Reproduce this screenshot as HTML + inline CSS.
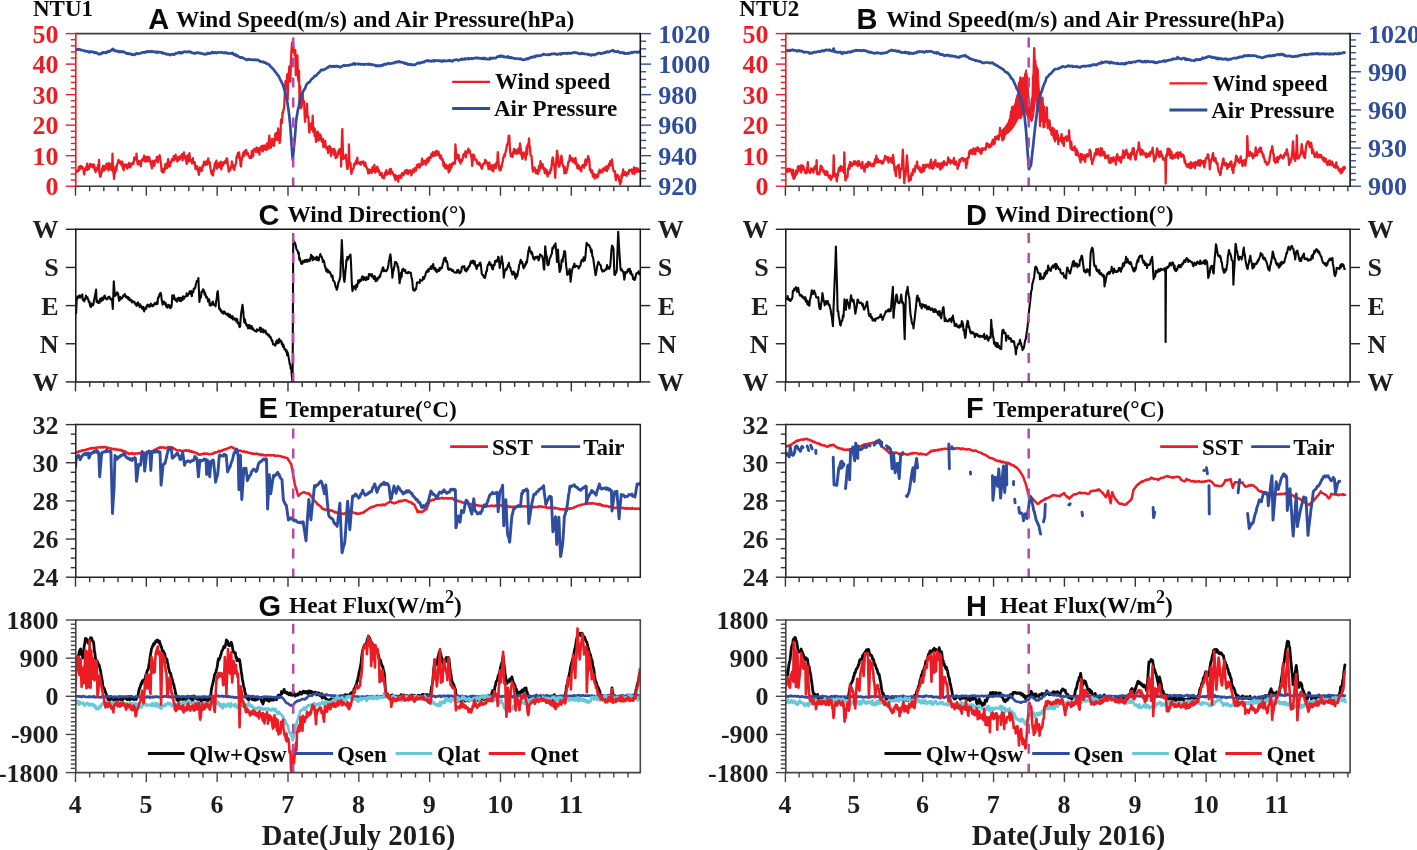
<!DOCTYPE html>
<html><head><meta charset="utf-8"><style>
html,body{margin:0;padding:0;background:#fff;width:1417px;height:850px;overflow:hidden}
svg{display:block;will-change:transform}
</style></head><body>
<svg width="1417" height="850" viewBox="0 0 1417 850">
<rect width="1417" height="850" fill="#fff"/>
<defs><clipPath id="c00"><rect x="75.8" y="33.6" width="564.5" height="152.6"/></clipPath><clipPath id="c01"><rect x="75.8" y="229.3" width="564.5" height="152.6"/></clipPath><clipPath id="c02"><rect x="75.8" y="424.6" width="564.5" height="152.6"/></clipPath><clipPath id="c03"><rect x="75.8" y="620.0" width="564.5" height="152.6"/></clipPath><clipPath id="c10"><rect x="785.8" y="33.6" width="564.3" height="152.6"/></clipPath><clipPath id="c11"><rect x="785.8" y="229.3" width="564.3" height="152.6"/></clipPath><clipPath id="c12"><rect x="785.8" y="424.6" width="564.3" height="152.6"/></clipPath><clipPath id="c13"><rect x="785.8" y="620.0" width="564.3" height="152.6"/></clipPath></defs>
<path d="M76.1,171.8L76.6,172.2L77.0,171.9L77.5,170.2L78.0,169.9L78.4,171.0L78.9,166.8L79.3,169.7L79.8,168.7L80.2,166.4L80.7,166.0L81.1,168.5L81.6,166.7L82.1,167.5L82.5,167.0L83.0,168.7L83.4,169.1L83.9,173.0L84.3,174.3L84.8,168.7L85.2,170.3L85.7,168.9L86.1,167.1L86.6,169.4L87.1,163.7L87.5,170.0L88.0,169.0L88.4,168.7L88.9,168.8L89.4,166.5L90.0,163.8L90.5,164.0L91.0,166.6L91.5,164.6L91.9,166.7L92.4,165.6L92.9,167.4L93.3,164.5L93.8,167.0L94.2,165.1L94.7,170.1L95.1,169.4L95.6,172.0L96.1,170.5L96.6,167.8L97.1,168.8L97.6,170.1L98.1,164.8L98.7,168.3L99.0,159.8L99.5,173.4L100.2,176.7L100.7,176.3L101.2,172.3L101.7,172.7L102.2,168.3L102.7,170.9L103.2,165.8L103.7,166.8L104.2,165.9L104.6,170.4L105.1,167.6L105.6,166.9L106.1,168.6L106.5,163.7L107.0,166.3L107.5,168.6L107.9,164.4L108.4,170.5L108.9,163.2L109.4,168.8L109.8,167.8L110.3,166.3L110.8,164.2L111.2,169.7L111.7,169.9L112.2,166.7L112.5,153.7L113.0,171.8L113.5,171.6L114.0,178.8L114.5,174.1L114.9,173.2L115.4,167.0L115.8,169.6L116.3,170.7L116.7,166.6L117.2,164.1L117.6,163.6L118.1,161.3L118.6,159.9L119.0,162.1L119.5,161.8L120.0,163.2L120.4,161.5L120.9,161.6L121.4,164.8L121.8,165.4L122.3,161.6L122.7,167.5L123.2,168.8L123.7,170.2L124.1,164.4L124.6,166.8L125.0,166.4L125.5,165.5L125.9,166.2L126.4,164.4L126.8,167.2L127.3,168.6L127.8,165.6L128.2,167.0L128.7,166.1L129.1,162.9L129.6,166.0L130.0,167.5L130.5,163.9L130.9,166.3L131.4,165.1L131.9,163.5L132.4,163.0L132.9,162.4L133.4,164.0L133.9,160.4L134.3,157.5L134.8,159.4L135.3,159.4L135.8,159.5L136.3,159.3L136.5,153.6L137.0,160.2L137.5,163.2L138.0,164.6L138.5,163.4L139.0,160.8L139.4,163.6L139.9,163.5L140.4,161.7L140.8,166.3L141.3,160.9L141.8,159.9L142.3,159.4L142.7,160.8L143.2,160.0L143.7,157.3L144.1,155.7L144.6,159.2L145.1,161.6L145.6,161.3L146.0,156.9L146.5,161.4L147.0,157.2L147.5,156.7L147.9,157.7L148.4,161.0L148.9,158.1L149.3,157.3L149.8,160.7L150.3,160.7L150.8,164.3L151.4,165.1L151.9,168.4L152.3,164.3L152.8,160.8L153.2,162.7L153.7,166.0L154.1,162.6L154.6,165.0L155.0,160.5L155.5,161.3L156.0,160.5L156.4,160.9L156.9,156.9L157.3,161.7L157.8,162.4L158.2,157.3L158.7,156.6L159.1,157.0L159.6,155.2L160.0,157.6L160.6,161.5L161.1,164.6L161.6,171.1L162.1,170.2L162.6,172.5L163.0,169.6L163.5,168.6L164.0,171.8L164.4,169.6L164.9,169.3L165.4,164.1L165.8,166.0L166.3,167.9L166.7,163.4L167.2,167.8L167.7,165.0L168.1,159.1L168.6,162.0L169.1,163.3L169.5,166.5L170.0,166.3L170.5,161.8L170.9,162.5L171.4,162.3L171.9,159.2L172.3,160.7L172.8,160.0L173.3,159.6L173.7,156.1L174.2,160.4L174.7,159.2L175.1,158.2L175.6,154.7L176.0,158.7L176.5,158.3L177.0,159.5L177.4,161.5L177.9,158.8L178.4,156.9L178.8,160.1L179.3,157.9L179.8,159.5L180.2,156.7L180.7,155.8L181.2,156.6L181.6,155.8L182.1,154.3L182.6,160.4L183.0,156.4L183.5,154.5L183.9,152.5L184.4,158.0L184.8,156.7L185.3,156.1L185.7,159.1L186.2,160.9L186.7,163.8L187.1,161.1L187.6,155.4L188.1,160.1L188.5,160.3L189.0,161.5L189.5,153.2L190.0,160.8L190.4,159.7L190.9,161.1L191.4,160.4L191.9,163.3L192.3,160.3L192.8,158.2L193.3,163.2L193.7,162.8L194.2,163.6L194.7,162.1L195.2,165.8L195.6,169.2L196.1,167.9L196.6,166.4L197.0,166.1L197.5,168.7L198.0,171.2L198.5,171.8L198.9,174.9L199.4,171.6L199.8,167.5L200.3,168.4L200.8,170.5L201.2,170.9L201.7,167.6L202.1,170.3L202.6,165.7L203.0,166.7L203.5,164.9L204.0,161.7L204.4,161.9L204.9,162.6L205.4,164.8L205.8,164.0L206.3,161.4L206.8,164.3L207.2,164.6L207.7,161.5L208.2,158.5L208.7,161.9L209.2,163.4L209.7,162.1L210.2,166.4L210.7,169.5L211.2,172.1L211.7,174.3L212.1,171.2L212.6,173.7L213.1,175.3L213.5,169.6L214.0,171.0L214.4,166.7L214.9,163.1L215.4,166.4L215.9,162.1L216.4,160.7L216.9,168.6L217.4,167.7L217.9,166.1L218.4,165.0L218.9,163.2L219.4,164.7L219.8,167.3L220.3,165.7L220.8,161.7L221.3,169.5L221.8,165.3L222.2,166.1L222.7,162.7L223.1,165.2L223.6,162.1L224.1,163.3L224.5,163.1L225.0,161.5L225.4,160.7L225.9,163.0L226.4,159.1L226.8,158.2L227.3,159.5L227.8,165.1L228.3,166.7L228.7,171.7L229.3,170.5L229.8,168.8L230.3,170.0L230.9,166.6L231.4,167.2L231.9,161.3L232.4,164.7L232.8,164.4L233.3,168.1L233.8,166.7L234.3,169.8L234.8,165.5L235.2,165.9L235.7,163.8L236.1,163.2L236.6,156.4L237.1,157.4L237.5,154.9L238.0,152.8L238.5,157.5L239.1,152.4L239.6,156.2L240.1,159.2L240.6,165.5L241.0,166.5L241.5,159.8L242.0,159.7L242.4,156.0L242.9,155.3L243.4,152.5L243.8,156.1L244.3,152.1L244.8,150.9L245.3,152.1L245.7,154.3L246.2,149.8L246.7,152.0L247.2,154.2L247.7,152.9L248.2,154.7L248.7,156.4L249.2,156.6L249.8,158.2L250.3,156.2L250.8,156.6L251.3,157.9L251.8,150.8L252.3,154.9L252.8,156.7L253.3,155.1L253.7,149.6L254.2,149.0L254.6,149.0L255.1,149.0L255.6,149.5L256.1,151.9L256.5,147.6L257.0,151.3L257.5,148.0L258.0,152.0L258.5,148.9L258.9,150.9L259.5,154.5L260.0,147.8L260.5,149.4L260.9,149.9L261.4,146.2L261.9,150.4L262.3,145.8L262.8,151.4L263.3,148.6L263.7,148.6L264.2,145.3L264.6,145.7L265.1,149.7L265.6,146.4L266.0,149.2L266.5,149.9L267.0,143.4L267.4,145.9L267.9,146.8L268.4,148.7L268.8,141.4L269.3,135.6L269.8,142.7L270.2,142.1L270.7,147.9L271.2,146.2L271.6,145.4L272.1,138.8L272.5,139.6L273.0,143.0L273.5,139.7L273.9,145.9L274.4,142.4L274.9,138.5L275.3,134.0L275.8,139.7L276.3,132.9L276.7,137.9L277.2,140.1L277.7,139.5L278.1,128.5L278.6,136.8L279.1,131.6L279.6,143.1L280.1,140.2L280.5,135.5L281.0,119.7L281.5,121.5L282.0,123.0L282.5,112.7L283.0,113.2L283.5,109.3L284.0,109.2L284.5,100.7L285.1,85.9L285.6,80.9L286.1,86.1L286.7,88.7L287.2,74.4L287.7,99.5L288.3,73.5L288.8,77.6L289.3,66.5L289.8,71.5L290.4,81.6L290.9,61.5L291.4,52.2L292.0,42.6L292.5,51.8L293.0,41.2L293.6,49.1L294.1,50.3L294.7,55.2L295.3,50.1L295.8,75.3L296.4,62.7L296.9,71.7L297.4,55.3L298.0,77.1L298.5,81.3L299.0,70.7L299.6,103.9L300.1,86.1L300.6,108.3L301.1,96.9L301.6,107.5L302.1,99.8L302.6,92.3L303.1,102.8L303.6,103.2L304.2,101.4L304.6,114.9L305.1,121.8L305.6,109.6L306.1,113.4L306.6,116.5L307.0,103.6L307.5,117.3L308.0,116.0L308.5,117.7L309.0,129.9L309.4,132.5L309.9,126.4L310.4,126.8L310.8,127.1L311.3,123.2L311.8,129.6L312.2,129.0L312.7,115.7L313.2,131.9L313.6,132.0L314.1,128.0L314.6,135.9L315.0,129.1L315.5,134.9L316.0,141.9L316.4,132.8L316.9,135.8L317.3,139.8L317.8,131.6L318.3,140.6L318.7,137.8L319.2,139.7L319.7,134.2L320.1,137.7L320.6,134.9L321.1,137.5L321.5,140.5L322.0,141.7L322.5,140.7L322.9,138.8L323.4,147.2L323.9,147.2L324.3,144.5L324.8,146.3L325.2,140.8L325.7,146.7L326.2,146.4L326.6,149.1L327.1,148.7L327.6,147.1L328.1,153.0L328.5,151.4L329.0,148.3L329.5,145.9L329.9,148.7L330.4,147.0L330.9,156.0L331.3,150.3L331.8,149.7L332.3,149.3L332.8,150.7L333.2,149.3L333.7,154.5L334.2,149.0L334.7,153.8L335.2,150.9L335.6,158.1L336.1,155.3L336.6,156.4L337.0,157.2L337.5,155.8L338.0,152.1L338.4,153.9L338.9,149.9L339.3,153.7L339.8,150.4L340.2,149.0L340.8,150.9L341.1,166.6L341.7,145.3L342.3,129.1L342.8,147.8L343.3,159.0L343.8,157.5L344.3,156.5L344.8,157.0L345.3,158.4L345.9,154.7L346.4,160.4L346.9,166.3L347.4,169.1L348.1,166.7L348.7,161.4L348.9,144.4L349.4,160.8L350.0,164.9L350.5,163.0L351.0,170.9L351.5,173.9L352.0,170.7L352.5,170.0L353.0,168.7L353.5,168.7L354.0,164.8L354.6,163.4L355.0,163.2L355.5,164.4L355.9,161.4L356.4,160.1L356.8,162.4L357.3,157.7L357.7,163.6L358.2,162.5L358.7,163.1L359.1,162.4L359.6,162.6L360.1,164.2L360.6,162.1L361.0,164.6L361.5,162.0L362.0,162.7L362.5,161.7L362.9,162.5L363.4,161.5L363.9,164.0L364.4,165.7L364.9,164.7L365.3,162.7L365.8,165.7L366.3,167.3L366.8,167.7L367.4,169.5L367.9,171.5L368.4,173.4L368.9,173.1L369.3,169.5L369.8,171.3L370.2,171.1L370.7,172.5L371.2,170.0L371.6,172.9L372.1,172.1L372.5,167.1L373.0,170.8L373.4,170.8L373.9,168.2L374.4,164.9L374.8,169.3L375.3,172.7L375.8,171.3L376.2,170.4L376.7,169.4L377.2,166.6L377.6,167.6L378.1,171.7L378.5,169.7L379.0,170.2L379.5,172.3L379.9,175.1L380.4,174.9L380.8,174.7L381.3,173.2L381.7,173.0L382.2,177.5L382.7,176.3L383.1,177.4L383.6,177.4L384.0,178.4L384.5,175.5L385.0,173.3L385.4,172.1L385.9,175.0L386.4,170.1L386.8,173.1L387.3,173.6L387.8,174.2L388.2,172.4L388.7,172.3L389.1,172.6L389.6,169.4L390.0,171.5L390.5,174.2L390.9,169.0L391.4,172.7L391.9,171.5L392.3,171.7L392.8,173.3L393.2,174.0L393.7,175.3L394.1,175.7L394.6,177.6L395.0,174.8L395.5,180.1L396.0,175.7L396.4,177.9L396.9,176.1L397.4,177.2L397.9,179.3L398.3,181.7L398.8,175.6L399.3,175.7L399.7,177.6L400.2,177.5L400.7,175.5L401.2,178.0L401.6,174.0L402.1,173.0L402.6,174.9L403.0,174.2L403.5,175.4L404.0,172.9L404.4,173.6L404.9,170.7L405.4,171.8L405.8,172.2L406.3,173.3L406.7,170.0L407.2,171.6L407.7,170.6L408.1,174.0L408.6,171.6L409.1,172.0L409.5,170.8L410.0,170.1L410.5,171.6L410.9,173.1L411.4,175.3L411.9,172.2L412.3,172.9L412.8,169.5L413.3,172.0L413.7,172.2L414.2,171.7L414.7,168.2L415.1,168.5L415.6,170.2L416.0,170.5L416.5,167.8L417.0,164.8L417.4,167.2L417.9,167.4L418.4,165.5L418.8,163.9L419.3,167.6L419.8,167.5L420.2,165.3L420.7,165.5L421.2,164.8L421.6,162.0L422.1,158.6L422.6,164.7L423.0,163.7L423.5,161.5L424.0,162.3L424.5,160.8L424.9,162.0L425.4,163.5L425.9,164.7L426.3,162.9L426.8,159.1L427.3,160.7L427.8,162.4L428.2,158.1L428.7,159.8L429.1,160.6L429.6,157.0L430.1,157.9L430.5,157.9L431.0,157.6L431.4,154.0L431.9,154.3L432.3,154.0L432.8,152.1L433.3,156.2L433.7,153.6L434.2,152.9L434.7,155.7L435.1,152.0L435.6,155.4L436.0,151.6L436.5,150.8L437.0,152.1L437.4,151.9L438.0,155.2L438.5,151.6L439.0,154.5L439.5,155.0L440.0,158.0L440.5,157.5L441.0,155.4L441.5,159.6L442.1,158.8L442.6,159.0L443.1,162.1L443.6,166.0L444.1,162.4L444.5,166.2L445.0,167.5L445.4,168.2L445.9,164.7L446.4,168.7L446.8,167.1L447.3,165.9L447.8,166.1L448.2,169.0L448.7,172.4L449.2,170.1L449.6,164.3L450.1,170.5L450.6,166.6L451.0,164.7L451.5,167.7L452.0,163.9L452.4,163.5L452.9,162.6L453.4,163.8L453.8,164.0L454.4,162.5L455.0,163.6L455.4,144.4L456.1,154.0L456.9,158.5L457.3,154.9L457.8,154.9L458.3,154.9L458.7,155.1L459.2,161.1L459.6,161.4L460.1,159.5L460.5,163.7L461.0,159.5L461.5,161.0L462.0,161.1L462.5,159.3L463.0,157.9L463.5,154.3L464.1,154.0L464.5,155.6L465.0,153.9L465.5,151.1L465.9,157.4L466.4,152.2L466.9,152.2L467.4,152.0L467.8,153.0L468.3,148.7L468.8,150.1L469.2,151.5L469.7,150.5L470.2,152.8L470.7,154.3L471.2,156.5L471.7,158.3L472.2,165.8L472.7,161.0L473.2,154.5L473.7,157.1L474.2,155.3L474.6,158.4L475.1,158.8L475.6,160.4L476.0,160.3L476.5,159.7L476.9,161.4L477.4,163.8L477.9,163.2L478.4,163.2L478.9,164.6L479.4,162.5L479.9,165.0L480.4,164.3L480.9,166.0L481.4,167.9L481.9,168.8L482.4,166.0L482.8,166.0L483.3,163.9L483.7,163.8L484.2,163.0L484.7,163.5L485.1,160.0L485.6,160.4L486.1,160.7L486.5,163.4L487.0,163.8L487.5,162.8L488.0,165.1L488.5,169.1L489.0,166.1L489.5,162.6L490.0,168.6L490.4,165.7L490.9,166.6L491.4,169.8L491.9,165.4L492.3,166.7L492.8,170.3L493.3,171.4L493.8,164.9L494.2,168.7L494.7,167.2L495.2,167.1L495.6,163.8L496.1,167.9L496.5,162.3L497.0,163.3L497.4,160.4L497.8,152.1L498.7,164.4L499.2,168.5L499.7,170.2L500.3,170.4L500.8,169.4L501.3,165.6L501.8,166.7L502.3,162.9L502.8,161.3L503.3,157.5L503.8,157.3L504.3,154.4L504.7,156.2L505.2,153.7L505.7,151.5L506.1,150.7L506.6,147.2L507.1,144.8L507.6,143.6L508.2,142.3L508.7,135.7L509.3,135.8L509.8,146.8L510.3,152.6L510.8,156.4L511.2,155.7L511.7,156.2L512.1,153.6L512.6,156.8L513.1,152.1L513.5,152.6L514.0,148.8L514.5,152.6L515.0,150.2L515.4,153.7L515.9,149.9L516.4,152.3L516.9,153.7L517.4,152.0L517.9,152.3L518.4,148.6L518.9,149.3L519.4,153.4L520.0,143.5L520.5,148.1L520.9,148.5L521.4,155.5L521.9,153.1L522.3,158.9L522.8,156.0L523.3,152.9L523.7,152.4L524.2,155.5L524.6,155.6L525.1,156.5L525.6,159.7L526.1,154.3L526.6,147.2L527.1,154.7L527.6,144.8L528.0,144.2L528.5,145.1L529.0,138.5L529.5,146.0L530.0,147.6L530.5,154.6L531.0,155.9L531.5,156.0L532.0,162.2L532.5,168.8L533.0,171.5L533.5,170.1L534.0,168.3L534.5,167.4L535.0,168.4L535.5,171.2L535.9,173.1L536.4,170.3L536.9,170.2L537.4,173.4L537.9,173.8L538.4,172.5L539.0,165.8L539.5,170.7L540.0,167.2L540.5,161.1L541.0,166.2L541.5,163.8L542.0,167.9L542.6,164.2L543.1,168.6L543.6,168.9L544.1,167.9L544.6,172.4L545.1,173.4L545.6,169.2L546.2,172.0L546.7,170.0L547.2,174.5L547.7,176.4L548.1,174.5L548.6,172.9L549.1,171.9L549.6,172.0L550.1,173.3L550.5,169.3L551.0,170.2L551.5,167.3L552.1,160.4L552.7,157.5L553.2,159.0L553.7,164.9L554.2,165.5L554.7,169.9L555.2,177.8L555.7,166.3L556.1,164.1L556.6,156.5L557.1,150.6L557.5,154.1L558.0,156.8L558.5,164.6L558.9,166.7L559.4,166.3L559.9,161.8L560.4,163.4L560.9,158.3L561.4,155.7L561.9,158.9L562.4,164.5L562.9,165.1L563.4,166.7L563.9,167.8L564.4,173.3L564.8,166.9L565.3,171.0L565.8,171.0L566.3,172.9L566.8,170.0L567.4,168.2L567.9,165.0L568.4,161.7L568.9,162.0L569.4,160.4L569.9,155.5L570.3,160.0L570.8,160.4L571.3,160.1L571.7,158.0L572.2,160.9L572.7,158.9L573.1,161.8L573.6,160.6L574.0,159.3L574.5,158.8L575.0,163.6L575.5,157.9L575.9,161.9L576.4,163.4L576.9,165.4L577.4,168.2L577.8,164.6L578.3,168.6L578.8,165.4L579.3,168.5L579.7,167.8L580.2,169.8L580.7,167.9L581.2,171.3L581.6,167.5L582.1,166.3L582.6,165.1L583.1,166.3L583.6,167.3L584.1,167.7L584.6,164.1L585.1,161.5L585.6,159.5L586.1,165.2L586.6,160.4L587.1,162.4L587.6,159.4L588.1,156.1L588.6,158.1L589.0,158.8L589.5,161.8L589.9,170.0L590.4,169.1L590.9,170.9L591.4,172.6L591.9,171.3L592.3,170.5L592.8,176.5L593.3,173.7L593.8,175.5L594.3,174.2L594.7,178.7L595.2,174.8L595.7,177.1L596.2,174.6L596.7,176.3L597.2,177.6L597.7,174.7L598.2,176.5L598.7,171.6L599.2,171.9L599.7,169.6L600.2,172.7L600.7,170.6L601.2,171.9L601.7,171.4L602.1,172.5L602.6,169.2L603.1,168.6L603.6,168.4L604.1,170.7L604.6,168.9L605.1,168.9L605.5,166.8L606.0,169.8L606.5,166.3L606.9,171.0L607.4,168.0L607.9,166.6L608.3,168.6L608.8,163.9L609.2,166.3L609.7,165.3L610.2,161.1L610.6,162.1L611.1,165.0L611.6,163.6L612.0,159.5L612.5,165.2L613.0,168.6L613.5,170.4L614.0,171.4L614.5,171.5L615.0,171.2L615.4,176.9L615.9,180.2L616.3,175.1L616.8,175.8L617.3,174.6L617.7,177.4L618.2,175.9L618.7,176.5L619.1,180.3L619.6,181.7L620.1,184.3L620.6,181.7L621.1,182.4L621.6,174.5L622.1,177.4L622.6,174.5L623.1,169.4L623.6,174.9L624.1,174.9L624.6,174.6L625.1,172.0L625.6,175.0L626.1,174.0L626.6,175.7L627.1,172.7L627.6,173.5L628.1,172.5L628.6,173.9L629.1,170.1L629.6,169.9L630.1,171.1L630.6,170.5L631.0,170.7L631.5,169.4L632.0,170.6L632.5,173.6L633.0,172.0L633.5,170.3L634.0,167.5L634.5,174.0L635.0,169.2L635.5,171.8L636.0,168.1L636.4,172.0L636.9,170.8L637.3,170.8L637.8,168.4L638.3,169.4L638.7,171.7L639.2,170.6" fill="none" stroke="#ec1c24" stroke-width="2.30" stroke-linejoin="round" stroke-linecap="round" clip-path="url(#c00)"/>
<path d="M76.2,49.4L76.9,49.8L77.6,49.1L78.4,49.7L79.1,49.2L79.8,49.4L80.5,50.1L81.2,50.0L81.9,50.0L82.7,50.3L83.4,50.5L84.1,50.7L84.8,51.1L85.5,50.9L86.3,51.3L87.0,51.4L87.7,51.4L88.5,51.5L89.2,52.4L89.9,51.8L90.7,51.3L91.4,52.0L92.1,51.8L92.9,51.9L93.6,52.1L94.4,52.8L95.1,52.4L95.8,52.6L96.6,52.9L97.3,53.1L98.0,53.9L98.8,53.9L99.5,54.3L100.2,53.6L100.9,53.8L101.6,53.7L102.3,52.5L103.0,52.4L103.7,52.4L104.4,52.7L105.1,52.8L105.9,52.2L106.6,52.9L107.3,51.9L108.0,51.1L108.7,51.7L109.4,51.7L110.2,50.9L110.9,50.4L111.6,50.5L112.7,48.8L113.8,49.8L114.7,51.0L115.6,50.6L116.6,51.2L117.3,51.1L118.0,51.0L118.7,52.0L119.4,51.4L120.1,51.9L120.8,51.4L121.6,52.0L122.3,52.1L123.0,51.4L123.7,52.0L124.4,52.3L125.1,52.5L125.8,53.1L126.5,53.4L127.3,53.6L128.0,53.1L128.7,53.9L129.4,54.0L130.1,53.7L130.8,54.1L131.5,54.4L132.2,54.7L132.9,54.1L133.7,54.9L134.4,54.9L135.1,54.5L135.8,53.7L136.5,53.6L137.2,53.3L138.0,53.8L138.7,53.6L139.4,53.5L140.1,53.4L140.8,53.2L141.5,52.8L142.3,52.3L143.0,52.5L143.7,52.3L144.4,52.6L145.1,51.8L145.8,52.3L146.6,52.0L147.3,51.3L148.0,51.6L148.7,51.8L149.4,51.3L150.1,51.7L150.9,51.9L151.6,51.2L152.3,51.5L153.0,51.8L153.7,51.7L154.4,51.9L155.2,52.1L155.9,51.6L156.6,52.1L157.3,52.7L158.0,51.9L158.7,52.1L159.5,52.1L160.2,52.4L160.9,52.2L161.6,52.7L162.3,53.3L163.0,52.6L163.8,53.5L164.5,53.4L165.2,53.4L165.9,54.0L166.6,54.4L167.3,54.2L168.1,54.1L168.8,54.5L169.5,54.6L170.2,55.1L170.9,54.4L171.6,54.4L172.3,54.5L173.1,54.2L173.8,54.6L174.5,54.4L175.2,53.9L175.9,53.2L176.6,53.3L177.3,53.1L178.0,52.9L178.7,52.3L179.5,53.0L180.2,52.2L180.9,53.1L181.6,52.4L182.3,53.1L183.0,52.5L183.7,51.7L184.4,51.5L185.1,51.8L185.9,51.9L186.6,51.8L187.3,52.2L188.0,51.8L188.7,51.6L189.4,51.9L190.1,52.1L190.8,51.9L191.6,52.4L192.3,53.0L193.0,53.0L193.7,53.3L194.4,52.9L195.1,53.6L195.8,53.0L196.5,52.9L197.2,52.5L198.0,53.0L198.7,52.9L199.4,53.1L200.1,53.2L200.8,53.2L201.5,53.6L202.2,53.5L202.9,53.8L203.7,54.1L204.4,54.3L205.1,53.8L205.8,54.1L206.5,54.2L207.2,53.8L207.9,53.0L208.6,53.4L209.3,53.6L210.1,53.1L210.8,53.1L211.5,53.1L212.2,52.2L212.9,52.2L213.6,52.8L214.3,52.9L215.0,52.3L215.7,52.5L216.5,53.1L217.2,52.4L217.9,52.5L218.6,52.3L219.3,52.5L220.0,52.5L220.7,52.5L221.4,52.2L222.2,52.5L222.9,52.9L223.7,52.8L224.5,52.7L225.3,53.2L226.0,52.4L226.8,52.7L227.6,53.5L228.4,53.4L229.1,53.4L229.8,53.5L230.5,53.4L231.2,53.1L231.9,53.6L232.7,52.9L233.4,54.2L234.1,54.9L234.8,54.9L235.5,54.4L236.2,55.8L237.0,55.4L237.7,55.7L238.4,56.6L239.1,57.0L239.8,57.4L240.5,57.6L241.3,57.4L242.0,57.3L242.7,57.9L243.4,58.1L244.1,58.4L244.8,58.9L245.6,59.2L246.3,59.8L247.0,59.7L247.7,59.8L248.4,59.2L249.2,59.4L249.9,59.6L250.6,59.7L251.3,59.6L252.1,59.6L252.8,59.7L253.5,60.0L254.2,60.0L255.0,59.6L255.7,59.7L256.4,60.0L257.1,60.1L257.9,59.7L258.6,60.3L259.4,60.8L260.2,61.7L261.0,61.5L261.7,61.9L262.5,61.9L263.3,61.7L264.1,62.4L264.8,62.6L265.6,62.7L266.4,63.6L267.2,63.9L268.0,63.9L268.7,64.7L269.5,64.9L270.3,66.3L271.0,67.0L271.8,67.6L272.6,68.5L273.4,69.2L274.1,70.3L274.9,71.2L275.6,72.3L276.4,73.2L277.2,74.6L277.9,75.1L278.7,76.3L279.4,77.7L280.1,79.2L280.8,80.8L281.5,81.9L282.3,83.6L283.0,84.9L283.8,87.8L284.7,90.6L285.6,93.9L286.5,97.9L287.4,102.4L288.3,108.6L289.1,114.3L290.4,127.2L291.4,142.6L292.7,160.0L293.9,147.7L295.0,136.2L296.2,120.1L297.1,114.8L298.0,109.6L298.9,105.8L299.7,101.3L300.6,97.2L301.4,95.5L302.1,94.4L302.9,91.8L303.6,90.6L304.4,89.4L305.2,88.2L305.9,85.8L306.6,84.5L307.3,83.5L308.0,82.8L308.7,82.4L309.4,82.3L310.2,81.0L310.9,80.0L311.6,79.1L312.3,78.8L313.0,77.8L313.7,77.4L314.5,76.0L315.2,75.8L315.9,75.9L316.7,74.9L317.4,73.9L318.1,73.3L318.9,72.9L319.6,71.8L320.3,71.3L321.1,69.9L321.8,70.0L322.5,69.8L323.3,70.1L324.0,69.6L324.8,69.3L325.5,69.0L326.2,68.5L327.0,67.8L327.7,67.3L328.4,67.4L329.2,66.4L329.9,66.0L330.6,66.1L331.4,66.8L332.1,66.3L332.8,66.2L333.5,66.6L334.2,66.1L335.0,66.7L335.7,66.2L336.4,65.9L337.1,66.6L337.8,66.2L338.6,66.4L339.3,66.8L340.0,67.3L340.8,66.9L341.6,66.6L342.4,66.1L343.1,65.7L343.9,65.2L344.7,65.7L345.5,65.6L346.3,65.4L347.0,65.2L347.7,65.4L348.5,65.3L349.2,65.4L349.9,64.9L350.6,64.7L351.3,64.5L352.1,64.7L352.8,63.8L353.5,63.8L354.2,63.3L354.9,64.5L355.7,64.2L356.4,63.8L357.1,63.9L357.8,64.0L358.6,64.3L359.3,63.9L360.0,64.0L360.7,64.4L361.5,64.2L362.2,64.5L363.0,64.1L363.7,64.7L364.5,64.3L365.2,64.4L365.9,64.3L366.7,64.0L367.4,64.2L368.1,64.4L368.8,63.9L369.5,64.7L370.2,64.2L371.0,64.4L371.7,64.6L372.4,65.0L373.1,64.8L373.8,64.9L374.5,64.8L375.3,65.7L376.0,66.1L376.7,65.4L377.4,66.0L378.1,65.5L378.8,66.1L379.6,65.9L380.3,65.5L381.0,65.8L381.7,65.0L382.4,65.3L383.1,65.3L383.8,64.5L384.5,64.0L385.2,64.5L385.9,64.0L386.6,64.3L387.4,63.6L388.1,63.2L388.8,63.5L389.5,63.8L390.2,63.7L390.9,63.5L391.6,63.2L392.3,63.2L393.0,63.1L393.7,63.2L394.4,62.6L395.1,62.1L395.9,62.1L396.6,62.4L397.3,61.9L398.0,61.5L398.7,62.0L399.4,61.4L400.1,62.0L400.8,62.1L401.5,62.3L402.2,62.3L403.0,62.5L403.7,62.9L404.4,63.4L405.1,63.0L405.8,63.7L406.5,63.3L407.2,63.9L407.9,64.6L408.7,64.4L409.4,64.1L410.1,64.4L410.8,64.7L411.5,64.4L412.2,65.0L412.9,64.6L413.6,64.8L414.4,64.8L415.1,64.9L415.8,64.2L416.5,63.8L417.2,63.3L418.0,63.0L418.7,62.6L419.4,63.4L420.1,63.2L420.9,62.7L421.6,62.6L422.3,62.2L423.0,61.9L423.7,62.3L424.5,61.7L425.2,61.2L425.9,60.8L426.6,61.1L427.3,60.4L428.0,60.8L428.7,60.7L429.4,61.2L430.1,61.0L430.8,60.8L431.5,61.3L432.2,60.7L432.9,60.6L433.6,61.4L434.3,60.3L435.0,60.5L435.7,60.8L436.4,60.6L437.1,60.7L437.8,60.6L438.5,60.5L439.2,60.6L439.9,60.9L440.6,61.1L441.3,60.7L442.0,61.5L442.7,60.9L443.4,61.1L444.1,60.4L444.8,61.1L445.5,61.0L446.2,60.9L446.9,60.7L447.6,60.9L448.3,60.7L449.0,60.7L449.7,60.2L450.4,61.0L451.1,60.7L451.8,60.9L452.5,61.4L453.2,60.7L453.9,60.1L454.7,60.0L455.4,60.0L456.1,59.5L456.8,59.7L457.5,59.8L458.2,60.5L458.9,60.3L459.6,60.0L460.4,59.7L461.1,59.1L461.8,58.9L462.5,59.6L463.2,59.0L463.9,59.0L464.6,59.3L465.3,58.4L466.0,59.1L466.8,59.0L467.5,58.9L468.2,58.2L468.9,59.0L469.6,58.6L470.3,58.5L471.0,58.6L471.7,58.3L472.4,58.9L473.2,58.5L473.9,58.1L474.6,58.2L475.3,58.1L476.0,58.1L476.7,57.7L477.4,58.1L478.1,58.3L478.8,58.2L479.5,58.1L480.2,58.5L480.9,58.1L481.7,58.8L482.4,58.5L483.1,58.0L483.8,58.8L484.5,58.2L485.2,58.2L485.9,59.1L486.6,58.8L487.3,59.0L488.0,59.2L488.7,58.8L489.5,59.3L490.2,57.8L490.9,58.6L491.6,58.4L492.3,58.5L493.0,57.9L493.8,58.2L494.5,58.1L495.2,58.1L495.9,58.1L496.6,57.4L497.3,56.7L498.1,56.6L498.8,56.4L499.5,56.7L500.2,55.8L500.9,56.4L501.6,56.2L502.4,55.8L503.1,56.9L503.8,56.6L504.5,56.6L505.2,57.2L505.9,57.1L506.6,57.3L507.3,56.9L508.0,56.5L508.7,57.6L509.4,57.4L510.1,57.4L510.8,58.0L511.5,57.4L512.2,57.9L512.9,58.0L513.6,58.5L514.4,58.4L515.1,58.6L515.8,58.5L516.5,58.5L517.2,58.7L517.9,58.8L518.6,58.6L519.3,59.0L520.0,59.1L520.7,58.7L521.4,59.2L522.1,59.6L522.8,59.6L523.5,59.9L524.2,59.8L524.9,59.6L525.6,58.9L526.3,59.1L527.1,58.5L527.8,59.2L528.5,58.6L529.2,57.8L529.9,58.1L530.6,57.8L531.3,57.0L532.0,57.3L532.7,57.2L533.4,56.6L534.1,57.0L534.8,57.1L535.5,55.8L536.2,56.4L536.9,55.7L537.6,55.7L538.3,56.0L539.1,55.7L539.8,55.8L540.5,55.6L541.2,55.4L541.9,55.0L542.6,54.7L543.3,54.1L544.0,54.2L544.7,54.5L545.4,54.5L546.1,54.7L546.8,54.9L547.6,54.7L548.3,54.7L549.0,54.4L549.7,54.9L550.4,54.6L551.1,53.9L551.8,53.9L552.5,53.9L553.3,53.8L554.0,53.9L554.7,53.8L555.4,53.6L556.1,54.3L556.8,54.4L557.5,54.2L558.2,54.4L558.9,53.8L559.7,53.7L560.4,53.8L561.1,54.4L561.8,53.3L562.5,53.2L563.2,53.4L563.9,53.3L564.6,53.5L565.4,53.3L566.1,53.2L566.8,53.0L567.5,53.7L568.2,53.2L568.9,53.1L569.6,53.3L570.3,53.3L571.0,53.4L571.8,52.9L572.5,53.0L573.2,52.9L573.9,52.5L574.6,52.4L575.3,52.5L576.0,52.9L576.7,52.9L577.5,52.8L578.2,53.5L578.9,53.4L579.6,54.0L580.3,53.7L581.0,53.6L581.7,53.1L582.4,53.8L583.1,53.6L583.9,53.5L584.6,54.1L585.3,54.0L586.0,54.0L586.7,54.0L587.4,54.3L588.1,54.4L588.8,54.9L589.6,54.5L590.3,54.6L591.0,55.5L591.7,54.9L592.4,55.0L593.1,54.6L593.8,54.7L594.5,55.1L595.2,54.3L595.9,54.3L596.6,53.9L597.3,53.9L598.0,53.1L598.8,53.0L599.5,53.0L600.2,53.4L600.9,53.8L601.6,53.5L602.3,53.1L603.0,53.1L603.7,53.1L604.4,52.4L605.1,52.6L605.8,52.7L606.5,51.7L607.2,51.7L607.9,52.0L608.6,52.1L609.3,52.0L610.0,51.3L610.8,51.0L611.5,50.9L612.2,50.7L612.9,50.2L613.6,51.1L614.3,51.2L615.0,51.6L615.8,51.7L616.5,51.8L617.2,51.8L617.9,51.1L618.6,51.7L619.4,52.4L620.1,52.8L620.8,53.0L621.5,52.4L622.3,52.7L623.0,52.7L623.7,52.5L624.4,53.7L625.1,53.5L625.9,53.4L626.6,53.4L627.3,53.7L628.1,53.3L628.8,52.9L629.5,53.3L630.3,52.9L631.0,52.9L631.7,52.2L632.5,52.8L633.2,52.1L633.9,52.2L634.7,52.2L635.4,52.2L636.1,51.9L636.8,52.0L637.6,52.5L638.3,52.3L639.0,52.0L639.8,51.5L640.5,52.1" fill="none" stroke="#2f4d9f" stroke-width="2.70" stroke-linejoin="round" stroke-linecap="round" clip-path="url(#c00)"/>
<line x1="293.2" y1="37.4" x2="293.2" y2="186.2" stroke="#b44ba8" stroke-width="2.5" stroke-dasharray="10 10"/>
<line x1="75.80" y1="33.60" x2="640.30" y2="33.60" stroke="#3a3a3a" stroke-width="1.60"/>
<line x1="75.80" y1="186.20" x2="640.30" y2="186.20" stroke="#3a3a3a" stroke-width="1.60"/>
<line x1="75.80" y1="32.85" x2="75.80" y2="186.95" stroke="#ec1c24" stroke-width="1.60"/>
<line x1="640.30" y1="32.85" x2="640.30" y2="186.95" stroke="#111" stroke-width="1.60"/>
<line x1="75.80" y1="33.60" x2="65.80" y2="33.60" stroke="#ec1c24" stroke-width="1.40"/>
<line x1="75.80" y1="39.70" x2="70.80" y2="39.70" stroke="#ec1c24" stroke-width="1.40"/>
<line x1="75.80" y1="45.81" x2="70.80" y2="45.81" stroke="#ec1c24" stroke-width="1.40"/>
<line x1="75.80" y1="51.91" x2="70.80" y2="51.91" stroke="#ec1c24" stroke-width="1.40"/>
<line x1="75.80" y1="58.02" x2="70.80" y2="58.02" stroke="#ec1c24" stroke-width="1.40"/>
<line x1="75.80" y1="64.12" x2="65.80" y2="64.12" stroke="#ec1c24" stroke-width="1.40"/>
<line x1="75.80" y1="70.22" x2="70.80" y2="70.22" stroke="#ec1c24" stroke-width="1.40"/>
<line x1="75.80" y1="76.33" x2="70.80" y2="76.33" stroke="#ec1c24" stroke-width="1.40"/>
<line x1="75.80" y1="82.43" x2="70.80" y2="82.43" stroke="#ec1c24" stroke-width="1.40"/>
<line x1="75.80" y1="88.54" x2="70.80" y2="88.54" stroke="#ec1c24" stroke-width="1.40"/>
<line x1="75.80" y1="94.64" x2="65.80" y2="94.64" stroke="#ec1c24" stroke-width="1.40"/>
<line x1="75.80" y1="100.74" x2="70.80" y2="100.74" stroke="#ec1c24" stroke-width="1.40"/>
<line x1="75.80" y1="106.85" x2="70.80" y2="106.85" stroke="#ec1c24" stroke-width="1.40"/>
<line x1="75.80" y1="112.95" x2="70.80" y2="112.95" stroke="#ec1c24" stroke-width="1.40"/>
<line x1="75.80" y1="119.06" x2="70.80" y2="119.06" stroke="#ec1c24" stroke-width="1.40"/>
<line x1="75.80" y1="125.16" x2="65.80" y2="125.16" stroke="#ec1c24" stroke-width="1.40"/>
<line x1="75.80" y1="131.26" x2="70.80" y2="131.26" stroke="#ec1c24" stroke-width="1.40"/>
<line x1="75.80" y1="137.37" x2="70.80" y2="137.37" stroke="#ec1c24" stroke-width="1.40"/>
<line x1="75.80" y1="143.47" x2="70.80" y2="143.47" stroke="#ec1c24" stroke-width="1.40"/>
<line x1="75.80" y1="149.58" x2="70.80" y2="149.58" stroke="#ec1c24" stroke-width="1.40"/>
<line x1="75.80" y1="155.68" x2="65.80" y2="155.68" stroke="#ec1c24" stroke-width="1.40"/>
<line x1="75.80" y1="161.78" x2="70.80" y2="161.78" stroke="#ec1c24" stroke-width="1.40"/>
<line x1="75.80" y1="167.89" x2="70.80" y2="167.89" stroke="#ec1c24" stroke-width="1.40"/>
<line x1="75.80" y1="173.99" x2="70.80" y2="173.99" stroke="#ec1c24" stroke-width="1.40"/>
<line x1="75.80" y1="180.10" x2="70.80" y2="180.10" stroke="#ec1c24" stroke-width="1.40"/>
<line x1="75.80" y1="186.20" x2="65.80" y2="186.20" stroke="#ec1c24" stroke-width="1.40"/>
<line x1="641.10" y1="33.60" x2="651.10" y2="33.60" stroke="#2f4d9f" stroke-width="1.40"/>
<line x1="641.10" y1="41.23" x2="646.10" y2="41.23" stroke="#2f4d9f" stroke-width="1.40"/>
<line x1="641.10" y1="48.86" x2="646.10" y2="48.86" stroke="#2f4d9f" stroke-width="1.40"/>
<line x1="641.10" y1="56.49" x2="646.10" y2="56.49" stroke="#2f4d9f" stroke-width="1.40"/>
<line x1="641.10" y1="64.12" x2="651.10" y2="64.12" stroke="#2f4d9f" stroke-width="1.40"/>
<line x1="641.10" y1="71.75" x2="646.10" y2="71.75" stroke="#2f4d9f" stroke-width="1.40"/>
<line x1="641.10" y1="79.38" x2="646.10" y2="79.38" stroke="#2f4d9f" stroke-width="1.40"/>
<line x1="641.10" y1="87.01" x2="646.10" y2="87.01" stroke="#2f4d9f" stroke-width="1.40"/>
<line x1="641.10" y1="94.64" x2="651.10" y2="94.64" stroke="#2f4d9f" stroke-width="1.40"/>
<line x1="641.10" y1="102.27" x2="646.10" y2="102.27" stroke="#2f4d9f" stroke-width="1.40"/>
<line x1="641.10" y1="109.90" x2="646.10" y2="109.90" stroke="#2f4d9f" stroke-width="1.40"/>
<line x1="641.10" y1="117.53" x2="646.10" y2="117.53" stroke="#2f4d9f" stroke-width="1.40"/>
<line x1="641.10" y1="125.16" x2="651.10" y2="125.16" stroke="#2f4d9f" stroke-width="1.40"/>
<line x1="641.10" y1="132.79" x2="646.10" y2="132.79" stroke="#2f4d9f" stroke-width="1.40"/>
<line x1="641.10" y1="140.42" x2="646.10" y2="140.42" stroke="#2f4d9f" stroke-width="1.40"/>
<line x1="641.10" y1="148.05" x2="646.10" y2="148.05" stroke="#2f4d9f" stroke-width="1.40"/>
<line x1="641.10" y1="155.68" x2="651.10" y2="155.68" stroke="#2f4d9f" stroke-width="1.40"/>
<line x1="641.10" y1="163.31" x2="646.10" y2="163.31" stroke="#2f4d9f" stroke-width="1.40"/>
<line x1="641.10" y1="170.94" x2="646.10" y2="170.94" stroke="#2f4d9f" stroke-width="1.40"/>
<line x1="641.10" y1="178.57" x2="646.10" y2="178.57" stroke="#2f4d9f" stroke-width="1.40"/>
<line x1="641.10" y1="186.20" x2="651.10" y2="186.20" stroke="#2f4d9f" stroke-width="1.40"/>
<line x1="75.50" y1="186.20" x2="75.50" y2="195.70" stroke="#3a3a3a" stroke-width="1.40"/>
<line x1="89.67" y1="186.20" x2="89.67" y2="191.20" stroke="#3a3a3a" stroke-width="1.40"/>
<line x1="103.83" y1="186.20" x2="103.83" y2="191.20" stroke="#3a3a3a" stroke-width="1.40"/>
<line x1="118.00" y1="186.20" x2="118.00" y2="191.20" stroke="#3a3a3a" stroke-width="1.40"/>
<line x1="132.16" y1="186.20" x2="132.16" y2="191.20" stroke="#3a3a3a" stroke-width="1.40"/>
<line x1="146.33" y1="186.20" x2="146.33" y2="195.70" stroke="#3a3a3a" stroke-width="1.40"/>
<line x1="160.50" y1="186.20" x2="160.50" y2="191.20" stroke="#3a3a3a" stroke-width="1.40"/>
<line x1="174.66" y1="186.20" x2="174.66" y2="191.20" stroke="#3a3a3a" stroke-width="1.40"/>
<line x1="188.83" y1="186.20" x2="188.83" y2="191.20" stroke="#3a3a3a" stroke-width="1.40"/>
<line x1="202.99" y1="186.20" x2="202.99" y2="191.20" stroke="#3a3a3a" stroke-width="1.40"/>
<line x1="217.16" y1="186.20" x2="217.16" y2="195.70" stroke="#3a3a3a" stroke-width="1.40"/>
<line x1="231.33" y1="186.20" x2="231.33" y2="191.20" stroke="#3a3a3a" stroke-width="1.40"/>
<line x1="245.49" y1="186.20" x2="245.49" y2="191.20" stroke="#3a3a3a" stroke-width="1.40"/>
<line x1="259.66" y1="186.20" x2="259.66" y2="191.20" stroke="#3a3a3a" stroke-width="1.40"/>
<line x1="273.82" y1="186.20" x2="273.82" y2="191.20" stroke="#3a3a3a" stroke-width="1.40"/>
<line x1="287.99" y1="186.20" x2="287.99" y2="195.70" stroke="#3a3a3a" stroke-width="1.40"/>
<line x1="302.16" y1="186.20" x2="302.16" y2="191.20" stroke="#3a3a3a" stroke-width="1.40"/>
<line x1="316.32" y1="186.20" x2="316.32" y2="191.20" stroke="#3a3a3a" stroke-width="1.40"/>
<line x1="330.49" y1="186.20" x2="330.49" y2="191.20" stroke="#3a3a3a" stroke-width="1.40"/>
<line x1="344.65" y1="186.20" x2="344.65" y2="191.20" stroke="#3a3a3a" stroke-width="1.40"/>
<line x1="358.82" y1="186.20" x2="358.82" y2="195.70" stroke="#3a3a3a" stroke-width="1.40"/>
<line x1="372.99" y1="186.20" x2="372.99" y2="191.20" stroke="#3a3a3a" stroke-width="1.40"/>
<line x1="387.15" y1="186.20" x2="387.15" y2="191.20" stroke="#3a3a3a" stroke-width="1.40"/>
<line x1="401.32" y1="186.20" x2="401.32" y2="191.20" stroke="#3a3a3a" stroke-width="1.40"/>
<line x1="415.48" y1="186.20" x2="415.48" y2="191.20" stroke="#3a3a3a" stroke-width="1.40"/>
<line x1="429.65" y1="186.20" x2="429.65" y2="195.70" stroke="#3a3a3a" stroke-width="1.40"/>
<line x1="443.82" y1="186.20" x2="443.82" y2="191.20" stroke="#3a3a3a" stroke-width="1.40"/>
<line x1="457.98" y1="186.20" x2="457.98" y2="191.20" stroke="#3a3a3a" stroke-width="1.40"/>
<line x1="472.15" y1="186.20" x2="472.15" y2="191.20" stroke="#3a3a3a" stroke-width="1.40"/>
<line x1="486.31" y1="186.20" x2="486.31" y2="191.20" stroke="#3a3a3a" stroke-width="1.40"/>
<line x1="500.48" y1="186.20" x2="500.48" y2="195.70" stroke="#3a3a3a" stroke-width="1.40"/>
<line x1="514.65" y1="186.20" x2="514.65" y2="191.20" stroke="#3a3a3a" stroke-width="1.40"/>
<line x1="528.81" y1="186.20" x2="528.81" y2="191.20" stroke="#3a3a3a" stroke-width="1.40"/>
<line x1="542.98" y1="186.20" x2="542.98" y2="191.20" stroke="#3a3a3a" stroke-width="1.40"/>
<line x1="557.14" y1="186.20" x2="557.14" y2="191.20" stroke="#3a3a3a" stroke-width="1.40"/>
<line x1="571.31" y1="186.20" x2="571.31" y2="195.70" stroke="#3a3a3a" stroke-width="1.40"/>
<line x1="585.48" y1="186.20" x2="585.48" y2="191.20" stroke="#3a3a3a" stroke-width="1.40"/>
<line x1="599.64" y1="186.20" x2="599.64" y2="191.20" stroke="#3a3a3a" stroke-width="1.40"/>
<line x1="613.81" y1="186.20" x2="613.81" y2="191.20" stroke="#3a3a3a" stroke-width="1.40"/>
<line x1="627.97" y1="186.20" x2="627.97" y2="191.20" stroke="#3a3a3a" stroke-width="1.40"/>
<text x="58.6" y="42.5" font-family="Liberation Serif" font-weight="bold" font-size="26.0" fill="#ec1c24" text-anchor="end">50</text>
<text x="58.6" y="73.0" font-family="Liberation Serif" font-weight="bold" font-size="26.0" fill="#ec1c24" text-anchor="end">40</text>
<text x="58.6" y="103.5" font-family="Liberation Serif" font-weight="bold" font-size="26.0" fill="#ec1c24" text-anchor="end">30</text>
<text x="58.6" y="134.1" font-family="Liberation Serif" font-weight="bold" font-size="26.0" fill="#ec1c24" text-anchor="end">20</text>
<text x="58.6" y="164.6" font-family="Liberation Serif" font-weight="bold" font-size="26.0" fill="#ec1c24" text-anchor="end">10</text>
<text x="58.6" y="195.1" font-family="Liberation Serif" font-weight="bold" font-size="26.0" fill="#ec1c24" text-anchor="end">0</text>
<text x="658.3" y="42.5" font-family="Liberation Serif" font-weight="bold" font-size="26.0" fill="#2f4d9f" text-anchor="start">1020</text>
<text x="658.3" y="73.0" font-family="Liberation Serif" font-weight="bold" font-size="26.0" fill="#2f4d9f" text-anchor="start">1000</text>
<text x="658.3" y="103.5" font-family="Liberation Serif" font-weight="bold" font-size="26.0" fill="#2f4d9f" text-anchor="start">980</text>
<text x="658.3" y="134.1" font-family="Liberation Serif" font-weight="bold" font-size="26.0" fill="#2f4d9f" text-anchor="start">960</text>
<text x="658.3" y="164.6" font-family="Liberation Serif" font-weight="bold" font-size="26.0" fill="#2f4d9f" text-anchor="start">940</text>
<text x="658.3" y="195.1" font-family="Liberation Serif" font-weight="bold" font-size="26.0" fill="#2f4d9f" text-anchor="start">920</text>
<path d="M1000.6,131.5 L1005.4,126.4 L1010.1,119.3 L1012.9,109.9 L1016.6,98.6 L1020.4,87.3 L1024.2,76.5 L1026.1,69.4 L1027.5,76.9 L1028.9,97.6 L1030.3,118.4 L1028.4,120.2 L1026.1,112.7 L1023.2,112.7 L1021.4,118.4 L1018.5,118.4 L1013.8,126.8 L1009.1,132.5 L1004.4,135.3 Z" fill="#ec1c24" fill-rule="evenodd" stroke="#ec1c24" stroke-width="1" stroke-linejoin="round" clip-path="url(#c10)"/>
<path d="M1030.8,120.2 L1032.6,112.7 L1033.6,83.5 L1034.5,61.9 L1036.4,65.6 L1038.3,69.4 L1039.2,88.2 L1042.1,102.4 L1045.0,107.1 L1045.0,127.8 L1040.2,107.1 L1037.4,110.8 L1035.5,97.6 L1033.6,116.5 L1031.7,122.1 Z" fill="#ec1c24" fill-rule="evenodd" stroke="#ec1c24" stroke-width="1" stroke-linejoin="round" clip-path="url(#c10)"/>
<path d="M786.1,171.1L786.6,169.7L787.0,171.9L787.5,169.0L788.0,168.8L788.4,171.4L788.9,169.5L789.3,171.2L789.8,168.8L790.2,169.9L790.7,171.7L791.1,169.7L791.6,170.8L792.1,174.7L792.5,175.5L793.0,169.6L793.4,178.8L793.9,178.1L794.3,178.5L794.8,177.5L795.3,174.6L795.9,170.7L796.4,174.7L796.8,170.5L797.3,173.0L797.8,166.9L798.3,166.2L798.7,170.0L799.2,167.8L799.7,170.8L800.2,167.5L800.6,165.4L801.1,172.5L801.6,170.5L802.0,168.9L802.5,165.5L803.0,168.8L803.5,166.5L804.0,169.9L804.6,170.1L805.1,172.3L805.6,173.3L806.0,170.9L806.5,173.1L807.0,167.9L807.4,169.6L807.8,162.1L808.4,171.6L809.1,170.4L809.7,171.4L810.1,172.9L810.6,172.4L811.1,168.3L811.5,169.2L812.0,170.8L812.5,169.0L812.9,168.6L813.4,172.6L813.9,169.6L814.3,168.6L814.8,166.3L815.3,169.1L815.8,169.4L816.3,167.5L816.6,160.2L817.0,173.0L817.5,174.2L818.0,172.7L818.4,173.0L818.9,174.2L819.4,174.3L819.9,171.0L820.4,168.0L820.9,165.6L821.4,166.9L821.8,169.5L822.3,167.4L822.8,170.9L823.2,171.9L823.7,170.0L824.1,172.9L824.6,172.6L825.0,174.7L825.5,172.0L825.9,174.9L826.4,171.2L826.8,172.6L827.3,171.7L827.8,175.6L828.2,175.0L828.7,176.1L829.1,177.7L829.6,175.7L830.1,175.5L830.7,179.9L831.2,178.4L831.7,177.5L832.2,177.6L832.7,175.3L833.2,173.9L833.7,155.4L834.4,176.2L835.3,173.6L835.8,174.1L836.3,178.0L836.8,181.3L837.3,176.9L837.8,175.7L838.3,171.8L838.8,168.1L839.2,170.8L839.7,168.3L840.1,170.8L840.6,165.8L841.1,170.5L841.5,166.7L842.0,168.5L842.4,167.2L842.9,170.8L843.4,168.0L843.9,172.8L844.3,152.3L844.9,172.1L845.5,180.4L846.0,179.3L846.5,177.5L847.0,176.2L847.5,177.2L848.0,168.4L848.6,168.5L849.1,165.1L849.6,168.8L850.0,162.2L850.5,162.1L850.9,163.8L851.4,166.1L851.9,165.9L852.3,164.2L852.8,163.7L853.2,163.5L853.7,161.5L854.1,164.3L854.6,162.7L855.0,161.5L855.5,161.5L856.0,164.6L856.4,164.7L856.9,163.6L857.3,162.5L857.8,166.1L858.2,161.0L858.7,161.9L859.1,161.4L859.6,164.6L860.0,165.2L860.5,164.5L861.0,164.2L861.4,168.3L861.9,165.9L862.4,161.8L862.9,167.9L863.4,167.2L863.9,168.2L864.4,171.7L864.8,169.8L865.3,165.2L865.8,165.3L866.2,163.8L866.7,167.0L867.2,167.2L867.6,166.9L868.1,161.8L868.6,164.0L869.0,165.5L869.5,164.3L870.0,162.6L870.6,165.3L871.1,164.9L871.6,166.1L872.1,165.5L872.6,164.5L873.0,163.6L873.5,166.4L874.0,165.0L874.4,163.5L874.9,159.5L875.4,163.3L875.8,160.3L876.3,155.7L876.7,162.0L877.2,162.2L877.7,159.0L878.1,159.9L878.6,160.6L879.1,162.3L879.5,160.9L880.0,160.7L880.5,162.3L880.9,161.9L881.4,161.2L881.9,163.7L882.3,163.0L882.8,161.9L883.2,163.1L883.7,160.5L884.1,159.5L884.6,159.7L885.1,155.9L885.5,157.3L886.0,156.9L886.4,156.8L886.9,158.3L887.4,160.3L888.0,157.1L888.5,162.7L889.0,158.7L889.5,160.6L890.0,160.3L890.5,157.8L891.0,159.6L891.5,162.4L892.1,162.9L892.6,158.9L893.1,154.9L893.8,161.5L894.6,170.7L895.1,168.7L895.5,173.9L896.0,176.1L896.4,167.1L896.9,167.5L897.3,166.3L897.8,165.6L898.2,167.5L898.7,164.7L899.2,170.9L899.7,177.9L900.2,171.8L900.7,170.6L901.3,168.9L901.8,166.4L902.3,160.7L902.8,149.7L903.5,164.4L904.3,183.2L904.8,175.6L905.4,176.2L905.9,170.7L906.4,164.8L906.9,155.5L907.6,164.9L908.3,173.7L908.9,181.3L909.4,180.0L909.8,176.8L910.3,179.7L910.8,179.9L911.2,175.6L911.7,173.1L912.1,173.6L912.6,175.1L913.0,169.8L913.5,169.1L913.9,168.7L914.4,169.9L914.8,171.7L915.3,166.0L915.8,166.0L916.2,165.8L916.7,163.7L917.1,161.6L917.6,168.2L918.0,167.2L918.5,166.5L918.9,169.1L919.4,169.4L919.8,170.7L920.3,167.6L920.8,172.2L921.2,172.1L921.7,172.3L922.1,170.1L922.6,171.3L923.0,165.1L923.5,165.0L923.9,171.1L924.4,167.5L924.8,168.2L925.3,165.7L925.8,164.8L926.3,166.8L926.7,166.0L927.2,164.6L927.7,166.4L928.2,164.9L928.7,164.9L929.1,166.1L929.6,168.2L930.1,162.5L930.6,166.6L931.1,159.6L931.6,166.1L932.0,167.9L932.5,168.8L933.0,164.4L933.5,168.2L934.0,162.1L934.4,165.5L934.9,164.9L935.4,159.8L935.9,164.8L936.4,164.1L936.8,165.7L937.3,166.9L937.8,163.5L938.3,164.1L938.8,163.5L939.3,166.0L939.7,167.8L940.2,169.5L940.7,163.5L941.2,168.5L941.6,167.5L942.1,163.5L942.6,167.3L943.0,162.5L943.5,161.9L944.0,161.2L944.4,165.0L944.9,163.2L945.3,164.0L945.8,163.4L946.3,164.6L946.7,165.1L947.2,162.4L947.7,162.0L948.1,157.5L948.6,159.4L949.1,162.0L949.6,162.6L950.0,159.8L950.5,163.5L951.0,161.2L951.5,162.6L952.0,160.6L952.4,162.1L952.9,162.7L953.4,162.0L953.9,158.0L954.4,164.5L954.8,163.2L955.3,162.2L955.8,164.6L956.2,161.3L956.7,164.8L957.2,163.9L957.6,168.8L958.1,166.4L958.6,164.0L959.0,165.6L959.5,159.9L959.9,159.5L960.4,161.8L960.8,159.7L961.3,158.9L961.8,158.0L962.2,159.3L962.7,158.5L963.2,158.2L963.6,161.0L964.1,159.4L964.6,160.4L965.1,160.5L965.5,158.8L966.1,167.8L966.6,164.5L967.1,164.0L967.6,157.8L968.2,157.3L968.7,157.8L969.2,152.2L969.6,151.2L970.1,152.0L970.6,150.0L971.1,153.7L971.5,152.0L972.0,150.1L972.5,153.1L972.9,154.0L973.4,148.4L973.9,151.4L974.4,149.9L974.9,152.9L975.3,154.3L975.8,148.4L976.3,149.2L976.8,150.9L977.3,147.8L977.8,147.3L978.2,148.6L978.7,151.4L979.2,151.3L979.7,149.0L980.2,152.7L980.6,151.2L981.1,153.8L981.6,152.5L982.1,148.2L982.6,148.9L983.0,150.0L983.5,148.7L984.0,148.8L984.5,149.4L984.9,148.1L985.4,149.7L985.9,148.7L986.4,144.0L986.8,143.2L987.3,146.1L987.8,143.8L988.3,144.3L988.9,147.3L989.4,146.1L990.0,147.4L990.5,144.4L990.9,144.8L991.4,146.1L991.9,142.2L992.4,141.8L992.8,139.6L993.3,142.8L993.8,144.3L994.2,142.6L994.7,143.5L995.2,136.8L995.7,139.1L996.1,136.6L996.6,138.9L997.1,136.7L997.5,136.6L998.0,135.8L998.5,139.7L999.0,137.7L999.5,135.1L1000.0,127.9L1000.4,135.2L1000.9,134.8L1001.4,134.9L1001.9,135.4L1002.4,140.4L1002.8,133.0L1003.3,132.8L1003.8,139.2L1004.3,133.3L1004.8,135.4L1005.3,131.2L1005.7,128.4L1006.2,129.7L1006.7,127.5L1007.2,124.8L1007.7,125.3L1008.1,127.7L1008.6,129.5L1009.1,121.5L1009.6,119.5L1010.1,127.6L1010.5,117.1L1011.0,111.6L1011.5,120.7L1012.0,107.1L1012.5,108.2L1013.0,111.5L1013.5,106.7L1014.0,106.2L1014.5,107.2L1015.0,106.6L1015.5,109.2L1016.0,102.3L1016.5,98.9L1017.0,97.4L1017.5,95.4L1018.0,97.0L1018.5,91.1L1018.9,82.8L1019.4,92.7L1019.9,84.1L1020.4,77.5L1020.9,86.1L1021.4,83.2L1021.9,78.6L1022.4,81.8L1022.9,78.5L1023.4,78.8L1023.8,83.4L1024.3,80.7L1024.8,81.9L1025.3,74.0L1025.8,80.1L1026.4,81.4L1026.9,93.7L1027.4,103.7L1028.0,104.1L1028.6,108.0L1029.1,119.2L1029.7,119.2L1030.3,119.4L1030.8,114.5L1031.3,104.3L1031.9,98.5L1032.4,110.8L1033.0,77.1L1033.6,73.4L1034.2,48.1L1034.7,62.9L1035.3,60.9L1035.9,79.1L1036.4,94.3L1037.0,92.9L1037.5,99.6L1038.0,92.0L1038.6,102.9L1039.1,111.1L1039.5,101.5L1040.0,126.1L1040.5,110.5L1041.0,121.2L1041.5,104.6L1042.0,113.0L1042.5,97.7L1043.0,108.3L1043.5,127.3L1043.9,111.9L1044.4,116.8L1044.9,122.2L1045.4,115.2L1045.9,119.8L1046.4,116.0L1046.8,107.3L1047.3,122.2L1047.8,128.1L1048.3,126.3L1048.8,121.5L1049.2,120.3L1049.7,121.5L1050.2,130.2L1050.7,129.5L1051.2,129.9L1051.6,134.6L1052.1,128.0L1052.6,127.7L1053.1,134.7L1053.6,136.7L1054.0,138.7L1054.5,129.5L1055.0,141.4L1055.5,138.1L1055.9,133.9L1056.4,138.9L1056.9,130.8L1057.3,134.4L1057.8,134.3L1058.3,144.1L1058.8,139.9L1059.2,139.5L1059.7,138.3L1060.2,140.8L1060.6,140.0L1061.1,136.8L1061.6,134.1L1062.1,140.8L1062.5,143.6L1063.0,143.8L1063.5,138.2L1063.9,146.0L1064.4,137.8L1064.9,138.7L1065.3,137.5L1065.8,136.8L1066.3,138.9L1066.8,136.4L1067.2,141.1L1067.7,137.7L1068.2,136.9L1068.7,137.8L1069.0,130.4L1069.7,139.8L1070.2,144.5L1070.7,148.7L1071.3,141.8L1071.8,149.0L1072.3,150.0L1072.7,148.4L1073.2,149.9L1073.6,148.9L1074.1,147.8L1074.6,146.4L1075.0,149.6L1075.5,151.2L1075.9,154.9L1076.4,149.1L1076.8,153.9L1077.3,150.7L1077.7,155.3L1078.2,152.9L1078.6,156.2L1079.1,155.9L1079.6,158.5L1080.0,158.9L1080.5,162.4L1080.9,153.8L1081.4,160.0L1081.8,154.1L1082.3,155.9L1082.7,157.7L1083.2,158.8L1083.6,159.6L1084.1,159.9L1084.6,154.8L1085.1,161.8L1085.6,157.9L1086.1,157.2L1086.6,156.1L1087.1,154.2L1087.6,156.1L1088.1,156.6L1088.7,155.1L1089.2,154.5L1089.7,149.6L1090.2,150.4L1090.7,152.3L1091.2,159.7L1091.7,159.2L1092.2,164.1L1092.7,161.2L1093.3,160.3L1093.8,158.3L1094.3,156.6L1094.8,153.2L1095.3,155.2L1095.8,153.6L1096.3,149.4L1096.8,154.5L1097.4,151.4L1097.9,148.8L1098.3,150.5L1098.8,151.6L1099.3,154.8L1099.7,155.2L1100.2,154.1L1100.7,148.1L1101.1,155.8L1101.6,154.1L1102.0,148.6L1102.5,153.2L1103.0,153.8L1103.4,152.9L1103.9,155.6L1104.3,152.0L1104.8,154.5L1105.3,158.3L1105.7,156.5L1106.2,155.7L1106.6,157.7L1107.1,157.2L1107.5,155.8L1108.0,158.2L1108.4,155.4L1108.9,162.2L1109.3,159.4L1109.8,162.9L1110.3,160.2L1110.7,162.9L1111.2,157.9L1111.6,160.7L1112.1,158.5L1112.6,159.4L1113.0,161.5L1113.5,157.1L1114.0,160.4L1114.4,159.7L1114.9,160.9L1115.4,158.9L1115.8,164.6L1116.3,156.6L1116.7,159.8L1117.2,154.2L1117.7,156.3L1118.1,159.3L1118.6,159.7L1119.1,160.6L1119.5,158.1L1120.0,157.1L1120.5,157.9L1120.9,162.6L1121.4,159.3L1121.9,158.5L1122.3,156.6L1122.8,154.7L1123.2,150.3L1123.7,154.6L1124.1,157.9L1124.6,153.3L1125.0,152.5L1125.5,154.8L1125.9,150.9L1126.4,149.6L1126.9,153.9L1127.3,152.4L1127.8,155.4L1128.2,158.2L1128.7,154.2L1129.1,157.3L1129.6,155.8L1130.1,155.9L1130.6,159.4L1131.1,152.7L1131.6,155.1L1132.1,152.9L1132.7,148.3L1133.2,150.7L1133.7,148.2L1134.2,154.3L1134.7,155.5L1135.2,159.2L1135.7,159.7L1136.2,156.8L1136.7,153.1L1137.3,151.2L1137.8,149.8L1138.3,149.2L1138.8,142.3L1139.3,146.3L1139.8,148.9L1140.3,153.3L1140.8,154.9L1141.4,149.8L1141.9,149.7L1142.3,154.3L1142.8,151.7L1143.3,151.2L1143.7,153.0L1144.2,153.8L1144.7,154.4L1145.1,153.5L1145.6,155.8L1146.0,157.3L1146.5,153.5L1147.0,156.4L1147.5,156.7L1147.9,155.2L1148.4,155.2L1148.9,153.5L1149.3,154.3L1149.8,156.1L1150.3,152.0L1150.8,153.3L1151.2,153.4L1151.7,151.5L1152.2,150.3L1152.6,147.6L1153.1,153.9L1153.6,154.4L1154.1,161.3L1154.7,159.3L1155.2,156.5L1155.7,158.5L1156.2,156.0L1156.7,150.6L1157.2,148.3L1157.7,154.6L1158.1,154.1L1158.6,151.4L1159.1,156.1L1159.5,157.0L1160.0,153.2L1160.5,156.4L1160.9,151.3L1161.4,154.1L1161.9,155.7L1162.3,155.1L1162.8,158.5L1163.4,159.8L1163.9,158.0L1164.4,159.3L1164.9,160.3L1165.4,161.2L1165.7,183.6L1166.2,156.1L1166.7,154.1L1167.1,155.8L1167.6,148.9L1168.0,151.3L1168.5,148.6L1168.9,150.8L1169.4,154.9L1169.8,149.5L1170.3,155.7L1170.7,158.0L1171.2,151.4L1171.7,153.4L1172.1,158.0L1172.6,158.7L1173.0,155.9L1173.5,157.9L1174.0,155.1L1174.4,156.9L1174.9,155.0L1175.4,157.6L1175.8,156.8L1176.3,153.1L1176.7,153.7L1177.2,154.0L1177.7,152.3L1178.1,158.4L1178.6,154.8L1179.1,154.8L1179.5,153.2L1180.0,153.7L1180.5,152.3L1180.9,156.2L1181.4,156.7L1181.9,155.2L1182.3,155.4L1182.8,154.5L1183.2,156.2L1183.7,155.6L1184.2,158.4L1184.6,162.3L1185.1,160.3L1185.5,163.3L1186.0,164.6L1186.4,165.2L1186.9,166.5L1187.4,166.9L1187.8,165.9L1188.3,163.9L1188.8,164.1L1189.2,165.6L1189.7,167.9L1190.2,166.2L1190.7,162.1L1191.1,168.2L1191.6,165.9L1192.1,164.9L1192.6,163.4L1193.0,166.7L1193.5,164.4L1194.0,162.9L1194.4,163.5L1194.9,168.1L1195.4,162.0L1195.8,162.5L1196.3,164.3L1196.7,162.5L1197.2,165.3L1197.7,165.3L1198.1,160.8L1198.6,160.3L1199.1,165.2L1199.5,162.1L1200.0,165.8L1200.5,160.1L1200.9,160.8L1201.4,161.9L1201.9,163.4L1202.3,160.8L1202.8,162.7L1203.3,160.9L1203.8,165.1L1204.4,167.4L1204.8,162.8L1205.3,162.8L1205.8,158.2L1206.3,158.0L1206.7,158.0L1207.2,158.1L1207.7,154.3L1208.2,154.5L1208.8,159.4L1209.3,160.4L1209.8,169.4L1210.3,164.6L1210.8,161.9L1211.3,159.8L1211.7,159.6L1212.2,157.9L1212.7,153.8L1213.1,153.1L1213.6,157.8L1214.1,161.1L1214.5,157.8L1215.0,158.2L1215.5,158.2L1215.9,160.8L1216.4,163.3L1216.9,163.9L1217.4,163.1L1217.8,166.4L1218.3,169.7L1218.8,172.0L1219.3,171.7L1219.8,172.1L1220.2,175.2L1220.7,173.8L1221.1,167.7L1221.6,168.8L1222.1,164.0L1222.5,163.0L1223.0,159.6L1223.5,158.5L1223.9,162.2L1224.4,165.2L1224.9,163.0L1225.4,165.3L1225.9,163.8L1226.4,163.3L1226.9,164.0L1227.3,168.9L1227.8,164.9L1228.3,164.3L1228.8,164.5L1229.3,166.8L1229.8,164.3L1230.3,162.2L1230.7,164.2L1231.2,161.3L1231.7,164.0L1232.3,170.1L1232.8,171.2L1233.3,173.0L1233.8,165.4L1234.2,167.1L1234.7,163.0L1235.2,164.8L1235.6,159.5L1236.1,155.7L1236.6,157.7L1237.0,157.0L1237.5,161.0L1237.9,161.2L1238.4,160.1L1238.8,159.4L1239.3,162.8L1239.7,160.1L1240.2,159.9L1240.7,156.4L1241.1,161.9L1241.6,161.5L1242.1,163.5L1242.5,166.1L1243.0,160.6L1243.5,163.0L1244.0,164.4L1244.5,160.1L1245.0,161.3L1245.5,165.5L1245.9,160.3L1246.8,157.4L1247.3,136.1L1248.1,154.9L1248.7,154.2L1249.2,156.0L1249.7,152.9L1250.1,151.9L1250.6,153.1L1251.0,153.5L1251.5,154.4L1252.0,156.2L1252.4,153.3L1252.9,158.3L1253.3,154.8L1253.8,156.7L1254.2,155.3L1254.7,156.2L1255.2,153.9L1255.7,147.3L1256.2,155.0L1256.6,152.9L1257.1,155.4L1257.6,152.0L1258.1,152.2L1258.6,149.5L1259.1,150.4L1259.6,151.5L1260.0,147.7L1260.5,150.0L1261.0,147.9L1261.5,152.7L1262.0,151.9L1262.5,152.9L1263.0,156.2L1263.4,154.5L1263.9,158.4L1264.4,158.4L1264.9,161.7L1265.4,162.4L1265.9,161.5L1266.4,162.7L1266.8,164.8L1267.3,163.9L1267.8,164.4L1268.3,163.1L1268.8,162.5L1269.3,161.7L1269.8,156.7L1270.3,154.5L1270.7,151.2L1271.2,150.7L1271.7,149.4L1272.2,146.2L1272.7,149.5L1273.1,153.7L1273.6,153.7L1274.1,160.9L1274.5,157.9L1275.0,161.6L1275.5,162.9L1275.9,162.0L1276.4,160.9L1276.9,158.5L1277.4,157.0L1277.8,162.2L1278.3,157.1L1278.8,157.5L1279.2,158.8L1279.7,156.5L1280.1,157.3L1280.6,155.0L1281.0,155.1L1281.5,156.8L1281.9,157.0L1282.4,158.0L1282.9,158.6L1283.3,156.3L1283.8,157.7L1284.2,154.3L1284.7,155.3L1285.2,153.3L1285.6,152.4L1286.1,154.6L1286.6,149.4L1287.0,149.6L1287.5,152.9L1288.1,155.2L1288.6,157.9L1289.1,164.9L1289.7,162.0L1290.2,159.8L1290.6,162.2L1291.1,158.3L1291.5,159.3L1292.0,154.0L1292.4,151.1L1293.0,141.4L1293.9,155.8L1294.5,159.2L1295.2,160.9L1295.7,153.5L1296.3,154.2L1296.8,135.5L1297.6,158.5L1298.1,157.1L1298.6,158.3L1299.0,158.0L1299.5,156.5L1300.1,154.8L1300.6,154.1L1301.2,150.7L1301.7,144.1L1302.2,147.6L1302.7,153.7L1303.1,151.4L1303.6,155.7L1304.1,157.1L1304.5,155.2L1305.0,158.0L1305.6,150.6L1306.1,146.4L1306.7,143.6L1307.1,142.9L1307.6,141.6L1308.0,141.2L1308.5,142.3L1308.9,142.2L1309.4,145.5L1309.8,146.9L1310.3,147.1L1310.8,142.6L1311.2,142.9L1311.7,146.4L1312.1,153.1L1312.6,151.9L1313.0,149.3L1313.5,152.1L1313.9,153.5L1314.4,155.9L1314.9,157.1L1315.3,155.9L1315.8,154.1L1316.2,153.7L1316.7,152.2L1317.1,156.4L1317.6,157.3L1318.0,155.7L1318.5,154.6L1319.0,157.1L1319.4,157.4L1319.9,154.7L1320.3,157.2L1320.8,156.0L1321.2,155.2L1321.7,157.6L1322.1,156.8L1322.6,159.3L1323.1,157.8L1323.5,160.7L1324.0,157.8L1324.4,161.6L1324.9,161.3L1325.3,161.4L1325.8,158.6L1326.2,161.0L1326.7,163.2L1327.2,164.1L1327.6,165.1L1328.1,162.5L1328.5,161.1L1329.0,162.7L1329.4,160.3L1329.9,164.8L1330.4,162.4L1330.8,161.7L1331.3,164.0L1331.7,165.0L1332.2,161.6L1332.6,163.7L1333.1,164.0L1333.5,165.9L1334.0,167.0L1334.5,165.6L1334.9,165.3L1335.4,166.1L1335.8,167.9L1336.3,162.5L1336.7,166.9L1337.2,166.3L1337.6,167.3L1338.1,167.2L1338.6,170.5L1339.0,170.6L1339.5,169.7L1339.9,171.4L1340.4,169.5L1340.8,173.3L1341.3,168.9L1341.7,169.6L1342.2,172.3L1342.7,171.4L1343.1,167.5L1343.6,168.4L1344.0,169.6L1344.5,166.8L1344.9,168.0" fill="none" stroke="#ec1c24" stroke-width="2.30" stroke-linejoin="round" stroke-linecap="round" clip-path="url(#c10)"/>
<path d="M786.2,50.8L786.9,50.6L787.6,50.4L788.4,50.6L789.1,50.8L789.8,50.1L790.5,50.6L791.2,50.2L791.9,50.1L792.7,49.6L793.4,50.4L794.1,50.3L794.8,50.4L795.5,50.3L796.2,50.7L796.9,51.4L797.6,51.1L798.3,50.3L799.1,50.7L799.8,51.1L800.5,50.9L801.2,51.2L801.9,51.1L802.6,51.4L803.3,52.0L804.0,52.4L804.7,52.2L805.4,52.2L806.1,52.1L806.8,52.0L807.5,52.2L808.2,52.4L808.9,52.6L809.6,53.6L810.3,53.1L811.1,53.1L811.8,52.7L812.5,53.2L813.2,52.7L813.9,52.2L814.6,52.2L815.3,52.3L816.0,52.0L816.7,52.1L817.4,51.8L818.1,51.7L818.8,51.4L819.5,51.6L820.2,51.6L820.9,51.1L821.6,50.9L822.3,50.8L823.0,50.4L823.8,51.2L824.5,50.8L825.2,50.0L825.9,50.1L826.6,49.7L827.3,50.0L828.1,50.3L828.8,50.2L829.5,49.7L830.3,50.5L831.0,50.9L831.7,50.9L832.5,51.2L833.6,48.6L834.7,51.7L835.4,51.9L836.1,51.8L836.9,52.1L837.6,52.5L838.4,52.1L839.1,52.2L839.9,52.4L840.6,52.0L841.4,53.2L842.1,53.9L842.8,53.3L843.5,52.2L844.2,52.4L844.9,52.8L845.7,52.8L846.4,52.6L847.1,52.7L847.8,52.0L848.5,51.8L849.2,51.8L849.9,52.3L850.6,51.8L851.4,51.5L852.1,51.9L852.8,50.8L853.5,50.8L854.2,50.8L854.9,50.8L855.6,50.4L856.3,50.2L857.0,50.6L857.8,50.3L858.5,50.6L859.2,50.6L859.9,50.3L860.6,50.5L861.3,50.9L862.0,50.5L862.7,50.7L863.4,50.2L864.1,50.4L864.8,50.8L865.5,51.0L866.2,50.8L866.9,51.4L867.6,51.3L868.3,51.8L869.0,52.4L869.7,52.0L870.4,51.9L871.1,52.4L871.8,52.6L872.5,52.6L873.2,52.9L873.9,53.3L874.6,53.3L875.3,53.1L876.0,52.9L876.7,52.8L877.4,52.6L878.1,53.1L878.8,53.0L879.5,53.0L880.2,53.2L880.9,53.7L881.6,53.1L882.4,53.3L883.1,52.9L883.8,53.2L884.6,52.8L885.3,52.9L886.0,52.6L886.8,52.6L887.5,52.0L888.2,51.8L889.0,51.1L889.7,50.8L890.4,50.7L891.1,50.3L891.9,49.9L892.6,50.6L893.3,50.5L894.0,50.7L894.7,50.7L895.5,50.6L896.2,51.2L896.9,50.9L897.6,51.6L898.3,51.4L899.0,51.0L899.7,51.7L900.4,52.2L901.1,52.5L901.8,52.6L902.5,52.3L903.2,52.5L903.9,52.7L904.6,52.5L905.3,51.9L906.0,52.8L906.7,52.8L907.5,52.3L908.2,52.8L908.9,53.8L909.6,52.7L910.3,53.4L911.0,53.5L911.7,53.1L912.4,53.5L913.2,53.6L913.9,53.4L914.6,52.6L915.3,53.0L916.0,53.0L916.7,52.7L917.5,51.7L918.2,52.0L918.9,51.9L919.6,51.3L920.3,51.5L921.0,51.5L921.8,52.0L922.5,52.0L923.2,51.6L923.9,52.2L924.6,52.4L925.3,51.9L926.1,51.4L926.8,51.2L927.5,51.9L928.2,51.5L928.9,51.3L929.6,51.5L930.3,51.4L931.0,51.3L931.7,51.6L932.4,51.8L933.1,52.2L933.8,52.5L934.6,53.0L935.3,52.9L936.0,52.5L936.7,53.5L937.4,52.4L938.1,52.7L938.8,53.1L939.5,54.2L940.2,54.0L940.9,54.7L941.6,54.4L942.3,54.4L943.0,54.8L943.7,55.3L944.4,55.9L945.1,55.6L945.8,55.0L946.5,55.5L947.3,55.4L948.0,55.0L948.7,55.4L949.4,56.0L950.1,55.7L950.8,55.7L951.5,56.3L952.2,56.0L952.9,55.9L953.6,56.2L954.3,56.4L955.0,56.4L955.7,57.0L956.4,56.7L957.1,57.3L957.8,57.0L958.5,57.2L959.3,57.5L960.1,56.4L960.9,56.3L961.7,56.4L962.4,56.0L963.2,55.6L964.0,55.9L964.8,55.4L965.5,55.4L966.3,56.7L967.1,56.7L967.9,56.9L968.6,57.7L969.4,58.4L970.1,58.6L970.9,58.6L971.6,59.4L972.3,59.5L973.1,59.5L973.8,59.8L974.5,60.2L975.3,60.6L976.0,60.1L976.7,60.8L977.5,61.0L978.2,61.1L978.9,61.3L979.6,61.0L980.4,61.7L981.1,61.8L981.8,62.3L982.6,62.9L983.3,62.8L984.0,63.0L984.7,62.7L985.5,62.5L986.2,62.5L986.9,62.4L987.6,62.5L988.4,62.7L989.1,62.8L989.8,62.8L990.5,63.1L991.3,62.9L992.0,63.0L992.7,62.6L993.5,63.7L994.3,64.4L995.0,64.3L995.8,65.1L996.6,65.6L997.4,65.6L998.1,66.3L998.9,66.9L999.6,67.2L1000.4,67.8L1001.1,68.1L1001.8,68.8L1002.6,68.9L1003.3,69.5L1004.0,70.2L1004.7,71.2L1005.5,72.0L1006.2,72.0L1006.9,72.7L1007.7,72.7L1008.4,74.0L1009.2,74.6L1009.9,75.7L1010.7,77.3L1011.4,78.5L1012.2,78.8L1013.0,79.8L1013.7,81.6L1014.5,83.2L1015.2,84.8L1016.0,86.3L1016.7,88.8L1017.5,89.6L1018.3,91.0L1019.0,93.5L1019.7,95.8L1020.4,97.6L1021.1,100.0L1021.8,102.5L1022.7,106.2L1023.6,110.5L1024.4,114.7L1025.3,123.5L1026.2,132.3L1027.4,149.7L1028.1,158.9L1028.9,169.2L1029.6,168.0L1030.3,166.3L1031.0,165.2L1031.7,158.7L1032.5,151.4L1033.3,144.5L1034.0,137.2L1034.8,130.2L1035.6,123.2L1036.3,118.1L1037.0,111.9L1037.7,106.0L1038.4,103.1L1039.1,100.2L1039.8,97.3L1040.5,94.7L1041.2,92.4L1042.0,90.6L1042.7,87.9L1043.5,85.8L1044.2,84.1L1045.0,82.2L1045.8,80.2L1046.5,77.4L1047.2,77.4L1047.9,76.3L1048.6,75.8L1049.3,74.8L1050.0,74.0L1050.8,73.7L1051.5,72.9L1052.2,71.9L1052.9,70.9L1053.6,70.6L1054.3,69.7L1055.0,69.2L1055.8,69.1L1056.5,69.0L1057.3,69.0L1058.0,69.0L1058.7,68.2L1059.5,68.2L1060.2,67.7L1060.9,67.4L1061.7,67.2L1062.4,66.4L1063.2,66.6L1063.9,66.6L1064.7,67.0L1065.4,67.0L1066.2,66.7L1067.0,66.1L1067.7,66.1L1068.5,65.5L1069.2,65.8L1070.0,66.5L1070.7,66.3L1071.4,66.0L1072.1,65.8L1072.8,66.8L1073.5,66.6L1074.2,66.8L1074.9,66.5L1075.6,66.5L1076.3,66.8L1077.0,66.3L1077.7,66.9L1078.4,66.9L1079.1,67.1L1079.8,67.5L1080.5,67.2L1081.2,66.7L1082.0,66.3L1082.7,66.3L1083.4,66.2L1084.1,65.9L1084.8,66.4L1085.5,66.4L1086.2,66.0L1086.9,66.0L1087.6,65.8L1088.3,66.1L1089.0,65.8L1089.7,65.4L1090.4,65.9L1091.1,65.8L1091.8,65.1L1092.5,64.6L1093.2,64.8L1093.9,64.8L1094.6,64.5L1095.3,64.5L1096.1,65.3L1096.8,64.7L1097.5,64.2L1098.2,64.2L1098.9,63.4L1099.6,63.5L1100.3,63.2L1101.0,63.3L1101.7,62.0L1102.4,62.9L1103.1,62.6L1103.8,62.4L1104.5,62.1L1105.2,61.8L1105.9,62.1L1106.6,61.9L1107.4,61.9L1108.1,62.4L1108.8,62.0L1109.5,63.1L1110.2,63.1L1110.9,61.9L1111.7,62.5L1112.4,63.0L1113.1,62.5L1113.8,62.9L1114.5,63.2L1115.2,63.4L1116.0,63.5L1116.7,63.2L1117.4,63.6L1118.1,63.1L1118.8,63.8L1119.5,64.0L1120.3,64.1L1121.0,63.8L1121.7,63.3L1122.4,63.3L1123.1,63.9L1123.8,64.1L1124.5,64.1L1125.2,63.2L1126.0,63.8L1126.7,62.9L1127.4,63.0L1128.1,62.7L1128.8,62.3L1129.5,62.1L1130.2,62.7L1130.9,63.0L1131.6,62.3L1132.4,62.3L1133.1,62.0L1133.8,62.0L1134.5,61.8L1135.2,62.1L1135.9,61.5L1136.6,61.4L1137.3,61.0L1138.0,61.0L1138.7,60.9L1139.5,61.1L1140.2,61.3L1140.9,60.9L1141.6,61.7L1142.3,61.9L1143.0,62.1L1143.7,61.6L1144.4,61.1L1145.1,61.6L1145.8,62.2L1146.5,61.2L1147.2,61.6L1147.9,61.1L1148.6,61.6L1149.3,61.9L1150.0,61.7L1150.7,61.8L1151.5,61.7L1152.2,61.7L1152.9,62.2L1153.6,61.7L1154.3,62.2L1155.0,62.8L1155.7,63.0L1156.4,62.4L1157.1,62.6L1157.8,62.1L1158.5,62.2L1159.2,61.6L1159.9,61.9L1160.6,61.7L1161.3,61.5L1162.0,61.3L1162.7,61.3L1163.4,61.1L1164.2,60.5L1164.9,61.5L1165.6,61.2L1166.3,61.1L1167.0,60.4L1167.7,60.7L1168.4,60.1L1169.1,60.2L1169.8,59.9L1170.5,60.0L1171.2,60.0L1171.9,59.4L1172.6,59.2L1173.3,58.7L1174.0,59.3L1174.7,59.0L1175.4,58.8L1176.2,58.5L1176.9,58.7L1177.6,57.1L1178.3,58.4L1179.0,58.4L1179.7,58.4L1180.4,58.8L1181.1,59.2L1181.8,59.0L1182.5,58.5L1183.3,58.2L1184.0,58.1L1184.7,58.4L1185.4,59.5L1186.1,58.8L1186.8,59.6L1187.5,59.2L1188.2,59.8L1189.0,59.4L1189.7,59.7L1190.4,60.3L1191.1,60.2L1191.8,60.4L1192.5,60.5L1193.2,60.5L1193.9,60.7L1194.7,60.6L1195.4,60.0L1196.1,59.3L1196.8,59.6L1197.5,59.8L1198.2,59.5L1198.9,59.4L1199.7,59.6L1200.4,59.6L1201.1,59.1L1201.8,59.2L1202.5,57.7L1203.2,58.4L1204.0,58.4L1204.7,58.1L1205.4,57.7L1206.1,57.2L1206.8,57.5L1207.5,56.7L1208.3,56.4L1209.0,56.7L1209.7,56.5L1210.4,56.6L1211.1,57.3L1211.8,56.9L1212.5,57.6L1213.2,57.6L1213.9,57.5L1214.6,57.4L1215.3,58.0L1216.0,58.5L1216.7,57.9L1217.4,58.9L1218.1,58.0L1218.8,59.1L1219.6,58.8L1220.3,58.3L1221.0,58.8L1221.7,58.7L1222.4,59.4L1223.1,59.3L1223.8,59.1L1224.5,58.9L1225.2,59.1L1225.9,58.7L1226.6,59.1L1227.3,59.7L1228.0,60.1L1228.7,59.4L1229.4,59.2L1230.1,59.2L1230.8,59.4L1231.5,58.7L1232.3,58.5L1233.0,58.3L1233.7,58.1L1234.4,58.2L1235.1,58.2L1235.8,58.3L1236.5,57.9L1237.2,57.7L1237.9,58.0L1238.6,57.5L1239.3,57.1L1240.0,56.8L1240.7,56.9L1241.4,57.1L1242.1,56.7L1242.8,56.8L1243.5,56.3L1244.3,55.4L1245.0,55.8L1245.7,55.9L1246.4,55.8L1247.1,55.3L1247.8,55.8L1248.5,55.3L1249.2,55.6L1249.9,56.0L1250.6,55.6L1251.4,55.6L1252.1,55.5L1252.8,55.7L1253.5,55.4L1254.2,55.5L1255.0,55.7L1255.7,55.9L1256.4,56.1L1257.1,56.8L1257.9,56.8L1258.6,56.7L1259.3,56.9L1260.0,57.2L1260.7,57.3L1261.5,57.5L1262.2,57.9L1262.9,57.7L1263.6,57.3L1264.3,56.9L1265.0,57.0L1265.7,56.6L1266.4,56.3L1267.1,56.2L1267.8,56.2L1268.6,56.0L1269.3,55.4L1270.0,56.1L1270.7,56.1L1271.4,55.9L1272.1,55.5L1272.8,55.4L1273.5,55.8L1274.2,55.0L1274.9,55.2L1275.6,55.5L1276.3,55.0L1277.1,54.5L1277.8,54.5L1278.5,54.1L1279.2,54.7L1279.9,55.1L1280.6,54.1L1281.3,54.3L1282.0,54.2L1282.8,54.8L1283.5,54.4L1284.2,55.7L1284.9,55.2L1285.6,55.7L1286.3,56.1L1287.1,56.2L1287.8,56.2L1288.5,56.1L1289.2,55.8L1289.9,55.9L1290.6,56.0L1291.4,56.6L1292.1,56.6L1292.8,56.6L1293.5,56.6L1294.2,56.7L1294.9,56.1L1295.6,56.4L1296.4,56.5L1297.1,55.9L1297.8,56.1L1298.5,56.1L1299.2,55.6L1299.9,55.3L1300.6,55.0L1301.3,55.2L1302.0,55.2L1302.8,54.7L1303.5,54.5L1304.2,54.7L1304.9,54.2L1305.6,55.0L1306.3,54.7L1307.0,54.8L1307.7,54.3L1308.5,54.3L1309.2,54.1L1309.9,54.0L1310.6,54.3L1311.3,54.2L1312.0,53.4L1312.7,54.2L1313.4,53.9L1314.1,54.0L1314.8,53.6L1315.5,53.9L1316.2,53.6L1316.9,53.3L1317.6,53.8L1318.4,53.5L1319.1,54.2L1319.8,53.7L1320.5,54.2L1321.2,53.9L1321.9,53.8L1322.6,53.7L1323.3,54.0L1324.0,53.7L1324.7,54.1L1325.4,54.4L1326.1,53.7L1326.8,53.9L1327.5,54.0L1328.2,54.1L1328.9,53.9L1329.6,53.9L1330.3,54.4L1331.1,53.6L1331.8,54.0L1332.5,54.2L1333.2,54.4L1333.9,53.7L1334.6,53.8L1335.3,53.5L1336.0,53.5L1336.7,54.0L1337.4,53.5L1338.1,53.6L1338.8,53.9L1339.5,53.0L1340.2,53.3L1340.9,53.5L1341.6,53.3L1342.3,53.0L1343.0,52.9L1343.7,52.3L1344.4,52.6" fill="none" stroke="#2f4d9f" stroke-width="2.70" stroke-linejoin="round" stroke-linecap="round" clip-path="url(#c10)"/>
<line x1="1028.7" y1="37.4" x2="1028.7" y2="186.2" stroke="#b44ba8" stroke-width="2.5" stroke-dasharray="10 10"/>
<line x1="785.80" y1="33.60" x2="1350.10" y2="33.60" stroke="#3a3a3a" stroke-width="1.60"/>
<line x1="785.80" y1="186.20" x2="1350.10" y2="186.20" stroke="#3a3a3a" stroke-width="1.60"/>
<line x1="785.80" y1="32.85" x2="785.80" y2="186.95" stroke="#ec1c24" stroke-width="1.60"/>
<line x1="1350.10" y1="32.85" x2="1350.10" y2="186.95" stroke="#111" stroke-width="1.60"/>
<line x1="785.80" y1="33.60" x2="775.80" y2="33.60" stroke="#ec1c24" stroke-width="1.40"/>
<line x1="785.80" y1="39.70" x2="780.80" y2="39.70" stroke="#ec1c24" stroke-width="1.40"/>
<line x1="785.80" y1="45.81" x2="780.80" y2="45.81" stroke="#ec1c24" stroke-width="1.40"/>
<line x1="785.80" y1="51.91" x2="780.80" y2="51.91" stroke="#ec1c24" stroke-width="1.40"/>
<line x1="785.80" y1="58.02" x2="780.80" y2="58.02" stroke="#ec1c24" stroke-width="1.40"/>
<line x1="785.80" y1="64.12" x2="775.80" y2="64.12" stroke="#ec1c24" stroke-width="1.40"/>
<line x1="785.80" y1="70.22" x2="780.80" y2="70.22" stroke="#ec1c24" stroke-width="1.40"/>
<line x1="785.80" y1="76.33" x2="780.80" y2="76.33" stroke="#ec1c24" stroke-width="1.40"/>
<line x1="785.80" y1="82.43" x2="780.80" y2="82.43" stroke="#ec1c24" stroke-width="1.40"/>
<line x1="785.80" y1="88.54" x2="780.80" y2="88.54" stroke="#ec1c24" stroke-width="1.40"/>
<line x1="785.80" y1="94.64" x2="775.80" y2="94.64" stroke="#ec1c24" stroke-width="1.40"/>
<line x1="785.80" y1="100.74" x2="780.80" y2="100.74" stroke="#ec1c24" stroke-width="1.40"/>
<line x1="785.80" y1="106.85" x2="780.80" y2="106.85" stroke="#ec1c24" stroke-width="1.40"/>
<line x1="785.80" y1="112.95" x2="780.80" y2="112.95" stroke="#ec1c24" stroke-width="1.40"/>
<line x1="785.80" y1="119.06" x2="780.80" y2="119.06" stroke="#ec1c24" stroke-width="1.40"/>
<line x1="785.80" y1="125.16" x2="775.80" y2="125.16" stroke="#ec1c24" stroke-width="1.40"/>
<line x1="785.80" y1="131.26" x2="780.80" y2="131.26" stroke="#ec1c24" stroke-width="1.40"/>
<line x1="785.80" y1="137.37" x2="780.80" y2="137.37" stroke="#ec1c24" stroke-width="1.40"/>
<line x1="785.80" y1="143.47" x2="780.80" y2="143.47" stroke="#ec1c24" stroke-width="1.40"/>
<line x1="785.80" y1="149.58" x2="780.80" y2="149.58" stroke="#ec1c24" stroke-width="1.40"/>
<line x1="785.80" y1="155.68" x2="775.80" y2="155.68" stroke="#ec1c24" stroke-width="1.40"/>
<line x1="785.80" y1="161.78" x2="780.80" y2="161.78" stroke="#ec1c24" stroke-width="1.40"/>
<line x1="785.80" y1="167.89" x2="780.80" y2="167.89" stroke="#ec1c24" stroke-width="1.40"/>
<line x1="785.80" y1="173.99" x2="780.80" y2="173.99" stroke="#ec1c24" stroke-width="1.40"/>
<line x1="785.80" y1="180.10" x2="780.80" y2="180.10" stroke="#ec1c24" stroke-width="1.40"/>
<line x1="785.80" y1="186.20" x2="775.80" y2="186.20" stroke="#ec1c24" stroke-width="1.40"/>
<line x1="1350.90" y1="33.60" x2="1360.90" y2="33.60" stroke="#2f4d9f" stroke-width="1.40"/>
<line x1="1350.90" y1="39.96" x2="1355.90" y2="39.96" stroke="#2f4d9f" stroke-width="1.40"/>
<line x1="1350.90" y1="46.32" x2="1355.90" y2="46.32" stroke="#2f4d9f" stroke-width="1.40"/>
<line x1="1350.90" y1="52.67" x2="1355.90" y2="52.67" stroke="#2f4d9f" stroke-width="1.40"/>
<line x1="1350.90" y1="59.03" x2="1355.90" y2="59.03" stroke="#2f4d9f" stroke-width="1.40"/>
<line x1="1350.90" y1="65.39" x2="1355.90" y2="65.39" stroke="#2f4d9f" stroke-width="1.40"/>
<line x1="1350.90" y1="71.75" x2="1360.90" y2="71.75" stroke="#2f4d9f" stroke-width="1.40"/>
<line x1="1350.90" y1="78.11" x2="1355.90" y2="78.11" stroke="#2f4d9f" stroke-width="1.40"/>
<line x1="1350.90" y1="84.47" x2="1355.90" y2="84.47" stroke="#2f4d9f" stroke-width="1.40"/>
<line x1="1350.90" y1="90.82" x2="1355.90" y2="90.82" stroke="#2f4d9f" stroke-width="1.40"/>
<line x1="1350.90" y1="97.18" x2="1355.90" y2="97.18" stroke="#2f4d9f" stroke-width="1.40"/>
<line x1="1350.90" y1="103.54" x2="1355.90" y2="103.54" stroke="#2f4d9f" stroke-width="1.40"/>
<line x1="1350.90" y1="109.90" x2="1360.90" y2="109.90" stroke="#2f4d9f" stroke-width="1.40"/>
<line x1="1350.90" y1="116.26" x2="1355.90" y2="116.26" stroke="#2f4d9f" stroke-width="1.40"/>
<line x1="1350.90" y1="122.62" x2="1355.90" y2="122.62" stroke="#2f4d9f" stroke-width="1.40"/>
<line x1="1350.90" y1="128.97" x2="1355.90" y2="128.97" stroke="#2f4d9f" stroke-width="1.40"/>
<line x1="1350.90" y1="135.33" x2="1355.90" y2="135.33" stroke="#2f4d9f" stroke-width="1.40"/>
<line x1="1350.90" y1="141.69" x2="1355.90" y2="141.69" stroke="#2f4d9f" stroke-width="1.40"/>
<line x1="1350.90" y1="148.05" x2="1360.90" y2="148.05" stroke="#2f4d9f" stroke-width="1.40"/>
<line x1="1350.90" y1="154.41" x2="1355.90" y2="154.41" stroke="#2f4d9f" stroke-width="1.40"/>
<line x1="1350.90" y1="160.77" x2="1355.90" y2="160.77" stroke="#2f4d9f" stroke-width="1.40"/>
<line x1="1350.90" y1="167.12" x2="1355.90" y2="167.12" stroke="#2f4d9f" stroke-width="1.40"/>
<line x1="1350.90" y1="173.48" x2="1355.90" y2="173.48" stroke="#2f4d9f" stroke-width="1.40"/>
<line x1="1350.90" y1="179.84" x2="1355.90" y2="179.84" stroke="#2f4d9f" stroke-width="1.40"/>
<line x1="1350.90" y1="186.20" x2="1360.90" y2="186.20" stroke="#2f4d9f" stroke-width="1.40"/>
<line x1="785.40" y1="186.20" x2="785.40" y2="195.70" stroke="#3a3a3a" stroke-width="1.40"/>
<line x1="799.13" y1="186.20" x2="799.13" y2="191.20" stroke="#3a3a3a" stroke-width="1.40"/>
<line x1="812.86" y1="186.20" x2="812.86" y2="191.20" stroke="#3a3a3a" stroke-width="1.40"/>
<line x1="826.59" y1="186.20" x2="826.59" y2="191.20" stroke="#3a3a3a" stroke-width="1.40"/>
<line x1="840.32" y1="186.20" x2="840.32" y2="191.20" stroke="#3a3a3a" stroke-width="1.40"/>
<line x1="854.05" y1="186.20" x2="854.05" y2="195.70" stroke="#3a3a3a" stroke-width="1.40"/>
<line x1="867.78" y1="186.20" x2="867.78" y2="191.20" stroke="#3a3a3a" stroke-width="1.40"/>
<line x1="881.51" y1="186.20" x2="881.51" y2="191.20" stroke="#3a3a3a" stroke-width="1.40"/>
<line x1="895.24" y1="186.20" x2="895.24" y2="191.20" stroke="#3a3a3a" stroke-width="1.40"/>
<line x1="908.97" y1="186.20" x2="908.97" y2="191.20" stroke="#3a3a3a" stroke-width="1.40"/>
<line x1="922.70" y1="186.20" x2="922.70" y2="195.70" stroke="#3a3a3a" stroke-width="1.40"/>
<line x1="936.87" y1="186.20" x2="936.87" y2="191.20" stroke="#3a3a3a" stroke-width="1.40"/>
<line x1="951.04" y1="186.20" x2="951.04" y2="191.20" stroke="#3a3a3a" stroke-width="1.40"/>
<line x1="965.22" y1="186.20" x2="965.22" y2="191.20" stroke="#3a3a3a" stroke-width="1.40"/>
<line x1="979.39" y1="186.20" x2="979.39" y2="191.20" stroke="#3a3a3a" stroke-width="1.40"/>
<line x1="993.56" y1="186.20" x2="993.56" y2="195.70" stroke="#3a3a3a" stroke-width="1.40"/>
<line x1="1007.73" y1="186.20" x2="1007.73" y2="191.20" stroke="#3a3a3a" stroke-width="1.40"/>
<line x1="1021.90" y1="186.20" x2="1021.90" y2="191.20" stroke="#3a3a3a" stroke-width="1.40"/>
<line x1="1036.08" y1="186.20" x2="1036.08" y2="191.20" stroke="#3a3a3a" stroke-width="1.40"/>
<line x1="1050.25" y1="186.20" x2="1050.25" y2="191.20" stroke="#3a3a3a" stroke-width="1.40"/>
<line x1="1064.42" y1="186.20" x2="1064.42" y2="195.70" stroke="#3a3a3a" stroke-width="1.40"/>
<line x1="1078.59" y1="186.20" x2="1078.59" y2="191.20" stroke="#3a3a3a" stroke-width="1.40"/>
<line x1="1092.76" y1="186.20" x2="1092.76" y2="191.20" stroke="#3a3a3a" stroke-width="1.40"/>
<line x1="1106.94" y1="186.20" x2="1106.94" y2="191.20" stroke="#3a3a3a" stroke-width="1.40"/>
<line x1="1121.11" y1="186.20" x2="1121.11" y2="191.20" stroke="#3a3a3a" stroke-width="1.40"/>
<line x1="1135.28" y1="186.20" x2="1135.28" y2="195.70" stroke="#3a3a3a" stroke-width="1.40"/>
<line x1="1149.45" y1="186.20" x2="1149.45" y2="191.20" stroke="#3a3a3a" stroke-width="1.40"/>
<line x1="1163.62" y1="186.20" x2="1163.62" y2="191.20" stroke="#3a3a3a" stroke-width="1.40"/>
<line x1="1177.80" y1="186.20" x2="1177.80" y2="191.20" stroke="#3a3a3a" stroke-width="1.40"/>
<line x1="1191.97" y1="186.20" x2="1191.97" y2="191.20" stroke="#3a3a3a" stroke-width="1.40"/>
<line x1="1206.14" y1="186.20" x2="1206.14" y2="195.70" stroke="#3a3a3a" stroke-width="1.40"/>
<line x1="1220.31" y1="186.20" x2="1220.31" y2="191.20" stroke="#3a3a3a" stroke-width="1.40"/>
<line x1="1234.48" y1="186.20" x2="1234.48" y2="191.20" stroke="#3a3a3a" stroke-width="1.40"/>
<line x1="1248.66" y1="186.20" x2="1248.66" y2="191.20" stroke="#3a3a3a" stroke-width="1.40"/>
<line x1="1262.83" y1="186.20" x2="1262.83" y2="191.20" stroke="#3a3a3a" stroke-width="1.40"/>
<line x1="1277.00" y1="186.20" x2="1277.00" y2="195.70" stroke="#3a3a3a" stroke-width="1.40"/>
<line x1="1291.17" y1="186.20" x2="1291.17" y2="191.20" stroke="#3a3a3a" stroke-width="1.40"/>
<line x1="1305.34" y1="186.20" x2="1305.34" y2="191.20" stroke="#3a3a3a" stroke-width="1.40"/>
<line x1="1319.52" y1="186.20" x2="1319.52" y2="191.20" stroke="#3a3a3a" stroke-width="1.40"/>
<line x1="1333.69" y1="186.20" x2="1333.69" y2="191.20" stroke="#3a3a3a" stroke-width="1.40"/>
<line x1="1347.86" y1="186.20" x2="1347.86" y2="191.20" stroke="#3a3a3a" stroke-width="1.40"/>
<text x="768.6" y="42.5" font-family="Liberation Serif" font-weight="bold" font-size="26.0" fill="#ec1c24" text-anchor="end">50</text>
<text x="768.6" y="73.0" font-family="Liberation Serif" font-weight="bold" font-size="26.0" fill="#ec1c24" text-anchor="end">40</text>
<text x="768.6" y="103.5" font-family="Liberation Serif" font-weight="bold" font-size="26.0" fill="#ec1c24" text-anchor="end">30</text>
<text x="768.6" y="134.1" font-family="Liberation Serif" font-weight="bold" font-size="26.0" fill="#ec1c24" text-anchor="end">20</text>
<text x="768.6" y="164.6" font-family="Liberation Serif" font-weight="bold" font-size="26.0" fill="#ec1c24" text-anchor="end">10</text>
<text x="768.6" y="195.1" font-family="Liberation Serif" font-weight="bold" font-size="26.0" fill="#ec1c24" text-anchor="end">0</text>
<text x="1368.1" y="42.5" font-family="Liberation Serif" font-weight="bold" font-size="26.0" fill="#2f4d9f" text-anchor="start">1020</text>
<text x="1368.1" y="80.7" font-family="Liberation Serif" font-weight="bold" font-size="26.0" fill="#2f4d9f" text-anchor="start">990</text>
<text x="1368.1" y="118.8" font-family="Liberation Serif" font-weight="bold" font-size="26.0" fill="#2f4d9f" text-anchor="start">960</text>
<text x="1368.1" y="156.9" font-family="Liberation Serif" font-weight="bold" font-size="26.0" fill="#2f4d9f" text-anchor="start">930</text>
<text x="1368.1" y="195.1" font-family="Liberation Serif" font-weight="bold" font-size="26.0" fill="#2f4d9f" text-anchor="start">900</text>
<path d="M76.1,313.1L76.7,299.7L77.2,296.6L77.7,298.4L78.2,296.8L78.7,296.0L79.2,297.0L79.7,295.3L80.2,297.8L80.7,296.1L81.3,296.7L81.8,295.8L82.3,294.4L82.8,300.0L83.3,299.4L83.8,299.8L84.3,301.4L84.8,298.8L85.3,299.2L85.9,295.6L86.4,297.3L86.9,298.4L87.4,297.3L87.9,298.8L88.4,300.2L88.9,302.3L89.4,301.5L90.0,305.4L90.5,306.6L91.0,307.1L91.5,303.6L92.0,305.1L92.5,305.1L93.0,305.3L93.5,303.8L94.0,300.0L94.6,298.2L95.1,295.2L95.6,292.5L96.1,289.6L96.6,301.9L97.1,300.4L97.6,300.7L98.1,303.0L98.7,301.5L99.2,301.0L99.7,302.8L100.2,298.5L100.7,300.1L101.2,300.8L101.7,300.9L102.2,297.5L102.7,300.0L103.3,299.2L103.8,298.2L104.3,296.1L104.8,295.6L105.3,298.2L105.8,297.9L106.3,299.2L106.8,299.4L107.4,299.3L107.9,298.5L108.4,296.7L108.9,298.0L109.4,296.8L109.9,297.8L110.4,299.2L110.9,299.6L111.4,299.9L112.0,298.7L112.8,308.9L113.3,295.3L113.8,281.3L114.4,290.0L115.0,295.9L115.5,293.7L116.0,295.1L116.6,294.0L117.1,292.3L117.6,294.3L118.1,293.4L118.6,297.9L119.1,300.8L119.6,300.2L120.1,296.8L120.7,299.3L121.2,297.9L121.7,298.3L122.2,298.2L122.7,296.8L123.2,295.5L123.7,296.2L124.2,295.9L124.7,294.1L125.3,296.6L125.8,295.6L126.3,297.5L126.8,296.8L127.3,298.0L127.8,296.8L128.3,299.4L128.8,298.2L129.4,298.0L129.9,300.5L130.4,300.3L130.9,300.3L131.4,300.0L131.9,302.4L132.4,300.7L132.9,302.2L133.4,301.6L134.0,302.2L134.5,301.8L135.0,303.9L135.5,303.5L136.0,304.1L136.5,305.9L137.0,303.3L137.5,305.3L138.0,302.4L138.6,305.0L139.1,304.2L139.6,307.2L140.1,304.4L140.6,306.0L141.1,305.9L141.6,306.9L142.1,308.7L142.7,306.8L143.2,307.0L143.7,310.1L144.2,311.4L144.7,308.8L145.2,309.2L145.7,307.3L146.2,308.7L146.7,306.3L147.3,305.0L147.8,304.6L148.3,305.7L148.8,305.2L149.3,306.9L149.8,306.2L150.3,306.2L150.8,303.5L151.4,305.8L151.9,304.6L152.4,306.3L152.9,306.1L153.4,305.7L153.9,304.3L154.4,304.4L154.9,302.9L155.4,304.0L156.0,304.3L156.5,304.0L157.0,301.9L157.5,303.9L158.0,297.6L158.5,298.0L159.0,296.3L159.5,294.5L160.0,293.4L160.6,292.8L161.1,294.3L161.6,299.3L162.1,301.9L162.6,304.6L163.1,302.4L163.6,301.6L164.1,301.5L164.7,304.0L165.2,304.4L165.7,303.0L166.2,306.4L166.7,307.1L167.2,306.3L167.7,307.6L168.2,304.7L168.7,305.2L169.3,305.2L169.8,305.5L170.3,308.2L170.8,307.8L171.3,307.1L171.8,304.3L172.3,295.3L172.8,296.8L173.4,299.0L173.9,295.4L174.4,297.6L174.9,299.8L175.4,298.9L175.9,300.6L176.4,299.6L176.9,301.8L177.4,298.3L178.0,299.1L178.5,297.8L179.0,299.7L179.5,300.9L180.0,297.7L180.5,297.8L181.0,301.1L181.5,297.9L182.1,299.1L182.6,299.9L183.1,296.3L183.6,297.2L184.1,298.7L184.6,297.0L185.1,296.6L185.6,296.2L186.1,296.4L186.7,293.4L187.2,294.9L187.7,295.9L188.2,294.0L188.7,294.0L189.2,292.9L189.7,291.3L190.2,293.5L190.7,293.9L191.3,291.0L191.8,296.3L192.3,293.2L192.8,291.8L193.3,292.0L193.8,288.5L194.3,288.7L194.8,288.7L195.4,287.1L195.9,284.0L196.4,282.5L196.9,280.7L197.4,281.3L197.9,281.0L198.4,278.0L198.9,289.7L199.4,301.9L200.0,298.0L200.5,296.0L201.0,297.4L201.5,291.7L202.0,291.5L202.5,291.8L203.0,289.3L203.5,289.8L204.1,291.0L204.6,294.6L205.1,293.0L205.6,294.7L206.1,297.5L206.6,296.6L207.1,297.4L207.6,298.5L208.1,301.5L208.7,300.6L209.2,299.4L209.7,305.3L210.2,303.5L210.8,305.6L211.4,303.7L211.9,304.7L212.5,301.7L213.0,301.6L213.5,304.7L214.1,304.9L214.6,304.6L215.1,304.6L215.6,306.5L216.2,300.7L216.7,299.4L217.2,293.1L217.8,291.2L218.5,299.9L219.2,308.9L219.7,308.3L220.3,309.6L220.8,311.3L221.4,310.3L221.9,312.8L222.5,312.4L223.0,312.5L223.6,313.7L224.1,311.3L224.6,312.1L225.2,312.6L225.7,313.6L226.2,314.3L226.8,314.5L227.3,315.3L227.8,313.5L228.4,314.3L228.9,316.5L229.4,316.8L229.9,314.5L230.5,317.3L231.0,317.7L231.5,318.2L232.1,316.0L232.6,316.2L233.1,319.5L233.6,319.2L234.1,318.2L234.6,318.9L235.2,319.8L235.7,318.6L236.2,321.4L236.7,318.8L237.2,319.4L237.7,323.1L238.2,322.3L238.9,324.6L239.6,327.1L240.2,326.3L240.8,316.8L241.3,312.1L241.9,308.7L242.5,304.7L243.2,310.6L243.9,319.0L244.4,322.6L244.9,319.4L245.5,322.1L246.0,324.0L246.5,325.3L247.1,326.2L247.6,324.9L248.1,328.4L248.6,325.3L249.2,324.9L249.7,328.3L250.2,326.7L250.8,325.8L251.3,328.7L251.8,326.4L252.4,329.3L252.9,328.1L253.4,329.8L253.9,330.0L254.4,330.6L254.9,330.7L255.4,331.2L255.9,331.3L256.4,331.6L256.9,329.3L257.4,329.7L257.9,330.5L258.4,330.3L258.9,330.5L259.4,329.9L259.9,327.6L260.4,328.0L260.9,332.0L261.4,328.4L261.9,331.4L262.4,330.2L262.9,332.1L263.4,329.5L263.9,332.4L264.5,332.1L265.0,331.9L265.5,330.5L266.0,332.7L266.5,334.1L267.0,333.3L267.5,334.1L268.1,335.3L268.6,334.6L269.1,335.1L269.6,337.2L270.2,336.5L270.7,337.3L271.3,339.3L271.8,341.0L272.4,340.4L273.0,344.4L273.5,344.5L274.0,344.3L274.6,344.5L275.1,345.7L275.6,345.0L276.1,341.7L276.6,341.3L277.1,340.3L277.6,343.2L278.1,343.1L278.7,342.9L279.2,338.8L279.7,341.5L280.2,341.5L280.8,340.7L281.3,341.1L281.8,344.3L282.4,343.1L282.9,346.8L283.4,344.8L283.9,346.4L284.5,349.2L285.0,348.9L285.5,350.0L286.1,351.6L286.6,350.3L287.1,355.3L287.6,352.2L288.2,354.9L288.7,357.9L289.2,360.6L289.7,364.1L290.2,364.7L290.7,368.6L291.2,368.0L291.9,376.5L292.6,384.1L293.2,243.2L293.7,241.3L294.2,241.8L294.7,242.4L295.2,243.5L295.7,245.6L296.3,248.3L296.8,249.8L297.3,250.4L297.8,251.5L298.3,253.7L298.8,252.6L299.3,259.8L299.8,257.9L300.3,260.2L300.9,262.8L301.4,263.9L301.9,262.8L302.4,263.6L302.9,260.7L303.4,262.2L303.9,261.9L304.4,262.1L305.0,260.1L305.5,261.1L306.0,261.7L306.5,260.1L307.0,259.5L307.5,261.7L308.0,260.5L308.5,260.7L309.0,259.8L309.6,261.1L310.1,258.5L310.6,258.5L311.1,254.7L311.6,256.6L312.1,256.1L312.6,260.3L313.1,256.7L313.7,259.4L314.2,259.3L314.7,259.3L315.2,258.0L315.7,259.3L316.2,257.2L316.7,256.7L317.2,260.2L317.7,257.8L318.3,258.3L318.8,260.4L319.3,257.4L319.8,256.1L320.3,254.1L320.8,256.0L321.3,256.2L321.8,257.1L322.4,258.8L322.9,262.0L323.4,260.2L323.9,260.9L324.4,262.9L324.9,266.9L325.4,266.9L325.9,269.7L326.4,271.4L327.0,269.5L327.5,269.4L328.0,272.4L328.5,270.7L329.0,272.2L329.5,271.9L330.0,272.1L330.5,274.1L331.0,274.3L331.6,276.9L332.1,275.5L332.6,275.9L333.1,280.6L333.6,281.1L334.1,281.1L334.6,282.3L335.1,284.2L335.7,287.1L336.2,286.9L336.7,289.8L337.2,288.5L337.7,286.8L338.2,283.4L338.7,281.7L339.2,281.4L339.7,279.0L340.3,276.6L340.8,262.4L341.3,254.4L341.8,240.0L342.3,250.1L342.8,261.5L343.3,271.3L343.8,278.2L344.4,281.9L344.9,277.8L345.4,271.4L345.9,267.6L346.4,260.0L346.9,260.6L347.4,256.7L347.9,259.4L348.4,257.9L349.0,257.0L349.5,256.5L350.0,254.9L350.5,254.7L351.0,262.7L351.5,275.7L352.0,286.6L352.5,291.1L353.0,288.9L353.6,286.6L354.1,286.2L354.6,287.0L355.1,287.5L355.6,289.6L356.1,284.8L356.6,284.9L357.1,286.9L357.7,283.9L358.2,280.4L358.7,283.0L359.2,282.1L359.7,280.7L360.2,279.6L360.7,281.2L361.2,279.6L361.7,278.3L362.3,276.3L362.8,276.6L363.3,280.0L363.8,277.4L364.3,277.4L364.8,279.1L365.3,278.8L365.8,280.2L366.4,277.1L366.9,278.0L367.4,279.3L367.9,278.1L368.4,279.0L368.9,274.0L369.4,275.5L369.9,274.8L370.4,274.2L371.0,275.5L371.5,276.1L372.0,274.3L372.5,277.2L373.0,276.7L373.5,276.8L374.0,279.0L374.5,276.0L375.0,276.5L375.6,281.3L376.1,278.4L376.6,280.6L377.1,280.6L377.6,279.1L378.1,277.6L378.6,278.4L379.1,276.9L379.7,275.6L380.2,276.7L380.7,273.6L381.2,272.6L381.7,271.2L382.2,269.6L382.7,267.7L383.2,267.4L383.7,271.1L384.3,269.7L384.8,270.5L385.3,271.1L385.8,270.7L386.3,271.2L386.8,270.2L387.3,269.7L387.8,267.7L388.4,265.0L388.9,261.2L389.4,259.2L389.9,256.2L390.4,254.3L390.9,258.4L391.4,267.0L391.9,269.8L392.4,277.7L393.0,272.2L393.5,270.7L394.0,267.8L394.5,266.1L395.0,262.2L395.5,262.0L396.0,262.1L396.5,263.5L397.1,263.5L397.6,266.9L398.1,266.7L398.6,270.8L399.1,276.1L399.6,283.3L400.1,279.2L400.6,278.8L401.1,272.6L401.7,276.7L402.2,269.7L402.7,269.8L403.2,268.6L403.7,270.1L404.2,270.9L404.7,270.6L405.2,269.9L405.7,272.7L406.3,272.6L406.8,273.0L407.3,273.1L407.8,273.2L408.3,271.9L408.8,272.8L409.3,272.3L409.8,272.5L410.4,272.7L410.9,272.8L411.4,277.3L411.9,278.5L412.4,282.0L412.9,288.3L413.4,290.1L413.9,290.2L414.4,290.7L415.0,290.3L415.5,288.2L416.0,289.1L416.5,286.4L417.0,282.5L417.5,282.9L418.0,282.3L418.5,282.2L419.1,282.5L419.6,283.1L420.1,279.6L420.6,280.3L421.1,280.3L421.6,280.8L422.1,280.6L422.6,280.1L423.1,277.0L423.6,277.7L424.1,278.8L424.7,276.5L425.2,275.8L425.7,273.8L426.2,271.9L426.7,271.9L427.2,270.6L427.7,271.8L428.2,269.2L428.7,271.4L429.2,268.8L429.7,269.1L430.2,268.8L430.7,266.6L431.2,268.0L431.7,268.8L432.2,265.6L432.7,267.2L433.2,264.0L433.7,266.9L434.2,269.2L434.7,268.6L435.2,268.0L435.7,271.2L436.3,269.6L436.8,272.1L437.3,271.5L437.8,271.0L438.3,269.5L438.8,271.0L439.3,270.6L439.8,267.9L440.3,269.5L440.9,268.0L441.4,267.3L441.9,267.9L442.4,265.4L442.9,263.6L443.4,262.0L443.9,259.2L444.4,258.0L445.0,257.9L445.5,257.6L446.0,261.6L446.5,260.7L447.0,261.9L447.5,263.8L448.0,269.0L448.5,268.3L449.0,269.8L449.6,269.0L450.1,268.6L450.6,268.8L451.1,269.7L451.6,270.5L452.1,271.0L452.6,269.9L453.1,270.3L453.7,271.8L454.2,272.3L454.7,272.4L455.2,272.7L455.7,272.4L456.2,272.3L456.7,272.6L457.2,270.1L457.7,272.2L458.3,269.8L458.8,272.5L459.3,272.9L459.8,273.3L460.3,271.7L460.8,272.1L461.3,271.5L461.8,267.0L462.4,266.8L462.9,266.3L463.4,267.3L463.9,267.5L464.4,266.2L464.9,270.4L465.4,269.5L465.9,269.6L466.4,271.5L467.0,268.5L467.5,269.7L468.0,269.0L468.5,266.8L469.0,265.9L469.5,266.7L470.0,264.6L470.5,262.4L471.0,261.2L471.6,263.2L472.1,261.8L472.6,261.5L473.1,260.6L473.6,262.9L474.1,264.0L474.6,261.2L475.1,265.1L475.7,266.3L476.2,267.6L476.7,269.0L477.2,265.1L477.7,266.0L478.2,266.2L478.7,265.5L479.2,264.7L479.7,262.9L480.3,262.6L480.8,264.5L481.3,269.4L481.8,273.8L482.3,274.7L482.8,275.0L483.3,275.2L483.8,277.3L484.4,276.3L484.9,277.9L485.4,276.1L485.9,273.2L486.4,271.0L486.9,271.1L487.4,266.5L487.9,264.7L488.4,264.7L489.0,262.7L489.5,261.8L490.0,264.9L490.5,265.2L491.0,264.2L491.5,265.5L492.0,268.4L492.5,269.0L493.0,269.4L493.6,264.7L494.1,265.4L494.6,265.0L495.1,260.9L495.6,260.7L496.1,260.6L496.6,261.7L497.1,259.7L497.7,261.3L498.2,256.7L498.7,257.8L499.2,261.7L499.7,268.0L500.2,265.1L500.7,263.5L501.2,263.0L501.7,256.2L502.3,261.2L502.8,263.2L503.3,269.3L503.8,277.6L504.3,274.2L504.8,271.1L505.3,270.4L505.8,268.9L506.4,269.9L506.9,268.7L507.4,266.7L507.9,265.1L508.4,266.4L508.9,262.8L509.4,266.0L509.9,267.5L510.4,267.6L511.0,271.1L511.5,271.6L512.0,273.8L512.5,274.6L513.0,273.5L513.5,271.5L514.0,272.7L514.5,272.5L515.0,276.7L515.6,278.8L516.1,274.3L516.6,274.3L517.1,276.5L517.6,274.6L518.1,270.5L518.6,269.8L519.1,265.4L519.7,263.8L520.2,261.7L520.7,259.8L521.2,261.3L521.7,263.3L522.2,261.9L522.7,264.1L523.2,267.0L523.7,268.3L524.3,266.3L524.8,266.5L525.3,263.9L525.8,264.7L526.3,261.5L526.8,262.8L527.3,259.4L527.8,256.0L528.4,250.9L528.9,249.2L529.4,247.1L529.9,251.2L530.4,252.0L530.9,251.4L531.4,254.0L531.9,252.3L532.4,253.9L533.0,257.3L533.5,258.9L534.0,257.3L534.5,259.6L535.0,257.4L535.5,257.1L536.0,258.0L536.5,256.8L537.1,257.3L537.6,256.6L538.1,258.7L538.6,260.4L539.1,259.2L539.6,256.4L540.1,254.3L540.6,255.2L541.1,255.5L541.7,255.5L542.2,256.5L542.7,258.3L543.2,261.4L543.7,268.2L544.2,269.6L544.7,260.2L545.2,246.2L545.7,251.1L546.3,255.0L546.8,256.7L547.3,263.6L547.8,265.1L548.3,265.2L548.8,263.9L549.3,260.3L549.8,258.0L550.4,257.5L550.9,255.5L551.4,254.7L551.9,253.3L552.4,247.8L552.9,247.9L553.4,248.4L553.9,245.6L554.4,245.9L555.0,246.4L555.5,243.3L556.0,249.4L556.5,253.8L557.0,261.9L557.5,251.8L558.0,249.5L558.5,259.8L559.1,265.6L559.6,272.0L560.1,270.9L560.6,269.4L561.1,266.7L561.6,260.3L562.1,259.4L562.6,261.8L563.1,257.7L563.7,255.1L564.2,251.3L564.7,251.1L565.2,252.2L565.7,259.9L566.2,266.2L566.7,269.5L567.2,274.8L567.9,274.4L568.5,273.6L569.1,271.2L569.7,269.0L570.6,281.7L571.3,275.6L571.9,270.8L572.5,268.8L573.2,266.6L573.8,265.8L574.4,263.5L574.9,267.2L575.5,266.4L576.0,265.8L576.5,265.8L577.0,266.3L577.5,266.3L578.1,266.4L578.6,268.5L579.1,267.3L579.7,266.5L580.4,265.8L581.0,262.0L581.5,260.6L582.1,259.7L582.6,261.1L583.2,261.4L583.7,257.3L584.2,257.6L584.8,260.4L585.4,256.9L586.0,249.3L586.6,242.8L587.3,244.3L587.9,245.2L588.5,244.7L589.2,245.4L589.8,247.0L590.4,247.8L591.0,252.2L591.7,249.8L592.3,255.9L592.9,257.0L593.5,260.3L594.2,265.6L594.9,270.7L595.6,275.3L596.2,272.5L596.7,269.6L597.3,265.6L597.8,264.2L598.4,261.7L599.0,262.9L599.6,264.5L600.2,264.9L600.8,265.7L601.3,268.9L601.9,270.2L602.5,271.6L603.0,270.2L603.6,271.2L604.1,271.2L604.6,270.2L605.1,270.2L605.6,269.3L606.1,268.3L606.6,269.5L607.1,265.0L607.6,268.3L608.1,267.0L608.7,267.7L609.2,268.8L609.7,267.7L610.2,266.3L610.8,259.1L611.4,250.3L612.1,245.5L612.8,246.5L613.5,249.1L614.4,274.6L615.0,275.0L615.6,271.7L616.2,272.9L616.8,270.3L617.5,250.4L618.2,231.9L618.8,242.3L619.4,252.8L619.9,259.5L620.5,268.6L621.1,270.4L621.7,269.1L622.2,270.2L622.8,271.6L623.4,271.7L624.3,279.6L624.9,276.2L625.4,272.1L626.0,272.4L626.6,272.9L627.1,272.0L627.7,270.1L628.2,269.2L628.7,270.4L629.3,271.4L629.8,268.8L630.3,273.5L630.9,271.2L631.4,274.6L632.0,274.1L632.5,274.8L633.0,278.9L633.6,277.5L634.1,279.5L634.6,280.0L635.3,278.3L635.9,275.6L636.5,273.2L637.1,273.0L637.6,272.6L638.2,273.2L638.7,271.3L639.3,274.4L639.8,273.0" fill="none" stroke="#0a0a0a" stroke-width="2.10" stroke-linejoin="round" stroke-linecap="round" clip-path="url(#c01)"/>
<line x1="293.2" y1="233.1" x2="293.2" y2="381.9" stroke="#b44ba8" stroke-width="2.5" stroke-dasharray="10 10"/>
<line x1="75.80" y1="229.30" x2="640.30" y2="229.30" stroke="#111" stroke-width="1.50"/>
<line x1="75.80" y1="381.90" x2="640.30" y2="381.90" stroke="#111" stroke-width="1.50"/>
<line x1="75.80" y1="228.55" x2="75.80" y2="382.65" stroke="#111" stroke-width="1.50"/>
<line x1="640.30" y1="228.55" x2="640.30" y2="382.65" stroke="#111" stroke-width="1.50"/>
<line x1="75.80" y1="229.30" x2="65.80" y2="229.30" stroke="#222" stroke-width="1.40"/>
<line x1="75.80" y1="267.45" x2="65.80" y2="267.45" stroke="#222" stroke-width="1.40"/>
<line x1="75.80" y1="305.60" x2="65.80" y2="305.60" stroke="#222" stroke-width="1.40"/>
<line x1="75.80" y1="343.75" x2="65.80" y2="343.75" stroke="#222" stroke-width="1.40"/>
<line x1="75.80" y1="381.90" x2="65.80" y2="381.90" stroke="#222" stroke-width="1.40"/>
<line x1="640.30" y1="229.30" x2="650.30" y2="229.30" stroke="#222" stroke-width="1.40"/>
<line x1="640.30" y1="267.45" x2="650.30" y2="267.45" stroke="#222" stroke-width="1.40"/>
<line x1="640.30" y1="305.60" x2="650.30" y2="305.60" stroke="#222" stroke-width="1.40"/>
<line x1="640.30" y1="343.75" x2="650.30" y2="343.75" stroke="#222" stroke-width="1.40"/>
<line x1="640.30" y1="381.90" x2="650.30" y2="381.90" stroke="#222" stroke-width="1.40"/>
<line x1="75.50" y1="381.90" x2="75.50" y2="391.40" stroke="#333" stroke-width="1.40"/>
<line x1="89.67" y1="381.90" x2="89.67" y2="386.90" stroke="#333" stroke-width="1.40"/>
<line x1="103.83" y1="381.90" x2="103.83" y2="386.90" stroke="#333" stroke-width="1.40"/>
<line x1="118.00" y1="381.90" x2="118.00" y2="386.90" stroke="#333" stroke-width="1.40"/>
<line x1="132.16" y1="381.90" x2="132.16" y2="386.90" stroke="#333" stroke-width="1.40"/>
<line x1="146.33" y1="381.90" x2="146.33" y2="391.40" stroke="#333" stroke-width="1.40"/>
<line x1="160.50" y1="381.90" x2="160.50" y2="386.90" stroke="#333" stroke-width="1.40"/>
<line x1="174.66" y1="381.90" x2="174.66" y2="386.90" stroke="#333" stroke-width="1.40"/>
<line x1="188.83" y1="381.90" x2="188.83" y2="386.90" stroke="#333" stroke-width="1.40"/>
<line x1="202.99" y1="381.90" x2="202.99" y2="386.90" stroke="#333" stroke-width="1.40"/>
<line x1="217.16" y1="381.90" x2="217.16" y2="391.40" stroke="#333" stroke-width="1.40"/>
<line x1="231.33" y1="381.90" x2="231.33" y2="386.90" stroke="#333" stroke-width="1.40"/>
<line x1="245.49" y1="381.90" x2="245.49" y2="386.90" stroke="#333" stroke-width="1.40"/>
<line x1="259.66" y1="381.90" x2="259.66" y2="386.90" stroke="#333" stroke-width="1.40"/>
<line x1="273.82" y1="381.90" x2="273.82" y2="386.90" stroke="#333" stroke-width="1.40"/>
<line x1="287.99" y1="381.90" x2="287.99" y2="391.40" stroke="#333" stroke-width="1.40"/>
<line x1="302.16" y1="381.90" x2="302.16" y2="386.90" stroke="#333" stroke-width="1.40"/>
<line x1="316.32" y1="381.90" x2="316.32" y2="386.90" stroke="#333" stroke-width="1.40"/>
<line x1="330.49" y1="381.90" x2="330.49" y2="386.90" stroke="#333" stroke-width="1.40"/>
<line x1="344.65" y1="381.90" x2="344.65" y2="386.90" stroke="#333" stroke-width="1.40"/>
<line x1="358.82" y1="381.90" x2="358.82" y2="391.40" stroke="#333" stroke-width="1.40"/>
<line x1="372.99" y1="381.90" x2="372.99" y2="386.90" stroke="#333" stroke-width="1.40"/>
<line x1="387.15" y1="381.90" x2="387.15" y2="386.90" stroke="#333" stroke-width="1.40"/>
<line x1="401.32" y1="381.90" x2="401.32" y2="386.90" stroke="#333" stroke-width="1.40"/>
<line x1="415.48" y1="381.90" x2="415.48" y2="386.90" stroke="#333" stroke-width="1.40"/>
<line x1="429.65" y1="381.90" x2="429.65" y2="391.40" stroke="#333" stroke-width="1.40"/>
<line x1="443.82" y1="381.90" x2="443.82" y2="386.90" stroke="#333" stroke-width="1.40"/>
<line x1="457.98" y1="381.90" x2="457.98" y2="386.90" stroke="#333" stroke-width="1.40"/>
<line x1="472.15" y1="381.90" x2="472.15" y2="386.90" stroke="#333" stroke-width="1.40"/>
<line x1="486.31" y1="381.90" x2="486.31" y2="386.90" stroke="#333" stroke-width="1.40"/>
<line x1="500.48" y1="381.90" x2="500.48" y2="391.40" stroke="#333" stroke-width="1.40"/>
<line x1="514.65" y1="381.90" x2="514.65" y2="386.90" stroke="#333" stroke-width="1.40"/>
<line x1="528.81" y1="381.90" x2="528.81" y2="386.90" stroke="#333" stroke-width="1.40"/>
<line x1="542.98" y1="381.90" x2="542.98" y2="386.90" stroke="#333" stroke-width="1.40"/>
<line x1="557.14" y1="381.90" x2="557.14" y2="386.90" stroke="#333" stroke-width="1.40"/>
<line x1="571.31" y1="381.90" x2="571.31" y2="391.40" stroke="#333" stroke-width="1.40"/>
<line x1="585.48" y1="381.90" x2="585.48" y2="386.90" stroke="#333" stroke-width="1.40"/>
<line x1="599.64" y1="381.90" x2="599.64" y2="386.90" stroke="#333" stroke-width="1.40"/>
<line x1="613.81" y1="381.90" x2="613.81" y2="386.90" stroke="#333" stroke-width="1.40"/>
<line x1="627.97" y1="381.90" x2="627.97" y2="386.90" stroke="#333" stroke-width="1.40"/>
<text x="58.6" y="238.2" font-family="Liberation Serif" font-weight="bold" font-size="26.0" fill="#1e1e1e" text-anchor="end">W</text>
<text x="58.6" y="276.3" font-family="Liberation Serif" font-weight="bold" font-size="26.0" fill="#1e1e1e" text-anchor="end">S</text>
<text x="58.6" y="314.5" font-family="Liberation Serif" font-weight="bold" font-size="26.0" fill="#1e1e1e" text-anchor="end">E</text>
<text x="58.6" y="352.6" font-family="Liberation Serif" font-weight="bold" font-size="26.0" fill="#1e1e1e" text-anchor="end">N</text>
<text x="58.6" y="390.8" font-family="Liberation Serif" font-weight="bold" font-size="26.0" fill="#1e1e1e" text-anchor="end">W</text>
<text x="657.8" y="238.2" font-family="Liberation Serif" font-weight="bold" font-size="26.0" fill="#1e1e1e" text-anchor="start">W</text>
<text x="657.8" y="276.3" font-family="Liberation Serif" font-weight="bold" font-size="26.0" fill="#1e1e1e" text-anchor="start">S</text>
<text x="657.8" y="314.5" font-family="Liberation Serif" font-weight="bold" font-size="26.0" fill="#1e1e1e" text-anchor="start">E</text>
<text x="657.8" y="352.6" font-family="Liberation Serif" font-weight="bold" font-size="26.0" fill="#1e1e1e" text-anchor="start">N</text>
<text x="657.8" y="390.8" font-family="Liberation Serif" font-weight="bold" font-size="26.0" fill="#1e1e1e" text-anchor="start">W</text>
<path d="M786.5,298.8L787.1,299.2L787.6,296.1L788.2,299.0L788.8,299.9L789.4,298.9L790.0,300.9L790.6,300.9L791.2,299.5L791.8,299.2L792.4,297.4L792.9,290.7L793.5,291.4L794.1,288.7L794.7,289.8L795.3,288.7L795.9,287.2L796.5,288.5L797.1,291.8L797.6,291.4L798.2,287.8L798.8,291.5L799.4,293.7L800.0,295.6L800.6,295.7L801.2,294.9L801.7,295.7L802.2,297.0L802.7,296.3L803.3,298.1L803.8,297.6L804.3,297.3L804.8,299.5L805.4,297.3L805.9,301.7L806.4,299.7L806.9,301.5L807.4,304.3L807.9,301.3L808.4,305.1L808.9,305.4L809.4,305.7L810.0,299.7L810.6,297.6L811.2,294.2L811.8,290.3L812.3,294.2L812.8,291.0L813.3,293.9L813.8,291.2L814.3,290.7L814.8,293.3L815.3,293.4L815.8,295.7L816.3,297.5L816.8,297.4L817.3,297.8L817.8,297.5L818.3,297.2L818.8,303.5L819.4,307.5L820.0,309.0L820.6,309.1L821.2,303.1L821.8,300.7L822.4,293.1L822.9,295.7L823.5,300.7L824.1,301.7L824.7,305.4L825.2,302.9L825.7,301.0L826.2,302.3L826.7,303.8L827.2,302.0L827.7,301.0L828.2,302.7L828.8,305.2L829.4,304.5L830.0,307.6L830.6,309.5L831.2,313.9L831.8,316.5L832.4,322.0L832.9,326.2L833.5,308.7L834.1,294.7L834.7,278.7L835.3,265.2L835.9,246.6L836.5,267.9L837.1,288.3L837.6,311.2L838.2,311.1L838.8,316.7L839.4,319.0L840.0,324.2L840.6,325.6L841.2,322.9L841.8,320.8L842.4,320.5L842.9,315.3L843.5,317.0L844.5,299.4L845.2,301.8L845.9,309.8L846.5,302.2L847.1,299.8L847.6,302.4L848.2,302.8L848.8,305.8L849.4,308.5L850.0,304.4L850.6,298.2L851.1,295.3L851.6,299.0L852.1,299.1L852.6,301.5L853.1,300.7L853.6,300.1L854.1,303.2L854.7,308.1L855.3,313.7L855.9,310.6L856.5,307.8L857.1,303.2L857.6,299.5L858.2,299.7L858.7,302.2L859.2,302.2L859.7,303.2L860.3,302.8L860.8,302.7L861.3,302.6L861.8,303.5L862.4,305.7L862.9,304.0L863.5,307.8L864.1,309.7L864.7,308.7L865.3,306.9L865.9,306.1L866.5,303.2L867.1,301.5L867.6,305.6L868.2,310.0L868.8,314.2L869.4,316.2L869.9,315.7L870.5,314.1L871.0,317.7L871.5,317.5L872.0,317.1L872.5,320.4L873.1,319.6L873.6,320.4L874.1,319.2L874.7,319.0L875.2,320.9L875.7,319.2L876.3,318.3L876.8,318.1L877.3,318.0L877.9,318.5L878.4,317.7L878.9,317.1L879.5,317.3L880.0,317.3L880.5,314.5L881.0,314.6L881.5,316.8L882.0,316.8L882.5,319.9L883.0,318.9L883.5,317.0L884.1,316.0L884.7,314.2L885.3,312.9L885.9,311.1L886.4,311.9L886.9,311.0L887.5,311.1L888.0,309.8L888.5,309.4L889.0,311.5L889.5,311.3L890.1,309.0L890.6,311.0L891.2,306.1L891.8,298.9L892.4,292.6L892.9,286.8L893.5,317.8L894.1,310.3L894.7,305.1L895.3,302.7L895.9,296.6L896.5,294.5L897.1,296.3L897.6,301.6L898.2,302.5L898.8,303.2L899.4,303.0L900.0,302.1L900.6,299.7L901.2,294.5L901.8,299.6L902.4,303.3L902.9,302.3L903.5,304.6L904.1,324.5L904.7,339.2L905.3,314.6L905.9,296.6L906.5,291.3L907.1,290.7L907.6,286.9L908.2,292.8L908.8,295.7L909.4,298.3L910.0,308.1L910.6,315.3L911.2,317.9L911.8,322.0L912.4,324.2L912.9,323.7L913.5,328.4L914.0,323.5L914.5,320.3L915.0,315.4L915.5,310.9L916.1,306.0L916.6,300.0L917.1,296.0L917.6,295.5L918.1,300.6L918.6,300.6L919.1,298.5L919.6,301.6L920.1,305.7L920.7,303.7L921.2,306.4L921.7,308.4L922.2,305.6L922.7,304.3L923.3,305.5L923.8,306.2L924.3,305.0L924.8,307.4L925.4,307.0L925.9,305.3L926.4,307.3L927.0,309.3L927.5,307.6L928.0,306.6L928.6,309.3L929.1,306.7L929.6,308.3L930.2,308.8L930.7,310.0L931.2,308.6L931.8,309.3L932.3,308.5L932.8,310.1L933.4,311.8L933.9,312.0L934.4,309.4L935.0,309.1L935.5,311.8L936.0,310.0L936.6,312.5L937.1,312.6L937.6,312.0L938.2,314.9L938.7,313.5L939.2,311.1L939.7,311.3L940.2,316.1L940.7,317.0L941.2,318.3L941.8,313.8L942.4,311.5L942.9,307.8L943.5,307.1L944.1,313.2L944.7,321.1L945.2,317.7L945.8,320.1L946.3,319.9L946.8,321.2L947.3,321.1L947.8,321.5L948.4,321.1L948.9,320.0L949.4,319.0L949.9,320.4L950.4,319.4L950.9,318.5L951.4,322.2L951.9,317.6L952.4,318.4L952.9,315.6L953.5,320.2L954.1,321.4L954.7,325.8L955.3,326.1L955.8,324.5L956.4,323.9L956.9,325.3L957.4,326.6L958.0,327.3L958.5,325.9L959.0,325.6L959.6,327.6L960.1,326.7L960.6,324.8L961.2,326.4L961.8,321.1L962.4,322.3L962.9,323.6L963.5,330.4L964.1,329.6L964.7,335.2L965.3,337.9L965.9,334.0L966.5,325.8L967.1,323.6L967.6,320.8L968.1,321.5L968.6,327.5L969.1,326.4L969.6,328.9L970.1,331.8L970.6,332.9L971.1,333.5L971.7,331.7L972.2,333.2L972.7,333.4L973.3,332.3L973.8,333.2L974.3,334.3L974.9,337.1L975.4,336.0L975.9,333.7L976.5,333.8L977.0,335.1L977.5,334.3L978.0,336.2L978.5,335.2L979.0,335.8L979.6,337.2L980.1,336.2L980.6,335.7L981.1,336.1L981.6,336.7L982.1,336.1L982.6,337.0L983.2,335.7L983.7,336.5L984.2,333.9L984.7,339.0L985.2,337.3L985.8,337.3L986.3,338.1L986.8,335.5L987.4,339.4L987.9,339.0L988.4,340.7L989.0,337.4L989.5,336.9L990.1,337.7L990.6,337.8L991.2,319.9L991.8,328.0L992.4,329.6L992.9,336.5L993.5,337.8L994.1,343.8L994.6,342.0L995.1,342.3L995.6,346.0L996.1,343.0L996.6,343.2L997.1,347.2L997.6,343.0L998.2,347.0L998.7,345.5L999.2,346.5L999.7,348.6L1000.2,347.5L1000.7,347.3L1001.2,349.2L1001.8,338.0L1002.4,330.3L1002.9,333.4L1003.4,329.8L1004.0,331.5L1004.5,333.3L1005.0,333.4L1005.6,333.0L1006.1,340.8L1006.6,336.6L1007.2,335.9L1007.7,336.6L1008.2,335.8L1008.8,338.7L1009.3,338.9L1009.8,338.1L1010.4,338.0L1010.9,338.7L1011.4,341.8L1012.0,341.8L1012.5,340.9L1013.0,340.8L1013.6,342.1L1014.1,341.5L1014.7,346.2L1015.3,347.8L1015.9,354.3L1016.4,349.0L1016.9,348.6L1017.4,346.3L1017.9,344.7L1018.5,343.6L1019.0,344.0L1019.5,342.3L1020.0,339.9L1020.5,343.2L1021.0,343.0L1021.5,346.3L1022.0,346.7L1022.5,350.2L1023.0,348.3L1023.5,348.5L1024.1,346.6L1024.7,342.8L1025.3,340.0L1025.9,338.3L1026.5,333.9L1027.1,330.2L1027.6,326.4L1028.1,320.4L1028.6,316.5L1029.1,310.1L1029.6,306.5L1030.1,301.9L1030.6,296.8L1031.2,291.0L1031.8,290.0L1032.4,283.4L1032.9,282.6L1033.5,279.5L1034.1,277.9L1034.7,271.9L1035.3,267.0L1035.9,266.7L1036.4,267.3L1036.9,268.4L1037.4,270.0L1037.9,272.7L1038.5,272.5L1039.0,273.4L1039.5,273.5L1040.0,279.3L1040.5,273.6L1041.0,278.6L1041.5,276.4L1042.0,278.6L1042.5,278.6L1043.0,278.2L1043.5,278.6L1044.0,277.0L1044.5,273.1L1045.0,276.1L1045.5,272.9L1046.1,270.7L1046.6,273.7L1047.1,272.6L1047.6,271.4L1048.1,265.6L1048.6,267.7L1049.1,270.0L1049.6,270.0L1050.1,268.8L1050.7,270.9L1051.2,269.0L1051.7,267.0L1052.2,267.0L1052.7,265.7L1053.2,267.7L1053.8,265.2L1054.3,266.6L1054.8,264.7L1055.3,263.9L1055.8,269.2L1056.4,264.0L1056.9,265.2L1057.4,267.9L1058.0,266.9L1058.5,268.7L1059.0,269.1L1059.6,269.8L1060.1,269.1L1060.6,272.3L1061.2,273.3L1061.8,273.8L1062.4,273.7L1063.1,272.8L1063.6,274.7L1064.1,277.3L1064.6,275.8L1065.1,275.8L1065.6,277.9L1066.1,278.4L1066.7,271.3L1067.2,267.5L1067.7,268.0L1068.2,270.8L1068.7,270.5L1069.2,271.8L1069.7,273.4L1070.2,273.4L1070.7,270.7L1071.3,268.5L1071.8,266.5L1072.3,265.1L1072.8,262.1L1073.3,261.1L1073.8,260.9L1074.3,266.4L1074.8,263.7L1075.3,263.2L1075.9,265.8L1076.4,265.1L1076.9,263.7L1077.4,267.2L1077.9,265.1L1078.4,265.1L1078.9,265.3L1079.4,265.6L1080.0,259.8L1080.5,260.5L1081.0,258.1L1081.5,255.9L1082.0,255.8L1082.5,258.5L1083.0,263.8L1083.5,266.6L1084.0,271.1L1084.6,271.6L1085.1,270.2L1085.6,272.6L1086.1,271.6L1086.6,271.2L1087.1,269.2L1087.6,271.8L1088.1,269.7L1088.7,269.7L1089.2,271.0L1089.7,275.5L1090.2,262.2L1090.7,252.7L1091.2,250.7L1091.7,248.9L1092.2,247.7L1092.7,248.7L1093.3,252.8L1093.8,261.0L1094.3,265.6L1094.8,265.3L1095.3,267.0L1095.8,266.0L1096.3,269.5L1096.8,271.0L1097.4,269.5L1097.9,269.9L1098.4,272.4L1098.9,271.0L1099.4,270.2L1099.9,274.0L1100.4,273.8L1100.9,274.5L1101.4,273.2L1102.0,275.5L1102.5,275.5L1103.0,276.4L1103.5,274.8L1104.0,276.1L1104.5,286.5L1105.0,283.0L1105.5,282.5L1106.0,278.3L1106.6,275.9L1107.1,274.0L1107.6,273.2L1108.1,273.9L1108.6,272.2L1109.1,271.9L1109.6,273.8L1110.1,272.7L1110.7,271.6L1111.2,271.1L1111.7,266.8L1112.2,270.7L1112.7,270.7L1113.2,273.3L1113.7,270.4L1114.2,268.6L1114.7,271.0L1115.3,271.9L1115.8,271.6L1116.3,272.1L1116.8,271.1L1117.3,270.8L1117.8,271.6L1118.3,271.4L1118.8,268.1L1119.4,267.9L1119.9,269.9L1120.4,269.5L1120.9,271.7L1121.4,267.8L1121.9,269.0L1122.4,267.6L1122.9,263.3L1123.4,266.2L1124.0,265.8L1124.5,263.0L1125.0,261.5L1125.5,262.7L1126.0,256.8L1126.5,262.5L1127.0,259.5L1127.5,258.9L1128.0,260.9L1128.6,263.2L1129.1,261.9L1129.6,262.6L1130.1,264.2L1130.6,262.1L1131.1,263.1L1131.6,265.3L1132.1,266.9L1132.7,268.3L1133.2,270.6L1133.7,270.3L1134.2,271.5L1134.7,267.8L1135.2,270.4L1135.7,269.1L1136.2,266.6L1136.7,263.2L1137.3,261.2L1137.8,259.7L1138.3,261.8L1138.8,257.3L1139.3,257.6L1139.8,256.0L1140.3,255.8L1140.8,255.6L1141.4,256.7L1141.9,255.5L1142.4,260.0L1142.9,260.1L1143.4,262.7L1143.9,260.8L1144.4,262.1L1144.9,265.0L1145.4,263.0L1146.0,263.7L1146.5,264.2L1147.0,268.0L1147.5,264.7L1148.0,264.4L1148.5,264.6L1149.0,265.1L1149.5,264.8L1150.0,264.3L1150.6,260.6L1151.1,259.4L1151.6,259.4L1152.1,256.9L1152.6,262.0L1153.1,271.4L1153.6,279.1L1154.1,276.7L1154.7,276.0L1155.2,276.5L1155.7,270.8L1156.2,273.1L1156.7,272.2L1157.2,270.9L1157.7,272.1L1158.2,269.9L1158.7,269.2L1159.3,271.3L1159.8,270.1L1160.3,270.7L1160.8,268.9L1161.3,268.8L1161.8,269.6L1162.3,269.4L1162.8,269.8L1163.4,269.3L1163.9,269.5L1164.4,268.3L1164.9,271.2L1165.4,269.4L1165.6,342.1L1166.0,268.5L1166.5,267.4L1167.0,268.0L1167.5,268.1L1168.0,266.6L1168.5,266.7L1169.0,266.5L1169.5,263.7L1170.0,262.9L1170.5,263.2L1171.1,265.5L1171.6,263.6L1172.1,263.2L1172.6,262.3L1173.1,263.1L1173.6,265.3L1174.1,268.6L1174.6,265.6L1175.1,270.4L1175.6,270.8L1176.1,271.2L1176.7,268.7L1177.2,269.7L1177.7,267.1L1178.2,266.3L1178.7,265.1L1179.2,267.1L1179.7,267.0L1180.2,265.0L1180.7,267.3L1181.3,264.8L1181.8,265.6L1182.3,263.4L1182.8,264.0L1183.3,263.5L1183.8,261.4L1184.3,260.3L1184.8,261.3L1185.4,261.9L1185.9,259.9L1186.4,258.3L1186.9,258.1L1187.4,259.1L1187.9,259.5L1188.4,262.0L1188.9,260.3L1189.4,260.6L1190.0,260.6L1190.5,261.6L1191.0,261.7L1191.5,262.2L1192.0,262.1L1192.5,263.6L1193.0,265.9L1193.5,266.3L1194.1,263.5L1194.6,262.7L1195.1,263.9L1195.6,264.4L1196.1,265.0L1196.6,263.5L1197.1,261.9L1197.6,261.7L1198.1,262.8L1198.7,263.5L1199.2,263.0L1199.7,264.0L1200.3,260.5L1200.8,262.0L1201.3,263.8L1201.8,262.8L1202.4,262.9L1202.9,263.3L1203.4,261.9L1203.9,260.8L1204.5,260.7L1205.0,264.2L1205.5,260.0L1206.1,263.0L1206.6,261.1L1207.1,262.3L1207.7,269.4L1208.2,278.0L1208.8,276.2L1209.3,273.7L1209.8,272.5L1210.4,267.7L1210.9,267.4L1211.5,265.7L1212.0,265.7L1212.6,269.4L1213.1,272.0L1213.7,273.5L1214.2,264.9L1214.8,257.3L1215.3,252.5L1215.9,244.2L1216.4,245.4L1217.0,250.3L1217.5,252.7L1218.0,255.7L1218.6,255.0L1219.1,255.5L1219.7,257.5L1220.2,255.9L1220.8,258.0L1221.3,261.5L1221.9,262.8L1222.4,266.7L1223.0,269.7L1223.5,271.1L1224.1,272.8L1224.6,269.3L1225.2,272.1L1225.7,269.6L1226.3,270.1L1226.8,266.0L1227.3,263.9L1227.9,256.0L1228.4,253.7L1229.0,250.0L1229.5,252.9L1230.1,253.2L1230.6,254.9L1231.2,257.0L1231.7,260.1L1232.3,260.5L1232.8,261.3L1233.4,284.8L1233.9,274.1L1234.5,265.2L1235.0,254.6L1235.6,243.9L1236.1,245.5L1236.6,251.0L1237.2,251.3L1237.7,255.1L1238.3,258.1L1238.8,259.9L1239.4,256.8L1239.9,256.8L1240.5,257.5L1241.0,257.1L1241.6,259.6L1242.1,257.1L1242.7,255.6L1243.2,250.7L1243.8,247.6L1244.3,253.2L1244.8,254.2L1245.4,259.9L1245.9,262.0L1246.5,265.8L1247.0,267.6L1247.6,269.0L1248.1,265.3L1248.7,263.8L1249.2,260.7L1249.8,258.2L1250.3,255.7L1250.9,259.7L1251.4,262.0L1252.0,263.9L1252.5,268.5L1253.1,267.9L1253.6,263.8L1254.1,267.1L1254.7,264.8L1255.2,263.8L1255.8,263.8L1256.3,264.0L1256.9,262.0L1257.4,262.6L1258.0,259.8L1258.5,260.8L1259.1,258.9L1259.6,257.3L1260.2,255.9L1260.7,253.0L1261.3,255.2L1261.8,254.8L1262.4,254.3L1262.9,258.0L1263.4,258.6L1264.0,259.3L1264.5,257.7L1265.1,258.4L1265.6,260.4L1266.2,261.3L1266.7,262.6L1267.3,264.9L1267.8,267.3L1268.4,269.6L1268.9,267.2L1269.5,270.6L1270.0,266.1L1270.6,264.7L1271.1,261.8L1271.6,259.5L1272.2,256.1L1272.7,251.5L1273.3,253.1L1273.8,256.0L1274.4,258.8L1274.9,258.6L1275.5,260.3L1276.0,263.0L1276.6,264.0L1277.1,265.1L1277.7,263.4L1278.2,264.5L1278.8,267.6L1279.3,267.2L1279.9,266.3L1280.4,262.9L1280.9,265.4L1281.5,261.9L1282.0,263.5L1282.6,263.7L1283.1,262.0L1283.7,262.9L1284.2,262.5L1284.8,259.8L1285.3,258.1L1285.9,256.0L1286.4,253.1L1287.0,253.4L1287.5,250.5L1288.1,248.0L1288.6,246.7L1289.1,249.2L1289.7,249.0L1290.2,249.8L1290.8,247.7L1291.3,246.3L1291.9,245.8L1292.4,247.4L1293.0,248.9L1293.5,249.1L1294.1,253.8L1294.6,254.4L1295.2,259.4L1295.7,255.4L1296.3,251.6L1296.8,251.0L1297.4,250.6L1297.9,252.9L1298.4,255.1L1299.0,258.2L1299.5,260.3L1300.1,260.9L1300.6,258.3L1301.2,260.9L1301.7,257.5L1302.3,257.5L1302.8,255.2L1303.4,255.8L1303.9,253.6L1304.5,259.0L1305.0,258.1L1305.6,259.0L1306.1,259.1L1306.7,259.3L1307.2,258.4L1307.7,260.1L1308.3,260.8L1308.8,259.5L1309.4,259.5L1309.9,260.1L1310.5,259.3L1311.0,259.7L1311.6,256.2L1312.1,255.4L1312.7,258.5L1313.2,254.0L1313.8,254.1L1314.3,250.7L1314.9,252.1L1315.4,252.2L1315.9,249.9L1316.5,249.1L1317.0,249.9L1317.6,250.1L1318.1,252.1L1318.7,252.7L1319.2,251.7L1319.8,254.3L1320.3,254.9L1320.9,256.7L1321.4,256.6L1322.0,260.1L1322.5,261.1L1323.1,262.9L1323.6,263.2L1324.2,263.0L1324.7,264.6L1325.2,264.1L1325.8,263.2L1326.3,265.9L1326.9,264.1L1327.4,264.6L1328.0,261.4L1328.5,261.3L1329.1,260.2L1329.6,258.7L1330.2,258.6L1330.7,260.1L1331.3,259.0L1331.8,260.2L1332.4,257.9L1332.9,263.9L1333.5,266.8L1334.0,270.8L1334.5,274.6L1335.1,276.0L1335.6,274.4L1336.2,272.3L1336.7,267.7L1337.3,268.2L1337.8,268.1L1338.4,268.3L1338.9,268.6L1339.5,269.0L1340.0,266.6L1340.6,264.8L1341.1,267.4L1341.7,264.0L1342.2,266.1L1342.7,264.5L1343.3,264.6L1343.8,266.1L1344.4,269.0L1344.9,268.9" fill="none" stroke="#0a0a0a" stroke-width="2.10" stroke-linejoin="round" stroke-linecap="round" clip-path="url(#c11)"/>
<line x1="1028.7" y1="233.1" x2="1028.7" y2="381.9" stroke="#b44ba8" stroke-width="2.5" stroke-dasharray="10 10"/>
<line x1="785.80" y1="229.30" x2="1350.10" y2="229.30" stroke="#111" stroke-width="1.50"/>
<line x1="785.80" y1="381.90" x2="1350.10" y2="381.90" stroke="#111" stroke-width="1.50"/>
<line x1="785.80" y1="228.55" x2="785.80" y2="382.65" stroke="#111" stroke-width="1.50"/>
<line x1="1350.10" y1="228.55" x2="1350.10" y2="382.65" stroke="#111" stroke-width="1.50"/>
<line x1="785.80" y1="229.30" x2="775.80" y2="229.30" stroke="#222" stroke-width="1.40"/>
<line x1="785.80" y1="267.45" x2="775.80" y2="267.45" stroke="#222" stroke-width="1.40"/>
<line x1="785.80" y1="305.60" x2="775.80" y2="305.60" stroke="#222" stroke-width="1.40"/>
<line x1="785.80" y1="343.75" x2="775.80" y2="343.75" stroke="#222" stroke-width="1.40"/>
<line x1="785.80" y1="381.90" x2="775.80" y2="381.90" stroke="#222" stroke-width="1.40"/>
<line x1="1350.10" y1="229.30" x2="1360.10" y2="229.30" stroke="#222" stroke-width="1.40"/>
<line x1="1350.10" y1="267.45" x2="1360.10" y2="267.45" stroke="#222" stroke-width="1.40"/>
<line x1="1350.10" y1="305.60" x2="1360.10" y2="305.60" stroke="#222" stroke-width="1.40"/>
<line x1="1350.10" y1="343.75" x2="1360.10" y2="343.75" stroke="#222" stroke-width="1.40"/>
<line x1="1350.10" y1="381.90" x2="1360.10" y2="381.90" stroke="#222" stroke-width="1.40"/>
<line x1="785.40" y1="381.90" x2="785.40" y2="391.40" stroke="#333" stroke-width="1.40"/>
<line x1="799.13" y1="381.90" x2="799.13" y2="386.90" stroke="#333" stroke-width="1.40"/>
<line x1="812.86" y1="381.90" x2="812.86" y2="386.90" stroke="#333" stroke-width="1.40"/>
<line x1="826.59" y1="381.90" x2="826.59" y2="386.90" stroke="#333" stroke-width="1.40"/>
<line x1="840.32" y1="381.90" x2="840.32" y2="386.90" stroke="#333" stroke-width="1.40"/>
<line x1="854.05" y1="381.90" x2="854.05" y2="391.40" stroke="#333" stroke-width="1.40"/>
<line x1="867.78" y1="381.90" x2="867.78" y2="386.90" stroke="#333" stroke-width="1.40"/>
<line x1="881.51" y1="381.90" x2="881.51" y2="386.90" stroke="#333" stroke-width="1.40"/>
<line x1="895.24" y1="381.90" x2="895.24" y2="386.90" stroke="#333" stroke-width="1.40"/>
<line x1="908.97" y1="381.90" x2="908.97" y2="386.90" stroke="#333" stroke-width="1.40"/>
<line x1="922.70" y1="381.90" x2="922.70" y2="391.40" stroke="#333" stroke-width="1.40"/>
<line x1="936.87" y1="381.90" x2="936.87" y2="386.90" stroke="#333" stroke-width="1.40"/>
<line x1="951.04" y1="381.90" x2="951.04" y2="386.90" stroke="#333" stroke-width="1.40"/>
<line x1="965.22" y1="381.90" x2="965.22" y2="386.90" stroke="#333" stroke-width="1.40"/>
<line x1="979.39" y1="381.90" x2="979.39" y2="386.90" stroke="#333" stroke-width="1.40"/>
<line x1="993.56" y1="381.90" x2="993.56" y2="391.40" stroke="#333" stroke-width="1.40"/>
<line x1="1007.73" y1="381.90" x2="1007.73" y2="386.90" stroke="#333" stroke-width="1.40"/>
<line x1="1021.90" y1="381.90" x2="1021.90" y2="386.90" stroke="#333" stroke-width="1.40"/>
<line x1="1036.08" y1="381.90" x2="1036.08" y2="386.90" stroke="#333" stroke-width="1.40"/>
<line x1="1050.25" y1="381.90" x2="1050.25" y2="386.90" stroke="#333" stroke-width="1.40"/>
<line x1="1064.42" y1="381.90" x2="1064.42" y2="391.40" stroke="#333" stroke-width="1.40"/>
<line x1="1078.59" y1="381.90" x2="1078.59" y2="386.90" stroke="#333" stroke-width="1.40"/>
<line x1="1092.76" y1="381.90" x2="1092.76" y2="386.90" stroke="#333" stroke-width="1.40"/>
<line x1="1106.94" y1="381.90" x2="1106.94" y2="386.90" stroke="#333" stroke-width="1.40"/>
<line x1="1121.11" y1="381.90" x2="1121.11" y2="386.90" stroke="#333" stroke-width="1.40"/>
<line x1="1135.28" y1="381.90" x2="1135.28" y2="391.40" stroke="#333" stroke-width="1.40"/>
<line x1="1149.45" y1="381.90" x2="1149.45" y2="386.90" stroke="#333" stroke-width="1.40"/>
<line x1="1163.62" y1="381.90" x2="1163.62" y2="386.90" stroke="#333" stroke-width="1.40"/>
<line x1="1177.80" y1="381.90" x2="1177.80" y2="386.90" stroke="#333" stroke-width="1.40"/>
<line x1="1191.97" y1="381.90" x2="1191.97" y2="386.90" stroke="#333" stroke-width="1.40"/>
<line x1="1206.14" y1="381.90" x2="1206.14" y2="391.40" stroke="#333" stroke-width="1.40"/>
<line x1="1220.31" y1="381.90" x2="1220.31" y2="386.90" stroke="#333" stroke-width="1.40"/>
<line x1="1234.48" y1="381.90" x2="1234.48" y2="386.90" stroke="#333" stroke-width="1.40"/>
<line x1="1248.66" y1="381.90" x2="1248.66" y2="386.90" stroke="#333" stroke-width="1.40"/>
<line x1="1262.83" y1="381.90" x2="1262.83" y2="386.90" stroke="#333" stroke-width="1.40"/>
<line x1="1277.00" y1="381.90" x2="1277.00" y2="391.40" stroke="#333" stroke-width="1.40"/>
<line x1="1291.17" y1="381.90" x2="1291.17" y2="386.90" stroke="#333" stroke-width="1.40"/>
<line x1="1305.34" y1="381.90" x2="1305.34" y2="386.90" stroke="#333" stroke-width="1.40"/>
<line x1="1319.52" y1="381.90" x2="1319.52" y2="386.90" stroke="#333" stroke-width="1.40"/>
<line x1="1333.69" y1="381.90" x2="1333.69" y2="386.90" stroke="#333" stroke-width="1.40"/>
<line x1="1347.86" y1="381.90" x2="1347.86" y2="386.90" stroke="#333" stroke-width="1.40"/>
<text x="768.6" y="238.2" font-family="Liberation Serif" font-weight="bold" font-size="26.0" fill="#1e1e1e" text-anchor="end">W</text>
<text x="768.6" y="276.3" font-family="Liberation Serif" font-weight="bold" font-size="26.0" fill="#1e1e1e" text-anchor="end">S</text>
<text x="768.6" y="314.5" font-family="Liberation Serif" font-weight="bold" font-size="26.0" fill="#1e1e1e" text-anchor="end">E</text>
<text x="768.6" y="352.6" font-family="Liberation Serif" font-weight="bold" font-size="26.0" fill="#1e1e1e" text-anchor="end">N</text>
<text x="768.6" y="390.8" font-family="Liberation Serif" font-weight="bold" font-size="26.0" fill="#1e1e1e" text-anchor="end">W</text>
<text x="1367.6" y="238.2" font-family="Liberation Serif" font-weight="bold" font-size="26.0" fill="#1e1e1e" text-anchor="start">W</text>
<text x="1367.6" y="276.3" font-family="Liberation Serif" font-weight="bold" font-size="26.0" fill="#1e1e1e" text-anchor="start">S</text>
<text x="1367.6" y="314.5" font-family="Liberation Serif" font-weight="bold" font-size="26.0" fill="#1e1e1e" text-anchor="start">E</text>
<text x="1367.6" y="352.6" font-family="Liberation Serif" font-weight="bold" font-size="26.0" fill="#1e1e1e" text-anchor="start">N</text>
<text x="1367.6" y="390.8" font-family="Liberation Serif" font-weight="bold" font-size="26.0" fill="#1e1e1e" text-anchor="start">W</text>
<path d="M75.6,452.5L76.4,452.2L77.1,452.3L77.9,452.3L78.6,451.8L79.4,451.0L80.1,451.4L80.9,450.7L81.6,450.9L82.4,450.4L83.1,450.1L83.9,450.5L84.6,450.0L85.3,450.2L86.1,449.8L86.8,449.3L87.5,449.4L88.2,449.1L88.9,449.0L89.6,448.5L90.3,448.6L91.0,448.7L91.7,447.9L92.4,448.4L93.1,448.0L93.9,448.0L94.6,447.9L95.3,447.8L96.0,448.1L96.8,447.5L97.5,447.6L98.3,447.6L99.0,447.4L99.8,447.2L100.5,447.6L101.3,447.0L102.0,447.3L102.7,447.0L103.5,447.5L104.2,447.1L105.0,447.0L105.7,447.3L106.5,447.2L107.2,448.2L108.0,447.9L108.7,447.7L109.4,448.2L110.2,448.3L110.9,448.4L111.7,448.8L112.4,448.7L113.1,449.4L113.8,449.1L114.5,449.2L115.3,448.7L116.0,449.7L116.7,449.8L117.4,449.6L118.2,449.6L118.9,449.8L119.6,450.0L120.3,450.3L121.0,449.9L121.8,450.8L122.5,450.5L123.2,451.0L124.0,451.0L124.7,451.5L125.5,451.6L126.3,453.1L127.0,453.0L127.8,452.8L128.6,454.0L129.4,453.7L130.1,453.7L130.8,453.2L131.5,453.5L132.2,453.1L132.9,453.9L133.6,453.5L134.3,454.1L135.0,453.4L135.7,453.7L136.4,453.6L137.1,453.6L137.8,453.6L138.5,453.2L139.2,453.0L139.9,453.6L140.6,453.4L141.3,453.5L142.0,453.5L142.8,453.1L143.5,452.7L144.2,453.7L144.9,452.9L145.6,453.3L146.3,453.1L147.1,452.9L147.8,453.1L148.5,452.6L149.2,452.7L149.9,452.4L150.6,452.1L151.3,452.3L152.0,451.0L152.7,450.9L153.4,451.0L154.1,450.0L154.9,449.8L155.6,449.5L156.3,449.5L157.0,448.7L157.7,448.3L158.5,448.0L159.3,448.1L160.0,447.1L160.8,447.3L161.5,447.8L162.2,447.5L163.0,447.3L163.7,447.6L164.4,447.7L165.2,447.8L165.9,448.0L166.6,448.1L167.4,447.4L168.1,446.9L168.8,447.4L169.6,447.3L170.3,447.5L171.0,447.9L171.7,448.0L172.4,447.5L173.1,447.8L173.9,448.9L174.6,448.8L175.3,449.3L176.0,449.7L176.7,449.9L177.4,450.6L178.2,450.5L178.9,450.4L179.6,450.2L180.4,450.5L181.1,450.8L181.8,450.9L182.6,451.2L183.3,450.8L184.0,451.0L184.8,450.4L185.5,450.3L186.2,450.8L186.9,450.5L187.7,450.6L188.4,451.0L189.1,450.4L189.8,451.4L190.5,451.0L191.2,451.7L191.9,451.6L192.6,451.9L193.3,451.7L194.0,452.3L194.7,452.6L195.4,452.6L196.1,453.2L196.8,453.0L197.5,454.2L198.2,453.8L198.9,454.6L199.7,454.8L200.4,454.5L201.1,454.6L201.8,453.9L202.5,454.0L203.3,454.0L204.0,453.3L204.7,453.9L205.4,453.6L206.2,453.8L206.9,453.7L207.6,453.5L208.3,454.1L209.0,454.3L209.8,454.3L210.5,453.9L211.2,454.0L211.9,453.7L212.7,453.7L213.4,453.7L214.1,452.5L214.9,452.9L215.6,452.3L216.3,452.4L217.1,452.2L217.8,451.8L218.5,451.4L219.2,450.8L219.9,451.5L220.6,451.3L221.3,450.5L222.0,450.9L222.7,450.0L223.4,449.9L224.1,449.6L224.8,449.5L225.5,449.2L226.2,449.2L226.9,448.7L227.6,448.4L228.4,448.1L229.1,447.9L229.8,447.4L230.5,447.1L231.2,446.9L231.9,447.2L232.6,447.7L233.3,447.7L234.0,448.1L234.7,448.9L235.4,448.9L236.1,449.7L236.8,449.9L237.5,450.4L238.2,450.4L238.9,450.5L239.6,450.9L240.4,450.6L241.1,451.1L241.8,451.4L242.5,451.7L243.2,451.4L243.9,451.2L244.6,451.8L245.3,452.2L246.0,452.3L246.7,451.8L247.4,452.4L248.1,452.7L248.8,452.7L249.5,452.9L250.2,453.1L250.9,452.9L251.6,453.7L252.4,453.8L253.1,453.8L253.8,453.4L254.5,454.1L255.2,453.9L255.9,454.0L256.6,453.6L257.3,454.0L258.0,454.2L258.7,454.2L259.4,454.3L260.1,454.9L260.8,455.0L261.5,454.3L262.2,455.2L262.9,454.6L263.6,455.2L264.4,455.5L265.1,455.2L265.8,455.5L266.5,454.9L267.2,455.0L267.9,455.4L268.6,455.2L269.3,455.0L270.0,455.3L270.7,455.3L271.4,455.5L272.1,455.2L272.8,455.3L273.5,455.1L274.2,455.5L274.9,455.7L275.6,456.1L276.4,455.8L277.1,455.8L277.8,455.6L278.5,456.0L279.2,456.1L279.9,456.1L280.6,456.3L281.3,456.2L282.0,457.0L282.7,457.0L283.4,457.1L284.1,457.0L284.8,457.6L285.5,457.8L286.2,457.8L286.9,458.0L287.6,458.3L288.4,460.0L289.1,461.1L289.8,462.0L290.5,463.2L291.2,463.7L291.9,467.9L292.6,471.6L293.3,475.9L294.0,479.4L294.7,483.8L295.4,486.4L296.1,488.5L296.8,490.5L297.5,493.3L298.2,495.7L298.9,495.7L299.6,494.6L300.4,494.0L301.1,493.5L301.8,492.9L302.5,492.7L303.2,492.4L303.9,492.2L304.6,492.3L305.3,492.8L306.0,493.2L306.7,493.4L307.4,493.3L308.1,493.3L308.8,494.0L309.5,493.8L310.2,495.4L310.9,495.6L311.6,496.9L312.4,497.7L313.1,499.0L313.8,499.9L314.5,500.9L315.2,501.4L315.9,502.1L316.6,502.8L317.3,504.0L318.0,504.8L318.7,504.6L319.4,505.6L320.1,506.0L320.8,506.6L321.5,507.4L322.2,508.6L322.9,509.0L323.6,509.2L324.4,509.2L325.1,509.8L325.8,509.4L326.5,509.9L327.2,509.7L327.9,510.4L328.6,510.4L329.3,510.9L330.0,510.3L330.7,510.5L331.4,510.3L332.1,511.1L332.8,510.8L333.5,511.6L334.2,511.8L334.9,512.4L335.6,511.9L336.4,512.7L337.1,512.9L337.8,513.0L338.5,513.1L339.2,513.5L339.9,513.7L340.6,513.4L341.3,513.4L342.0,513.7L342.7,513.7L343.4,513.6L344.1,513.8L344.8,513.6L345.5,512.8L346.2,513.1L346.9,513.6L347.6,513.0L348.4,513.1L349.1,513.1L349.8,512.5L350.5,512.8L351.2,512.8L351.9,512.2L352.6,512.5L353.3,512.4L354.0,512.7L354.7,513.0L355.4,513.4L356.1,513.0L356.9,513.8L357.6,513.5L358.3,513.6L359.0,513.8L359.7,513.4L360.4,513.6L361.2,513.0L361.9,512.7L362.6,512.7L363.3,512.9L364.0,512.2L364.7,511.3L365.5,511.1L366.2,510.3L366.9,510.0L367.6,509.4L368.3,509.1L369.0,508.4L369.7,508.1L370.5,507.6L371.2,507.2L372.0,507.3L372.8,506.5L373.5,506.9L374.3,506.5L375.1,505.9L375.8,505.4L376.6,505.6L377.4,505.2L378.2,504.9L379.1,505.1L379.9,505.4L380.7,504.9L381.5,505.3L382.3,504.6L383.2,504.4L384.0,505.3L384.8,505.0L385.5,504.5L386.2,503.8L386.9,503.8L387.6,503.0L388.3,502.6L389.0,502.4L389.7,501.5L390.4,501.1L391.1,501.7L391.9,502.7L392.6,502.7L393.3,502.9L394.0,503.4L394.7,503.0L395.5,502.8L396.2,502.8L396.9,502.3L397.7,502.1L398.4,501.3L399.1,501.2L399.8,501.5L400.6,500.7L401.3,501.2L402.0,501.2L402.7,500.5L403.4,500.5L404.1,500.6L404.8,500.0L405.6,500.5L406.3,500.3L407.0,500.6L407.8,501.0L408.5,501.9L409.3,501.9L410.0,502.0L410.7,502.1L411.5,502.8L412.2,503.7L413.0,503.5L413.7,504.3L414.5,504.7L415.2,506.4L416.0,508.3L416.8,509.9L417.5,512.0L418.4,511.1L419.2,512.0L420.0,511.7L420.8,511.6L421.6,512.3L422.4,511.7L423.1,511.2L423.8,511.0L424.6,509.8L425.3,509.5L426.0,509.5L426.7,508.9L427.5,506.4L428.3,504.3L429.0,502.7L429.8,500.4L430.5,500.3L431.2,500.6L432.0,499.9L432.7,499.8L433.4,500.0L434.1,499.9L434.8,498.8L435.5,498.8L436.3,498.4L437.0,498.3L437.7,498.3L438.4,498.4L439.2,498.8L439.9,498.3L440.6,498.3L441.4,498.3L442.1,497.8L442.8,498.4L443.6,498.2L444.3,498.6L445.0,498.4L445.8,498.2L446.5,498.1L447.2,498.6L447.9,498.4L448.7,498.6L449.4,498.2L450.1,498.3L450.9,498.4L451.6,498.5L452.3,497.8L453.1,498.9L453.8,499.7L454.5,499.8L455.3,500.5L456.0,500.0L456.7,500.2L457.4,500.4L458.2,501.3L458.9,501.0L459.6,501.5L460.4,501.7L461.1,501.7L461.8,502.1L462.6,502.6L463.3,502.6L464.0,502.9L464.8,502.6L465.5,503.5L466.2,502.5L466.9,503.0L467.7,503.4L468.4,503.4L469.1,504.0L469.9,503.8L470.6,504.6L471.3,504.3L472.1,504.5L472.8,504.2L473.5,504.8L474.3,504.7L475.0,504.3L475.7,505.4L476.4,505.0L477.2,505.4L477.9,505.3L478.6,505.6L479.4,505.7L480.1,505.7L480.8,505.8L481.6,505.7L482.3,506.2L483.0,506.0L483.8,506.5L484.5,506.2L485.2,506.4L486.0,506.7L486.7,506.1L487.4,505.7L488.1,506.2L488.9,506.1L489.6,506.0L490.3,505.9L491.1,505.6L491.8,506.0L492.5,505.7L493.3,505.9L494.0,505.8L494.8,506.2L495.6,505.5L496.3,505.4L497.1,505.8L497.9,505.9L498.6,505.9L499.4,505.5L500.2,505.3L500.9,505.4L501.7,505.5L502.4,506.0L503.1,505.9L503.9,505.8L504.6,506.2L505.3,505.6L506.0,506.1L506.8,506.5L507.5,505.9L508.2,506.7L509.0,507.0L509.7,506.4L510.4,506.7L511.1,507.1L511.9,506.9L512.6,507.0L513.3,506.5L514.1,507.1L514.8,506.8L515.5,506.8L516.3,506.8L517.0,506.4L517.7,505.9L518.4,505.7L519.2,506.2L519.9,506.2L520.6,506.5L521.4,506.5L522.1,506.3L522.8,506.5L523.5,506.4L524.3,506.2L525.0,506.5L525.7,506.5L526.5,506.4L527.2,506.0L527.9,506.0L528.6,506.2L529.4,506.3L530.1,506.3L530.8,506.6L531.6,506.8L532.3,507.2L533.0,506.9L533.8,507.4L534.5,506.8L535.2,506.9L535.9,506.9L536.6,507.0L537.3,507.1L538.0,507.3L538.7,506.3L539.5,506.3L540.2,506.5L540.9,506.7L541.6,506.9L542.3,506.6L543.0,506.9L543.7,507.0L544.5,507.3L545.2,507.3L545.9,506.9L546.6,507.5L547.3,508.0L548.0,507.7L548.7,507.6L549.4,508.1L550.2,507.5L550.9,507.8L551.6,507.5L552.4,508.1L553.1,507.9L553.8,508.0L554.5,507.5L555.3,508.6L556.0,508.1L556.7,508.3L557.5,508.5L558.2,508.6L558.9,508.6L559.6,509.4L560.4,509.3L561.1,509.3L561.8,509.5L562.6,509.0L563.3,509.5L564.0,509.3L564.7,509.2L565.5,509.1L566.2,508.7L566.9,508.9L567.7,508.4L568.4,508.5L569.1,508.9L569.9,508.3L570.6,508.7L571.3,508.6L572.0,508.4L572.8,507.9L573.5,507.8L574.2,507.3L575.0,507.0L575.7,507.1L576.4,506.3L577.1,506.1L577.9,505.7L578.6,505.6L579.3,505.4L580.1,505.3L580.8,505.1L581.5,504.7L582.2,504.5L583.0,504.4L583.7,504.4L584.4,504.1L585.2,503.6L585.9,503.6L586.6,504.0L587.4,503.6L588.1,503.7L588.8,503.6L589.5,503.2L590.3,503.3L591.0,503.7L591.7,503.2L592.5,503.3L593.2,503.4L593.9,503.5L594.6,503.5L595.4,503.7L596.1,503.9L596.8,504.2L597.6,503.9L598.3,504.7L599.0,503.9L599.8,504.4L600.5,504.2L601.2,504.8L601.9,505.7L602.7,505.3L603.4,505.4L604.1,506.0L604.9,505.9L605.6,506.0L606.3,505.7L607.0,506.1L607.8,506.3L608.5,506.4L609.2,507.1L610.0,506.7L610.7,507.0L611.4,506.3L612.1,507.6L612.9,507.0L613.6,507.8L614.3,508.0L615.1,507.8L615.8,508.0L616.5,508.0L617.2,507.5L617.9,508.2L618.6,507.6L619.4,507.9L620.1,507.9L620.8,508.0L621.5,508.0L622.2,507.9L622.9,507.8L623.6,508.3L624.4,508.1L625.1,508.5L625.8,508.8L626.5,508.1L627.2,508.4L627.9,508.3L628.6,508.8L629.3,508.2L630.1,508.5L630.8,508.7L631.5,508.7L632.2,507.9L632.9,508.5L633.7,508.8L634.4,508.8L635.2,508.6L635.9,508.6L636.7,509.0L637.4,508.7L638.2,508.4L638.9,508.6L639.7,509.3L640.4,509.0" fill="none" stroke="#ec1c24" stroke-width="2.50" stroke-linejoin="round" stroke-linecap="round" clip-path="url(#c02)"/>
<path d="M75.6,466.8L76.1,459.2L76.8,457.2L77.5,456.9L78.2,455.3L78.9,455.8L79.6,458.0L80.2,459.7L80.8,458.1L81.5,457.2L82.1,455.9L82.7,455.5L83.3,455.2L83.9,454.0L84.6,453.7L85.2,453.6L85.9,454.9L86.5,453.4L87.1,453.8L87.8,453.1L88.4,452.9L88.9,458.1L89.7,456.2L90.5,454.0L91.1,453.1L91.7,453.4L92.3,452.7L92.9,452.4L93.5,452.8L94.1,451.5L94.8,450.7L95.4,452.1L96.0,451.8L96.6,450.4L97.3,452.6L98.0,451.4L98.7,453.5L99.7,476.8L100.4,467.8L101.0,460.8L101.7,453.0L102.4,452.1L103.0,452.2L103.6,452.1L104.3,451.8L104.9,451.6L105.6,451.8L106.2,450.4L106.8,450.1L107.5,451.4L108.2,451.1L108.9,451.5L109.6,451.1L110.2,450.7L110.9,451.9L111.7,482.6L112.5,513.5L113.2,501.5L114.0,489.7L115.0,455.4L115.7,456.6L116.4,457.8L117.1,459.3L117.8,458.1L118.4,456.8L119.1,457.3L119.8,456.9L120.5,455.5L121.2,455.2L121.8,455.5L122.4,454.9L123.0,455.1L123.6,453.3L124.2,454.6L124.8,454.8L125.5,456.0L126.1,456.7L126.7,457.6L127.3,458.1L128.0,458.5L128.7,458.1L129.4,458.2L130.0,459.8L130.7,459.9L131.4,459.2L132.1,460.5L132.8,458.4L133.4,458.6L134.1,458.7L134.8,457.6L135.5,458.7L136.5,481.4L137.2,476.8L137.9,470.1L138.6,464.4L139.2,464.9L139.9,465.2L140.6,465.0L141.4,457.4L142.1,451.4L142.9,452.7L143.7,454.1L144.7,471.1L145.4,464.7L146.1,458.9L146.7,452.2L147.4,451.7L148.0,452.4L148.6,452.1L149.2,451.0L149.8,451.5L150.8,470.5L151.9,452.1L152.5,452.1L153.1,451.5L153.8,451.6L154.4,452.3L155.1,452.2L155.7,451.0L156.3,450.7L157.0,450.9L157.6,452.0L158.2,451.5L158.8,452.3L159.4,451.8L160.0,451.9L161.1,485.1L161.8,478.3L162.4,471.8L163.1,465.2L163.8,463.8L164.5,463.9L165.2,463.0L165.8,459.8L166.4,457.7L167.0,454.6L167.6,452.3L168.2,449.7L168.9,449.7L169.5,449.1L170.2,448.0L170.8,447.3L171.6,451.4L172.3,458.2L173.0,457.8L173.6,457.4L174.2,456.2L174.9,456.0L175.5,455.4L176.2,454.1L176.8,454.5L177.4,453.1L178.1,454.6L178.7,455.6L179.3,456.4L179.9,459.1L180.5,459.6L181.2,458.1L181.9,455.0L182.6,452.3L183.2,456.1L183.9,460.9L184.6,465.3L185.2,463.0L185.8,461.8L186.5,461.5L187.1,461.7L187.7,461.1L188.3,460.8L189.0,461.1L189.6,461.3L190.2,462.1L190.9,461.2L191.5,461.0L192.2,460.5L192.8,460.6L193.5,460.3L194.2,458.9L194.8,456.5L195.5,457.3L196.2,458.8L196.9,458.6L197.7,468.3L198.4,476.8L199.2,468.0L200.0,460.2L200.6,461.5L201.3,460.5L202.0,460.6L202.7,460.4L203.4,460.4L204.1,458.9L204.7,459.8L205.4,459.6L206.1,459.5L206.6,474.5L207.4,467.2L208.1,460.7L208.9,469.5L209.7,476.7L210.4,468.7L211.2,461.4L212.0,461.0L212.8,460.0L213.5,460.5L214.2,467.7L214.9,474.1L215.6,482.2L216.4,478.6L217.1,476.4L217.8,473.4L218.5,465.5L219.2,456.3L219.8,454.9L220.4,455.2L221.0,455.9L221.6,455.6L222.3,455.7L222.9,455.8L223.5,456.1L224.1,454.3L224.8,454.5L225.5,455.3L226.2,455.3L226.9,463.7L227.6,472.0L228.4,470.2L229.1,468.4L229.8,467.3L230.5,465.4L231.2,462.9L231.9,461.0L232.6,459.2L233.3,456.0L234.0,453.0L234.7,453.0L235.4,450.4L236.1,450.1L236.8,449.1L237.5,452.6L238.2,456.9L238.9,489.7L239.6,471.9L240.4,455.2L241.1,478.2L241.8,499.5L242.5,489.4L243.2,479.1L243.9,468.2L244.6,468.5L245.3,468.6L246.0,468.3L246.7,474.6L247.4,480.7L248.1,478.4L248.8,478.2L249.5,475.6L250.2,475.3L250.9,474.2L251.6,471.5L252.4,470.7L253.1,469.8L253.8,469.1L254.5,469.4L255.2,470.3L255.9,471.6L256.6,471.0L257.3,469.6L258.0,465.6L258.7,463.3L259.3,462.5L259.9,462.4L260.5,461.5L261.1,461.4L261.7,461.3L262.3,460.2L262.9,459.8L263.6,459.0L264.4,459.5L265.1,460.1L265.8,458.8L266.5,459.2L267.6,509.0L268.4,492.9L269.3,474.7L270.0,483.7L270.7,493.7L271.4,489.1L272.1,484.5L272.8,479.5L273.5,475.4L274.1,476.8L274.7,475.6L275.3,475.6L275.9,474.4L276.6,473.6L277.2,472.9L277.8,472.4L278.4,474.9L279.0,474.2L279.6,476.1L280.2,477.5L280.8,478.2L281.4,478.9L282.0,479.6L282.7,490.4L283.4,500.0L284.1,501.7L284.8,503.2L285.5,504.5L286.2,505.0L286.9,509.1L287.6,514.2L288.4,520.1L289.1,519.3L289.8,518.9L290.5,518.0L291.2,519.0L291.9,517.8L292.5,519.0L293.1,519.9L293.8,519.7L294.4,520.9L295.0,520.1L295.6,520.1L296.3,520.8L296.9,521.8L297.5,522.0L298.2,522.1L298.8,522.6L299.4,522.4L300.0,522.2L300.7,522.7L301.3,522.0L301.9,522.3L302.5,523.3L303.2,521.8L303.9,527.3L304.6,531.1L305.3,536.2L306.0,540.8L306.7,529.9L307.4,519.2L308.1,509.4L308.8,499.5L309.5,505.9L310.2,512.5L310.9,519.9L311.6,512.7L312.4,505.2L313.1,499.8L313.8,492.4L314.5,485.6L315.1,487.0L315.8,486.5L316.4,485.2L317.0,484.9L317.7,485.1L318.3,484.1L319.0,483.4L319.6,482.3L320.2,482.2L320.9,481.1L321.5,481.8L322.2,483.6L322.9,487.3L323.6,489.6L324.4,493.7L325.1,488.6L325.8,485.0L326.5,492.0L327.2,500.6L327.9,507.5L328.6,514.5L329.2,516.7L329.8,516.7L330.5,517.6L331.1,518.3L331.7,518.3L332.4,519.1L333.0,519.6L333.6,521.5L334.2,523.2L334.9,523.1L335.6,524.6L336.4,524.7L337.1,526.3L337.8,521.2L338.5,514.8L339.2,508.9L339.9,503.3L340.6,520.4L341.3,536.6L342.0,552.8L342.7,550.5L343.4,546.8L344.1,545.2L344.8,541.9L345.5,532.6L346.2,522.0L346.9,510.9L347.6,501.3L348.4,509.7L349.1,519.8L349.8,529.6L350.5,521.5L351.2,512.9L351.9,504.4L352.6,496.2L353.3,497.0L354.1,495.5L354.8,495.7L355.5,493.9L356.1,494.7L356.8,495.2L357.4,496.2L358.1,497.3L358.7,498.1L359.4,497.5L360.1,496.1L360.7,494.3L361.4,493.5L362.1,492.4L362.8,490.2L363.4,492.8L364.1,494.1L364.7,494.1L365.3,495.2L366.0,494.7L366.7,493.9L367.4,494.3L368.1,493.6L368.8,492.5L369.4,492.8L370.1,491.9L370.7,491.3L371.4,491.7L372.0,489.9L372.6,487.9L373.3,486.7L373.9,486.1L374.6,483.9L375.2,485.3L375.8,487.8L376.5,491.0L377.1,492.3L377.8,489.9L378.4,488.4L379.0,487.2L379.7,486.1L380.4,485.7L381.0,484.3L381.7,483.9L382.4,484.2L383.1,484.2L383.8,482.3L384.4,482.4L385.0,484.6L385.7,483.2L386.3,484.3L387.0,483.5L387.6,483.6L388.2,485.0L388.9,485.7L389.7,492.4L390.4,498.5L391.4,498.5L392.1,494.7L392.7,491.8L393.4,488.8L394.0,486.0L394.7,488.7L395.4,490.6L396.0,493.3L396.7,490.8L397.4,488.5L398.1,486.6L398.7,488.0L399.4,488.0L400.0,489.4L400.7,490.8L401.3,490.8L401.9,492.2L402.6,492.3L403.2,494.0L403.9,493.3L404.5,492.3L405.1,493.0L405.8,492.2L406.4,490.7L407.0,492.1L407.7,491.9L408.3,490.8L409.0,490.7L409.6,491.6L410.2,492.6L410.9,492.7L411.5,493.7L412.2,493.6L412.8,495.8L413.4,496.3L414.1,496.8L414.8,497.7L415.5,498.4L416.2,499.7L416.9,499.7L417.5,499.8L418.2,502.1L418.9,502.2L419.5,502.3L420.2,503.6L420.8,505.2L421.5,506.8L422.1,507.5L422.9,506.9L423.6,505.6L424.3,507.4L425.0,506.3L425.7,506.0L426.4,504.1L427.1,503.2L427.8,503.0L428.4,500.8L429.0,498.4L429.6,496.0L430.2,493.6L430.8,491.0L431.5,491.6L432.1,493.1L432.7,494.2L433.3,494.0L433.9,494.1L434.5,495.3L435.1,495.3L435.8,496.0L436.4,496.8L437.0,498.6L437.7,496.6L438.3,494.8L439.0,493.1L439.7,491.9L440.3,492.6L440.9,492.9L441.6,493.2L442.2,491.9L442.9,491.6L443.5,490.3L444.1,489.9L444.8,491.7L445.4,491.6L446.0,492.1L446.6,493.3L447.2,493.1L447.9,492.6L448.6,491.9L449.3,492.1L449.9,491.2L450.6,489.5L451.3,489.3L452.0,489.9L452.7,489.3L453.4,489.3L454.0,490.1L454.7,489.4L455.4,490.2L455.9,527.9L456.5,525.5L457.2,521.0L457.8,518.8L458.5,516.0L459.2,519.3L460.0,522.2L460.8,516.4L461.5,510.4L462.2,510.8L462.9,511.4L463.6,512.5L464.2,509.6L464.9,505.2L465.5,503.0L466.1,500.3L466.8,500.4L467.4,501.4L468.1,502.9L468.7,503.9L469.3,506.7L469.9,507.3L470.5,510.3L471.2,512.0L471.8,514.2L472.5,507.9L473.1,503.7L473.8,498.8L474.8,509.9L475.5,511.4L476.1,511.4L476.7,512.1L477.3,513.9L477.9,513.7L478.6,513.6L479.3,513.0L480.0,512.3L480.6,513.4L481.3,511.6L482.0,511.1L482.7,507.8L483.4,507.0L484.1,505.1L484.7,504.8L485.4,506.5L486.1,506.5L486.8,503.5L487.5,502.0L488.2,499.5L489.0,497.5L489.7,495.2L490.4,494.4L491.1,493.8L491.8,494.0L492.5,492.3L493.3,493.5L494.4,493.6L495.1,493.4L495.7,493.2L496.4,492.2L497.1,492.8L498.2,511.7L499.0,500.9L499.8,492.0L500.5,490.6L501.2,489.6L501.9,488.3L502.6,485.1L503.7,525.8L504.4,517.3L505.1,507.7L505.9,499.8L506.7,517.0L507.5,533.7L508.2,536.3L509.0,538.6L509.7,542.2L510.4,533.6L511.1,525.2L511.9,515.8L512.7,513.2L513.5,509.3L514.2,508.9L514.8,508.3L515.4,507.5L516.1,506.8L516.7,507.1L517.3,506.1L518.0,505.9L518.7,506.5L519.3,505.6L520.0,506.2L520.6,505.3L521.7,493.5L522.4,493.8L523.0,490.8L523.7,491.5L524.3,490.2L525.0,490.6L525.7,490.3L526.4,488.9L527.1,490.1L527.7,490.2L528.8,523.6L529.5,518.4L530.2,514.3L530.9,509.4L531.6,505.2L532.3,501.5L533.0,498.7L533.8,494.3L534.4,494.1L535.0,493.8L535.6,494.3L536.3,492.7L536.9,491.9L537.5,491.5L538.1,491.3L538.7,490.2L539.3,489.2L540.0,489.1L540.6,488.8L541.2,488.1L541.8,488.1L542.4,487.2L543.0,486.7L543.6,485.7L544.3,493.1L545.1,498.5L545.8,504.7L546.4,503.2L547.1,500.8L547.8,500.4L548.4,498.8L549.1,496.9L549.8,496.3L550.5,497.5L551.3,496.9L552.1,514.5L552.9,531.9L553.6,527.4L554.3,524.9L554.9,520.7L555.6,516.6L556.7,544.5L557.5,535.4L558.2,526.8L558.9,517.2L559.7,538.4L560.6,556.6L561.3,552.7L562.0,548.0L562.7,544.1L563.6,530.5L564.4,515.8L565.1,514.9L565.8,511.2L566.6,510.9L567.2,505.7L567.9,500.6L568.5,495.5L569.2,492.0L569.9,486.1L570.5,487.4L571.1,486.7L571.7,485.8L572.3,486.0L572.9,485.9L573.5,485.7L574.1,484.8L574.7,485.4L575.3,486.7L575.9,487.0L576.5,487.5L577.1,487.2L577.8,488.0L578.4,489.1L579.0,489.3L579.6,489.8L580.2,489.5L580.8,490.1L581.4,489.2L582.0,488.9L582.6,488.3L583.2,488.3L583.8,487.2L584.4,487.2L585.0,487.7L585.7,486.1L586.3,486.5L586.5,503.6L587.1,500.2L587.8,498.6L588.4,496.8L589.1,495.7L589.8,494.1L590.4,493.5L591.1,491.7L591.7,490.6L592.4,492.3L593.0,491.4L593.6,492.4L594.2,492.5L594.9,493.9L595.5,493.8L596.1,495.2L596.8,492.2L597.4,490.2L598.1,488.0L598.7,486.2L599.4,484.0L600.5,488.4L601.1,488.5L601.7,489.1L602.4,488.5L603.0,488.6L603.6,488.3L604.2,488.1L604.9,488.4L605.5,487.9L606.2,489.3L606.8,487.9L607.5,488.1L608.1,488.6L608.8,490.1L609.4,488.9L610.1,490.2L610.8,489.9L611.4,490.7L612.0,511.0L612.6,506.9L613.3,501.6L614.0,496.7L614.7,491.6L615.4,492.2L616.2,492.1L616.9,491.2L617.6,500.5L618.3,509.3L619.1,518.9L619.8,509.9L620.5,501.8L621.3,494.5L621.9,495.2L622.5,495.0L623.1,494.9L623.8,495.6L624.4,495.8L625.0,497.0L625.6,496.5L626.3,496.5L626.9,496.4L627.5,496.4L628.1,495.9L628.8,494.6L629.4,494.9L630.0,494.9L630.6,494.9L631.2,494.4L631.9,494.1L632.5,496.2L633.1,495.6L633.7,495.6L634.3,496.4L634.9,497.0L635.7,492.9L636.4,488.3L637.1,484.0L637.8,484.7L638.4,484.1L639.1,484.3L639.7,483.2L640.4,483.8" fill="none" stroke="#2f4d9f" stroke-width="2.90" stroke-linejoin="round" stroke-linecap="round" clip-path="url(#c02)"/>
<line x1="293.2" y1="428.4" x2="293.2" y2="577.2" stroke="#b44ba8" stroke-width="2.5" stroke-dasharray="10 10"/>
<line x1="75.80" y1="424.60" x2="640.30" y2="424.60" stroke="#222" stroke-width="1.50"/>
<line x1="75.80" y1="577.20" x2="640.30" y2="577.20" stroke="#222" stroke-width="1.50"/>
<line x1="75.80" y1="423.85" x2="75.80" y2="577.95" stroke="#222" stroke-width="1.50"/>
<line x1="640.30" y1="423.85" x2="640.30" y2="577.95" stroke="#222" stroke-width="1.50"/>
<line x1="75.80" y1="424.60" x2="65.80" y2="424.60" stroke="#333" stroke-width="1.40"/>
<line x1="75.80" y1="434.14" x2="70.80" y2="434.14" stroke="#333" stroke-width="1.40"/>
<line x1="75.80" y1="443.68" x2="70.80" y2="443.68" stroke="#333" stroke-width="1.40"/>
<line x1="75.80" y1="453.21" x2="70.80" y2="453.21" stroke="#333" stroke-width="1.40"/>
<line x1="75.80" y1="462.75" x2="65.80" y2="462.75" stroke="#333" stroke-width="1.40"/>
<line x1="75.80" y1="472.29" x2="70.80" y2="472.29" stroke="#333" stroke-width="1.40"/>
<line x1="75.80" y1="481.83" x2="70.80" y2="481.83" stroke="#333" stroke-width="1.40"/>
<line x1="75.80" y1="491.36" x2="70.80" y2="491.36" stroke="#333" stroke-width="1.40"/>
<line x1="75.80" y1="500.90" x2="65.80" y2="500.90" stroke="#333" stroke-width="1.40"/>
<line x1="75.80" y1="510.44" x2="70.80" y2="510.44" stroke="#333" stroke-width="1.40"/>
<line x1="75.80" y1="519.98" x2="70.80" y2="519.98" stroke="#333" stroke-width="1.40"/>
<line x1="75.80" y1="529.51" x2="70.80" y2="529.51" stroke="#333" stroke-width="1.40"/>
<line x1="75.80" y1="539.05" x2="65.80" y2="539.05" stroke="#333" stroke-width="1.40"/>
<line x1="75.80" y1="548.59" x2="70.80" y2="548.59" stroke="#333" stroke-width="1.40"/>
<line x1="75.80" y1="558.12" x2="70.80" y2="558.12" stroke="#333" stroke-width="1.40"/>
<line x1="75.80" y1="567.66" x2="70.80" y2="567.66" stroke="#333" stroke-width="1.40"/>
<line x1="75.80" y1="577.20" x2="65.80" y2="577.20" stroke="#333" stroke-width="1.40"/>
<line x1="75.50" y1="577.20" x2="75.50" y2="586.70" stroke="#333" stroke-width="1.40"/>
<line x1="89.67" y1="577.20" x2="89.67" y2="582.20" stroke="#333" stroke-width="1.40"/>
<line x1="103.83" y1="577.20" x2="103.83" y2="582.20" stroke="#333" stroke-width="1.40"/>
<line x1="118.00" y1="577.20" x2="118.00" y2="582.20" stroke="#333" stroke-width="1.40"/>
<line x1="132.16" y1="577.20" x2="132.16" y2="582.20" stroke="#333" stroke-width="1.40"/>
<line x1="146.33" y1="577.20" x2="146.33" y2="586.70" stroke="#333" stroke-width="1.40"/>
<line x1="160.50" y1="577.20" x2="160.50" y2="582.20" stroke="#333" stroke-width="1.40"/>
<line x1="174.66" y1="577.20" x2="174.66" y2="582.20" stroke="#333" stroke-width="1.40"/>
<line x1="188.83" y1="577.20" x2="188.83" y2="582.20" stroke="#333" stroke-width="1.40"/>
<line x1="202.99" y1="577.20" x2="202.99" y2="582.20" stroke="#333" stroke-width="1.40"/>
<line x1="217.16" y1="577.20" x2="217.16" y2="586.70" stroke="#333" stroke-width="1.40"/>
<line x1="231.33" y1="577.20" x2="231.33" y2="582.20" stroke="#333" stroke-width="1.40"/>
<line x1="245.49" y1="577.20" x2="245.49" y2="582.20" stroke="#333" stroke-width="1.40"/>
<line x1="259.66" y1="577.20" x2="259.66" y2="582.20" stroke="#333" stroke-width="1.40"/>
<line x1="273.82" y1="577.20" x2="273.82" y2="582.20" stroke="#333" stroke-width="1.40"/>
<line x1="287.99" y1="577.20" x2="287.99" y2="586.70" stroke="#333" stroke-width="1.40"/>
<line x1="302.16" y1="577.20" x2="302.16" y2="582.20" stroke="#333" stroke-width="1.40"/>
<line x1="316.32" y1="577.20" x2="316.32" y2="582.20" stroke="#333" stroke-width="1.40"/>
<line x1="330.49" y1="577.20" x2="330.49" y2="582.20" stroke="#333" stroke-width="1.40"/>
<line x1="344.65" y1="577.20" x2="344.65" y2="582.20" stroke="#333" stroke-width="1.40"/>
<line x1="358.82" y1="577.20" x2="358.82" y2="586.70" stroke="#333" stroke-width="1.40"/>
<line x1="372.99" y1="577.20" x2="372.99" y2="582.20" stroke="#333" stroke-width="1.40"/>
<line x1="387.15" y1="577.20" x2="387.15" y2="582.20" stroke="#333" stroke-width="1.40"/>
<line x1="401.32" y1="577.20" x2="401.32" y2="582.20" stroke="#333" stroke-width="1.40"/>
<line x1="415.48" y1="577.20" x2="415.48" y2="582.20" stroke="#333" stroke-width="1.40"/>
<line x1="429.65" y1="577.20" x2="429.65" y2="586.70" stroke="#333" stroke-width="1.40"/>
<line x1="443.82" y1="577.20" x2="443.82" y2="582.20" stroke="#333" stroke-width="1.40"/>
<line x1="457.98" y1="577.20" x2="457.98" y2="582.20" stroke="#333" stroke-width="1.40"/>
<line x1="472.15" y1="577.20" x2="472.15" y2="582.20" stroke="#333" stroke-width="1.40"/>
<line x1="486.31" y1="577.20" x2="486.31" y2="582.20" stroke="#333" stroke-width="1.40"/>
<line x1="500.48" y1="577.20" x2="500.48" y2="586.70" stroke="#333" stroke-width="1.40"/>
<line x1="514.65" y1="577.20" x2="514.65" y2="582.20" stroke="#333" stroke-width="1.40"/>
<line x1="528.81" y1="577.20" x2="528.81" y2="582.20" stroke="#333" stroke-width="1.40"/>
<line x1="542.98" y1="577.20" x2="542.98" y2="582.20" stroke="#333" stroke-width="1.40"/>
<line x1="557.14" y1="577.20" x2="557.14" y2="582.20" stroke="#333" stroke-width="1.40"/>
<line x1="571.31" y1="577.20" x2="571.31" y2="586.70" stroke="#333" stroke-width="1.40"/>
<line x1="585.48" y1="577.20" x2="585.48" y2="582.20" stroke="#333" stroke-width="1.40"/>
<line x1="599.64" y1="577.20" x2="599.64" y2="582.20" stroke="#333" stroke-width="1.40"/>
<line x1="613.81" y1="577.20" x2="613.81" y2="582.20" stroke="#333" stroke-width="1.40"/>
<line x1="627.97" y1="577.20" x2="627.97" y2="582.20" stroke="#333" stroke-width="1.40"/>
<text x="58.6" y="433.5" font-family="Liberation Serif" font-weight="bold" font-size="26.0" fill="#1e1e1e" text-anchor="end">32</text>
<text x="58.6" y="471.6" font-family="Liberation Serif" font-weight="bold" font-size="26.0" fill="#1e1e1e" text-anchor="end">30</text>
<text x="58.6" y="509.8" font-family="Liberation Serif" font-weight="bold" font-size="26.0" fill="#1e1e1e" text-anchor="end">28</text>
<text x="58.6" y="547.9" font-family="Liberation Serif" font-weight="bold" font-size="26.0" fill="#1e1e1e" text-anchor="end">26</text>
<text x="58.6" y="586.1" font-family="Liberation Serif" font-weight="bold" font-size="26.0" fill="#1e1e1e" text-anchor="end">24</text>
<path d="M785.6,446.3L786.4,446.1L787.2,446.3L787.9,446.0L788.7,445.5L789.5,445.3L790.2,445.1L791.0,444.7L791.8,444.3L792.5,443.5L793.3,443.1L794.1,443.0L794.8,442.2L795.6,441.3L796.4,441.3L797.1,440.7L797.8,440.3L798.5,440.8L799.2,440.3L799.9,440.1L800.6,439.8L801.3,439.6L802.0,439.5L802.7,439.4L803.5,439.8L804.2,439.1L804.9,439.2L805.6,438.9L806.3,439.0L807.0,438.8L807.8,439.6L808.5,439.6L809.2,439.8L810.0,440.3L810.7,440.5L811.4,440.5L812.2,441.1L812.9,441.8L813.6,441.6L814.4,441.7L815.1,442.4L815.8,442.6L816.5,443.0L817.3,443.3L818.0,443.3L818.7,443.8L819.5,443.7L820.2,444.0L820.9,445.0L821.7,445.0L822.5,445.2L823.2,445.4L824.0,445.3L824.8,445.4L825.5,446.0L826.3,446.5L827.1,446.7L827.8,446.2L828.6,446.5L829.4,445.4L830.1,445.6L830.9,445.0L831.7,445.6L832.4,444.9L833.2,444.7L834.0,445.1L834.7,446.0L835.5,446.3L836.3,447.2L837.0,447.2L837.8,447.9L838.6,448.0L839.4,448.2L840.1,448.4L840.8,448.8L841.5,448.9L842.2,448.6L842.9,449.3L843.6,449.7L844.4,449.6L845.1,449.8L845.8,450.0L846.5,449.6L847.2,449.5L848.0,449.8L848.7,449.7L849.4,449.2L850.2,449.1L850.9,449.3L851.6,449.3L852.4,448.5L853.2,448.4L853.9,447.8L854.7,448.5L855.5,447.5L856.2,447.8L857.0,447.2L857.8,447.1L858.5,447.2L859.3,446.5L860.1,446.4L860.8,446.1L861.6,445.8L862.4,445.2L863.1,445.4L863.9,444.6L864.7,444.5L865.4,444.5L866.1,444.2L866.9,444.0L867.6,444.0L868.4,444.0L869.1,443.2L869.9,443.6L870.6,443.7L871.4,443.3L872.1,442.8L872.8,442.8L873.6,442.9L874.3,442.5L875.0,442.2L875.8,441.6L876.5,440.7L877.2,440.8L877.9,441.3L878.7,442.2L879.4,443.4L880.1,443.8L880.9,444.9L881.6,446.5L882.3,447.0L883.1,447.3L883.9,447.9L884.6,448.6L885.4,449.3L886.2,450.1L886.9,450.2L887.7,451.7L888.5,452.0L889.2,452.9L889.9,452.5L890.6,452.1L891.3,452.3L892.0,452.8L892.7,452.4L893.4,453.1L894.1,452.9L894.8,452.5L895.6,452.9L896.3,452.6L897.0,452.9L897.7,453.2L898.4,453.7L899.1,454.1L899.9,453.6L900.6,454.1L901.3,454.4L902.1,453.5L902.8,454.5L903.5,453.6L904.3,454.1L905.0,454.1L905.7,454.0L906.4,454.2L907.2,454.9L907.9,454.5L908.6,454.6L909.4,454.0L910.1,453.5L910.8,453.9L911.6,453.6L912.3,452.9L913.0,453.4L913.8,453.3L914.5,453.2L915.3,452.9L916.0,453.3L916.7,453.3L917.5,453.4L918.2,454.0L919.0,453.8L919.7,454.3L920.5,453.6L921.2,453.6L922.0,454.2L922.8,454.2L923.5,454.2L924.3,454.4L925.1,454.6L925.9,454.8L926.6,454.4L927.4,453.9L928.1,453.5L928.8,452.9L929.6,452.2L930.3,452.1L931.0,450.9L931.8,451.2L932.5,450.7L933.2,450.9L934.0,450.3L934.7,450.7L935.4,450.2L936.2,450.5L936.9,450.1L937.6,450.5L938.4,449.6L939.1,450.0L939.9,449.6L940.6,449.6L941.3,449.5L942.1,449.3L942.8,448.9L943.5,449.0L944.2,448.9L944.9,448.7L945.6,448.7L946.4,448.8L947.1,448.9L947.8,449.1L948.5,448.8L949.2,448.3L949.9,448.0L950.6,448.8L951.3,448.9L952.0,448.6L952.7,448.6L953.4,448.2L954.1,448.9L954.8,448.5L955.5,448.6L956.2,448.6L956.9,448.1L957.6,448.2L958.4,448.3L959.1,448.6L959.8,448.3L960.5,449.2L961.3,449.1L962.0,449.2L962.7,448.3L963.4,448.6L964.2,448.9L964.9,449.4L965.6,449.2L966.3,449.0L967.1,449.5L967.8,449.5L968.5,449.3L969.3,449.2L970.0,449.6L970.7,449.8L971.5,450.3L972.2,450.5L972.9,450.8L973.7,451.0L974.4,450.5L975.1,450.4L975.9,450.8L976.6,451.0L977.4,451.5L978.1,451.9L978.8,452.1L979.6,452.5L980.3,452.6L981.0,452.8L981.8,453.1L982.5,454.0L983.2,454.0L984.0,454.4L984.7,454.5L985.4,454.9L986.2,455.5L986.9,455.8L987.6,456.3L988.4,456.8L989.1,457.5L989.9,457.8L990.6,458.0L991.3,458.0L992.1,458.6L992.8,458.4L993.5,459.0L994.3,459.2L995.0,459.8L995.7,460.4L996.5,460.4L997.2,460.4L997.9,460.9L998.7,460.9L999.4,461.3L1000.1,460.9L1000.9,461.8L1001.6,461.9L1002.4,462.4L1003.1,461.6L1003.8,462.0L1004.6,462.4L1005.3,463.0L1006.0,462.7L1006.8,462.6L1007.5,463.1L1008.2,463.6L1009.0,463.1L1009.7,464.2L1010.4,463.9L1011.1,464.6L1011.9,465.2L1012.6,464.9L1013.3,465.4L1014.0,465.5L1014.8,466.8L1015.5,466.9L1016.2,467.4L1016.9,467.4L1017.6,468.5L1018.4,469.5L1019.2,470.4L1020.0,471.7L1020.8,472.6L1021.6,474.2L1022.4,475.1L1023.1,476.9L1023.8,478.2L1024.5,480.8L1025.2,482.2L1025.9,484.3L1026.7,487.5L1027.5,490.9L1028.2,494.3L1029.0,494.6L1029.8,496.3L1030.6,496.6L1031.4,497.4L1032.2,498.2L1032.9,499.0L1033.7,499.8L1034.5,500.9L1035.3,501.6L1036.1,502.5L1036.9,503.0L1037.6,504.0L1038.4,503.7L1039.1,503.2L1039.9,502.2L1040.6,502.1L1041.3,501.0L1042.1,500.9L1042.8,500.7L1043.5,499.6L1044.3,499.3L1045.0,499.7L1045.7,498.4L1046.4,498.8L1047.1,498.1L1047.9,498.0L1048.6,497.5L1049.3,497.3L1050.0,497.1L1050.8,496.3L1051.5,496.3L1052.2,495.3L1052.9,495.4L1053.7,495.2L1054.4,495.5L1055.1,495.6L1055.9,495.4L1056.6,495.7L1057.4,495.7L1058.1,495.9L1058.8,495.9L1060.0,496.3L1060.8,494.8L1061.6,494.9L1062.5,494.4L1063.3,493.6L1064.1,493.0L1065.1,494.9L1066.1,495.9L1066.9,497.1L1067.7,496.7L1068.4,497.4L1069.2,498.6L1070.0,497.7L1070.8,497.1L1071.7,496.0L1072.5,495.7L1073.3,494.7L1074.0,494.5L1074.7,494.3L1075.5,494.5L1076.2,494.1L1076.9,493.9L1077.6,493.5L1078.3,493.1L1079.0,492.8L1079.7,492.5L1080.5,492.7L1081.2,493.4L1082.0,492.9L1082.7,493.0L1083.4,493.1L1084.2,493.2L1084.9,492.9L1085.7,493.3L1086.4,493.3L1087.2,493.7L1087.9,493.9L1088.7,493.7L1089.4,493.3L1090.2,491.9L1091.0,491.1L1091.7,491.3L1092.4,491.0L1093.2,490.6L1093.9,490.9L1094.6,490.7L1095.3,490.4L1096.0,490.8L1096.7,489.9L1097.5,490.5L1098.2,489.9L1098.9,489.3L1099.7,490.3L1100.5,490.9L1101.3,491.6L1102.2,492.7L1103.0,493.0L1103.7,494.3L1104.5,495.2L1105.3,496.4L1106.0,497.3L1107.1,494.2L1108.1,490.6L1108.9,494.7L1109.8,499.4L1110.7,503.2L1111.4,497.7L1112.2,492.3L1113.0,494.1L1113.7,496.2L1114.5,497.2L1115.3,498.9L1116.1,500.0L1116.9,500.4L1117.7,502.1L1118.5,502.7L1119.4,503.5L1120.1,503.7L1120.8,503.9L1121.5,503.5L1122.2,504.2L1122.9,504.2L1123.6,504.6L1124.4,504.7L1125.1,504.6L1125.8,504.3L1126.5,504.4L1127.2,503.1L1128.0,502.6L1128.7,502.0L1129.4,501.2L1130.2,500.9L1130.9,499.5L1131.6,499.2L1132.7,493.8L1133.7,489.4L1134.5,488.7L1135.3,487.3L1136.1,486.7L1137.0,485.2L1137.8,484.5L1138.5,484.4L1139.3,483.4L1140.1,482.6L1140.8,482.7L1141.6,481.4L1142.4,481.2L1143.1,481.6L1143.9,480.9L1144.7,480.5L1145.4,480.2L1146.1,480.2L1146.9,479.4L1147.6,479.7L1148.4,479.6L1149.1,479.5L1149.9,478.8L1150.6,478.6L1151.4,477.7L1152.1,478.4L1152.9,478.2L1153.6,478.8L1154.4,479.2L1155.2,478.9L1155.9,479.0L1156.7,478.9L1157.5,479.6L1158.2,479.8L1158.9,479.1L1159.7,479.0L1160.4,478.2L1161.1,478.1L1161.8,478.0L1162.5,477.7L1163.2,477.7L1163.9,477.4L1164.6,477.1L1165.3,476.6L1166.0,476.4L1166.7,476.3L1167.4,476.1L1168.2,476.7L1168.9,476.7L1169.6,476.8L1170.4,476.9L1171.1,476.9L1171.8,477.7L1172.6,477.5L1173.3,477.3L1174.1,477.5L1174.9,476.9L1175.6,477.1L1176.4,476.8L1177.2,476.8L1177.9,476.9L1178.7,476.9L1179.5,477.4L1180.3,478.3L1181.2,479.7L1182.0,480.2L1182.8,480.8L1183.8,481.0L1184.8,481.5L1185.6,480.6L1186.4,478.9L1187.1,479.5L1187.9,479.8L1188.7,479.9L1189.4,480.2L1190.2,480.6L1191.0,481.2L1191.7,481.2L1192.4,481.2L1193.1,481.0L1193.9,480.9L1194.6,481.9L1195.3,481.4L1196.0,481.6L1196.8,481.6L1197.5,481.5L1198.2,481.5L1198.9,481.2L1199.6,481.6L1200.4,481.7L1201.1,481.7L1201.8,481.8L1202.5,481.6L1203.3,481.8L1204.0,481.6L1204.7,481.3L1205.5,481.8L1206.2,481.0L1206.9,480.9L1207.7,480.9L1208.4,480.5L1209.1,480.8L1209.9,481.1L1210.6,480.7L1211.3,481.6L1212.0,482.2L1212.7,482.9L1213.4,483.7L1214.1,484.5L1214.8,485.5L1215.6,485.4L1216.3,485.5L1217.0,485.9L1217.8,485.6L1218.5,485.9L1219.3,486.2L1220.0,486.2L1220.7,486.1L1221.5,485.7L1222.2,485.6L1223.0,484.3L1223.8,483.5L1224.6,482.0L1225.4,480.1L1226.2,480.8L1226.9,479.8L1227.7,480.2L1228.4,479.9L1229.2,479.5L1229.9,480.1L1230.7,479.2L1231.4,482.6L1232.1,485.0L1232.8,487.8L1233.5,485.5L1234.2,484.1L1234.9,482.2L1235.7,482.2L1236.4,482.3L1237.2,482.2L1237.9,482.4L1238.6,482.2L1239.4,482.2L1240.1,482.8L1240.9,482.5L1241.6,482.7L1242.3,482.2L1243.1,483.7L1243.9,484.8L1244.7,485.9L1245.5,486.8L1246.3,486.5L1247.0,486.4L1247.8,486.2L1248.5,485.4L1249.3,485.8L1250.1,485.6L1250.8,484.9L1251.6,485.4L1252.4,485.5L1253.2,485.3L1254.0,485.9L1254.7,486.6L1255.5,487.2L1256.3,487.9L1257.0,488.3L1257.8,489.6L1258.5,490.7L1259.3,490.9L1260.0,491.3L1260.7,491.7L1261.4,491.2L1262.1,491.8L1262.8,492.3L1263.5,492.4L1264.2,492.8L1264.9,492.5L1265.6,492.2L1266.3,492.5L1267.0,492.8L1267.7,493.3L1268.5,493.1L1269.2,492.9L1269.9,493.5L1270.6,493.7L1271.3,494.1L1272.0,493.5L1272.7,493.2L1273.4,493.9L1274.1,494.5L1274.8,494.3L1275.5,494.1L1276.2,494.3L1276.9,494.4L1277.6,494.3L1278.3,494.1L1279.0,494.3L1279.7,493.9L1280.5,493.8L1281.2,494.3L1281.9,493.9L1282.6,493.9L1283.3,493.7L1284.0,494.0L1284.7,493.9L1285.4,493.3L1286.2,494.0L1286.9,494.0L1287.6,494.2L1288.4,494.4L1289.1,494.5L1289.9,494.9L1290.6,495.0L1291.4,494.8L1292.1,495.0L1292.8,495.4L1293.5,495.8L1294.2,496.7L1294.9,496.6L1295.6,497.5L1296.3,497.0L1297.0,497.7L1297.7,498.3L1298.4,498.6L1299.2,498.5L1299.9,498.9L1300.6,499.5L1301.3,500.0L1302.0,500.5L1302.7,501.2L1303.4,501.3L1304.1,501.5L1304.8,502.5L1305.5,502.9L1306.2,503.2L1306.9,504.2L1307.6,504.2L1308.3,504.6L1309.0,504.9L1309.8,504.2L1310.5,503.1L1311.3,503.0L1312.1,501.9L1312.8,501.1L1313.6,500.9L1314.3,499.8L1315.0,498.9L1315.7,498.0L1316.4,497.4L1317.1,496.2L1317.9,495.6L1318.6,494.9L1319.3,493.5L1320.0,493.0L1320.7,491.4L1321.4,492.5L1322.2,492.9L1322.9,493.1L1323.7,493.9L1324.5,494.2L1325.2,494.7L1326.0,494.8L1326.8,495.8L1327.6,497.1L1328.4,497.9L1329.1,498.5L1329.9,497.1L1330.6,495.7L1331.3,493.8L1332.0,494.4L1332.7,494.3L1333.4,494.3L1334.1,494.4L1334.8,494.2L1335.5,494.6L1336.2,494.8L1336.9,494.8L1337.6,494.5L1338.4,495.2L1339.1,494.8L1339.8,494.6L1340.6,494.4L1341.3,494.6L1342.1,494.9L1342.8,494.2L1343.5,494.9L1344.3,494.7L1345.0,494.9" fill="none" stroke="#ec1c24" stroke-width="2.50" stroke-linejoin="round" stroke-linecap="round" clip-path="url(#c12)"/>
<path d="M785.6,452.6L786.4,452.7L787.2,454.8L787.8,455.5L788.5,455.7L789.2,456.9L790.2,446.6L791.0,451.4L791.8,454.9L792.5,453.5L793.1,455.4L793.8,454.6L794.6,452.3L795.3,447.3L796.1,446.1L796.9,446.0L797.6,447.2L798.2,448.7L798.9,449.7L799.7,449.6L800.5,451.3L801.2,448.3L802.0,446.4L803.0,447.4" fill="none" stroke="#2f4d9f" stroke-width="2.90" stroke-linejoin="round" stroke-linecap="round" clip-path="url(#c12)"/>
<path d="M807.1,446.0L807.9,447.9L808.7,450.5" fill="none" stroke="#2f4d9f" stroke-width="2.90" stroke-linejoin="round" stroke-linecap="round" clip-path="url(#c12)"/>
<path d="M810.7,445.2L811.5,447.5L812.2,448.9" fill="none" stroke="#2f4d9f" stroke-width="2.90" stroke-linejoin="round" stroke-linecap="round" clip-path="url(#c12)"/>
<path d="M815.8,450.1L815.9,453.5" fill="none" stroke="#2f4d9f" stroke-width="2.90" stroke-linejoin="round" stroke-linecap="round" clip-path="url(#c12)"/>
<path d="M833.2,457.2L834.0,484.6L834.7,485.1L835.4,484.9L836.1,484.8L836.8,485.4L837.5,479.3L838.2,473.4L838.8,467.5L839.5,467.0L840.1,464.5L840.8,462.0L841.4,461.4L842.0,461.3L842.7,462.7L843.3,464.1L844.0,464.0L843.3,466.0L842.7,466.0L842.0,467.6L841.4,468.1L840.7,467.8L840.0,466.6L839.4,468.9" fill="none" stroke="#2f4d9f" stroke-width="2.90" stroke-linejoin="round" stroke-linecap="round" clip-path="url(#c12)"/>
<path d="M845.5,488.6L846.2,481.6L846.9,473.0L847.5,466.5L848.3,465.0L849.1,465.8L849.6,479.9L850.6,449.4" fill="none" stroke="#2f4d9f" stroke-width="2.90" stroke-linejoin="round" stroke-linecap="round" clip-path="url(#c12)"/>
<path d="M852.7,447.0L853.3,452.7L854.0,456.8L854.7,460.8L855.7,443.2L856.4,447.7L857.1,453.0L857.8,458.3L857.8,445.8L858.5,446.8L859.1,448.8L859.8,449.7L860.5,449.7L861.2,448.9L861.9,449.2L862.5,448.1L863.1,447.9L863.7,447.2L864.3,445.7L864.9,447.3L865.6,446.3L866.3,447.5L867.0,446.4" fill="none" stroke="#2f4d9f" stroke-width="2.90" stroke-linejoin="round" stroke-linecap="round" clip-path="url(#c12)"/>
<path d="M869.0,445.4L870.0,445.9" fill="none" stroke="#2f4d9f" stroke-width="2.90" stroke-linejoin="round" stroke-linecap="round" clip-path="url(#c12)"/>
<path d="M874.1,445.2L874.8,444.3L875.4,443.0L876.0,443.2L876.6,442.1L877.2,441.6L877.8,441.3L878.4,442.6L879.1,440.0L879.7,441.8L880.3,441.1L881.3,446.0L881.8,442.3" fill="none" stroke="#2f4d9f" stroke-width="2.90" stroke-linejoin="round" stroke-linecap="round" clip-path="url(#c12)"/>
<path d="M886.4,445.7L887.1,446.6L887.8,448.7L888.5,447.0L889.2,447.4L889.8,448.5L890.5,448.9L891.3,458.7L892.1,468.7L892.8,460.8L893.6,453.5L894.4,463.9L895.1,472.9L895.9,468.5L896.7,463.7L897.7,463.2L898.4,471.5L899.2,478.6L900.0,466.3L900.7,454.3L901.4,454.6L902.1,454.3L902.8,452.5" fill="none" stroke="#2f4d9f" stroke-width="2.90" stroke-linejoin="round" stroke-linecap="round" clip-path="url(#c12)"/>
<path d="M906.4,495.9L907.0,496.7L907.7,494.9L908.3,493.8L908.9,492.5L909.7,488.6L910.5,482.6L911.2,477.4L912.0,472.3L913.0,467.7L914.1,481.5L915.1,468.0L915.8,463.8L916.6,458.4L917.6,467.9" fill="none" stroke="#2f4d9f" stroke-width="2.90" stroke-linejoin="round" stroke-linecap="round" clip-path="url(#c12)"/>
<path d="M948.8,443.9L949.4,468.8" fill="none" stroke="#2f4d9f" stroke-width="2.90" stroke-linejoin="round" stroke-linecap="round" clip-path="url(#c12)"/>
<path d="M951.8,446.7L952.5,448.8L953.3,448.4L954.1,448.8" fill="none" stroke="#2f4d9f" stroke-width="2.90" stroke-linejoin="round" stroke-linecap="round" clip-path="url(#c12)"/>
<path d="M970.4,472.0L970.6,474.1" fill="none" stroke="#2f4d9f" stroke-width="2.90" stroke-linejoin="round" stroke-linecap="round" clip-path="url(#c12)"/>
<path d="M992.4,475.6L992.9,500.3L993.7,492.9L994.5,485.1L995.3,477.1L996.1,480.7L996.9,482.9L997.6,486.3L998.8,469.0L999.7,483.3L1000.6,498.1L1001.5,487.7L1002.4,475.9L1003.5,466.0L1004.7,492.5L1005.6,478.8L1006.5,465.0L1006.8,484.7" fill="none" stroke="#2f4d9f" stroke-width="2.90" stroke-linejoin="round" stroke-linecap="round" clip-path="url(#c12)"/>
<path d="M1013.5,481.5L1013.6,484.7" fill="none" stroke="#2f4d9f" stroke-width="2.90" stroke-linejoin="round" stroke-linecap="round" clip-path="url(#c12)"/>
<path d="M1014.7,499.1L1015.1,502.9" fill="none" stroke="#2f4d9f" stroke-width="2.90" stroke-linejoin="round" stroke-linecap="round" clip-path="url(#c12)"/>
<path d="M1018.8,507.5L1019.4,512.9L1020.1,513.4L1020.8,513.1L1021.5,512.9L1022.2,513.9L1022.9,515.3L1023.5,520.7L1024.4,517.2L1025.3,513.8L1026.2,515.5L1027.1,518.7L1027.8,511.7L1028.6,507.2L1029.4,500.9L1030.6,496.7L1031.4,498.9L1032.2,503.0L1032.9,505.7L1033.6,510.1L1034.4,512.1L1035.1,515.2L1035.8,518.4L1036.5,520.8L1037.3,522.3L1038.0,524.4L1038.8,525.2L1039.7,530.2L1040.6,534.1" fill="none" stroke="#2f4d9f" stroke-width="2.90" stroke-linejoin="round" stroke-linecap="round" clip-path="url(#c12)"/>
<path d="M1043.5,521.9L1044.7,517.2L1045.3,504.1" fill="none" stroke="#2f4d9f" stroke-width="2.90" stroke-linejoin="round" stroke-linecap="round" clip-path="url(#c12)"/>
<path d="M1068.7,504.7L1069.5,505.0L1070.2,503.8" fill="none" stroke="#2f4d9f" stroke-width="2.90" stroke-linejoin="round" stroke-linecap="round" clip-path="url(#c12)"/>
<path d="M1082.0,512.1L1082.5,515.8" fill="none" stroke="#2f4d9f" stroke-width="2.90" stroke-linejoin="round" stroke-linecap="round" clip-path="url(#c12)"/>
<path d="M1153.1,507.5L1153.6,517.6L1154.7,512.2" fill="none" stroke="#2f4d9f" stroke-width="2.90" stroke-linejoin="round" stroke-linecap="round" clip-path="url(#c12)"/>
<path d="M1203.8,470.4L1204.5,470.6" fill="none" stroke="#2f4d9f" stroke-width="2.90" stroke-linejoin="round" stroke-linecap="round" clip-path="url(#c12)"/>
<path d="M1206.4,467.7L1207.4,473.8" fill="none" stroke="#2f4d9f" stroke-width="2.90" stroke-linejoin="round" stroke-linecap="round" clip-path="url(#c12)"/>
<path d="M1209.0,485.8L1209.3,514.0" fill="none" stroke="#2f4d9f" stroke-width="2.90" stroke-linejoin="round" stroke-linecap="round" clip-path="url(#c12)"/>
<path d="M1238.1,492.8L1238.9,485.3L1239.7,479.6" fill="none" stroke="#2f4d9f" stroke-width="2.90" stroke-linejoin="round" stroke-linecap="round" clip-path="url(#c12)"/>
<path d="M1247.6,513.4L1248.4,520.6L1249.2,528.5L1249.8,526.8L1250.5,526.1L1251.1,524.8L1251.7,523.0L1252.3,523.7L1252.9,522.9L1253.6,520.9L1254.2,517.9L1254.8,515.4L1255.5,512.9L1256.1,512.0L1256.7,508.4L1257.4,506.1L1258.0,504.8L1258.6,502.5L1259.3,499.9L1260.0,499.9L1260.7,501.3L1261.4,501.9L1262.1,498.2L1262.8,495.8L1263.5,492.4L1264.1,492.9L1264.7,492.4L1265.3,493.2L1265.9,494.0L1266.5,493.8L1267.1,494.0L1267.7,494.8L1268.3,505.7L1268.9,501.4L1269.5,495.8L1270.1,491.4L1270.7,484.7L1271.4,480.0L1272.0,475.7L1273.0,520.1L1273.7,512.4L1274.3,505.3L1274.9,497.5L1275.6,490.3L1276.2,481.8L1276.9,484.4L1277.6,485.8L1278.3,489.6L1279.0,485.9L1279.6,484.8L1280.2,482.6L1280.9,479.7L1281.5,477.8L1282.2,476.3L1282.9,475.6L1283.6,473.9L1284.3,474.2L1284.9,476.3L1285.5,476.8L1286.2,475.7L1286.8,479.0L1287.3,510.6L1288.0,505.4L1288.7,499.4L1289.3,494.3L1290.0,488.6L1290.6,498.3L1291.2,506.4L1291.9,517.1L1292.5,526.9L1293.2,536.1L1293.8,528.4L1294.4,519.3L1295.1,510.8L1295.7,501.8L1296.3,494.0L1297.4,526.6L1298.0,522.9L1298.6,519.9L1299.2,516.7L1299.8,513.5L1300.4,510.2L1301.0,507.7L1301.6,505.1L1302.3,503.1L1303.0,499.0L1303.7,496.9L1304.4,498.3L1305.2,498.6L1305.9,497.7L1306.6,510.4L1307.3,522.3L1308.0,535.3L1308.6,528.9L1309.2,524.8L1309.9,518.8L1310.5,513.7L1311.2,507.5L1311.9,503.3L1312.6,497.9L1313.3,491.8L1313.9,490.8L1314.5,490.0L1315.2,489.7L1315.8,489.2L1316.4,488.2L1317.1,486.5L1317.7,486.5L1318.3,486.2L1319.0,484.9L1319.6,484.3L1320.2,483.0L1320.8,482.0L1321.4,480.5L1322.0,479.2L1322.6,478.9L1323.2,477.2L1323.9,476.2L1324.5,476.3L1325.1,475.7L1325.7,477.0L1326.3,476.1L1326.9,476.2L1327.5,476.0L1328.1,475.8L1328.7,477.4L1329.4,477.9L1330.0,479.0L1330.6,480.2L1331.3,480.8L1331.9,479.8L1332.5,479.7L1333.2,477.4L1333.8,478.6L1334.4,478.9L1335.5,493.2L1336.2,489.7L1336.9,487.1L1337.6,483.3L1338.3,482.6L1339.0,481.1L1339.7,481.2" fill="none" stroke="#2f4d9f" stroke-width="2.90" stroke-linejoin="round" stroke-linecap="round" clip-path="url(#c12)"/>
<line x1="1028.7" y1="428.4" x2="1028.7" y2="577.2" stroke="#b44ba8" stroke-width="2.5" stroke-dasharray="10 10"/>
<line x1="785.80" y1="424.60" x2="1350.10" y2="424.60" stroke="#222" stroke-width="1.50"/>
<line x1="785.80" y1="577.20" x2="1350.10" y2="577.20" stroke="#222" stroke-width="1.50"/>
<line x1="785.80" y1="423.85" x2="785.80" y2="577.95" stroke="#222" stroke-width="1.50"/>
<line x1="1350.10" y1="423.85" x2="1350.10" y2="577.95" stroke="#222" stroke-width="1.50"/>
<line x1="785.80" y1="424.60" x2="775.80" y2="424.60" stroke="#333" stroke-width="1.40"/>
<line x1="785.80" y1="434.14" x2="780.80" y2="434.14" stroke="#333" stroke-width="1.40"/>
<line x1="785.80" y1="443.68" x2="780.80" y2="443.68" stroke="#333" stroke-width="1.40"/>
<line x1="785.80" y1="453.21" x2="780.80" y2="453.21" stroke="#333" stroke-width="1.40"/>
<line x1="785.80" y1="462.75" x2="775.80" y2="462.75" stroke="#333" stroke-width="1.40"/>
<line x1="785.80" y1="472.29" x2="780.80" y2="472.29" stroke="#333" stroke-width="1.40"/>
<line x1="785.80" y1="481.83" x2="780.80" y2="481.83" stroke="#333" stroke-width="1.40"/>
<line x1="785.80" y1="491.36" x2="780.80" y2="491.36" stroke="#333" stroke-width="1.40"/>
<line x1="785.80" y1="500.90" x2="775.80" y2="500.90" stroke="#333" stroke-width="1.40"/>
<line x1="785.80" y1="510.44" x2="780.80" y2="510.44" stroke="#333" stroke-width="1.40"/>
<line x1="785.80" y1="519.98" x2="780.80" y2="519.98" stroke="#333" stroke-width="1.40"/>
<line x1="785.80" y1="529.51" x2="780.80" y2="529.51" stroke="#333" stroke-width="1.40"/>
<line x1="785.80" y1="539.05" x2="775.80" y2="539.05" stroke="#333" stroke-width="1.40"/>
<line x1="785.80" y1="548.59" x2="780.80" y2="548.59" stroke="#333" stroke-width="1.40"/>
<line x1="785.80" y1="558.12" x2="780.80" y2="558.12" stroke="#333" stroke-width="1.40"/>
<line x1="785.80" y1="567.66" x2="780.80" y2="567.66" stroke="#333" stroke-width="1.40"/>
<line x1="785.80" y1="577.20" x2="775.80" y2="577.20" stroke="#333" stroke-width="1.40"/>
<line x1="785.40" y1="577.20" x2="785.40" y2="586.70" stroke="#333" stroke-width="1.40"/>
<line x1="799.13" y1="577.20" x2="799.13" y2="582.20" stroke="#333" stroke-width="1.40"/>
<line x1="812.86" y1="577.20" x2="812.86" y2="582.20" stroke="#333" stroke-width="1.40"/>
<line x1="826.59" y1="577.20" x2="826.59" y2="582.20" stroke="#333" stroke-width="1.40"/>
<line x1="840.32" y1="577.20" x2="840.32" y2="582.20" stroke="#333" stroke-width="1.40"/>
<line x1="854.05" y1="577.20" x2="854.05" y2="586.70" stroke="#333" stroke-width="1.40"/>
<line x1="867.78" y1="577.20" x2="867.78" y2="582.20" stroke="#333" stroke-width="1.40"/>
<line x1="881.51" y1="577.20" x2="881.51" y2="582.20" stroke="#333" stroke-width="1.40"/>
<line x1="895.24" y1="577.20" x2="895.24" y2="582.20" stroke="#333" stroke-width="1.40"/>
<line x1="908.97" y1="577.20" x2="908.97" y2="582.20" stroke="#333" stroke-width="1.40"/>
<line x1="922.70" y1="577.20" x2="922.70" y2="586.70" stroke="#333" stroke-width="1.40"/>
<line x1="936.87" y1="577.20" x2="936.87" y2="582.20" stroke="#333" stroke-width="1.40"/>
<line x1="951.04" y1="577.20" x2="951.04" y2="582.20" stroke="#333" stroke-width="1.40"/>
<line x1="965.22" y1="577.20" x2="965.22" y2="582.20" stroke="#333" stroke-width="1.40"/>
<line x1="979.39" y1="577.20" x2="979.39" y2="582.20" stroke="#333" stroke-width="1.40"/>
<line x1="993.56" y1="577.20" x2="993.56" y2="586.70" stroke="#333" stroke-width="1.40"/>
<line x1="1007.73" y1="577.20" x2="1007.73" y2="582.20" stroke="#333" stroke-width="1.40"/>
<line x1="1021.90" y1="577.20" x2="1021.90" y2="582.20" stroke="#333" stroke-width="1.40"/>
<line x1="1036.08" y1="577.20" x2="1036.08" y2="582.20" stroke="#333" stroke-width="1.40"/>
<line x1="1050.25" y1="577.20" x2="1050.25" y2="582.20" stroke="#333" stroke-width="1.40"/>
<line x1="1064.42" y1="577.20" x2="1064.42" y2="586.70" stroke="#333" stroke-width="1.40"/>
<line x1="1078.59" y1="577.20" x2="1078.59" y2="582.20" stroke="#333" stroke-width="1.40"/>
<line x1="1092.76" y1="577.20" x2="1092.76" y2="582.20" stroke="#333" stroke-width="1.40"/>
<line x1="1106.94" y1="577.20" x2="1106.94" y2="582.20" stroke="#333" stroke-width="1.40"/>
<line x1="1121.11" y1="577.20" x2="1121.11" y2="582.20" stroke="#333" stroke-width="1.40"/>
<line x1="1135.28" y1="577.20" x2="1135.28" y2="586.70" stroke="#333" stroke-width="1.40"/>
<line x1="1149.45" y1="577.20" x2="1149.45" y2="582.20" stroke="#333" stroke-width="1.40"/>
<line x1="1163.62" y1="577.20" x2="1163.62" y2="582.20" stroke="#333" stroke-width="1.40"/>
<line x1="1177.80" y1="577.20" x2="1177.80" y2="582.20" stroke="#333" stroke-width="1.40"/>
<line x1="1191.97" y1="577.20" x2="1191.97" y2="582.20" stroke="#333" stroke-width="1.40"/>
<line x1="1206.14" y1="577.20" x2="1206.14" y2="586.70" stroke="#333" stroke-width="1.40"/>
<line x1="1220.31" y1="577.20" x2="1220.31" y2="582.20" stroke="#333" stroke-width="1.40"/>
<line x1="1234.48" y1="577.20" x2="1234.48" y2="582.20" stroke="#333" stroke-width="1.40"/>
<line x1="1248.66" y1="577.20" x2="1248.66" y2="582.20" stroke="#333" stroke-width="1.40"/>
<line x1="1262.83" y1="577.20" x2="1262.83" y2="582.20" stroke="#333" stroke-width="1.40"/>
<line x1="1277.00" y1="577.20" x2="1277.00" y2="586.70" stroke="#333" stroke-width="1.40"/>
<line x1="1291.17" y1="577.20" x2="1291.17" y2="582.20" stroke="#333" stroke-width="1.40"/>
<line x1="1305.34" y1="577.20" x2="1305.34" y2="582.20" stroke="#333" stroke-width="1.40"/>
<line x1="1319.52" y1="577.20" x2="1319.52" y2="582.20" stroke="#333" stroke-width="1.40"/>
<line x1="1333.69" y1="577.20" x2="1333.69" y2="582.20" stroke="#333" stroke-width="1.40"/>
<line x1="1347.86" y1="577.20" x2="1347.86" y2="582.20" stroke="#333" stroke-width="1.40"/>
<text x="768.6" y="433.5" font-family="Liberation Serif" font-weight="bold" font-size="26.0" fill="#1e1e1e" text-anchor="end">32</text>
<text x="768.6" y="471.6" font-family="Liberation Serif" font-weight="bold" font-size="26.0" fill="#1e1e1e" text-anchor="end">30</text>
<text x="768.6" y="509.8" font-family="Liberation Serif" font-weight="bold" font-size="26.0" fill="#1e1e1e" text-anchor="end">28</text>
<text x="768.6" y="547.9" font-family="Liberation Serif" font-weight="bold" font-size="26.0" fill="#1e1e1e" text-anchor="end">26</text>
<text x="768.6" y="586.1" font-family="Liberation Serif" font-weight="bold" font-size="26.0" fill="#1e1e1e" text-anchor="end">24</text>
<path d="M75.8,662.9L76.4,661.0L76.9,658.6L77.4,660.4L77.9,657.4L78.5,655.1L79.0,653.8L79.5,650.8L80.1,649.7L80.6,648.9L81.1,651.2L81.6,655.1L82.2,655.2L82.7,658.1L83.2,653.1L83.8,649.4L84.3,645.5L84.8,643.7L85.4,638.5L85.9,638.7L86.4,638.7L86.9,640.8L87.5,640.5L88.0,642.7L88.5,643.3L89.1,642.1L89.6,639.7L90.1,640.2L90.6,637.6L91.2,639.4L91.7,638.1L92.2,639.9L92.8,641.4L93.3,641.5L93.8,644.0L94.4,651.4L94.9,653.0L95.4,657.8L95.9,659.5L96.5,660.3L97.0,661.0L97.5,661.6L98.1,663.4L98.6,664.9L99.1,664.8L99.6,666.7L100.2,670.0L100.7,671.6L101.2,675.0L101.8,678.4L102.3,681.0L102.8,685.8L103.4,687.3L103.9,688.0L104.4,688.7L104.9,690.4L105.5,692.6L106.0,693.2L106.5,694.8L107.1,696.3L107.6,698.1L108.1,699.9L108.6,699.4L109.2,696.8L109.7,701.4L110.2,699.7L110.8,696.8L111.3,697.7L111.8,697.7L112.4,699.2L112.9,700.6L113.4,700.6L113.9,700.4L114.4,699.8L114.9,700.3L115.4,698.3L115.9,698.7L116.4,699.2L116.9,698.9L117.4,697.6L117.9,700.1L118.4,697.9L118.9,699.4L119.4,696.6L119.9,698.5L120.5,698.2L121.0,699.7L121.5,697.9L122.0,700.2L122.5,699.3L123.0,699.3L123.5,698.7L124.0,698.4L124.5,697.9L125.0,698.2L125.5,698.3L126.0,698.1L126.5,698.7L127.0,699.7L127.5,699.1L128.1,698.9L128.6,698.9L129.1,699.5L129.6,698.2L130.1,699.8L130.6,698.9L131.1,699.1L131.6,696.5L132.1,697.6L132.6,697.2L133.1,697.6L133.6,699.8L134.1,699.2L134.6,699.1L135.1,698.5L135.6,698.0L136.2,699.5L136.7,697.8L137.2,696.8L137.8,696.4L138.3,693.8L138.8,691.0L139.4,688.2L139.9,688.3L140.4,686.0L140.9,684.3L141.5,682.7L142.0,683.7L142.5,680.7L143.1,681.5L143.6,680.1L144.1,680.8L144.6,679.5L145.2,677.8L145.7,675.2L146.2,675.2L146.8,672.3L147.3,670.3L147.8,670.1L148.4,668.9L148.9,664.7L149.4,662.3L149.9,658.8L150.5,654.8L151.0,651.8L151.5,648.9L152.1,647.7L152.6,645.8L153.1,645.9L153.6,643.7L154.2,643.5L154.7,644.0L155.2,642.1L155.8,641.0L156.3,641.6L156.8,640.7L157.4,639.9L157.9,640.6L158.4,642.2L158.9,642.6L159.5,641.1L160.0,644.2L160.5,644.3L161.1,646.8L161.6,647.0L162.1,650.6L162.6,650.5L163.2,650.8L163.7,651.9L164.2,654.6L164.8,653.4L165.3,657.8L165.8,658.6L166.4,658.8L166.9,659.1L167.4,662.0L167.9,664.1L168.5,667.6L169.0,669.7L169.5,671.9L170.1,673.3L170.6,673.2L171.1,675.5L171.6,677.9L172.2,679.1L172.7,681.0L173.2,683.8L173.8,684.5L174.3,687.6L174.8,689.1L175.4,692.4L175.9,694.3L176.4,696.3L176.9,700.0L177.4,700.2L178.0,699.0L178.5,700.8L179.0,699.8L179.5,698.3L180.0,699.4L180.5,698.5L181.0,698.8L181.5,698.0L182.0,696.6L182.5,699.5L183.0,698.6L183.5,697.8L184.0,699.0L184.5,698.7L185.0,699.0L185.5,699.2L186.0,698.3L186.5,700.7L187.0,698.4L187.6,700.2L188.1,699.5L188.6,698.4L189.1,698.8L189.6,697.2L190.1,698.4L190.6,698.1L191.1,699.1L191.6,697.6L192.1,700.9L192.6,699.7L193.1,700.1L193.6,695.9L194.1,696.5L194.6,696.8L195.1,697.1L195.6,696.9L196.1,697.3L196.6,699.1L197.2,697.5L197.7,699.4L198.2,699.3L198.7,698.9L199.2,698.6L199.7,699.6L200.2,699.2L200.8,700.0L201.3,701.8L201.8,699.9L202.4,700.5L202.9,698.3L203.4,697.8L203.9,699.0L204.5,699.0L205.0,700.1L205.5,698.4L206.1,698.8L206.6,698.8L207.1,700.4L207.6,698.9L208.2,700.7L208.7,697.4L209.2,698.9L209.8,701.6L210.3,696.1L210.9,694.4L211.4,689.4L212.0,686.7L212.6,684.4L213.1,682.0L213.7,679.9L214.2,677.1L214.8,673.9L215.3,673.4L215.8,672.2L216.4,669.8L216.9,668.0L217.4,665.8L217.9,661.5L218.5,658.7L219.0,659.9L219.5,658.7L220.1,657.4L220.6,655.3L221.1,654.2L221.6,651.4L222.2,650.7L222.7,649.9L223.2,648.4L223.8,646.5L224.3,646.8L224.8,647.4L225.4,645.7L225.9,643.4L226.4,640.0L226.9,640.5L227.5,641.0L228.0,642.6L228.5,645.2L229.1,645.6L229.6,645.8L230.1,644.5L230.6,643.9L231.2,642.3L231.7,643.5L232.2,645.6L232.8,649.4L233.3,651.7L233.8,652.2L234.4,652.2L234.9,653.6L235.4,652.8L235.9,657.6L236.5,657.2L237.0,660.6L237.5,659.6L238.1,660.7L238.6,659.1L239.1,661.0L239.6,659.7L240.2,663.6L240.7,667.4L241.2,671.3L241.8,674.8L242.3,679.0L242.8,681.2L243.4,684.7L243.9,687.1L244.4,688.7L244.9,691.8L245.5,693.7L246.0,696.6L246.5,697.9L247.1,697.4L247.6,698.7L248.1,697.9L248.6,700.3L249.1,699.1L249.6,696.6L250.2,698.4L250.7,697.1L251.2,697.4L251.7,698.0L252.2,699.6L252.7,698.9L253.2,698.8L253.7,699.2L254.2,700.1L254.7,700.1L255.2,699.3L255.7,700.0L256.2,698.9L256.8,698.4L257.3,699.6L257.8,698.4L258.3,697.1L258.8,698.1L259.3,698.3L259.8,697.6L260.3,698.6L260.8,698.8L261.4,700.6L261.9,702.0L262.4,700.6L262.9,704.0L263.5,702.2L264.0,700.3L264.5,698.7L265.1,698.3L265.6,699.2L266.1,700.1L266.6,700.3L267.2,700.4L267.7,698.6L268.2,700.4L268.8,701.4L269.3,700.6L269.8,699.4L270.4,700.3L270.9,698.9L271.4,700.0L271.9,700.0L272.5,699.4L273.0,698.8L273.5,700.2L274.1,698.2L274.6,698.4L275.1,699.1L275.6,699.2L276.2,699.8L276.7,699.5L277.2,697.6L277.8,697.3L278.3,695.2L278.8,697.0L279.4,697.6L279.9,696.5L280.4,694.8L280.9,694.6L281.5,691.5L282.0,693.8L282.5,692.5L283.1,691.8L283.6,691.4L284.1,689.4L284.6,691.6L285.2,692.8L285.7,692.6L286.2,692.4L286.8,692.2L287.3,693.7L287.8,693.0L288.4,693.6L288.9,694.8L289.4,693.8L289.9,693.0L290.5,693.9L291.0,695.2L291.5,695.1L292.1,694.0L292.6,695.3L293.1,691.3L293.6,695.2L294.2,693.5L294.7,694.5L295.2,696.1L295.8,695.1L296.3,694.5L296.8,695.2L297.4,694.4L297.9,693.7L298.4,695.0L298.9,693.9L299.5,693.1L300.0,692.0L300.5,693.9L301.1,692.5L301.6,694.2L302.1,692.1L302.6,693.0L303.2,691.2L303.7,692.2L304.2,692.7L304.8,691.5L305.3,692.2L305.8,692.2L306.4,693.1L306.9,691.4L307.4,693.3L307.9,692.5L308.5,693.4L309.0,690.8L309.5,691.1L310.1,691.6L310.6,692.5L311.1,691.2L311.6,691.5L312.2,693.0L312.7,693.9L313.2,692.8L313.8,692.5L314.3,692.3L314.8,693.2L315.4,693.3L315.9,692.2L316.4,694.2L316.9,694.9L317.5,693.5L318.0,694.4L318.5,692.8L319.1,695.0L319.6,695.4L320.1,694.0L320.6,696.0L321.2,695.7L321.7,693.7L322.2,698.1L322.8,697.5L323.3,697.5L323.8,697.0L324.4,696.9L324.9,696.5L325.4,698.7L325.9,698.6L326.5,699.1L327.0,699.6L327.5,701.4L328.1,700.4L328.6,699.8L329.1,699.9L329.6,699.8L330.2,701.8L330.7,699.6L331.2,698.8L331.8,701.7L332.3,701.9L332.8,701.1L333.4,699.4L333.9,700.5L334.4,700.3L334.9,698.2L335.5,698.2L336.0,698.2L336.5,698.2L337.1,698.6L337.6,697.9L338.1,697.6L338.6,697.7L339.2,697.4L339.7,697.3L340.2,696.4L340.8,697.8L341.3,697.9L341.8,695.9L342.4,698.4L342.9,698.4L343.4,698.1L343.9,697.1L344.5,695.9L345.0,694.6L345.5,696.3L346.1,697.0L346.6,695.2L347.1,695.5L347.6,694.8L348.2,695.4L348.7,694.9L349.2,695.4L349.8,695.8L350.3,694.1L350.8,693.0L351.4,692.7L351.9,692.9L352.4,692.5L353.0,691.7L353.6,691.6L354.1,688.6L354.7,689.0L355.2,686.9L355.8,685.2L356.4,685.4L356.9,681.3L357.4,681.4L357.9,677.9L358.5,675.8L359.0,672.5L359.5,670.9L360.1,668.4L360.6,665.6L361.1,662.4L361.6,657.5L362.2,653.0L362.7,650.0L363.2,648.7L363.8,646.5L364.3,647.6L364.8,644.5L365.4,644.3L365.9,644.7L366.4,643.8L366.9,641.0L367.5,638.6L368.0,638.4L368.5,636.0L369.1,637.1L369.6,638.0L370.1,640.4L370.6,640.5L371.2,642.2L371.7,642.6L372.2,645.5L372.8,644.7L373.3,645.7L373.8,646.5L374.4,647.0L374.9,645.7L375.4,647.3L375.9,648.4L376.5,649.6L377.0,650.1L377.5,652.2L378.1,654.8L378.6,655.5L379.1,658.6L379.6,659.3L380.2,660.2L380.7,660.8L381.2,663.5L381.8,664.9L382.3,666.3L382.8,666.5L383.4,670.2L383.9,671.3L384.4,674.3L384.9,682.2L385.5,689.8L386.0,694.3L386.5,694.0L387.1,694.4L387.6,693.9L388.1,695.2L388.6,697.8L389.1,696.9L389.6,696.4L390.1,696.3L390.6,697.3L391.1,695.5L391.6,697.5L392.2,694.9L392.7,697.2L393.2,697.0L393.7,696.6L394.2,698.6L394.7,697.4L395.2,698.8L395.7,696.2L396.2,698.5L396.7,696.0L397.2,696.4L397.7,696.6L398.2,696.6L398.7,696.2L399.2,697.3L399.7,696.5L400.2,695.7L400.7,696.9L401.2,694.6L401.7,697.9L402.2,697.0L402.7,696.0L403.2,695.1L403.7,694.9L404.3,695.2L404.8,698.0L405.3,695.9L405.8,695.7L406.3,696.4L406.8,695.4L407.3,696.9L407.8,697.6L408.3,696.4L408.8,696.3L409.3,697.9L409.8,696.0L410.3,695.5L410.8,696.7L411.3,696.3L411.8,695.0L412.3,696.9L412.8,697.1L413.3,695.8L413.8,696.8L414.3,696.6L414.8,695.2L415.3,696.0L415.8,699.7L416.4,696.8L416.9,697.1L417.4,697.0L417.9,695.4L418.4,696.7L418.9,695.4L419.4,696.1L419.9,697.2L420.4,695.8L420.9,695.6L421.4,696.5L421.9,694.8L422.4,696.3L422.9,696.4L423.4,694.4L423.9,695.9L424.4,695.8L424.9,695.1L425.4,696.1L425.9,694.7L426.4,695.7L426.9,696.5L427.4,694.5L427.9,696.2L428.5,695.9L429.0,695.8L429.5,695.9L430.0,695.1L430.5,695.2L431.0,690.9L431.5,687.2L432.1,685.0L432.6,682.9L433.1,676.8L433.6,670.6L434.2,664.8L434.7,660.0L435.2,661.1L435.8,663.1L436.3,662.8L436.8,664.6L437.4,663.1L437.9,657.3L438.4,657.0L438.9,653.3L439.5,651.4L440.0,651.8L440.5,652.9L441.1,655.5L441.6,657.7L442.1,660.3L442.6,662.2L443.2,664.3L443.7,661.4L444.2,661.0L444.8,659.1L445.3,659.9L445.8,660.2L446.4,657.5L446.9,661.5L447.4,657.6L447.9,658.3L448.5,657.6L449.0,658.7L449.5,664.1L450.1,669.8L450.6,672.8L451.1,675.1L451.6,679.7L452.2,681.5L452.7,683.0L453.2,683.9L453.8,684.7L454.3,686.4L454.8,687.8L455.4,689.2L455.9,693.8L456.4,696.4L456.9,700.1L457.5,701.8L458.0,699.2L458.5,698.6L459.1,700.8L459.6,700.4L460.1,699.5L460.6,700.4L461.2,701.3L461.7,699.0L462.2,699.6L462.7,699.5L463.2,698.8L463.7,699.6L464.3,699.7L464.8,701.0L465.3,700.7L465.8,701.0L466.3,700.3L466.8,700.2L467.3,698.9L467.8,698.2L468.3,698.5L468.9,701.2L469.4,699.3L469.9,698.9L470.4,698.5L470.9,698.0L471.4,696.5L471.9,699.0L472.4,696.6L473.0,698.4L473.5,698.3L474.0,698.5L474.5,700.8L475.0,697.3L475.5,699.5L476.0,698.4L476.5,698.8L477.1,699.2L477.6,699.6L478.1,700.4L478.6,699.2L479.1,699.2L479.6,698.9L480.1,698.4L480.6,698.9L481.1,697.8L481.6,699.3L482.2,698.3L482.7,698.2L483.2,697.5L483.7,699.6L484.2,697.8L484.7,697.1L485.2,697.4L485.7,697.6L486.2,699.2L486.7,695.6L487.3,695.9L487.8,696.7L488.3,696.4L488.8,696.7L489.3,698.8L489.8,696.8L490.3,696.3L490.8,696.7L491.3,696.4L491.8,693.6L492.3,691.2L492.9,690.4L493.4,691.0L493.9,690.6L494.4,691.1L494.9,686.7L495.5,685.3L496.0,682.0L496.6,680.9L497.1,680.9L497.7,678.0L498.2,675.8L498.8,674.6L499.3,673.8L499.8,671.7L500.4,667.4L500.9,666.3L501.5,663.4L502.0,663.0L502.6,659.2L503.1,655.8L503.7,661.4L504.2,665.7L504.8,670.9L505.3,674.7L505.9,677.9L506.4,682.2L507.0,683.5L507.5,681.4L508.0,682.0L508.6,680.8L509.1,681.9L509.7,679.0L510.2,680.8L510.8,680.0L511.3,679.3L511.9,676.9L512.4,679.0L513.0,681.4L513.5,682.7L514.1,683.6L514.6,685.5L515.2,685.8L515.7,690.9L516.3,689.0L516.8,690.3L517.3,694.5L517.9,692.8L518.4,692.5L519.0,692.3L519.5,694.0L520.1,692.4L520.6,691.6L521.2,690.9L521.7,692.4L522.3,689.9L522.8,691.7L523.4,691.3L523.9,689.4L524.5,688.3L525.0,690.1L525.6,689.1L526.1,687.9L526.6,691.9L527.2,692.1L527.7,694.8L528.3,695.2L528.8,698.4L529.4,697.7L529.9,700.4L530.5,699.5L531.0,697.4L531.6,701.1L532.1,696.9L532.7,698.7L533.2,697.7L533.8,698.5L534.3,698.4L534.8,697.5L535.3,697.4L535.8,698.9L536.3,698.4L536.8,696.9L537.3,696.7L537.8,698.8L538.3,700.5L538.8,698.3L539.3,699.1L539.8,697.0L540.3,698.9L540.8,699.1L541.3,697.9L541.8,698.2L542.3,697.7L542.8,698.6L543.3,698.6L543.8,696.3L544.3,697.5L544.8,696.9L545.3,698.0L545.8,696.3L546.3,699.6L546.8,697.4L547.3,697.6L547.8,698.3L548.3,696.1L548.8,696.8L549.3,698.8L549.8,697.8L550.3,697.5L550.8,698.2L551.3,697.7L551.8,696.7L552.3,698.3L552.8,700.7L553.3,699.3L553.8,696.2L554.3,694.7L554.8,696.5L555.3,698.3L555.8,698.3L556.3,699.1L556.9,697.6L557.4,697.3L557.9,698.5L558.4,699.2L558.9,697.1L559.4,697.8L559.9,697.2L560.4,697.0L560.9,698.2L561.4,699.7L561.9,697.0L562.4,696.7L562.9,697.8L563.4,696.4L563.9,697.9L564.4,699.1L564.9,696.8L565.5,693.5L566.0,690.5L566.6,685.4L567.1,687.3L567.7,682.3L568.2,678.7L568.8,676.2L569.3,674.4L569.9,671.5L570.4,667.9L570.9,665.9L571.5,663.2L572.0,661.4L572.6,659.1L573.1,657.8L573.7,655.0L574.2,651.4L574.8,648.8L575.3,647.0L575.9,643.4L576.4,640.0L577.0,637.5L577.5,634.9L578.1,636.1L578.6,634.8L579.1,633.4L579.7,633.5L580.2,633.6L580.8,635.6L581.3,633.1L581.9,634.3L582.4,633.7L583.0,635.6L583.5,636.4L584.1,637.8L584.6,637.2L585.2,639.2L585.7,640.3L586.3,641.6L586.8,642.2L587.4,644.5L587.9,646.9L588.4,648.3L589.0,651.3L589.5,652.6L590.1,654.9L590.6,654.9L591.2,658.4L591.7,659.5L592.3,661.3L592.8,666.0L593.4,667.6L593.9,669.9L594.5,675.0L595.0,678.1L595.6,681.6L596.1,681.9L596.7,683.4L597.2,687.0L597.7,686.5L598.3,687.7L598.8,689.1L599.4,690.2L599.9,691.5L600.5,696.3L601.0,695.1L601.6,699.3L602.1,699.4L602.6,698.1L603.1,697.9L603.6,697.7L604.2,696.4L604.7,698.4L605.2,696.9L605.7,698.9L606.2,697.5L606.8,697.2L607.3,698.0L607.8,701.1L608.3,698.4L608.8,698.2L609.3,696.1L609.9,698.8L610.4,697.1L610.9,698.6L611.4,698.8L612.0,687.8L612.5,692.6L613.1,695.7L613.6,697.6L614.1,697.1L614.6,698.0L615.1,697.2L615.6,698.1L616.1,696.4L616.6,699.2L617.1,698.7L617.6,699.5L618.1,698.6L618.6,698.9L619.2,699.2L619.7,697.1L620.2,697.5L620.7,698.0L621.2,698.9L621.7,698.9L622.2,698.1L622.7,696.1L623.2,699.0L623.7,698.1L624.2,698.1L624.7,699.1L625.2,696.6L625.8,698.3L626.3,696.4L626.8,698.3L627.3,697.3L627.8,698.4L628.3,699.3L628.8,698.3L629.3,697.8L629.8,699.0L630.3,697.0L630.8,696.8L631.3,698.3L631.9,698.2L632.4,697.5L632.9,700.0L633.4,696.9L633.9,697.9L634.4,698.4L634.9,695.4L635.4,694.4L635.9,690.1L636.4,689.5L636.9,686.0L637.4,684.8L637.9,682.1L638.4,680.6L638.9,677.3L639.4,674.5L639.9,672.5L640.4,670.5" fill="none" stroke="#0a0a0a" stroke-width="2.80" stroke-linejoin="round" stroke-linecap="round" clip-path="url(#c03)"/>
<path d="M75.3,696.7L76.0,696.2L76.7,696.5L77.4,696.3L78.1,696.3L78.8,696.7L79.5,696.3L80.2,696.4L80.9,696.8L81.6,697.1L82.3,696.2L83.0,696.0L83.7,696.3L84.4,696.7L85.1,696.7L85.8,696.9L86.5,696.8L87.2,697.0L87.9,697.0L88.6,696.9L89.3,696.3L90.0,697.0L90.7,696.6L91.4,696.9L92.1,696.7L92.8,697.0L93.5,696.2L94.2,697.1L94.9,696.7L95.6,697.3L96.3,697.1L97.1,697.1L97.8,696.8L98.5,697.3L99.2,697.3L99.9,697.5L100.6,697.3L101.3,696.7L102.0,697.1L102.7,697.2L103.4,697.1L104.1,696.6L104.8,696.8L105.5,696.4L106.2,697.3L106.9,696.3L107.6,695.7L108.3,696.2L109.0,696.8L109.7,696.9L110.4,696.3L111.1,696.5L111.8,696.3L112.5,697.0L113.2,697.1L113.9,696.9L114.6,696.5L115.3,696.6L116.0,697.0L116.7,696.8L117.4,696.7L118.1,697.0L118.8,697.7L119.5,696.8L120.2,697.0L120.9,696.6L121.6,696.4L122.3,696.8L123.0,696.9L123.7,696.5L124.4,696.7L125.1,696.9L125.8,696.5L126.5,696.5L127.2,696.7L127.9,696.3L128.6,696.6L129.3,696.3L130.0,696.3L130.7,696.0L131.4,696.8L132.1,696.7L132.8,696.5L133.5,697.3L134.2,697.3L134.9,697.3L135.6,696.4L136.4,696.6L137.1,697.0L137.8,696.4L138.5,696.9L139.2,696.7L139.9,697.0L140.6,697.0L141.3,696.3L142.0,695.9L142.7,696.3L143.4,697.0L144.1,696.9L144.8,697.1L145.5,697.2L146.2,696.9L146.9,697.4L147.6,696.4L148.3,696.8L149.0,696.7L149.7,697.8L150.4,696.8L151.1,697.2L151.8,697.0L152.5,697.5L153.2,696.5L153.9,697.2L154.6,697.0L155.3,696.9L156.0,696.4L156.7,696.6L157.4,696.9L158.1,696.9L158.8,697.3L159.5,696.9L160.2,696.6L160.9,697.2L161.6,696.6L162.3,696.8L163.0,696.7L163.7,696.5L164.4,696.0L165.1,696.5L165.8,696.4L166.5,696.7L167.2,696.3L167.9,696.9L168.6,697.1L169.3,696.3L170.0,697.0L170.7,696.5L171.4,697.5L172.1,696.7L172.8,697.6L173.5,696.8L174.2,697.1L175.0,696.6L175.7,696.1L176.4,696.8L177.1,696.5L177.8,696.8L178.5,696.4L179.2,696.3L179.9,696.9L180.6,696.7L181.3,697.3L182.0,696.9L182.7,696.6L183.4,696.8L184.1,696.5L184.8,696.7L185.5,696.5L186.2,697.3L186.9,696.7L187.6,695.9L188.3,696.9L189.0,696.4L189.7,696.6L190.4,696.3L191.1,696.4L191.8,696.3L192.5,696.6L193.2,696.9L193.9,697.0L194.6,697.1L195.3,697.0L196.0,696.7L196.7,696.8L197.4,697.6L198.1,696.8L198.8,696.9L199.5,696.8L200.2,696.9L200.9,696.7L201.6,697.5L202.3,697.5L203.0,696.4L203.7,696.6L204.4,696.5L205.1,696.9L205.8,696.5L206.5,697.1L207.2,697.0L207.9,697.1L208.6,696.5L209.3,696.9L210.0,696.2L210.7,696.7L211.4,696.7L212.1,696.7L212.8,696.6L213.5,696.9L214.3,696.6L215.0,696.7L215.7,695.9L216.4,695.8L217.1,696.2L217.8,695.8L218.5,695.8L219.2,696.5L219.9,696.2L220.6,696.1L221.3,696.1L222.0,696.0L222.7,695.9L223.4,696.7L224.1,696.5L224.8,696.2L225.5,696.2L226.2,696.5L227.0,696.9L227.7,696.9L228.4,696.2L229.1,696.9L229.8,696.6L230.5,696.8L231.2,697.2L231.9,697.0L232.6,696.9L233.3,697.3L234.0,697.6L234.7,697.0L235.4,697.6L236.1,697.8L236.8,697.2L237.5,697.4L238.2,697.2L238.9,697.0L239.7,696.6L240.4,696.3L241.1,696.1L241.8,696.9L242.5,696.0L243.2,697.1L243.9,696.6L244.6,696.4L245.3,696.9L246.0,696.2L246.7,696.6L247.4,695.7L248.1,695.8L248.8,696.0L249.5,696.4L250.2,697.2L250.9,696.1L251.7,696.4L252.4,696.1L253.1,696.5L253.8,696.4L254.5,696.8L255.2,697.0L255.9,696.8L256.6,696.6L257.3,697.3L258.0,696.7L258.7,697.1L259.4,697.5L260.1,697.8L260.8,697.4L261.5,697.3L262.2,697.3L262.9,696.7L263.7,696.7L264.4,696.6L265.1,697.0L265.8,696.7L266.5,696.8L267.2,696.6L267.9,696.9L268.6,697.0L269.3,696.8L270.0,697.2L270.7,696.7L271.4,696.9L272.1,697.1L272.8,697.5L273.5,697.0L274.2,697.4L274.9,697.1L275.6,697.6L276.4,696.9L277.1,697.5L277.8,697.3L278.5,696.8L279.2,697.7L279.9,696.8L280.6,697.0L281.3,697.2L282.0,697.5L282.7,698.0L283.4,698.9L284.1,699.6L284.8,700.9L285.5,701.7L286.2,702.8L286.9,703.2L287.6,703.3L288.4,703.7L289.1,704.5L289.8,704.9L290.5,705.3L291.2,705.6L291.9,705.0L292.6,705.8L293.3,705.1L294.0,704.2L294.7,702.7L295.4,702.2L296.1,702.0L296.8,701.1L297.5,701.2L298.2,700.6L298.9,700.7L299.6,700.6L300.4,700.1L301.1,699.6L301.8,699.1L302.5,699.2L303.2,699.1L303.9,699.3L304.6,699.5L305.3,698.6L306.0,698.6L306.7,698.1L307.4,697.1L308.1,696.2L308.8,695.9L309.5,695.9L310.2,695.5L310.9,695.8L311.6,695.4L312.4,695.6L313.1,694.5L313.8,694.2L314.5,694.1L315.2,693.8L315.9,693.5L316.6,693.3L317.3,694.0L318.0,694.3L318.7,694.4L319.4,694.4L320.1,694.4L320.8,694.8L321.5,695.1L322.2,695.0L322.9,694.5L323.6,695.0L324.4,695.2L325.1,695.0L325.8,694.6L326.5,694.4L327.2,694.7L327.9,695.2L328.6,695.3L329.3,695.3L330.0,695.3L330.7,695.3L331.5,696.0L332.2,695.7L332.9,695.4L333.6,695.9L334.3,695.6L335.0,696.5L335.7,695.5L336.4,696.1L337.2,696.2L337.9,696.0L338.6,696.2L339.3,696.0L340.0,695.9L340.7,695.4L341.4,696.2L342.1,695.7L342.8,695.5L343.6,695.4L344.3,695.9L345.0,696.4L345.7,697.1L346.4,696.3L347.1,696.5L347.8,696.5L348.5,697.0L349.3,695.6L350.0,695.6L350.7,695.9L351.4,695.7L352.1,696.0L352.8,696.1L353.5,696.5L354.2,696.1L355.0,696.4L355.7,697.2L356.4,696.5L357.1,696.6L357.8,696.4L358.5,696.8L359.2,697.0L359.9,696.8L360.6,696.8L361.3,696.9L362.0,696.5L362.7,696.6L363.4,697.2L364.1,696.8L364.8,697.0L365.5,697.3L366.2,696.7L366.9,696.1L367.6,696.4L368.3,696.3L369.0,696.8L369.7,696.8L370.4,696.6L371.1,696.4L371.8,696.9L372.5,696.6L373.2,696.8L373.9,696.7L374.6,696.7L375.3,696.3L376.0,696.6L376.7,696.2L377.4,695.9L378.1,696.1L378.8,696.2L379.5,696.9L380.2,696.5L380.9,696.8L381.6,696.5L382.3,696.1L383.0,697.1L383.7,696.9L384.4,696.5L385.1,696.5L385.8,696.9L386.5,696.6L387.2,696.6L387.9,696.4L388.6,696.8L389.3,696.7L390.0,697.2L390.7,696.5L391.4,696.6L392.1,696.9L392.8,696.7L393.5,696.7L394.2,695.9L394.9,696.4L395.6,697.1L396.3,696.2L397.0,696.7L397.7,696.5L398.4,696.2L399.1,696.6L399.8,696.6L400.5,696.5L401.2,696.2L401.9,695.6L402.6,697.1L403.3,695.8L404.0,696.5L404.7,696.7L405.4,696.7L406.1,696.0L406.8,696.7L407.5,697.0L408.2,696.1L408.9,696.1L409.6,696.5L410.3,696.8L411.0,696.8L411.7,695.9L412.4,696.2L413.1,695.7L413.8,696.8L414.5,696.0L415.2,696.1L415.9,696.5L416.6,697.0L417.3,696.4L418.0,696.5L418.7,696.6L419.4,696.7L420.1,696.8L420.8,696.4L421.5,696.7L422.2,696.2L422.9,696.1L423.6,696.1L424.3,696.0L425.0,695.9L425.7,695.8L426.4,695.9L427.1,695.9L427.8,696.4L428.5,695.8L429.2,696.0L429.9,696.0L430.6,696.6L431.3,696.7L432.0,696.5L432.7,696.2L433.4,696.1L434.1,695.8L434.8,696.6L435.5,697.1L436.2,696.4L436.9,696.2L437.6,696.4L438.3,696.2L439.0,695.8L439.7,695.8L440.4,695.9L441.1,696.9L441.8,696.3L442.5,695.9L443.2,695.6L443.9,696.4L444.6,696.0L445.3,695.9L446.0,695.9L446.7,696.2L447.4,695.9L448.1,695.5L448.8,696.8L449.5,696.0L450.2,696.1L450.9,695.7L451.6,695.7L452.3,696.3L453.0,696.8L453.7,696.9L454.4,696.0L455.1,696.2L455.8,696.6L456.5,695.9L457.2,695.5L457.9,695.6L458.6,696.5L459.3,696.0L460.0,696.9L460.7,696.3L461.4,696.2L462.1,695.8L462.8,696.1L463.5,697.1L464.2,696.8L464.9,696.4L465.6,696.5L466.3,696.5L467.0,696.6L467.7,697.4L468.4,697.2L469.1,697.0L469.8,696.4L470.5,696.5L471.2,696.3L471.9,696.1L472.6,696.3L473.3,696.0L474.0,696.1L474.7,697.3L475.4,696.9L476.1,696.2L476.8,696.4L477.5,696.2L478.2,696.7L478.9,696.7L479.6,696.8L480.3,696.3L481.0,696.2L481.7,696.2L482.4,696.3L483.1,695.8L483.8,696.3L484.5,696.1L485.2,696.4L485.9,696.2L486.6,696.5L487.3,696.3L488.0,696.0L488.7,695.2L489.4,696.2L490.1,696.4L490.8,695.4L491.5,695.9L492.2,696.7L492.9,695.8L493.6,695.6L494.3,696.3L495.0,695.9L495.7,696.5L496.4,696.0L497.1,696.1L497.8,695.9L498.5,695.4L499.2,695.8L499.9,696.6L500.6,696.5L501.3,697.1L502.0,696.0L502.7,696.4L503.4,696.4L504.1,696.4L504.8,696.4L505.5,695.9L506.2,696.7L506.9,696.0L507.6,696.0L508.3,696.0L509.0,695.9L509.7,696.7L510.4,696.8L511.1,695.6L511.8,696.6L512.5,697.1L513.2,696.3L513.9,696.9L514.6,695.9L515.3,695.9L516.0,695.8L516.7,695.9L517.4,695.5L518.1,695.9L518.8,695.5L519.5,695.3L520.2,696.1L521.0,695.6L521.7,696.2L522.4,696.3L523.1,696.0L523.8,696.3L524.5,696.1L525.2,696.1L525.9,695.7L526.6,695.8L527.3,696.3L528.0,696.2L528.7,695.8L529.4,695.5L530.1,696.3L530.8,696.2L531.5,696.1L532.2,696.7L532.9,696.4L533.6,696.1L534.3,695.7L535.0,696.1L535.7,695.3L536.4,694.8L537.1,695.1L537.8,696.2L538.5,696.6L539.2,696.4L539.9,696.0L540.6,695.2L541.3,696.1L542.0,696.2L542.7,695.9L543.4,695.3L544.1,696.1L544.8,696.2L545.5,695.9L546.2,696.1L547.0,695.0L547.7,696.3L548.4,696.9L549.1,696.2L549.8,695.8L550.5,696.2L551.2,695.7L551.9,696.2L552.6,695.7L553.3,696.4L554.0,696.1L554.7,696.3L555.4,696.0L556.1,696.2L556.8,696.7L557.5,696.2L558.2,696.3L558.9,696.4L559.6,695.9L560.3,695.7L561.0,695.7L561.7,695.8L562.4,696.2L563.1,695.6L563.8,696.3L564.5,695.8L565.2,696.7L565.9,696.8L566.6,696.5L567.3,696.5L568.0,695.9L568.7,696.1L569.4,695.9L570.1,696.3L570.8,695.8L571.5,696.3L572.2,695.9L572.9,696.3L573.7,695.3L574.4,695.3L575.1,696.2L575.8,695.8L576.5,695.9L577.2,695.6L577.9,695.2L578.6,695.4L579.3,695.1L580.0,696.2L580.7,695.7L581.4,695.8L582.1,695.3L582.8,695.5L583.5,695.2L584.2,695.7L584.9,695.7L585.6,695.5L586.3,695.9L587.0,695.6L587.7,695.7L588.4,695.8L589.1,695.5L589.8,695.9L590.5,696.0L591.2,695.9L591.9,695.5L592.6,695.8L593.3,696.2L594.0,696.2L594.7,695.9L595.4,696.2L596.1,696.3L596.8,695.8L597.5,695.4L598.2,695.2L598.9,695.9L599.7,696.1L600.4,695.3L601.1,695.3L601.8,695.7L602.5,695.3L603.2,695.8L603.9,695.4L604.6,695.8L605.3,695.9L606.0,695.9L606.7,695.8L607.4,695.8L608.1,695.2L608.8,695.1L609.5,696.1L610.2,695.4L610.9,696.0L611.6,695.4L612.3,695.4L613.0,694.7L613.7,695.2L614.4,694.9L615.1,695.9L615.8,695.8L616.5,696.3L617.2,696.2L617.9,696.4L618.6,695.8L619.3,696.9L620.0,695.9L620.7,696.2L621.4,695.3L622.1,695.2L622.8,695.5L623.5,695.9L624.2,696.3L624.9,696.1L625.6,695.8L626.4,696.1L627.1,694.8L627.8,695.7L628.5,695.4L629.2,695.0L629.9,695.8L630.6,695.2L631.3,695.3L632.0,694.8L632.7,695.3L633.4,694.8L634.1,695.2L634.8,695.7L635.5,695.3L636.2,695.7L636.9,694.7L637.6,695.7L638.3,695.7L639.0,695.4L639.7,695.6L640.4,695.6" fill="none" stroke="#2f4d9f" stroke-width="2.60" stroke-linejoin="round" stroke-linecap="round" clip-path="url(#c03)"/>
<path d="M75.3,702.0L75.8,703.5L76.4,700.8L76.9,700.9L77.4,702.9L77.9,701.8L78.5,704.6L79.0,704.8L79.5,701.4L80.1,703.4L80.6,703.0L81.1,702.7L81.6,703.6L82.1,703.4L82.6,703.3L83.1,702.5L83.6,704.2L84.1,704.1L84.6,706.0L85.1,705.0L85.6,704.3L86.1,703.7L86.6,703.0L87.1,703.8L87.6,702.8L88.2,703.4L88.7,705.5L89.2,703.9L89.7,704.1L90.2,704.2L90.7,705.3L91.2,703.8L91.7,704.6L92.2,705.0L92.8,704.0L93.3,705.8L93.8,704.6L94.4,705.2L94.9,707.5L95.4,705.8L95.9,707.8L96.5,709.1L97.0,708.9L97.5,709.0L98.1,708.1L98.6,709.0L99.1,706.5L99.6,706.1L100.2,707.3L100.7,707.0L101.2,704.7L101.8,704.0L102.3,704.8L102.8,702.7L103.3,703.4L103.8,704.2L104.3,703.4L104.8,703.9L105.3,703.0L105.8,703.7L106.3,704.8L106.8,703.1L107.3,703.0L107.8,702.2L108.3,703.8L108.8,702.3L109.3,703.5L109.8,703.9L110.3,703.5L110.8,705.0L111.3,701.9L111.8,701.5L112.4,703.7L112.9,703.8L113.4,703.9L113.9,704.7L114.4,702.3L114.9,703.4L115.4,702.7L115.9,704.2L116.4,702.3L116.9,703.8L117.4,702.3L117.9,703.4L118.4,702.9L118.9,703.7L119.4,702.3L119.9,702.1L120.4,705.3L120.9,702.5L121.4,704.8L121.9,703.9L122.4,702.6L122.9,702.6L123.4,702.4L123.9,703.9L124.5,703.8L125.0,703.4L125.5,705.2L126.0,703.9L126.5,705.1L127.0,703.4L127.5,703.1L128.0,705.3L128.5,704.9L129.0,703.9L129.5,703.5L130.0,702.9L130.5,704.1L131.0,703.3L131.5,704.6L132.0,705.9L132.5,703.1L133.0,704.9L133.5,705.7L134.1,705.9L134.6,705.0L135.1,704.3L135.6,702.9L136.2,704.4L136.7,704.5L137.2,706.0L137.8,707.4L138.3,703.4L138.8,706.5L139.4,707.9L139.9,706.3L140.4,707.4L140.9,705.7L141.5,707.5L142.0,706.0L142.5,706.0L143.1,704.6L143.6,703.0L144.1,702.5L144.6,703.7L145.1,703.3L145.7,704.5L146.2,705.9L146.7,704.6L147.2,704.8L147.7,704.9L148.2,705.3L148.7,704.6L149.2,705.1L149.8,705.4L150.3,704.9L150.8,705.3L151.3,704.3L151.8,705.8L152.3,703.2L152.8,705.4L153.3,704.5L153.9,706.1L154.4,705.8L154.9,705.2L155.4,702.7L155.9,703.4L156.4,705.1L156.9,706.6L157.4,704.3L158.0,703.6L158.5,705.6L159.0,704.9L159.5,707.4L160.0,705.8L160.5,705.8L161.1,708.8L161.6,708.0L162.1,706.3L162.6,706.5L163.2,706.3L163.7,705.3L164.2,706.2L164.8,704.4L165.3,704.7L165.8,705.8L166.3,704.1L166.8,704.3L167.3,703.2L167.8,702.6L168.3,702.9L168.8,704.5L169.3,703.4L169.8,703.6L170.3,703.4L170.8,704.1L171.3,704.8L171.8,706.3L172.4,706.3L172.9,705.0L173.4,704.4L173.9,705.1L174.4,706.0L174.9,703.5L175.4,706.6L175.9,706.7L176.4,705.0L176.9,705.1L177.4,706.2L177.9,704.1L178.4,703.5L178.9,703.2L179.4,703.9L179.9,705.7L180.4,702.5L180.9,706.4L181.4,705.7L181.9,703.8L182.4,703.4L182.9,702.3L183.4,704.4L183.9,703.2L184.5,702.4L185.0,703.5L185.5,703.3L186.0,702.5L186.5,704.3L187.0,701.5L187.5,702.6L188.0,701.7L188.5,700.1L189.0,702.5L189.5,702.0L190.0,701.2L190.5,702.4L191.0,703.0L191.5,703.5L192.0,703.3L192.5,702.7L193.0,703.4L193.5,703.1L194.0,702.3L194.5,702.3L195.0,704.4L195.5,704.4L196.1,702.8L196.6,702.3L197.1,702.6L197.6,704.2L198.1,702.3L198.6,705.0L199.1,703.6L199.6,704.6L200.1,703.7L200.6,706.6L201.1,703.8L201.6,703.8L202.1,703.6L202.6,703.4L203.1,702.5L203.6,702.6L204.1,704.8L204.6,703.1L205.1,703.4L205.6,703.9L206.1,703.7L206.6,704.6L207.1,704.0L207.6,706.5L208.2,704.5L208.8,703.9L209.4,704.2L210.0,701.7L210.5,705.8L211.1,703.6L211.6,703.6L212.1,703.5L212.6,703.2L213.2,704.6L213.7,703.4L214.2,704.4L214.8,702.4L215.3,702.9L215.8,703.7L216.4,702.7L216.9,703.4L217.4,701.6L217.9,704.1L218.5,702.3L219.0,703.3L219.5,705.6L220.1,705.7L220.6,706.6L221.1,704.1L221.6,707.3L222.2,707.6L222.7,708.5L223.2,705.3L223.8,703.9L224.3,704.8L224.8,706.3L225.4,704.9L225.9,706.7L226.4,705.5L226.9,704.7L227.5,705.6L228.0,703.8L228.5,703.5L229.1,705.6L229.6,704.9L230.1,705.5L230.6,707.3L231.2,703.3L231.7,705.0L232.2,704.9L232.8,705.2L233.3,705.5L233.8,704.9L234.4,706.5L234.9,705.2L235.4,703.9L235.9,704.8L236.5,705.6L237.0,707.9L237.5,707.6L238.1,708.2L238.6,707.5L239.1,705.6L239.6,704.4L240.2,704.4L240.7,706.1L241.2,702.1L241.8,703.5L242.3,703.4L242.8,705.8L243.3,702.3L243.8,704.9L244.3,705.0L244.8,704.4L245.3,706.8L245.8,705.6L246.3,705.3L246.8,704.6L247.3,706.3L247.8,705.8L248.3,704.8L248.8,702.5L249.3,704.1L249.8,706.2L250.3,706.5L250.8,705.3L251.3,706.7L251.8,706.6L252.4,705.7L252.9,707.6L253.4,708.2L253.9,709.1L254.4,708.4L254.9,707.9L255.4,708.8L255.9,708.8L256.4,709.3L256.9,708.0L257.4,708.6L257.9,707.7L258.4,706.9L258.9,707.9L259.4,707.7L259.9,709.2L260.4,707.8L260.9,708.9L261.4,709.4L261.9,708.1L262.4,708.5L262.9,708.9L263.4,709.9L263.9,709.6L264.5,708.4L265.0,709.2L265.5,709.1L266.0,709.7L266.5,708.7L267.0,708.4L267.5,708.3L268.0,709.5L268.5,708.6L269.0,710.2L269.5,710.0L270.0,709.4L270.5,710.5L271.0,710.2L271.5,710.5L272.0,709.3L272.5,708.5L273.0,709.6L273.5,708.6L274.1,710.2L274.6,710.9L275.1,710.6L275.7,708.9L276.2,711.8L276.8,712.2L277.3,713.7L277.8,713.8L278.4,711.7L278.9,711.8L279.5,712.9L280.0,713.6L280.5,714.0L281.0,714.2L281.5,714.6L282.0,715.5L282.5,716.6L283.0,716.2L283.5,719.9L284.0,718.3L284.5,719.1L285.0,720.0L285.5,721.9L286.0,723.7L286.5,723.3L287.0,725.1L287.5,725.2L288.0,725.8L288.5,728.2L289.0,731.6L289.5,732.4L290.0,733.3L290.5,732.4L291.0,735.6L291.5,736.2L292.0,736.0L292.5,739.7L293.0,740.3L293.5,737.2L294.0,734.9L294.5,734.4L295.0,730.0L295.5,725.9L296.0,723.9L296.5,724.6L297.0,720.8L297.5,720.4L298.0,718.9L298.5,716.0L299.0,715.9L299.5,714.9L300.0,711.3L300.5,710.7L301.0,711.0L301.5,710.6L302.0,709.7L302.5,709.0L303.0,709.5L303.5,709.3L304.0,707.6L304.5,709.7L305.0,708.8L305.5,709.4L306.0,707.7L306.5,708.3L307.0,706.9L307.5,705.6L308.0,705.2L308.5,705.3L309.0,705.8L309.5,705.9L310.0,704.8L310.5,706.5L311.0,705.3L311.5,705.0L312.0,704.4L312.5,705.4L313.0,705.1L313.5,704.7L314.0,703.3L314.5,703.1L315.0,705.6L315.5,704.4L316.0,705.7L316.5,704.2L317.0,704.9L317.5,704.2L318.0,704.4L318.5,704.3L319.0,703.2L319.5,703.2L320.0,705.1L320.5,703.7L321.0,703.6L321.5,703.1L322.0,701.8L322.5,703.3L323.0,701.8L323.5,704.4L324.0,704.0L324.5,702.5L325.0,704.3L325.5,703.5L326.0,701.3L326.5,701.5L327.0,703.6L327.5,702.8L328.0,701.7L328.5,702.6L329.0,703.9L329.5,701.9L330.0,702.5L330.5,702.1L331.0,702.9L331.5,701.8L332.0,701.1L332.5,700.5L333.0,701.0L333.5,702.4L334.0,700.0L334.5,699.2L335.0,701.5L335.5,698.3L336.0,698.4L336.5,698.0L337.0,696.3L337.5,699.9L338.0,698.4L338.5,697.6L339.0,698.9L339.5,699.9L340.0,699.9L340.5,699.6L341.0,697.9L341.5,699.2L342.0,697.3L342.5,697.7L343.0,697.7L343.5,698.5L344.0,700.7L344.5,699.6L345.0,701.2L345.5,699.0L346.0,700.2L346.5,696.8L347.0,696.9L347.5,697.0L348.0,696.0L348.5,697.4L349.0,697.3L349.5,697.1L350.0,697.1L350.5,696.1L351.1,699.0L351.6,698.3L352.1,698.1L352.6,698.0L353.2,699.0L353.7,698.6L354.2,699.5L354.8,698.8L355.3,698.3L355.8,699.2L356.4,700.2L356.9,699.7L357.4,701.0L357.9,700.8L358.5,701.6L359.0,700.1L359.5,699.3L360.0,699.5L360.5,697.7L361.0,698.4L361.5,700.2L362.0,699.3L362.5,698.6L363.0,697.9L363.6,698.4L364.1,698.8L364.6,698.5L365.1,699.1L365.6,697.8L366.1,698.6L366.6,701.0L367.1,700.3L367.6,697.7L368.1,697.1L368.6,698.2L369.1,699.0L369.7,697.2L370.2,697.7L370.7,697.7L371.2,698.7L371.7,697.3L372.2,697.8L372.7,698.2L373.2,699.1L373.7,696.5L374.2,698.5L374.7,695.8L375.3,696.5L375.8,697.9L376.3,698.8L376.8,699.2L377.3,697.2L377.8,697.1L378.3,696.9L378.8,696.4L379.3,698.3L379.8,697.6L380.4,697.3L380.9,697.8L381.4,697.4L381.9,697.7L382.4,697.1L382.9,697.3L383.4,696.0L383.9,693.1L384.4,695.8L384.9,694.3L385.5,695.6L386.0,697.5L386.5,697.6L387.1,697.7L387.6,696.1L388.1,696.3L388.6,698.3L389.2,697.5L389.7,697.3L390.2,699.2L390.8,698.3L391.3,698.9L391.8,696.8L392.4,696.4L392.9,695.5L393.4,696.9L393.9,697.0L394.4,696.6L394.9,698.8L395.4,697.4L395.9,697.1L396.4,697.2L396.9,697.5L397.4,697.9L397.9,698.5L398.4,697.4L398.9,698.8L399.4,697.5L399.9,697.4L400.4,696.9L400.9,697.5L401.4,701.3L401.9,697.5L402.4,696.6L402.9,697.6L403.4,696.6L403.9,699.0L404.4,697.5L404.9,697.1L405.4,699.0L405.9,695.9L406.4,697.2L406.9,696.4L407.4,696.7L407.9,699.9L408.4,698.2L408.9,698.8L409.4,698.7L409.9,698.2L410.4,698.2L410.9,697.6L411.4,697.8L411.9,698.1L412.4,697.8L412.9,698.3L413.4,699.6L413.9,698.0L414.4,696.4L414.9,698.7L415.4,695.9L415.9,696.7L416.4,699.4L416.9,697.2L417.4,698.9L417.9,699.2L418.4,696.6L418.9,698.2L419.4,699.9L419.9,697.7L420.4,698.5L420.9,697.2L421.4,699.4L421.9,698.1L422.4,696.9L422.9,697.1L423.4,698.6L423.9,698.4L424.4,696.6L424.9,695.6L425.4,698.0L425.9,698.7L426.4,697.9L426.9,698.9L427.4,699.9L427.9,699.6L428.4,701.3L428.9,698.8L429.4,698.3L429.9,699.3L430.5,698.3L431.0,699.5L431.5,699.7L432.1,700.4L432.6,701.7L433.1,701.7L433.6,704.0L434.2,702.7L434.7,703.7L435.2,704.7L435.8,704.4L436.3,705.0L436.8,705.4L437.4,704.2L437.9,705.1L438.4,704.4L438.9,706.1L439.5,704.0L440.0,701.9L440.5,705.6L441.1,702.2L441.6,702.0L442.1,703.2L442.6,701.6L443.2,703.2L443.7,701.1L444.2,701.8L444.8,702.6L445.3,698.4L445.8,701.2L446.3,699.2L446.8,700.7L447.3,699.7L447.8,700.1L448.3,699.2L448.8,699.5L449.3,699.6L449.8,701.4L450.3,700.4L450.8,702.1L451.3,699.6L451.8,699.4L452.4,698.6L452.9,699.8L453.4,699.9L453.9,699.0L454.4,701.1L454.9,698.6L455.4,699.8L455.9,698.1L456.4,698.1L456.9,701.8L457.4,697.0L457.9,701.3L458.4,700.1L458.9,698.3L459.4,700.2L459.9,698.8L460.4,699.2L460.9,699.3L461.4,699.0L461.9,698.7L462.4,696.5L462.9,699.2L463.4,698.2L463.9,697.0L464.5,698.9L465.0,699.5L465.5,698.6L466.0,700.5L466.5,698.9L467.0,698.9L467.5,699.1L468.0,699.6L468.5,699.7L469.0,698.1L469.5,701.0L470.0,699.2L470.5,698.9L471.0,700.4L471.5,700.4L472.0,700.9L472.5,699.0L473.0,698.3L473.5,698.0L474.0,699.3L474.5,698.0L475.0,699.3L475.5,698.6L476.1,699.2L476.6,699.1L477.1,696.9L477.6,698.0L478.1,698.7L478.6,699.6L479.1,698.9L479.6,699.9L480.1,697.0L480.6,697.9L481.1,696.5L481.6,697.0L482.1,696.7L482.6,695.9L483.1,696.8L483.6,698.4L484.1,696.2L484.6,697.7L485.1,698.0L485.6,696.7L486.1,697.9L486.6,696.7L487.1,695.2L487.6,696.7L488.2,696.7L488.7,697.6L489.2,696.9L489.7,698.5L490.2,700.1L490.7,696.9L491.2,698.2L491.7,698.8L492.2,699.5L492.8,699.0L493.3,701.2L493.8,699.4L494.3,700.8L494.8,699.8L495.3,699.0L495.8,698.0L496.3,698.9L496.8,700.0L497.4,701.2L497.9,701.1L498.4,700.6L498.9,700.5L499.4,703.5L499.9,702.0L500.4,701.7L500.9,700.8L501.5,700.2L502.0,702.7L502.6,703.4L503.1,703.7L503.7,706.9L504.2,708.0L504.8,708.6L505.3,709.2L505.9,710.3L506.4,708.3L507.0,710.4L507.5,711.1L508.0,711.4L508.6,709.9L509.1,710.7L509.7,711.4L510.2,710.2L510.7,709.0L511.2,709.1L511.7,710.0L512.2,709.5L512.8,707.8L513.3,705.7L513.8,708.3L514.3,707.3L514.8,706.8L515.3,705.9L515.8,706.5L516.3,706.4L516.8,704.4L517.3,705.8L517.9,703.0L518.4,704.4L518.9,702.1L519.4,701.9L520.0,704.3L520.5,702.8L521.0,704.1L521.5,702.9L522.0,702.8L522.6,701.9L523.1,701.8L523.6,702.2L524.1,703.8L524.6,703.1L525.2,700.3L525.7,703.7L526.2,699.6L526.7,700.1L527.2,698.9L527.8,701.6L528.3,702.7L528.8,700.6L529.3,702.3L529.8,703.7L530.3,699.0L530.8,701.4L531.4,699.1L531.9,699.7L532.4,700.8L532.9,698.8L533.4,698.2L533.9,702.0L534.4,700.8L535.0,700.2L535.5,702.7L536.0,699.0L536.5,699.5L537.0,700.9L537.5,697.7L538.0,700.1L538.5,699.4L539.1,699.7L539.6,697.8L540.1,699.6L540.6,701.6L541.1,699.1L541.6,701.2L542.1,699.7L542.6,699.0L543.2,696.7L543.7,699.9L544.2,700.2L544.7,700.3L545.2,697.9L545.7,699.0L546.2,698.4L546.7,697.8L547.2,698.8L547.7,700.3L548.3,697.9L548.8,699.0L549.3,699.6L549.8,699.7L550.3,698.5L550.8,698.7L551.3,698.0L551.8,698.0L552.3,697.2L552.8,697.3L553.3,698.2L553.9,696.6L554.4,699.5L554.9,697.6L555.4,700.4L555.9,698.7L556.4,699.8L556.9,698.4L557.4,697.6L557.9,701.2L558.4,700.1L558.9,698.5L559.4,697.6L560.0,697.1L560.5,700.8L561.0,698.7L561.5,697.5L562.0,700.4L562.5,699.0L563.0,698.4L563.5,699.7L564.0,699.9L564.5,699.6L565.0,698.8L565.6,698.7L566.1,697.4L566.6,699.5L567.1,698.6L567.6,699.7L568.1,698.6L568.6,700.8L569.1,698.0L569.6,699.7L570.1,699.6L570.6,700.0L571.1,699.9L571.6,698.7L572.1,698.3L572.6,699.3L573.1,700.2L573.6,698.8L574.1,698.5L574.6,700.4L575.2,700.2L575.7,698.0L576.2,700.2L576.7,700.3L577.2,697.6L577.7,697.6L578.2,701.3L578.7,697.5L579.2,700.4L579.7,700.7L580.2,698.6L580.7,698.7L581.2,698.9L581.7,700.3L582.2,699.1L582.7,698.8L583.2,701.1L583.7,698.8L584.2,699.6L584.7,700.2L585.2,701.1L585.8,702.2L586.3,700.0L586.8,700.4L587.4,701.1L587.9,700.9L588.4,702.8L589.0,701.7L589.5,701.1L590.1,700.7L590.6,701.6L591.2,697.2L591.7,698.5L592.2,698.3L592.7,697.7L593.2,696.9L593.7,699.6L594.2,698.2L594.7,697.9L595.2,698.8L595.7,698.1L596.3,696.4L596.8,700.0L597.3,697.5L597.8,699.0L598.3,698.4L598.8,699.4L599.3,699.2L599.8,700.5L600.3,697.8L600.8,698.7L601.3,699.1L601.8,697.9L602.3,700.2L602.8,699.1L603.3,696.9L603.8,698.0L604.3,698.2L604.8,695.4L605.3,696.7L605.8,696.5L606.3,696.3L606.8,697.4L607.3,698.7L607.8,696.9L608.3,696.3L608.8,699.0L609.3,697.1L609.8,696.4L610.3,697.6L610.8,697.0L611.3,698.7L611.8,698.0L612.3,698.2L612.8,696.0L613.3,697.2L613.8,697.3L614.3,698.9L614.8,697.9L615.3,699.6L615.8,698.5L616.3,697.0L616.8,697.5L617.3,697.2L617.8,696.7L618.3,698.5L618.8,697.4L619.3,698.0L619.9,699.5L620.4,698.9L620.9,697.4L621.4,697.7L621.9,699.6L622.4,696.3L622.9,697.2L623.4,697.5L623.9,698.0L624.4,699.0L624.9,699.7L625.4,697.2L625.9,697.1L626.4,697.8L626.9,697.0L627.4,697.4L627.9,696.3L628.4,697.1L628.9,694.2L629.4,697.0L629.9,697.3L630.4,696.2L630.9,697.2L631.4,695.4L631.9,697.5L632.4,698.3L632.9,699.2L633.4,698.7L633.9,696.5L634.4,698.0L634.9,697.5L635.4,697.1L635.9,697.3L636.4,696.6L636.9,696.7L637.4,697.9L637.9,700.4L638.4,698.7L638.9,698.9L639.4,697.4L639.9,696.2L640.4,697.8" fill="none" stroke="#66c8d9" stroke-width="2.60" stroke-linejoin="round" stroke-linecap="round" clip-path="url(#c03)"/>
<path d="M75.3,691.8L75.8,680.3L76.4,664.8L76.9,660.2L77.4,656.4L77.9,669.6L78.5,657.1L79.0,672.2L79.5,675.1L80.1,672.4L80.6,659.1L81.1,670.1L81.6,687.0L82.2,673.3L82.7,667.9L83.2,675.7L83.8,683.3L84.3,673.1L84.8,663.6L85.4,650.4L85.9,654.0L86.4,688.2L86.9,673.0L87.5,651.7L88.0,672.9L88.5,687.2L89.1,667.7L89.6,640.3L90.1,665.7L90.6,687.7L91.2,650.2L91.7,659.1L92.2,678.6L92.8,658.1L93.3,659.2L93.8,663.3L94.4,680.3L94.9,671.6L95.4,668.8L95.9,661.4L96.5,660.5L97.0,674.3L97.5,696.0L98.1,693.3L98.6,686.6L99.1,681.3L99.6,675.5L100.2,678.5L100.7,682.6L101.2,685.1L101.8,688.4L102.3,690.7L102.8,693.7L103.4,696.7L103.9,698.2L104.4,701.8L104.9,704.6L105.5,707.5L106.0,702.9L106.5,703.9L107.1,704.7L107.6,706.0L108.1,707.0L108.6,703.5L109.2,702.6L109.7,703.9L110.2,706.2L110.8,705.5L111.3,707.6L111.8,709.0L112.4,707.1L112.9,708.1L113.4,712.4L113.9,705.5L114.5,704.7L115.0,705.1L115.5,703.6L116.1,703.0L116.6,704.9L117.1,701.2L117.6,706.3L118.2,704.5L118.7,705.5L119.2,705.5L119.8,706.7L120.3,703.0L120.8,706.3L121.4,704.7L121.9,704.5L122.4,704.4L122.9,702.6L123.4,705.3L123.9,703.5L124.5,706.3L125.0,704.8L125.5,706.9L126.0,709.6L126.5,707.6L127.0,704.3L127.5,706.8L128.0,707.5L128.5,705.4L129.0,705.1L129.5,705.7L130.0,704.8L130.5,706.5L131.0,709.4L131.5,707.4L132.0,709.6L132.5,710.3L133.0,708.7L133.5,705.5L134.1,709.1L134.6,706.8L135.1,710.2L135.6,716.2L136.2,715.1L136.7,710.1L137.2,710.0L137.8,707.7L138.3,706.5L138.8,705.5L139.4,703.4L139.9,702.4L140.4,701.5L140.9,696.2L141.5,695.7L142.0,690.9L142.5,693.7L143.1,699.8L143.6,703.4L144.1,700.4L144.6,688.7L145.2,680.7L145.7,683.5L146.2,674.9L146.8,678.2L147.3,688.5L147.8,677.1L148.4,686.2L148.9,674.7L149.4,684.7L149.9,690.1L150.5,693.9L151.0,675.2L151.5,657.0L152.1,659.4L152.6,662.6L153.1,671.3L153.6,672.8L154.2,669.4L154.7,672.2L155.2,661.0L155.8,652.6L156.3,651.3L156.8,650.0L157.4,647.7L157.9,646.5L158.4,654.3L158.9,651.4L159.5,651.9L160.0,652.1L160.5,676.1L161.1,704.8L161.6,683.5L162.1,653.5L162.6,659.6L163.2,654.9L163.7,658.6L164.2,657.6L164.8,664.7L165.3,666.9L165.8,671.9L166.4,673.0L166.9,683.3L167.4,696.5L167.9,693.6L168.5,688.0L169.0,684.1L169.5,677.5L170.1,678.1L170.6,681.5L171.1,689.4L171.6,693.5L172.2,693.3L172.7,696.9L173.2,699.3L173.8,702.8L174.3,702.9L174.8,709.3L175.4,704.3L175.9,711.1L176.4,709.7L176.9,709.1L177.5,709.1L178.0,707.0L178.5,703.1L179.1,706.9L179.6,707.8L180.1,708.9L180.6,706.3L181.2,708.5L181.7,708.3L182.2,707.8L182.7,710.8L183.2,705.2L183.7,712.4L184.2,707.4L184.7,708.7L185.2,708.2L185.7,710.4L186.2,710.2L186.7,706.5L187.2,710.2L187.7,704.7L188.2,703.5L188.7,705.4L189.2,708.8L189.7,708.8L190.3,710.6L190.8,708.7L191.3,706.2L191.8,708.9L192.3,706.5L192.8,705.4L193.4,706.3L193.9,710.6L194.4,709.6L194.9,709.8L195.5,703.6L196.0,705.8L196.5,704.5L197.1,709.5L197.6,708.3L198.1,707.2L198.6,702.7L199.2,704.5L199.7,716.2L200.2,719.6L200.8,716.5L201.3,710.5L201.8,708.8L202.4,703.5L202.9,709.8L203.4,706.5L203.9,705.5L204.5,708.9L205.0,708.3L205.5,705.1L206.1,703.7L206.6,704.4L207.1,703.4L207.6,707.2L208.2,706.5L208.7,705.1L209.2,707.8L209.8,709.7L210.3,707.5L210.9,703.6L211.5,701.0L212.0,699.7L212.6,695.9L213.2,696.8L213.7,700.4L214.2,709.6L214.8,712.0L215.3,702.9L215.8,691.3L216.4,681.1L216.9,676.1L217.4,676.1L217.9,677.9L218.5,673.0L219.0,674.0L219.5,673.0L220.1,676.4L220.6,675.4L221.1,675.3L221.6,673.2L222.2,674.1L222.7,679.1L223.2,685.1L223.8,684.5L224.3,671.7L224.8,657.0L225.4,667.9L225.9,676.8L226.4,694.9L226.9,679.3L227.5,667.4L228.0,649.1L228.5,658.7L229.1,663.1L229.6,671.0L230.1,673.8L230.6,660.4L231.2,652.3L231.7,665.0L232.2,682.5L232.8,675.0L233.3,666.8L233.8,661.1L234.4,666.0L234.9,668.1L235.4,673.5L235.9,665.0L236.5,673.2L237.0,671.6L237.5,677.0L238.1,673.6L238.6,690.7L239.1,703.7L239.6,727.3L240.2,701.1L240.7,686.3L241.2,689.2L241.8,692.2L242.3,699.7L242.8,701.9L243.4,701.6L243.9,706.9L244.4,707.0L244.9,704.5L245.5,709.8L246.0,712.3L246.5,711.9L247.0,708.8L247.5,709.1L248.0,710.1L248.5,712.5L249.0,711.6L249.5,713.5L250.0,715.4L250.5,715.4L251.0,712.3L251.5,711.3L252.0,712.1L252.5,713.6L253.0,711.5L253.5,710.4L254.0,714.5L254.5,714.2L255.0,711.5L255.5,714.9L256.0,715.0L256.5,715.8L257.0,715.1L257.5,712.7L258.0,714.2L258.5,716.4L259.0,718.5L259.5,711.3L260.0,714.5L260.5,713.9L261.0,715.8L261.5,713.6L262.0,713.4L262.5,719.8L263.0,713.0L263.5,721.5L264.0,716.0L264.5,723.4L265.0,716.8L265.5,714.2L266.0,715.2L266.5,715.3L267.0,712.4L267.5,717.4L268.0,723.7L268.5,717.0L269.0,718.9L269.5,715.4L270.0,720.3L270.5,716.4L271.0,720.0L271.5,717.4L272.0,720.1L272.5,726.5L273.0,728.6L273.5,725.9L274.0,727.3L274.5,715.4L275.0,721.3L275.5,722.0L276.0,718.7L276.5,725.3L277.0,730.7L277.5,719.7L278.0,727.6L278.5,734.5L279.0,728.5L279.5,732.8L280.0,730.6L280.5,733.3L281.0,721.8L281.5,727.2L282.0,724.0L282.5,726.9L283.0,719.9L283.5,729.2L284.0,731.4L284.5,734.8L285.0,736.0L285.5,736.7L286.0,740.4L286.5,733.5L287.0,741.3L287.5,738.1L288.0,738.3L288.5,738.7L289.0,744.3L289.5,752.5L290.0,751.5L290.5,751.3L291.0,768.4L291.5,771.6L292.0,764.3L292.5,762.5L293.0,764.9L293.5,753.5L294.0,763.3L294.5,757.5L295.0,748.7L295.5,754.1L296.0,742.8L296.5,750.0L297.0,731.7L297.5,731.8L298.0,728.0L298.5,728.1L299.0,725.3L299.5,731.3L300.0,727.4L300.5,717.1L301.0,718.2L301.5,723.9L302.0,718.4L302.5,730.7L303.0,715.7L303.5,717.1L304.0,719.8L304.5,722.2L305.0,720.5L305.5,717.4L306.0,717.9L306.5,717.5L307.0,711.8L307.5,716.8L308.0,712.9L308.5,715.0L309.0,714.8L309.5,713.8L310.0,714.8L310.5,711.2L311.0,713.1L311.5,708.7L312.0,709.4L312.5,704.9L313.0,708.9L313.5,707.3L314.0,706.5L314.5,707.8L315.0,711.7L315.5,717.2L316.0,724.2L316.5,715.5L317.0,710.0L317.5,709.7L318.0,711.3L318.5,709.5L319.0,709.3L319.5,707.5L320.0,707.8L320.5,709.5L321.0,707.7L321.5,713.0L322.0,711.2L322.5,711.2L323.0,715.0L323.5,718.5L324.0,721.6L324.5,714.1L325.0,706.4L325.5,711.7L326.0,707.0L326.5,708.2L327.0,711.7L327.5,708.2L328.0,704.6L328.5,708.4L329.0,706.1L329.5,708.0L330.0,704.3L330.5,709.1L331.0,706.3L331.5,705.8L332.0,704.8L332.5,703.2L333.0,705.6L333.5,706.5L334.0,703.7L334.5,703.4L335.0,706.7L335.5,707.0L336.0,704.5L336.5,704.1L337.0,702.6L337.5,705.4L338.0,701.0L338.5,705.4L339.0,703.9L339.5,702.2L340.0,702.7L340.5,702.9L341.0,700.3L341.5,704.0L342.0,705.2L342.5,701.8L343.0,702.9L343.5,704.6L344.0,702.9L344.5,704.2L345.0,704.1L345.5,704.1L346.0,704.8L346.5,705.5L347.0,705.8L347.5,702.0L348.0,707.6L348.5,703.1L349.0,709.1L349.5,708.0L350.0,706.6L350.5,706.3L351.1,703.9L351.6,701.2L352.1,699.7L352.6,697.0L353.2,696.9L353.7,690.8L354.2,692.0L354.8,692.6L355.3,688.9L355.8,688.1L356.4,685.4L356.9,686.3L357.4,687.0L357.9,688.4L358.5,688.0L359.0,686.6L359.5,685.4L360.1,685.8L360.6,676.9L361.1,678.0L361.6,672.6L362.2,666.5L362.7,652.6L363.2,648.4L363.8,648.1L364.3,648.1L364.8,644.2L365.4,646.8L365.9,645.9L366.4,644.8L366.9,654.1L367.5,643.0L368.0,639.1L368.5,636.3L369.1,638.8L369.6,641.3L370.1,647.3L370.6,639.9L371.2,665.9L371.7,654.9L372.2,645.8L372.8,643.6L373.3,660.1L373.8,647.1L374.4,649.4L374.9,667.4L375.4,645.1L375.9,650.2L376.5,652.1L377.0,651.7L377.5,648.9L378.1,652.2L378.6,658.5L379.1,661.7L379.6,682.2L380.2,676.7L380.7,670.7L381.2,671.0L381.8,680.9L382.3,674.6L382.8,670.6L383.4,679.9L383.9,677.6L384.4,683.8L384.9,685.8L385.5,691.5L386.0,694.2L386.5,696.3L387.1,693.5L387.6,696.8L388.1,695.5L388.6,696.4L389.2,699.1L389.7,696.4L390.2,698.3L390.8,700.6L391.3,706.8L391.8,703.2L392.4,702.6L392.9,698.1L393.4,700.8L393.9,699.7L394.4,700.5L394.9,699.0L395.4,700.9L395.9,700.6L396.4,701.1L396.9,699.5L397.4,698.8L397.9,699.0L398.4,697.2L398.9,700.3L399.4,698.9L399.9,698.9L400.4,698.8L400.9,699.2L401.4,697.4L401.9,699.4L402.4,695.5L402.9,696.1L403.4,695.1L403.9,696.6L404.5,700.8L405.0,699.2L405.5,699.7L406.0,699.0L406.5,699.9L407.0,698.8L407.5,698.3L408.0,699.8L408.5,700.3L409.0,698.6L409.5,696.1L410.0,699.8L410.5,695.4L411.0,696.7L411.5,697.7L412.0,699.4L412.5,699.2L413.0,696.8L413.5,698.4L414.0,701.6L414.5,699.4L415.0,700.9L415.5,698.6L416.1,699.2L416.6,697.2L417.1,699.1L417.6,699.1L418.1,698.5L418.6,698.8L419.1,697.7L419.6,698.1L420.1,698.4L420.6,697.5L421.1,697.8L421.6,696.7L422.1,699.2L422.6,697.3L423.1,696.3L423.6,697.3L424.1,699.7L424.6,699.0L425.2,698.9L425.7,699.8L426.2,700.1L426.8,700.1L427.3,701.2L427.8,699.3L428.4,702.6L428.9,701.0L429.4,701.1L429.9,702.6L430.5,703.6L431.0,697.4L431.5,694.7L432.1,689.1L432.6,680.6L433.1,680.1L433.6,671.6L434.2,665.9L434.7,659.3L435.2,667.3L435.8,678.7L436.3,679.6L436.8,686.4L437.4,682.1L437.9,675.3L438.4,666.3L438.9,666.9L439.5,658.0L440.0,649.0L440.5,669.6L441.1,682.6L441.6,681.9L442.1,674.2L442.6,681.4L443.2,665.8L443.7,663.0L444.2,659.3L444.8,666.5L445.3,670.2L445.8,669.0L446.4,672.1L446.9,674.8L447.4,680.1L447.9,667.8L448.5,657.7L449.0,664.9L449.5,670.5L450.1,676.4L450.6,685.2L451.1,684.9L451.6,685.0L452.2,687.3L452.7,686.8L453.2,688.2L453.8,687.8L454.3,688.1L454.8,688.9L455.4,701.7L455.9,710.3L456.4,708.2L456.9,706.3L457.5,707.0L458.0,707.0L458.5,707.3L459.1,708.1L459.6,708.3L460.1,705.5L460.6,704.4L461.2,702.9L461.7,704.7L462.2,707.3L462.8,703.4L463.3,704.2L463.8,706.8L464.4,705.3L464.9,707.7L465.4,705.6L465.9,708.5L466.5,707.8L467.0,708.3L467.5,707.3L468.1,709.0L468.6,712.2L469.1,709.4L469.6,710.9L470.2,709.2L470.7,710.0L471.2,712.5L471.8,710.1L472.3,708.4L472.8,705.8L473.4,707.1L473.9,702.0L474.4,700.1L474.9,704.6L475.5,702.5L476.0,706.2L476.5,705.2L477.1,707.8L477.6,705.7L478.1,706.5L478.6,705.5L479.2,703.9L479.7,705.6L480.2,704.1L480.8,701.6L481.3,703.4L481.8,704.5L482.4,702.8L482.9,704.8L483.4,703.7L483.9,704.3L484.5,702.8L485.0,702.5L485.5,703.4L486.1,703.2L486.6,700.2L487.1,699.1L487.6,701.0L488.2,700.1L488.7,700.8L489.2,699.1L489.8,700.8L490.3,700.8L490.8,699.1L491.4,698.5L491.9,697.3L492.2,701.3L492.7,698.5L493.3,697.3L493.8,694.9L494.4,691.0L494.9,694.7L495.5,693.3L496.0,693.8L496.6,695.2L497.1,697.8L497.7,705.9L498.2,698.6L498.8,688.2L499.3,680.2L499.8,670.3L500.4,677.4L500.9,682.4L501.5,674.7L502.0,673.0L502.6,662.7L503.1,651.8L503.7,666.2L504.2,683.4L504.8,682.8L505.3,682.8L505.9,703.9L506.4,716.8L507.0,708.1L507.5,694.8L508.0,687.9L508.6,693.7L509.1,700.3L509.7,711.4L510.2,700.1L510.8,692.2L511.3,687.9L511.9,681.9L512.4,684.3L513.0,683.9L513.5,685.7L514.1,686.7L514.6,697.4L515.2,705.1L515.7,710.4L516.3,703.9L516.8,698.2L517.3,697.6L517.9,700.6L518.4,703.1L519.0,705.0L519.5,710.2L520.1,703.5L520.6,701.2L521.2,697.1L521.7,697.6L522.3,696.9L522.8,698.5L523.4,695.3L523.9,694.2L524.5,695.5L525.0,693.9L525.6,698.9L526.1,700.2L526.6,702.9L527.2,707.4L527.7,713.0L528.3,715.1L528.8,712.0L529.4,704.3L529.9,704.0L530.5,703.2L531.0,703.5L531.6,701.5L532.1,702.5L532.7,701.6L533.2,700.5L533.8,699.8L534.3,702.5L534.8,703.9L535.4,700.1L535.9,701.9L536.5,700.2L537.0,698.5L537.5,699.1L538.1,699.5L538.6,701.9L539.1,700.7L539.6,700.9L540.1,700.4L540.6,700.4L541.1,698.0L541.6,698.9L542.1,699.0L542.7,700.3L543.2,700.6L543.7,698.8L544.2,700.6L544.7,700.0L545.2,701.1L545.7,701.2L546.3,702.7L546.8,701.5L547.3,700.2L547.8,702.3L548.3,702.8L548.9,702.9L549.4,701.1L549.9,704.1L550.4,701.1L550.9,703.4L551.5,705.3L552.0,703.1L552.5,701.7L553.0,705.7L553.5,703.3L554.1,707.1L554.6,701.7L555.1,705.1L555.6,709.1L556.2,707.6L556.7,703.5L557.3,704.9L557.8,705.4L558.4,705.8L558.9,703.7L559.5,703.6L560.0,702.6L560.6,700.4L561.1,704.7L561.6,703.3L562.2,702.7L562.7,702.1L563.3,701.6L563.8,699.2L564.4,701.8L564.9,703.4L565.5,702.3L566.0,694.6L566.6,689.5L567.1,686.3L567.7,681.8L568.2,677.6L568.8,681.2L569.3,679.3L569.9,678.9L570.4,677.7L570.9,689.5L571.5,674.6L572.0,667.5L572.6,665.0L573.1,654.8L573.7,666.4L574.2,668.6L574.8,671.0L575.3,678.0L575.9,658.8L576.4,657.9L577.0,643.9L577.5,628.6L578.1,638.6L578.6,649.2L579.1,651.1L579.7,659.4L580.2,654.1L580.8,646.3L581.3,642.8L581.9,640.0L582.4,633.7L583.0,639.3L583.5,646.1L584.1,654.5L584.6,648.9L585.2,649.5L585.7,648.9L586.3,646.2L586.8,692.3L587.4,678.7L587.9,668.6L588.4,651.7L589.0,656.4L589.5,657.0L590.1,660.4L590.6,670.8L591.2,668.5L591.7,679.2L592.3,677.7L592.8,675.3L593.4,673.9L593.9,679.2L594.5,682.1L595.0,683.5L595.6,684.8L596.1,688.0L596.7,688.1L597.2,689.2L597.7,693.8L598.3,693.9L598.8,693.5L599.4,695.7L599.9,697.5L600.5,697.0L601.0,699.6L601.6,696.2L602.1,697.2L602.7,698.5L603.2,700.2L603.8,699.7L604.3,699.5L604.9,699.6L605.4,702.4L605.9,699.9L606.4,700.5L606.9,701.9L607.4,702.1L607.9,700.4L608.4,697.6L608.9,698.7L609.4,697.0L609.9,699.7L610.4,701.5L610.9,701.5L611.4,700.0L612.0,689.0L612.5,700.9L613.0,702.7L613.5,699.6L614.1,700.5L614.6,700.9L615.1,700.6L615.6,702.0L616.1,698.8L616.6,700.8L617.1,700.9L617.7,700.5L618.2,698.9L618.7,699.5L619.2,697.6L619.7,700.6L620.2,697.2L620.7,700.4L621.3,701.3L621.8,701.1L622.3,696.9L622.8,700.5L623.3,701.4L623.9,699.6L624.4,699.6L624.9,699.2L625.4,701.1L626.0,700.0L626.5,698.7L627.0,699.4L627.5,698.0L628.0,697.1L628.6,700.5L629.1,697.7L629.6,700.5L630.1,700.8L630.6,700.3L631.2,699.5L631.7,699.7L632.2,700.4L632.7,698.4L633.3,700.7L633.8,698.9L634.4,696.5L634.9,697.2L635.5,698.3L636.0,694.0L636.6,689.9L637.1,688.8L637.7,685.8L638.2,684.8L638.8,678.7L639.3,679.4L639.9,669.1L640.4,671.6" fill="none" stroke="#ec1c24" stroke-width="2.60" stroke-linejoin="round" stroke-linecap="round" clip-path="url(#c03)"/>
<line x1="293.2" y1="623.8" x2="293.2" y2="772.6" stroke="#b44ba8" stroke-width="2.5" stroke-dasharray="10 10"/>
<line x1="75.80" y1="620.00" x2="640.30" y2="620.00" stroke="#444" stroke-width="1.60"/>
<line x1="75.80" y1="772.60" x2="640.30" y2="772.60" stroke="#444" stroke-width="1.60"/>
<line x1="75.80" y1="619.25" x2="75.80" y2="773.35" stroke="#444" stroke-width="1.60"/>
<line x1="640.30" y1="619.25" x2="640.30" y2="773.35" stroke="#444" stroke-width="1.60"/>
<line x1="75.80" y1="620.00" x2="65.80" y2="620.00" stroke="#444" stroke-width="1.40"/>
<line x1="75.80" y1="624.24" x2="70.80" y2="624.24" stroke="#444" stroke-width="1.40"/>
<line x1="75.80" y1="628.48" x2="70.80" y2="628.48" stroke="#444" stroke-width="1.40"/>
<line x1="75.80" y1="632.72" x2="70.80" y2="632.72" stroke="#444" stroke-width="1.40"/>
<line x1="75.80" y1="636.96" x2="70.80" y2="636.96" stroke="#444" stroke-width="1.40"/>
<line x1="75.80" y1="641.19" x2="70.80" y2="641.19" stroke="#444" stroke-width="1.40"/>
<line x1="75.80" y1="645.43" x2="70.80" y2="645.43" stroke="#444" stroke-width="1.40"/>
<line x1="75.80" y1="649.67" x2="70.80" y2="649.67" stroke="#444" stroke-width="1.40"/>
<line x1="75.80" y1="653.91" x2="70.80" y2="653.91" stroke="#444" stroke-width="1.40"/>
<line x1="75.80" y1="658.15" x2="65.80" y2="658.15" stroke="#444" stroke-width="1.40"/>
<line x1="75.80" y1="662.39" x2="70.80" y2="662.39" stroke="#444" stroke-width="1.40"/>
<line x1="75.80" y1="666.63" x2="70.80" y2="666.63" stroke="#444" stroke-width="1.40"/>
<line x1="75.80" y1="670.87" x2="70.80" y2="670.87" stroke="#444" stroke-width="1.40"/>
<line x1="75.80" y1="675.11" x2="70.80" y2="675.11" stroke="#444" stroke-width="1.40"/>
<line x1="75.80" y1="679.34" x2="70.80" y2="679.34" stroke="#444" stroke-width="1.40"/>
<line x1="75.80" y1="683.58" x2="70.80" y2="683.58" stroke="#444" stroke-width="1.40"/>
<line x1="75.80" y1="687.82" x2="70.80" y2="687.82" stroke="#444" stroke-width="1.40"/>
<line x1="75.80" y1="692.06" x2="70.80" y2="692.06" stroke="#444" stroke-width="1.40"/>
<line x1="75.80" y1="696.30" x2="65.80" y2="696.30" stroke="#444" stroke-width="1.40"/>
<line x1="75.80" y1="700.54" x2="70.80" y2="700.54" stroke="#444" stroke-width="1.40"/>
<line x1="75.80" y1="704.78" x2="70.80" y2="704.78" stroke="#444" stroke-width="1.40"/>
<line x1="75.80" y1="709.02" x2="70.80" y2="709.02" stroke="#444" stroke-width="1.40"/>
<line x1="75.80" y1="713.26" x2="70.80" y2="713.26" stroke="#444" stroke-width="1.40"/>
<line x1="75.80" y1="717.49" x2="70.80" y2="717.49" stroke="#444" stroke-width="1.40"/>
<line x1="75.80" y1="721.73" x2="70.80" y2="721.73" stroke="#444" stroke-width="1.40"/>
<line x1="75.80" y1="725.97" x2="70.80" y2="725.97" stroke="#444" stroke-width="1.40"/>
<line x1="75.80" y1="730.21" x2="70.80" y2="730.21" stroke="#444" stroke-width="1.40"/>
<line x1="75.80" y1="734.45" x2="65.80" y2="734.45" stroke="#444" stroke-width="1.40"/>
<line x1="75.80" y1="738.69" x2="70.80" y2="738.69" stroke="#444" stroke-width="1.40"/>
<line x1="75.80" y1="742.93" x2="70.80" y2="742.93" stroke="#444" stroke-width="1.40"/>
<line x1="75.80" y1="747.17" x2="70.80" y2="747.17" stroke="#444" stroke-width="1.40"/>
<line x1="75.80" y1="751.41" x2="70.80" y2="751.41" stroke="#444" stroke-width="1.40"/>
<line x1="75.80" y1="755.64" x2="70.80" y2="755.64" stroke="#444" stroke-width="1.40"/>
<line x1="75.80" y1="759.88" x2="70.80" y2="759.88" stroke="#444" stroke-width="1.40"/>
<line x1="75.80" y1="764.12" x2="70.80" y2="764.12" stroke="#444" stroke-width="1.40"/>
<line x1="75.80" y1="768.36" x2="70.80" y2="768.36" stroke="#444" stroke-width="1.40"/>
<line x1="75.80" y1="772.60" x2="65.80" y2="772.60" stroke="#444" stroke-width="1.40"/>
<line x1="75.50" y1="772.60" x2="75.50" y2="782.10" stroke="#444" stroke-width="1.40"/>
<line x1="89.67" y1="772.60" x2="89.67" y2="777.60" stroke="#444" stroke-width="1.40"/>
<line x1="103.83" y1="772.60" x2="103.83" y2="777.60" stroke="#444" stroke-width="1.40"/>
<line x1="118.00" y1="772.60" x2="118.00" y2="777.60" stroke="#444" stroke-width="1.40"/>
<line x1="132.16" y1="772.60" x2="132.16" y2="777.60" stroke="#444" stroke-width="1.40"/>
<line x1="146.33" y1="772.60" x2="146.33" y2="782.10" stroke="#444" stroke-width="1.40"/>
<line x1="160.50" y1="772.60" x2="160.50" y2="777.60" stroke="#444" stroke-width="1.40"/>
<line x1="174.66" y1="772.60" x2="174.66" y2="777.60" stroke="#444" stroke-width="1.40"/>
<line x1="188.83" y1="772.60" x2="188.83" y2="777.60" stroke="#444" stroke-width="1.40"/>
<line x1="202.99" y1="772.60" x2="202.99" y2="777.60" stroke="#444" stroke-width="1.40"/>
<line x1="217.16" y1="772.60" x2="217.16" y2="782.10" stroke="#444" stroke-width="1.40"/>
<line x1="231.33" y1="772.60" x2="231.33" y2="777.60" stroke="#444" stroke-width="1.40"/>
<line x1="245.49" y1="772.60" x2="245.49" y2="777.60" stroke="#444" stroke-width="1.40"/>
<line x1="259.66" y1="772.60" x2="259.66" y2="777.60" stroke="#444" stroke-width="1.40"/>
<line x1="273.82" y1="772.60" x2="273.82" y2="777.60" stroke="#444" stroke-width="1.40"/>
<line x1="287.99" y1="772.60" x2="287.99" y2="782.10" stroke="#444" stroke-width="1.40"/>
<line x1="302.16" y1="772.60" x2="302.16" y2="777.60" stroke="#444" stroke-width="1.40"/>
<line x1="316.32" y1="772.60" x2="316.32" y2="777.60" stroke="#444" stroke-width="1.40"/>
<line x1="330.49" y1="772.60" x2="330.49" y2="777.60" stroke="#444" stroke-width="1.40"/>
<line x1="344.65" y1="772.60" x2="344.65" y2="777.60" stroke="#444" stroke-width="1.40"/>
<line x1="358.82" y1="772.60" x2="358.82" y2="782.10" stroke="#444" stroke-width="1.40"/>
<line x1="372.99" y1="772.60" x2="372.99" y2="777.60" stroke="#444" stroke-width="1.40"/>
<line x1="387.15" y1="772.60" x2="387.15" y2="777.60" stroke="#444" stroke-width="1.40"/>
<line x1="401.32" y1="772.60" x2="401.32" y2="777.60" stroke="#444" stroke-width="1.40"/>
<line x1="415.48" y1="772.60" x2="415.48" y2="777.60" stroke="#444" stroke-width="1.40"/>
<line x1="429.65" y1="772.60" x2="429.65" y2="782.10" stroke="#444" stroke-width="1.40"/>
<line x1="443.82" y1="772.60" x2="443.82" y2="777.60" stroke="#444" stroke-width="1.40"/>
<line x1="457.98" y1="772.60" x2="457.98" y2="777.60" stroke="#444" stroke-width="1.40"/>
<line x1="472.15" y1="772.60" x2="472.15" y2="777.60" stroke="#444" stroke-width="1.40"/>
<line x1="486.31" y1="772.60" x2="486.31" y2="777.60" stroke="#444" stroke-width="1.40"/>
<line x1="500.48" y1="772.60" x2="500.48" y2="782.10" stroke="#444" stroke-width="1.40"/>
<line x1="514.65" y1="772.60" x2="514.65" y2="777.60" stroke="#444" stroke-width="1.40"/>
<line x1="528.81" y1="772.60" x2="528.81" y2="777.60" stroke="#444" stroke-width="1.40"/>
<line x1="542.98" y1="772.60" x2="542.98" y2="777.60" stroke="#444" stroke-width="1.40"/>
<line x1="557.14" y1="772.60" x2="557.14" y2="777.60" stroke="#444" stroke-width="1.40"/>
<line x1="571.31" y1="772.60" x2="571.31" y2="782.10" stroke="#444" stroke-width="1.40"/>
<line x1="585.48" y1="772.60" x2="585.48" y2="777.60" stroke="#444" stroke-width="1.40"/>
<line x1="599.64" y1="772.60" x2="599.64" y2="777.60" stroke="#444" stroke-width="1.40"/>
<line x1="613.81" y1="772.60" x2="613.81" y2="777.60" stroke="#444" stroke-width="1.40"/>
<line x1="627.97" y1="772.60" x2="627.97" y2="777.60" stroke="#444" stroke-width="1.40"/>
<text x="58.6" y="628.9" font-family="Liberation Serif" font-weight="bold" font-size="26.0" fill="#1e1e1e" text-anchor="end">1800</text>
<text x="58.6" y="667.0" font-family="Liberation Serif" font-weight="bold" font-size="26.0" fill="#1e1e1e" text-anchor="end">900</text>
<text x="58.6" y="705.2" font-family="Liberation Serif" font-weight="bold" font-size="26.0" fill="#1e1e1e" text-anchor="end">0</text>
<text x="58.6" y="743.4" font-family="Liberation Serif" font-weight="bold" font-size="26.0" fill="#1e1e1e" text-anchor="end">-900</text>
<text x="58.6" y="781.5" font-family="Liberation Serif" font-weight="bold" font-size="26.0" fill="#1e1e1e" text-anchor="end">-1800</text>
<text x="75.2" y="813.2" font-family="Liberation Serif" font-weight="bold" font-size="26.0" fill="#1e1e1e" text-anchor="middle">4</text>
<text x="146.0" y="813.2" font-family="Liberation Serif" font-weight="bold" font-size="26.0" fill="#1e1e1e" text-anchor="middle">5</text>
<text x="216.9" y="813.2" font-family="Liberation Serif" font-weight="bold" font-size="26.0" fill="#1e1e1e" text-anchor="middle">6</text>
<text x="287.7" y="813.2" font-family="Liberation Serif" font-weight="bold" font-size="26.0" fill="#1e1e1e" text-anchor="middle">7</text>
<text x="358.5" y="813.2" font-family="Liberation Serif" font-weight="bold" font-size="26.0" fill="#1e1e1e" text-anchor="middle">8</text>
<text x="429.3" y="813.2" font-family="Liberation Serif" font-weight="bold" font-size="26.0" fill="#1e1e1e" text-anchor="middle">9</text>
<text x="500.2" y="813.2" font-family="Liberation Serif" font-weight="bold" font-size="26.0" fill="#1e1e1e" text-anchor="middle">10</text>
<text x="571.0" y="813.2" font-family="Liberation Serif" font-weight="bold" font-size="26.0" fill="#1e1e1e" text-anchor="middle">11</text>
<text x="358.5" y="845.2" font-family="Liberation Serif" font-weight="bold" font-size="28.7" fill="#1e1e1e" text-anchor="middle">Date(July 2016)</text>
<path d="M785.8,671.3L786.4,670.9L786.9,673.7L787.4,675.5L787.9,674.0L788.5,667.5L789.0,664.1L789.5,662.0L790.1,659.7L790.6,654.8L791.1,650.2L791.6,646.7L792.2,645.4L792.7,642.9L793.2,639.6L793.8,638.8L794.3,640.0L794.8,637.4L795.4,637.9L795.9,639.7L796.4,641.2L796.9,642.9L797.5,646.6L798.0,651.4L798.5,651.5L799.1,652.2L799.6,651.6L800.1,651.6L800.6,651.1L801.2,649.0L801.7,651.7L802.2,651.8L802.8,653.5L803.3,654.4L803.8,656.4L804.4,658.0L804.9,658.6L805.4,659.7L805.9,657.7L806.5,659.0L807.0,659.5L807.5,659.3L808.1,664.1L808.6,665.9L809.1,666.6L809.6,669.5L810.2,673.0L810.7,674.6L811.2,678.7L811.8,682.7L812.3,686.7L812.8,690.9L813.4,693.5L813.9,694.4L814.4,693.6L814.9,694.6L815.5,697.3L816.0,697.1L816.5,697.0L817.1,697.3L817.6,694.5L818.1,696.7L818.6,697.3L819.2,698.9L819.7,699.4L820.2,698.1L820.7,698.4L821.2,699.7L821.7,698.4L822.2,700.1L822.7,697.6L823.2,699.6L823.7,699.2L824.2,697.7L824.7,699.0L825.2,699.1L825.7,698.9L826.2,698.3L826.7,698.0L827.2,698.2L827.7,698.9L828.2,699.3L828.7,698.9L829.2,698.1L829.7,698.2L830.2,698.4L830.7,699.1L831.2,699.3L831.7,699.9L832.2,698.7L832.7,699.4L833.2,700.1L833.7,699.3L834.3,696.8L834.8,698.6L835.3,698.6L835.8,699.9L836.3,700.7L836.8,700.3L837.3,699.9L837.8,699.0L838.3,698.8L838.8,698.5L839.3,698.6L839.8,699.9L840.3,697.7L840.8,698.8L841.3,699.9L841.8,698.7L842.3,699.2L842.8,699.7L843.3,700.2L843.8,699.9L844.3,699.1L844.8,699.1L845.3,700.7L845.8,699.2L846.3,698.1L846.8,699.1L847.3,698.7L847.8,698.4L848.3,696.3L848.8,694.4L849.4,690.0L849.9,687.5L850.4,688.3L850.9,683.6L851.5,682.6L852.0,682.4L852.5,680.8L853.1,679.3L853.6,676.3L854.1,676.0L854.6,672.8L855.2,672.9L855.7,670.7L856.2,669.2L856.8,668.7L857.3,667.8L857.8,667.1L858.4,664.8L858.9,664.5L859.4,661.2L859.9,659.8L860.5,659.5L861.0,659.6L861.5,658.6L862.1,659.5L862.6,655.4L863.1,657.0L863.6,654.6L864.2,653.1L864.7,653.6L865.2,651.8L865.8,652.7L866.3,649.9L866.8,650.4L867.4,649.7L867.9,649.8L868.4,649.3L868.9,650.8L869.5,653.6L870.0,654.8L870.5,655.3L871.1,655.0L871.6,655.7L872.1,656.7L872.6,659.1L873.2,659.2L873.7,660.2L874.2,664.4L874.8,663.6L875.3,665.0L875.8,666.4L876.4,669.0L876.9,669.1L877.4,670.7L877.9,672.8L878.5,674.3L879.0,673.9L879.5,676.3L880.1,680.1L880.6,681.6L881.1,686.1L881.6,688.9L882.2,692.0L882.7,694.3L883.2,693.2L883.8,695.4L884.3,696.3L884.8,696.0L885.4,696.3L885.9,698.3L886.4,697.5L886.9,699.7L887.5,698.9L888.0,696.5L888.5,698.1L889.1,700.5L889.6,698.4L890.1,699.2L890.6,700.5L891.2,698.7L891.7,699.3L892.2,700.3L892.7,698.0L893.2,698.5L893.7,698.2L894.2,699.8L894.7,699.1L895.2,697.3L895.7,699.0L896.2,698.6L896.7,697.1L897.2,699.8L897.7,698.8L898.3,698.1L898.8,699.3L899.3,697.6L899.8,698.1L900.3,697.9L900.8,699.5L901.3,696.9L901.8,699.2L902.3,697.3L902.8,697.4L903.3,699.7L903.8,698.4L904.3,700.9L904.8,699.6L905.3,699.4L905.8,699.9L906.3,698.4L906.8,700.1L907.3,698.8L907.9,700.9L908.4,699.5L908.9,699.4L909.4,699.4L909.9,698.8L910.4,698.6L910.9,699.7L911.4,700.0L911.9,700.3L912.4,698.0L912.9,697.4L913.4,699.4L914.0,699.1L914.5,695.4L915.1,696.2L915.7,695.8L916.2,693.8L916.7,691.6L917.2,690.0L917.8,690.2L918.3,686.4L918.8,686.9L919.3,684.5L919.8,681.2L920.3,679.4L920.8,678.2L921.3,675.2L921.8,676.7L922.3,672.6L922.8,671.0L923.3,670.6L923.8,669.5L924.3,667.6L924.8,666.2L925.4,664.1L925.9,661.0L926.4,661.8L926.9,661.8L927.4,658.7L927.9,657.0L928.4,654.5L928.9,653.7L929.4,654.0L930.0,650.8L930.6,652.7L931.3,651.6L931.9,651.5L932.5,650.4L933.1,649.4L933.7,649.9L934.3,648.3L934.9,650.3L935.4,649.6L936.0,649.5L936.5,651.6L937.1,652.0L937.6,650.3L938.2,650.2L938.7,651.0L939.3,647.6L939.8,650.8L940.4,652.3L940.9,652.2L941.5,651.8L942.0,655.0L942.6,661.3L943.1,660.2L943.7,665.0L944.2,663.7L944.8,666.0L945.3,667.1L945.9,668.9L946.4,667.0L947.0,670.1L947.5,670.5L948.1,674.3L948.8,677.1L949.4,678.9L950.0,683.2L950.6,684.6L951.2,688.4L951.8,690.5L952.5,695.1L953.2,696.8L953.9,698.2L954.4,699.1L954.9,699.1L955.5,698.7L956.0,697.1L956.5,695.9L957.1,697.4L957.6,696.4L958.1,696.5L958.6,696.5L959.2,697.7L959.7,697.5L960.2,699.4L960.8,697.1L961.3,697.5L961.8,696.0L962.4,698.4L962.9,697.2L963.4,697.9L963.9,697.9L964.4,697.3L964.9,696.1L965.4,697.4L965.9,699.8L966.4,698.2L966.9,699.1L967.4,699.7L967.9,699.6L968.5,698.9L969.0,697.9L969.5,697.9L970.0,700.8L970.5,700.1L971.0,698.7L971.5,696.6L972.0,697.9L972.5,697.5L973.0,699.5L973.5,697.2L974.0,698.0L974.6,697.6L975.1,697.8L975.6,699.2L976.1,699.8L976.6,702.8L977.2,704.1L977.7,702.6L978.2,701.9L978.8,700.3L979.3,699.0L979.8,703.5L980.4,701.3L980.9,702.2L981.4,703.0L981.9,703.9L982.5,705.8L983.0,703.3L983.5,704.7L984.1,703.2L984.6,704.3L985.1,700.3L985.6,700.0L986.2,700.4L986.7,701.3L987.2,699.1L987.8,696.5L988.3,697.4L988.8,695.8L989.4,695.9L989.9,696.3L990.4,692.7L990.9,695.6L991.5,694.2L992.0,692.8L992.5,692.4L993.1,692.6L993.6,694.2L994.1,693.2L994.6,693.1L995.2,695.6L995.7,692.4L996.2,695.4L996.8,694.6L997.3,695.9L997.8,695.2L998.4,692.9L998.9,694.3L999.4,694.2L999.9,692.9L1000.5,695.8L1001.0,693.7L1001.5,696.6L1002.1,696.2L1002.6,697.7L1003.1,698.2L1003.6,700.3L1004.2,700.9L1004.7,701.0L1005.2,701.8L1005.8,699.6L1006.3,700.6L1006.8,699.7L1007.4,700.1L1007.9,698.7L1008.4,698.2L1008.9,698.0L1009.5,695.9L1010.0,694.8L1010.5,697.2L1011.1,695.3L1011.6,694.2L1012.1,696.6L1012.6,694.3L1013.2,692.4L1013.7,693.4L1014.2,693.4L1014.8,692.4L1015.3,692.1L1015.8,692.7L1016.4,693.3L1016.9,693.5L1017.4,692.9L1017.9,693.1L1018.5,692.8L1019.0,693.0L1019.5,693.8L1020.1,693.1L1020.6,692.9L1021.1,693.3L1021.6,695.1L1022.2,694.5L1022.7,694.0L1023.2,694.7L1023.8,696.8L1024.3,695.3L1024.8,696.5L1025.4,698.7L1025.9,697.7L1026.4,697.5L1026.9,696.3L1027.5,696.0L1028.0,696.0L1028.5,695.8L1029.1,695.5L1029.6,694.8L1030.1,695.0L1030.6,692.9L1031.2,691.2L1031.7,692.8L1032.2,694.0L1032.8,695.4L1033.3,694.3L1033.8,693.9L1034.4,695.8L1034.9,695.8L1035.4,696.9L1035.9,693.9L1036.5,696.1L1037.0,696.1L1037.5,696.0L1038.1,696.0L1038.6,696.6L1039.1,695.5L1039.6,694.5L1040.2,694.5L1040.7,694.5L1041.2,695.0L1041.8,693.4L1042.3,695.5L1042.8,694.8L1043.4,694.7L1043.9,693.7L1044.4,695.5L1044.9,693.7L1045.5,693.2L1046.0,694.4L1046.5,691.0L1047.1,691.0L1047.6,693.7L1048.1,693.6L1048.6,693.6L1049.2,694.7L1049.7,694.5L1050.2,694.5L1050.8,693.8L1051.3,693.0L1051.8,693.1L1052.4,692.7L1052.9,692.4L1053.4,691.6L1053.9,693.9L1054.5,691.8L1055.0,694.6L1055.5,693.7L1056.1,693.6L1056.6,692.3L1057.1,692.8L1057.6,691.6L1058.2,692.3L1058.8,694.2L1059.4,694.3L1060.0,694.5L1060.5,693.0L1061.1,691.5L1061.6,690.1L1062.1,690.6L1062.6,688.9L1063.2,689.6L1063.7,689.6L1064.2,690.5L1064.8,690.1L1065.3,690.2L1065.8,693.0L1066.4,693.5L1066.9,694.0L1067.4,694.1L1067.9,695.4L1068.5,697.6L1069.0,697.4L1069.5,697.8L1070.1,697.9L1070.6,697.2L1071.1,698.4L1071.6,698.9L1072.2,698.6L1072.7,697.3L1073.2,696.9L1073.8,695.7L1074.3,695.5L1074.8,693.6L1075.4,690.7L1075.9,688.6L1076.4,688.9L1076.9,686.3L1077.5,682.8L1078.0,681.4L1078.5,681.1L1079.1,677.4L1079.6,679.1L1080.1,677.1L1080.6,673.3L1081.2,677.4L1081.7,679.5L1082.2,682.2L1082.8,684.7L1083.3,682.9L1083.8,682.3L1084.4,680.8L1084.9,683.1L1085.4,681.4L1085.9,682.7L1086.5,685.4L1087.0,686.2L1087.5,688.8L1088.1,689.8L1088.6,690.5L1089.1,690.6L1089.6,689.3L1090.2,692.9L1090.7,691.5L1091.2,690.9L1091.8,692.2L1092.3,693.6L1092.8,695.1L1093.3,694.8L1093.8,696.4L1094.3,697.0L1094.8,696.3L1095.3,693.4L1095.8,697.9L1096.3,697.0L1096.8,697.3L1097.3,697.2L1097.8,696.1L1098.3,697.7L1098.8,696.5L1099.3,696.2L1099.8,695.7L1100.3,698.7L1100.8,698.6L1101.3,697.0L1101.9,698.5L1102.4,696.4L1102.9,696.3L1103.4,698.6L1103.9,695.1L1104.4,694.9L1104.9,696.7L1105.4,697.5L1105.9,697.6L1106.4,698.9L1106.9,697.6L1107.4,696.4L1107.9,696.8L1108.5,697.5L1109.0,696.8L1109.5,696.6L1110.0,697.6L1110.5,697.8L1111.0,698.5L1111.5,696.1L1112.0,697.4L1112.5,696.9L1113.0,698.8L1113.5,697.2L1114.0,699.1L1114.6,698.2L1115.1,698.2L1115.6,698.3L1116.1,697.2L1116.6,698.3L1117.1,698.8L1117.6,697.3L1118.1,697.7L1118.6,697.2L1119.1,697.5L1119.6,696.8L1120.1,696.1L1120.6,697.0L1121.2,696.4L1121.7,697.3L1122.2,695.7L1122.7,696.2L1123.2,697.9L1123.7,696.4L1124.2,696.7L1124.7,698.2L1125.2,698.4L1125.7,697.5L1126.2,697.4L1126.7,697.1L1127.3,700.2L1127.8,698.1L1128.3,697.8L1128.8,694.5L1129.4,694.4L1129.9,694.7L1130.4,692.6L1130.9,689.8L1131.5,689.1L1132.0,688.6L1132.5,690.6L1133.1,691.2L1133.6,691.0L1134.1,693.3L1134.6,691.0L1135.2,688.5L1135.7,688.9L1136.2,686.3L1136.8,684.7L1137.3,683.4L1137.8,681.6L1138.4,681.3L1138.9,683.2L1139.4,683.4L1139.9,682.5L1140.5,683.1L1141.0,684.5L1141.5,683.8L1142.1,684.8L1142.6,686.1L1143.1,685.0L1143.6,687.0L1144.2,685.0L1144.7,686.3L1145.2,686.4L1145.8,687.6L1146.3,690.5L1146.8,690.5L1147.4,683.9L1147.9,676.7L1148.4,669.2L1148.9,662.0L1149.5,662.4L1150.0,661.3L1150.5,661.2L1151.1,659.5L1151.6,660.6L1152.1,660.0L1152.6,660.4L1153.2,664.6L1153.7,667.0L1154.2,669.4L1154.8,669.9L1155.3,672.4L1155.8,673.4L1156.4,675.4L1156.9,677.7L1157.4,680.2L1157.9,681.7L1158.5,686.3L1159.0,680.2L1159.5,677.0L1160.1,679.3L1160.6,681.5L1161.1,683.4L1161.6,686.8L1162.2,690.7L1162.7,692.6L1163.2,691.0L1163.8,694.5L1164.3,694.1L1164.8,694.6L1165.4,695.2L1165.9,695.6L1166.4,695.3L1166.9,697.2L1167.5,695.1L1168.0,696.2L1168.5,699.0L1169.1,697.4L1169.6,698.9L1170.1,697.2L1170.6,698.3L1171.2,697.8L1171.7,698.6L1172.2,699.6L1172.7,697.8L1173.2,699.6L1173.7,698.4L1174.2,698.2L1174.7,700.0L1175.2,697.5L1175.8,700.6L1176.3,699.4L1176.8,699.6L1177.3,699.5L1177.8,698.2L1178.3,698.1L1178.8,697.7L1179.3,700.2L1179.8,700.2L1180.3,699.9L1180.8,699.5L1181.4,698.0L1181.9,698.5L1182.4,698.9L1182.9,700.3L1183.4,698.6L1183.9,699.1L1184.4,700.8L1184.9,700.6L1185.4,699.4L1185.9,699.8L1186.4,699.6L1187.0,699.2L1187.5,699.6L1188.0,698.6L1188.5,699.3L1189.0,700.7L1189.5,700.0L1190.0,699.9L1190.5,699.4L1191.0,697.4L1191.5,699.8L1192.0,699.6L1192.6,698.4L1193.1,697.7L1193.6,698.9L1194.1,697.9L1194.6,699.5L1195.1,699.5L1195.6,698.9L1196.1,698.2L1196.6,700.4L1197.1,697.7L1197.6,696.9L1198.2,695.8L1198.7,694.3L1199.2,693.7L1199.7,689.7L1200.2,688.4L1200.7,687.3L1201.2,686.7L1201.7,683.5L1202.3,683.5L1202.8,681.0L1203.3,678.1L1203.8,677.4L1204.4,676.6L1204.9,674.9L1205.5,671.8L1206.0,673.1L1206.6,671.9L1207.1,673.4L1207.7,674.4L1208.2,675.0L1208.8,676.0L1209.3,673.7L1209.8,668.3L1210.4,664.4L1210.9,661.5L1211.5,660.8L1212.0,657.2L1212.6,655.0L1213.1,653.0L1213.7,650.1L1214.2,651.5L1214.8,649.4L1215.3,650.0L1215.9,652.2L1216.4,649.5L1217.0,652.0L1217.5,650.2L1218.0,652.5L1218.6,652.0L1219.1,653.7L1219.7,653.8L1220.2,653.4L1220.8,652.7L1221.3,652.9L1221.9,654.5L1222.4,654.5L1223.0,655.8L1223.5,655.7L1224.1,659.8L1224.6,660.5L1225.2,662.1L1225.7,663.0L1226.3,665.6L1226.8,665.2L1227.3,668.3L1227.9,669.0L1228.4,670.8L1229.0,674.3L1229.5,673.2L1230.1,675.6L1230.6,678.1L1231.2,678.5L1231.7,683.5L1232.3,685.5L1232.8,686.2L1233.4,688.3L1233.9,688.0L1234.5,689.9L1235.0,691.6L1235.6,693.7L1236.1,694.1L1236.6,697.5L1237.1,696.4L1237.6,696.7L1238.1,695.5L1238.6,698.5L1239.2,696.8L1239.7,697.4L1240.2,698.1L1240.7,697.3L1241.2,698.3L1241.7,696.5L1242.2,697.9L1242.7,695.9L1243.2,698.8L1243.8,697.4L1244.3,698.2L1244.8,698.1L1245.3,696.8L1245.8,697.2L1246.4,697.8L1246.9,697.3L1247.4,696.8L1247.9,698.2L1248.4,697.2L1249.0,698.7L1249.5,697.4L1250.0,696.1L1250.5,697.5L1251.0,699.4L1251.6,699.2L1252.1,699.5L1252.6,699.7L1253.1,699.2L1253.7,697.6L1254.2,700.3L1254.7,696.9L1255.2,699.5L1255.7,697.9L1256.2,700.4L1256.7,698.9L1257.2,699.4L1257.7,699.2L1258.2,697.6L1258.7,696.9L1259.2,697.2L1259.7,698.7L1260.2,698.3L1260.8,699.9L1261.3,699.1L1261.8,699.2L1262.3,698.8L1262.8,696.5L1263.3,698.0L1263.8,697.7L1264.3,698.6L1264.8,697.1L1265.3,695.4L1265.8,696.5L1266.3,697.4L1266.8,697.5L1267.3,697.1L1267.8,695.5L1268.4,697.4L1268.9,695.9L1269.5,693.0L1270.0,691.5L1270.6,689.9L1271.1,688.8L1271.6,691.2L1272.2,692.5L1272.7,691.9L1273.3,693.1L1273.8,693.8L1274.4,694.1L1274.9,693.8L1275.5,694.4L1276.0,695.3L1276.6,692.0L1277.1,692.7L1277.7,694.0L1278.2,694.8L1278.8,694.5L1279.3,692.4L1279.9,687.2L1280.4,687.9L1280.9,681.4L1281.5,678.1L1282.0,675.0L1282.6,669.6L1283.1,667.3L1283.7,663.2L1284.2,662.1L1284.8,656.6L1285.3,653.0L1285.9,649.0L1286.4,647.9L1287.0,642.9L1287.5,641.2L1288.1,643.6L1288.6,641.7L1289.1,646.1L1289.7,647.2L1290.2,653.1L1290.8,660.4L1291.3,665.0L1291.9,672.2L1292.4,674.5L1293.0,684.8L1293.5,684.0L1294.1,679.1L1294.6,675.4L1295.2,672.6L1295.7,668.9L1296.3,665.5L1296.8,670.2L1297.4,675.9L1297.9,682.0L1298.4,687.2L1299.0,687.3L1299.5,682.9L1300.1,683.4L1300.6,682.7L1301.2,683.5L1301.7,684.6L1302.3,688.1L1302.8,690.1L1303.4,690.7L1303.9,692.6L1304.5,694.9L1305.0,694.3L1305.6,696.3L1306.1,698.4L1306.7,699.0L1307.2,699.6L1307.7,697.0L1308.3,695.6L1308.8,692.6L1309.4,692.9L1309.9,694.9L1310.5,696.8L1311.0,696.4L1311.6,699.9L1312.1,697.0L1312.6,697.8L1313.1,699.2L1313.6,697.1L1314.1,697.4L1314.6,696.3L1315.1,698.7L1315.6,699.0L1316.1,697.3L1316.6,696.4L1317.1,695.9L1317.6,699.0L1318.1,698.5L1318.6,695.7L1319.1,694.9L1319.7,697.6L1320.2,698.2L1320.7,697.7L1321.2,698.6L1321.7,697.4L1322.2,697.5L1322.7,698.6L1323.2,697.0L1323.7,697.2L1324.2,695.9L1324.7,697.2L1325.2,698.3L1325.7,697.4L1326.2,697.1L1326.7,696.3L1327.2,697.7L1327.7,696.7L1328.2,695.9L1328.7,696.3L1329.2,698.3L1329.7,698.1L1330.3,697.5L1330.8,695.5L1331.3,695.8L1331.8,696.3L1332.3,697.4L1332.8,697.9L1333.3,698.5L1333.8,697.8L1334.3,696.3L1334.8,698.0L1335.3,697.1L1335.8,698.2L1336.3,698.4L1336.8,698.8L1337.3,698.7L1337.8,697.7L1338.4,696.5L1338.9,695.7L1339.5,693.2L1340.0,692.3L1340.6,687.0L1341.1,687.0L1341.7,685.5L1342.2,684.8L1342.7,680.1L1343.3,678.8L1343.8,672.2L1344.4,668.4L1344.9,665.0" fill="none" stroke="#0a0a0a" stroke-width="2.80" stroke-linejoin="round" stroke-linecap="round" clip-path="url(#c13)"/>
<path d="M785.8,696.3L786.5,695.8L787.2,696.3L787.9,696.7L788.6,696.6L789.3,696.0L790.0,696.3L790.7,695.7L791.4,696.1L792.1,696.1L792.9,696.2L793.6,696.5L794.3,696.1L795.0,696.0L795.7,696.0L796.4,696.6L797.1,696.0L797.8,696.4L798.5,696.3L799.2,696.6L799.9,697.0L800.6,696.8L801.3,696.9L802.0,696.2L802.7,696.4L803.4,697.1L804.1,696.9L804.8,697.0L805.5,697.2L806.2,697.4L806.9,697.2L807.6,697.4L808.3,696.9L809.0,697.0L809.7,696.8L810.4,696.2L811.1,696.4L811.8,696.1L812.5,696.7L813.2,696.8L813.9,696.9L814.6,696.5L815.3,697.2L816.0,696.4L816.7,696.8L817.4,696.4L818.1,696.6L818.8,697.0L819.6,696.6L820.3,696.6L821.0,696.6L821.7,696.5L822.4,695.8L823.1,696.4L823.8,696.9L824.5,696.5L825.2,696.4L825.9,696.5L826.6,696.9L827.3,696.8L828.0,698.2L828.7,697.0L829.4,697.1L830.1,697.2L830.8,696.2L831.5,696.4L832.2,696.4L832.9,697.0L833.6,696.2L834.3,696.1L835.0,696.0L835.7,696.0L836.4,696.6L837.1,696.3L837.8,696.3L838.5,696.9L839.2,696.9L839.9,697.0L840.6,696.6L841.3,696.6L842.0,696.8L842.7,697.0L843.4,696.6L844.1,696.5L844.8,697.1L845.6,696.5L846.3,697.1L847.0,696.6L847.7,696.8L848.4,697.2L849.1,697.0L849.8,697.3L850.5,696.9L851.2,696.5L851.9,696.8L852.6,696.3L853.3,696.5L854.0,697.1L854.7,697.1L855.4,696.8L856.1,697.6L856.8,697.2L857.5,697.0L858.2,696.3L858.9,696.8L859.6,696.7L860.3,697.0L861.0,696.4L861.7,696.8L862.4,697.3L863.1,697.0L863.8,697.4L864.5,697.3L865.2,697.1L865.9,696.7L866.6,697.4L867.3,697.0L868.0,697.1L868.7,697.3L869.4,697.7L870.1,697.2L870.8,696.3L871.5,696.8L872.3,696.6L873.0,696.7L873.7,696.3L874.4,696.3L875.1,696.5L875.8,696.8L876.5,696.3L877.2,696.8L877.9,696.5L878.6,696.8L879.3,697.2L880.0,697.0L880.7,696.5L881.4,697.6L882.1,697.3L882.8,696.7L883.5,696.8L884.2,696.7L884.9,696.4L885.6,696.8L886.3,696.5L887.0,696.6L887.7,697.6L888.4,697.3L889.1,696.7L889.8,697.0L890.5,697.2L891.2,696.8L891.9,696.1L892.6,696.7L893.3,697.1L894.0,696.4L894.7,696.2L895.4,696.5L896.1,696.9L896.8,696.6L897.5,696.3L898.3,697.2L899.0,697.4L899.7,696.2L900.4,696.4L901.1,696.8L901.8,696.6L902.5,696.5L903.2,695.7L903.9,696.6L904.6,696.4L905.3,697.0L906.0,696.8L906.7,697.3L907.4,696.7L908.1,696.8L908.8,697.1L909.5,696.9L910.2,696.7L910.9,696.4L911.6,696.7L912.3,696.6L913.0,696.7L913.7,696.9L914.4,696.9L915.1,696.3L915.8,695.9L916.5,696.1L917.2,695.6L917.9,696.2L918.6,696.4L919.3,696.4L920.0,696.3L920.7,696.4L921.4,696.5L922.1,696.5L922.8,697.1L923.5,696.1L924.3,696.7L925.0,696.6L925.7,695.5L926.4,695.8L927.1,696.1L927.8,696.3L928.5,696.4L929.2,696.1L929.9,696.5L930.6,696.3L931.3,696.6L932.0,696.2L932.7,696.4L933.4,697.4L934.1,697.2L934.8,696.9L935.5,696.7L936.2,697.0L937.0,696.8L937.7,697.5L938.4,696.9L939.1,697.6L939.8,696.7L940.5,696.7L941.2,697.2L941.9,697.1L942.6,696.7L943.3,697.0L944.0,697.9L944.7,697.5L945.4,697.1L946.1,696.3L946.8,696.7L947.5,696.3L948.2,697.1L948.9,695.9L949.7,696.6L950.4,696.4L951.1,695.9L951.8,696.1L952.5,696.0L953.2,696.4L953.9,696.5L954.6,696.6L955.3,696.1L956.0,695.8L956.7,696.0L957.4,696.5L958.1,697.3L958.8,696.6L959.5,696.6L960.2,696.7L960.9,696.2L961.6,695.7L962.4,695.8L963.1,696.1L963.8,696.0L964.5,696.0L965.2,695.8L965.9,695.9L966.6,696.0L967.3,696.4L968.0,696.1L968.7,696.5L969.4,696.3L970.1,695.9L970.8,696.2L971.5,695.8L972.2,695.8L972.9,695.6L973.7,695.8L974.4,695.5L975.1,695.7L975.8,696.1L976.5,696.1L977.2,696.5L977.9,695.8L978.6,696.1L979.4,696.4L980.1,696.3L980.8,695.9L981.5,695.8L982.2,695.9L982.9,695.9L983.6,696.4L984.3,696.3L985.1,695.8L985.8,696.0L986.5,696.0L987.2,696.1L987.9,695.7L988.6,696.2L989.3,696.4L990.0,696.4L990.8,696.5L991.5,696.1L992.2,696.1L992.9,696.6L993.6,696.6L994.3,696.0L995.0,696.1L995.7,696.2L996.5,695.7L997.2,695.4L997.9,696.2L998.6,696.1L999.3,696.3L1000.0,696.0L1000.7,696.3L1001.4,694.8L1002.2,695.1L1002.9,695.5L1003.6,695.5L1004.3,695.1L1005.0,695.8L1005.7,695.8L1006.4,696.1L1007.1,695.5L1007.9,695.6L1008.6,696.2L1009.3,695.5L1010.0,695.9L1010.8,695.8L1011.5,696.6L1012.3,698.1L1013.0,698.5L1013.8,699.2L1014.5,700.2L1015.3,701.0L1016.1,701.3L1016.8,701.8L1017.6,701.7L1018.3,701.7L1019.1,701.9L1019.8,702.1L1020.6,702.8L1021.3,702.8L1022.1,701.7L1022.9,701.7L1023.6,701.7L1024.4,701.5L1025.1,701.5L1025.9,701.6L1026.6,700.3L1027.4,700.0L1028.2,700.0L1028.9,699.6L1029.7,698.1L1030.4,697.5L1031.2,696.6L1031.9,696.7L1032.7,697.2L1033.4,698.0L1034.2,698.9L1035.0,699.5L1035.7,699.8L1036.5,700.6L1037.2,699.7L1038.0,699.9L1038.7,700.3L1039.5,698.8L1040.3,699.1L1041.0,698.4L1041.8,698.4L1042.5,696.8L1043.3,696.5L1044.0,696.4L1044.8,694.4L1045.5,693.7L1046.3,692.6L1047.1,691.8L1047.8,692.4L1048.6,692.5L1049.3,693.1L1050.1,693.4L1050.8,693.5L1051.6,694.3L1052.4,695.2L1053.1,695.1L1053.9,694.9L1054.6,695.4L1055.4,694.8L1056.1,694.4L1056.9,695.6L1057.6,694.7L1058.4,695.1L1059.2,695.7L1060.0,696.1L1060.7,696.7L1061.4,696.1L1062.1,696.4L1062.8,696.2L1063.5,696.1L1064.2,696.8L1064.9,696.7L1065.6,696.2L1066.3,695.9L1067.0,696.1L1067.7,697.0L1068.4,696.9L1069.1,696.1L1069.8,695.8L1070.5,696.4L1071.2,696.3L1071.9,696.6L1072.6,696.7L1073.3,696.4L1074.0,696.6L1074.7,697.3L1075.4,696.9L1076.1,696.3L1076.8,696.5L1077.5,696.3L1078.2,696.0L1078.9,696.4L1079.6,695.6L1080.3,695.3L1081.0,695.6L1081.7,695.5L1082.4,695.6L1083.1,695.5L1083.8,695.6L1084.5,696.0L1085.2,696.2L1085.9,696.4L1086.6,696.0L1087.3,696.2L1088.0,696.4L1088.7,696.6L1089.4,696.3L1090.1,695.9L1090.8,696.2L1091.5,696.4L1092.2,696.6L1092.9,695.8L1093.6,696.1L1094.3,696.2L1095.0,696.9L1095.7,696.7L1096.4,696.9L1097.1,696.3L1097.8,696.0L1098.5,696.5L1099.2,695.9L1099.9,696.2L1100.6,695.9L1101.3,695.9L1102.0,696.1L1102.7,696.1L1103.4,696.3L1104.1,696.6L1104.8,695.8L1105.5,696.0L1106.2,696.1L1106.9,696.3L1107.6,696.4L1108.3,696.0L1109.0,696.3L1109.7,695.8L1110.4,696.3L1111.1,696.3L1111.8,696.9L1112.5,696.8L1113.2,696.6L1113.9,696.3L1114.6,696.0L1115.3,696.6L1116.0,696.1L1116.7,696.2L1117.4,697.0L1118.1,696.5L1118.8,696.0L1119.5,696.0L1120.2,696.4L1120.9,696.9L1121.6,696.3L1122.3,696.4L1123.0,696.6L1123.7,696.4L1124.4,695.6L1125.1,696.0L1125.8,696.3L1126.5,695.8L1127.2,695.3L1127.9,695.9L1128.6,695.4L1129.3,695.8L1130.0,696.5L1130.7,696.9L1131.4,696.5L1132.1,696.5L1132.8,696.4L1133.5,696.2L1134.2,696.1L1134.9,696.1L1135.6,695.7L1136.3,695.9L1137.0,696.0L1137.7,696.0L1138.4,696.2L1139.1,696.2L1139.8,696.4L1140.5,696.2L1141.2,696.1L1141.9,696.0L1142.6,696.1L1143.3,695.5L1144.0,696.6L1144.7,696.1L1145.4,696.0L1146.1,696.9L1146.8,696.8L1147.5,696.1L1148.2,696.2L1148.9,695.5L1149.6,696.0L1150.3,695.9L1151.0,696.6L1151.7,696.7L1152.4,696.5L1153.1,696.0L1153.8,696.2L1154.5,695.8L1155.2,695.5L1155.9,696.6L1156.6,696.4L1157.3,696.7L1158.0,696.5L1158.7,696.4L1159.4,696.6L1160.1,696.6L1160.8,696.9L1161.5,697.1L1162.2,696.3L1162.9,696.5L1163.6,696.1L1164.3,696.2L1165.0,695.5L1165.7,696.4L1166.4,695.9L1167.1,696.4L1167.8,696.1L1168.5,696.6L1169.2,695.6L1169.9,695.4L1170.6,695.1L1171.3,696.1L1172.0,696.1L1172.7,695.8L1173.4,695.7L1174.1,695.0L1174.8,695.5L1175.5,695.4L1176.2,695.7L1176.9,695.4L1177.6,696.5L1178.3,695.5L1179.0,695.2L1179.7,695.6L1180.4,696.0L1181.1,695.2L1181.8,695.7L1182.5,696.0L1183.2,696.1L1183.9,696.3L1184.6,696.0L1185.3,695.5L1186.0,695.5L1186.7,695.1L1187.4,695.1L1188.1,695.9L1188.8,695.3L1189.5,695.9L1190.2,696.0L1190.9,695.5L1191.6,695.6L1192.3,695.3L1193.0,696.4L1193.7,695.2L1194.4,696.2L1195.1,696.6L1195.8,696.8L1196.5,696.3L1197.3,697.1L1198.0,696.2L1198.7,697.2L1199.4,696.0L1200.1,696.1L1200.8,696.9L1201.5,696.7L1202.2,696.8L1202.9,696.4L1203.6,696.7L1204.3,696.4L1205.0,697.2L1205.7,697.3L1206.4,696.3L1207.1,696.0L1207.8,696.4L1208.5,696.1L1209.2,696.9L1209.9,696.4L1210.6,697.1L1211.3,697.0L1212.0,695.8L1212.7,696.2L1213.4,696.2L1214.1,696.8L1214.8,695.3L1215.5,696.6L1216.2,696.4L1216.9,696.9L1217.6,696.4L1218.3,696.3L1219.0,696.8L1219.7,696.9L1220.4,697.2L1221.1,696.6L1221.8,697.6L1222.5,696.9L1223.2,697.1L1223.9,696.9L1224.6,696.9L1225.3,697.3L1226.0,697.9L1226.7,697.4L1227.4,697.5L1228.1,697.3L1228.8,697.4L1229.5,696.9L1230.2,696.7L1230.9,697.3L1231.6,697.0L1232.3,697.6L1233.0,698.0L1233.7,698.1L1234.4,698.3L1235.1,698.1L1235.8,697.5L1236.5,698.4L1237.2,697.5L1237.9,697.7L1238.6,697.4L1239.3,697.8L1240.0,698.0L1240.7,697.7L1241.4,698.4L1242.1,698.0L1242.8,698.4L1243.5,697.8L1244.2,697.5L1244.9,698.6L1245.6,698.5L1246.3,698.3L1247.0,698.3L1247.8,697.9L1248.5,698.0L1249.2,697.5L1250.0,698.5L1250.7,698.3L1251.4,698.1L1252.1,698.6L1252.9,698.0L1253.6,698.1L1254.3,697.3L1255.1,697.7L1255.8,698.8L1256.5,697.8L1257.2,697.9L1257.9,697.5L1258.6,698.2L1259.3,698.1L1260.0,697.4L1260.7,696.5L1261.4,696.5L1262.1,696.4L1262.8,696.9L1263.5,696.2L1264.2,696.6L1264.9,695.7L1265.6,695.8L1266.3,695.5L1267.0,696.2L1267.7,695.6L1268.4,696.0L1269.1,695.6L1269.8,696.1L1270.5,695.5L1271.2,695.8L1271.9,695.8L1272.6,695.7L1273.4,695.9L1274.1,695.4L1274.8,695.5L1275.5,695.1L1276.2,695.3L1276.9,695.3L1277.6,695.3L1278.3,694.6L1279.0,695.1L1279.7,695.0L1280.4,695.4L1281.1,694.5L1281.8,694.7L1282.5,695.5L1283.2,695.6L1283.9,695.5L1284.6,695.2L1285.3,695.8L1286.0,695.3L1286.7,695.2L1287.4,693.9L1288.1,695.0L1288.8,694.8L1289.5,695.0L1290.2,695.2L1290.9,696.0L1291.6,695.8L1292.3,695.8L1293.0,695.5L1293.7,695.5L1294.4,696.2L1295.1,695.4L1295.8,695.1L1296.5,695.3L1297.2,696.1L1297.9,695.1L1298.6,694.9L1299.3,695.6L1300.0,695.4L1300.7,694.9L1301.4,695.2L1302.1,695.2L1302.8,694.9L1303.5,695.2L1304.2,695.9L1304.9,696.2L1305.6,695.9L1306.3,695.7L1307.0,695.0L1307.7,695.3L1308.4,695.1L1309.1,695.4L1309.8,695.0L1310.5,695.8L1311.2,696.4L1312.0,695.6L1312.7,696.0L1313.4,696.3L1314.1,696.0L1314.8,695.9L1315.5,695.7L1316.2,695.8L1316.9,696.0L1317.6,695.8L1318.3,695.4L1319.0,695.9L1319.7,695.7L1320.4,695.7L1321.1,696.1L1321.8,695.9L1322.5,696.0L1323.2,695.5L1323.9,695.7L1324.6,695.9L1325.3,696.7L1326.0,695.9L1326.7,695.5L1327.4,695.5L1328.1,696.0L1328.8,694.8L1329.5,695.4L1330.2,695.4L1330.9,695.7L1331.6,695.6L1332.3,695.6L1333.0,695.9L1333.7,695.4L1334.4,695.8L1335.1,696.3L1335.8,696.0L1336.5,695.7L1337.2,695.6L1337.9,695.6L1338.6,695.6L1339.3,696.1L1340.0,696.0L1340.7,695.8L1341.4,695.9L1342.1,695.8L1342.8,695.2L1343.5,696.1L1344.2,696.0L1344.9,695.6" fill="none" stroke="#2f4d9f" stroke-width="2.60" stroke-linejoin="round" stroke-linecap="round" clip-path="url(#c13)"/>
<path d="M785.8,702.1L786.3,702.7L786.8,702.8L787.4,702.7L787.9,699.9L788.4,701.9L788.9,702.2L789.4,702.0L789.9,702.8L790.4,701.6L790.9,701.7L791.5,700.1L792.0,700.7L792.5,702.7L793.0,701.9L793.5,702.0L794.0,702.2L794.5,700.8L795.0,703.5L795.5,702.4L796.1,703.2L796.6,702.5L797.1,704.9L797.6,702.7L798.1,704.6L798.6,702.3L799.1,702.1L799.6,700.4L800.2,702.7L800.7,702.8L801.2,702.2L801.7,702.9L802.2,703.3L802.8,702.9L803.3,703.4L803.8,703.3L804.4,705.9L804.9,705.9L805.4,703.8L805.9,705.3L806.5,704.5L807.0,704.6L807.5,703.1L808.1,705.9L808.6,706.1L809.1,704.6L809.6,702.4L810.2,703.7L810.7,701.5L811.2,703.1L811.8,701.9L812.3,702.1L812.8,701.8L813.3,702.0L813.8,699.8L814.3,701.2L814.8,701.8L815.3,699.7L815.8,700.0L816.3,700.6L816.8,703.1L817.3,702.3L817.8,701.7L818.3,703.1L818.8,702.2L819.3,701.1L819.8,701.8L820.3,700.9L820.8,699.9L821.3,701.8L821.8,702.0L822.4,700.5L822.9,701.0L823.4,699.8L823.9,699.3L824.4,700.7L824.9,698.3L825.4,701.2L825.9,701.9L826.4,702.5L826.9,700.9L827.4,700.0L827.9,701.4L828.4,700.4L828.9,699.2L829.4,701.0L829.9,699.5L830.4,700.1L830.9,699.2L831.4,701.4L831.9,701.0L832.4,700.5L832.9,700.0L833.4,698.8L833.9,701.4L834.5,701.6L835.0,699.2L835.5,700.7L836.0,698.8L836.5,701.4L837.0,699.6L837.5,698.7L838.0,699.4L838.5,700.8L839.0,698.8L839.5,700.1L840.0,700.2L840.5,699.4L841.0,699.4L841.5,702.1L842.0,700.0L842.5,698.4L843.0,698.9L843.5,701.0L844.0,699.4L844.5,699.7L845.0,700.7L845.5,701.5L846.1,700.0L846.6,700.6L847.1,700.4L847.6,701.9L848.1,701.7L848.6,702.2L849.1,699.9L849.6,700.0L850.1,703.1L850.6,701.3L851.1,704.8L851.6,702.5L852.1,702.4L852.6,702.9L853.1,702.6L853.6,703.3L854.1,702.0L854.6,703.9L855.1,703.6L855.6,703.9L856.1,703.9L856.6,702.6L857.1,703.0L857.6,702.3L858.2,701.8L858.7,701.0L859.2,704.5L859.7,702.7L860.2,704.2L860.7,704.3L861.2,701.2L861.7,703.8L862.2,701.6L862.7,699.9L863.2,702.3L863.7,702.3L864.2,701.0L864.7,702.4L865.2,703.4L865.7,701.7L866.2,703.6L866.7,703.1L867.2,703.5L867.7,703.2L868.2,701.9L868.7,701.0L869.2,701.6L869.7,703.1L870.3,702.4L870.8,702.6L871.3,703.2L871.8,704.5L872.3,700.3L872.8,702.7L873.3,703.9L873.8,705.1L874.3,704.5L874.8,703.6L875.3,704.4L875.8,705.2L876.3,701.7L876.8,701.2L877.3,701.3L877.8,702.4L878.3,704.0L878.8,700.3L879.3,703.2L879.8,702.4L880.3,703.3L880.8,701.0L881.3,703.3L881.8,702.7L882.4,702.3L882.9,702.2L883.4,703.6L883.9,701.7L884.4,702.3L884.9,703.3L885.4,701.2L885.9,701.8L886.4,702.5L886.9,704.0L887.4,702.0L887.9,701.0L888.4,701.2L888.9,700.7L889.4,699.7L889.9,700.6L890.4,701.4L890.9,701.1L891.4,700.4L891.9,701.0L892.4,699.9L892.9,701.2L893.4,701.4L893.9,701.1L894.5,700.1L895.0,700.9L895.5,698.7L896.0,700.7L896.5,701.0L897.0,699.6L897.5,700.0L898.1,698.0L898.6,699.4L899.1,701.6L899.6,699.5L900.2,699.3L900.7,697.9L901.2,698.5L901.8,699.9L902.3,699.4L902.8,699.0L903.4,699.2L903.9,700.2L904.4,700.8L904.9,697.6L905.5,698.3L906.0,698.0L906.5,699.5L907.1,698.2L907.6,700.5L908.1,698.7L908.6,699.9L909.2,698.8L909.7,697.8L910.2,699.2L910.8,700.2L911.3,702.0L911.8,701.1L912.4,700.5L912.9,699.7L913.4,701.8L913.9,700.1L914.5,700.2L915.0,700.7L915.5,702.4L916.1,700.9L916.6,702.4L917.1,700.0L917.6,698.6L918.2,700.4L918.7,700.0L919.2,701.9L919.8,701.4L920.3,701.4L920.8,703.3L921.3,701.5L921.8,700.3L922.3,702.1L922.8,701.1L923.3,703.1L923.9,701.1L924.4,703.4L924.9,700.0L925.4,700.8L925.9,701.9L926.4,702.1L926.9,703.7L927.4,702.1L927.9,703.2L928.4,702.0L928.9,702.8L929.4,701.3L929.9,703.0L930.4,701.5L930.9,702.0L931.4,703.8L931.9,701.4L932.4,703.5L932.9,704.7L933.4,702.9L933.9,702.5L934.5,703.1L935.0,701.3L935.5,702.3L936.0,701.2L936.5,702.6L937.0,703.5L937.5,704.4L938.0,703.7L938.5,704.0L939.0,703.7L939.5,702.6L940.0,702.8L940.5,703.5L941.0,702.2L941.5,703.7L942.0,702.3L942.5,701.8L943.0,703.2L943.5,704.1L944.0,704.8L944.5,704.7L945.1,704.3L945.6,703.6L946.1,703.9L946.6,703.8L947.1,704.7L947.6,705.4L948.1,705.2L948.6,704.1L949.1,702.9L949.6,705.0L950.1,703.3L950.6,702.1L951.1,704.0L951.6,705.0L952.2,705.1L952.7,704.0L953.2,704.9L953.7,705.5L954.2,704.2L954.7,704.8L955.2,703.3L955.7,703.0L956.2,705.6L956.7,703.9L957.3,703.6L957.8,704.8L958.3,705.0L958.8,704.1L959.3,704.9L959.8,707.1L960.3,703.9L960.8,702.7L961.3,702.3L961.8,702.2L962.4,705.6L962.9,704.5L963.4,704.6L963.9,703.7L964.4,703.2L964.9,704.8L965.4,704.4L965.9,703.2L966.4,705.7L966.9,706.1L967.4,706.9L967.9,707.2L968.4,705.7L968.9,704.5L969.4,706.2L969.9,705.9L970.4,708.1L970.9,706.2L971.4,704.2L971.9,707.4L972.4,705.1L972.9,706.6L973.4,704.9L973.9,706.7L974.5,706.9L975.0,706.2L975.5,707.8L976.0,706.3L976.5,707.1L977.0,707.4L977.5,706.0L978.0,708.7L978.5,706.5L979.0,705.7L979.5,707.7L980.0,707.0L980.5,707.6L981.0,708.2L981.5,708.1L982.0,709.0L982.5,708.4L983.0,707.7L983.5,707.7L984.0,708.0L984.5,708.3L985.0,710.8L985.5,708.6L986.1,709.8L986.6,707.2L987.1,706.9L987.6,709.7L988.1,707.9L988.6,706.1L989.1,708.7L989.6,711.5L990.1,709.8L990.6,707.8L991.1,709.2L991.6,709.5L992.1,709.7L992.6,707.7L993.1,709.1L993.6,709.6L994.1,708.2L994.6,709.1L995.1,709.0L995.6,708.6L996.1,707.6L996.6,707.6L997.1,707.5L997.6,708.2L998.2,708.4L998.7,708.7L999.2,707.9L999.7,709.0L1000.2,705.9L1000.7,709.2L1001.2,709.9L1001.7,709.3L1002.2,706.1L1002.7,709.5L1003.2,708.3L1003.7,708.5L1004.2,708.6L1004.7,707.7L1005.2,711.9L1005.8,711.3L1006.3,711.1L1006.8,709.2L1007.4,709.9L1007.9,709.8L1008.4,711.5L1008.9,709.3L1009.5,708.4L1010.0,710.8L1010.5,710.8L1011.1,711.5L1011.6,712.5L1012.1,711.3L1012.6,712.6L1013.2,713.4L1013.7,714.4L1014.2,713.3L1014.8,715.7L1015.3,715.6L1015.8,719.2L1016.4,717.6L1016.9,718.9L1017.4,719.3L1017.9,718.9L1018.5,720.2L1019.0,720.8L1019.5,720.6L1020.1,720.3L1020.6,719.5L1021.1,721.3L1021.6,718.7L1022.2,718.9L1022.7,719.1L1023.2,719.6L1023.8,721.7L1024.3,722.8L1024.8,723.4L1025.4,724.6L1025.9,724.3L1026.4,721.4L1026.9,720.1L1027.5,719.6L1028.0,717.5L1028.5,716.4L1029.1,716.1L1029.6,713.1L1030.1,715.8L1030.6,715.9L1031.2,715.0L1031.7,714.6L1032.2,714.1L1032.8,715.0L1033.3,713.4L1033.8,712.7L1034.4,714.2L1034.9,717.0L1035.4,715.4L1035.9,715.0L1036.5,713.8L1037.0,712.9L1037.5,713.4L1038.1,715.5L1038.6,713.5L1039.1,715.0L1039.6,712.5L1040.2,714.1L1040.7,714.1L1041.2,713.8L1041.8,713.0L1042.3,710.8L1042.8,712.6L1043.4,710.1L1043.9,710.6L1044.4,710.4L1044.9,709.9L1045.5,708.1L1046.0,709.0L1046.5,707.9L1047.1,707.2L1047.6,705.9L1048.1,709.2L1048.6,707.8L1049.1,707.5L1049.6,708.6L1050.1,706.8L1050.6,704.9L1051.1,706.7L1051.6,704.5L1052.1,708.8L1052.6,709.0L1053.1,706.7L1053.6,706.9L1054.1,706.8L1054.6,709.2L1055.1,706.8L1055.6,705.3L1056.1,705.0L1056.6,706.2L1057.1,705.0L1057.6,707.0L1058.2,703.5L1058.8,705.0L1059.4,703.3L1060.0,700.7L1060.5,703.5L1061.0,704.0L1061.5,703.4L1062.0,702.6L1062.5,701.8L1063.0,703.3L1063.5,704.5L1064.0,702.1L1064.5,704.0L1065.0,704.7L1065.5,703.1L1066.1,703.0L1066.6,702.9L1067.1,704.3L1067.6,702.1L1068.1,701.2L1068.6,702.0L1069.1,703.1L1069.6,702.6L1070.1,703.4L1070.6,702.5L1071.1,703.9L1071.6,702.0L1072.1,703.6L1072.6,702.9L1073.1,703.1L1073.6,703.9L1074.1,702.9L1074.6,701.5L1075.1,698.8L1075.6,701.9L1076.1,702.5L1076.6,701.1L1077.1,700.6L1077.6,700.7L1078.2,699.8L1078.7,701.9L1079.2,699.4L1079.7,698.5L1080.2,700.1L1080.7,697.1L1081.2,701.7L1081.7,702.8L1082.2,699.9L1082.7,700.1L1083.2,700.3L1083.7,700.3L1084.2,701.1L1084.7,699.4L1085.2,698.8L1085.7,701.7L1086.2,700.5L1086.7,700.3L1087.2,700.1L1087.7,701.0L1088.2,700.0L1088.7,700.1L1089.2,699.8L1089.7,701.4L1090.3,700.2L1090.8,699.7L1091.3,700.3L1091.8,700.1L1092.3,697.3L1092.8,698.0L1093.3,698.5L1093.8,701.0L1094.3,701.3L1094.8,701.5L1095.3,698.6L1095.8,700.4L1096.3,700.7L1096.8,700.0L1097.3,699.2L1097.8,700.1L1098.3,701.5L1098.8,700.6L1099.3,700.1L1099.8,702.2L1100.3,699.5L1100.8,702.4L1101.3,700.9L1101.8,699.4L1102.4,699.5L1102.9,699.4L1103.4,698.6L1103.9,699.7L1104.4,699.7L1104.9,697.9L1105.4,699.7L1105.9,698.7L1106.4,699.6L1106.9,699.7L1107.4,700.9L1107.9,701.1L1108.4,700.9L1108.9,700.5L1109.4,700.2L1109.9,698.0L1110.4,699.3L1110.9,700.2L1111.4,698.6L1111.9,700.1L1112.4,699.1L1112.9,697.7L1113.4,698.2L1113.9,700.3L1114.5,700.3L1115.0,699.7L1115.5,699.5L1116.0,701.1L1116.5,700.0L1117.0,700.8L1117.5,701.8L1118.0,702.8L1118.5,700.1L1119.0,702.1L1119.5,703.3L1120.0,699.8L1120.5,702.1L1121.0,699.6L1121.5,700.3L1122.0,701.5L1122.5,701.8L1123.0,700.3L1123.5,700.5L1124.1,701.1L1124.6,701.2L1125.1,700.5L1125.6,702.7L1126.2,702.2L1126.7,701.9L1127.2,703.5L1127.8,702.2L1128.3,702.1L1128.8,700.7L1129.4,702.0L1129.9,702.7L1130.4,699.9L1130.9,700.7L1131.5,702.5L1132.0,702.0L1132.5,702.3L1133.1,701.4L1133.6,703.0L1134.1,704.1L1134.6,705.3L1135.2,705.3L1135.7,705.1L1136.2,704.5L1136.8,706.2L1137.3,706.0L1137.8,705.5L1138.4,705.5L1138.9,707.6L1139.4,704.4L1139.9,707.7L1140.5,707.0L1141.0,707.6L1141.5,707.1L1142.1,707.5L1142.6,706.2L1143.1,705.6L1143.6,706.4L1144.2,704.5L1144.7,707.2L1145.2,705.9L1145.8,703.7L1146.3,707.7L1146.8,706.6L1147.4,705.7L1147.9,705.4L1148.4,705.3L1148.9,706.3L1149.5,708.4L1150.0,707.1L1150.5,707.2L1151.1,707.2L1151.6,706.5L1152.1,706.1L1152.6,707.6L1153.2,707.5L1153.7,707.9L1154.2,706.7L1154.8,705.4L1155.3,706.9L1155.8,704.9L1156.4,705.2L1156.9,703.4L1157.4,703.5L1157.9,704.4L1158.5,703.4L1159.0,703.6L1159.5,702.0L1160.1,702.2L1160.6,702.8L1161.1,702.9L1161.6,705.9L1162.2,704.9L1162.7,703.5L1163.2,704.3L1163.8,703.8L1164.3,703.8L1164.8,705.3L1165.4,703.8L1165.9,704.0L1166.4,702.5L1166.9,704.7L1167.4,704.5L1167.9,702.9L1168.4,702.5L1168.9,704.5L1169.4,701.7L1169.9,705.6L1170.4,701.2L1170.9,704.2L1171.4,704.0L1171.9,704.2L1172.4,704.5L1172.9,703.6L1173.4,703.0L1173.9,703.6L1174.5,705.0L1175.0,703.4L1175.5,703.9L1176.0,705.0L1176.5,704.9L1177.0,703.4L1177.5,704.8L1178.0,704.0L1178.5,703.9L1179.0,703.2L1179.5,703.1L1180.0,702.0L1180.5,703.3L1181.0,702.5L1181.5,702.1L1182.0,702.0L1182.5,703.2L1183.0,703.0L1183.5,705.4L1184.0,702.5L1184.5,703.7L1185.0,702.9L1185.5,702.2L1186.1,700.4L1186.6,703.1L1187.1,701.4L1187.6,701.3L1188.1,700.8L1188.6,700.7L1189.1,702.3L1189.6,700.9L1190.1,701.6L1190.6,703.8L1191.1,701.3L1191.6,700.2L1192.1,700.0L1192.6,701.5L1193.1,702.6L1193.6,703.7L1194.1,702.5L1194.6,702.2L1195.1,703.1L1195.6,700.2L1196.1,701.5L1196.6,701.9L1197.1,701.7L1197.6,702.3L1198.2,703.4L1198.7,702.8L1199.2,703.3L1199.7,702.6L1200.3,704.4L1200.8,703.5L1201.3,703.3L1201.8,704.9L1202.4,702.2L1202.9,703.0L1203.4,703.6L1203.9,702.8L1204.5,703.4L1205.0,703.0L1205.5,703.0L1206.0,702.7L1206.6,703.8L1207.1,703.9L1207.7,704.2L1208.2,703.6L1208.8,706.0L1209.3,705.0L1209.8,705.4L1210.4,706.0L1210.9,705.9L1211.5,703.4L1212.0,705.0L1212.5,702.6L1213.0,705.0L1213.5,702.3L1214.1,704.4L1214.6,703.4L1215.1,701.8L1215.6,701.4L1216.1,702.0L1216.6,701.1L1217.1,700.4L1217.6,699.6L1218.1,700.0L1218.6,700.5L1219.1,699.5L1219.6,699.6L1220.1,699.8L1220.6,700.0L1221.1,702.1L1221.6,702.8L1222.1,702.6L1222.6,703.4L1223.1,705.8L1223.6,703.1L1224.1,704.0L1224.7,703.7L1225.2,704.9L1225.7,705.1L1226.2,705.3L1226.7,704.8L1227.2,703.1L1227.7,704.2L1228.2,705.1L1228.7,704.6L1229.2,705.7L1229.8,705.2L1230.3,706.6L1230.8,705.9L1231.3,705.2L1231.8,705.3L1232.3,705.6L1232.8,703.5L1233.3,703.1L1233.9,704.0L1234.4,703.8L1234.9,704.0L1235.4,705.3L1235.9,703.4L1236.5,704.5L1237.0,703.7L1237.5,706.2L1238.0,704.0L1238.5,705.0L1239.1,702.7L1239.6,701.6L1240.1,703.5L1240.6,704.6L1241.1,703.9L1241.7,703.8L1242.2,702.5L1242.7,704.4L1243.2,705.7L1243.8,703.7L1244.3,704.3L1244.8,704.3L1245.3,704.5L1245.8,702.2L1246.4,702.2L1246.9,703.7L1247.4,702.7L1247.9,703.4L1248.4,702.0L1249.0,704.2L1249.5,703.3L1250.0,702.5L1250.5,703.6L1251.0,701.5L1251.6,702.7L1252.1,702.8L1252.6,700.8L1253.1,703.9L1253.7,700.1L1254.2,699.8L1254.7,701.8L1255.2,701.6L1255.7,703.4L1256.3,700.5L1256.8,700.7L1257.3,700.9L1257.8,702.5L1258.3,700.6L1258.9,700.3L1259.4,703.1L1259.9,702.5L1260.4,704.0L1260.9,701.5L1261.5,700.5L1262.0,699.9L1262.5,701.8L1263.0,701.6L1263.5,702.0L1264.1,701.5L1264.6,701.0L1265.1,699.6L1265.6,700.8L1266.2,702.1L1266.7,700.7L1267.2,701.0L1267.7,698.2L1268.2,700.6L1268.8,700.8L1269.3,700.8L1269.8,700.4L1270.3,701.4L1270.8,700.6L1271.4,701.8L1271.9,702.4L1272.4,701.4L1272.9,702.5L1273.4,701.2L1274.0,701.8L1274.5,699.9L1275.0,703.3L1275.5,698.6L1276.0,700.4L1276.6,701.6L1277.1,701.5L1277.6,702.0L1278.1,702.3L1278.7,700.7L1279.2,703.6L1279.7,702.7L1280.2,703.5L1280.7,702.1L1281.3,703.9L1281.8,702.4L1282.3,703.2L1282.8,704.0L1283.3,702.4L1283.9,702.0L1284.4,703.5L1284.9,704.8L1285.4,702.1L1285.9,703.3L1286.5,703.2L1287.0,704.8L1287.5,705.0L1288.0,705.5L1288.6,703.4L1289.1,703.7L1289.6,705.1L1290.1,704.0L1290.6,705.2L1291.2,704.0L1291.7,706.3L1292.2,704.3L1292.7,705.9L1293.2,705.9L1293.8,708.2L1294.3,706.2L1294.8,707.4L1295.3,705.8L1295.8,705.7L1296.4,705.2L1296.9,707.2L1297.4,704.1L1297.9,707.6L1298.4,706.9L1299.0,707.5L1299.5,707.3L1300.0,706.5L1300.5,705.4L1301.1,708.3L1301.6,705.7L1302.1,704.9L1302.6,705.2L1303.1,705.3L1303.7,706.7L1304.2,705.6L1304.7,704.1L1305.2,704.2L1305.7,704.1L1306.3,703.9L1306.8,702.9L1307.3,705.2L1307.8,703.3L1308.3,701.0L1308.9,702.4L1309.4,703.1L1309.9,701.6L1310.4,701.4L1310.9,702.7L1311.5,702.1L1312.0,701.1L1312.5,700.8L1313.0,702.4L1313.6,700.0L1314.1,700.6L1314.6,700.6L1315.1,702.6L1315.6,701.6L1316.2,701.1L1316.7,700.9L1317.2,700.2L1317.7,700.3L1318.2,701.4L1318.8,698.9L1319.3,699.8L1319.8,700.0L1320.3,700.8L1320.8,699.6L1321.4,703.8L1321.9,700.0L1322.4,700.7L1322.9,697.8L1323.4,700.9L1323.9,700.3L1324.4,700.1L1324.9,700.1L1325.5,700.3L1326.0,698.9L1326.5,700.7L1327.0,698.8L1327.5,701.3L1328.0,699.6L1328.5,699.0L1329.0,699.1L1329.6,698.7L1330.1,700.4L1330.6,700.9L1331.1,699.3L1331.6,699.4L1332.1,698.8L1332.6,697.5L1333.1,699.3L1333.7,700.1L1334.2,698.7L1334.7,698.9L1335.2,697.3L1335.7,697.7L1336.2,700.4L1336.7,697.6L1337.2,697.6L1337.8,698.8L1338.3,697.7L1338.8,701.6L1339.3,698.9L1339.8,700.0L1340.3,698.1L1340.8,700.3L1341.3,698.9L1341.8,699.5L1342.3,701.2L1342.9,700.0L1343.4,700.8L1343.9,698.9L1344.4,700.1L1344.9,699.2L1345.5,702.2" fill="none" stroke="#66c8d9" stroke-width="2.60" stroke-linejoin="round" stroke-linecap="round" clip-path="url(#c13)"/>
<path d="M785.3,691.2L785.8,686.7L786.4,683.6L786.9,680.4L787.4,677.4L787.9,679.2L788.5,681.8L789.0,684.9L789.5,687.2L790.1,687.7L790.6,675.3L791.1,675.4L791.6,673.5L792.2,671.8L792.7,677.7L793.2,681.7L793.8,641.7L794.3,643.7L794.8,662.1L795.4,675.7L795.9,686.9L796.4,668.4L796.9,651.4L797.5,655.5L798.0,676.2L798.5,687.6L799.1,680.8L799.6,676.3L800.1,673.0L800.6,664.2L801.2,653.4L801.7,660.8L802.2,657.7L802.8,665.6L803.3,668.6L803.8,662.1L804.4,662.1L804.9,664.0L805.4,663.6L805.9,694.4L806.5,684.4L807.0,675.4L807.5,665.9L808.1,677.0L808.6,685.3L809.1,692.7L809.6,699.0L810.2,700.7L810.7,699.4L811.2,699.4L811.8,698.6L812.3,702.0L812.8,704.2L813.4,699.6L813.9,702.2L814.4,703.3L814.9,703.0L815.5,704.1L816.0,709.1L816.5,706.2L817.1,702.2L817.6,704.0L818.1,700.3L818.6,702.5L819.2,704.0L819.7,703.1L820.2,702.0L820.8,701.1L821.3,704.3L821.8,703.9L822.4,701.3L822.9,703.6L823.4,701.3L823.9,702.2L824.5,703.0L825.0,701.4L825.5,704.7L826.1,705.0L826.6,702.4L827.1,703.9L827.6,700.2L828.2,700.9L828.7,705.0L829.2,705.1L829.8,699.2L830.3,702.6L830.8,700.9L831.4,700.3L831.9,703.3L832.4,708.1L832.9,709.3L833.5,717.9L834.0,714.4L834.5,706.4L835.1,704.1L835.6,702.4L836.1,702.4L836.6,703.3L837.2,705.6L837.7,703.0L838.2,702.9L838.8,700.8L839.3,701.3L839.8,702.3L840.4,704.1L840.9,705.0L841.4,703.5L841.9,704.9L842.5,701.6L843.0,706.2L843.5,703.2L844.1,712.5L844.6,721.6L845.1,716.7L845.6,718.1L846.2,708.7L846.7,709.7L847.2,703.3L847.8,702.8L848.3,702.3L848.8,710.8L849.4,708.1L849.9,684.8L850.4,687.4L850.9,690.9L851.5,690.0L852.0,688.0L852.5,691.8L853.1,691.0L853.6,696.7L854.1,701.2L854.6,704.5L855.2,708.4L855.7,701.2L856.2,692.0L856.8,683.7L857.3,678.9L857.8,686.3L858.4,683.6L858.9,687.7L859.4,690.6L859.9,680.2L860.5,672.6L861.0,669.7L861.5,667.8L862.1,664.5L862.6,661.0L863.1,667.8L863.6,676.0L864.2,666.2L864.7,657.9L865.2,653.2L865.8,653.9L866.3,654.0L866.8,654.3L867.4,654.5L867.9,653.2L868.4,675.8L868.9,697.5L869.5,681.4L870.0,660.5L870.5,664.8L871.1,665.7L871.6,665.8L872.1,662.7L872.6,670.2L873.2,671.4L873.7,680.6L874.2,682.2L874.8,687.6L875.3,697.5L875.8,692.2L876.4,690.2L876.9,687.1L877.4,685.1L877.9,685.7L878.5,688.7L879.0,689.7L879.5,694.6L880.1,696.3L880.6,699.8L881.1,699.3L881.6,698.0L882.2,698.9L882.7,700.4L883.2,702.4L883.8,700.9L884.3,704.8L884.8,701.0L885.4,704.5L885.9,705.4L886.4,703.8L886.9,705.2L887.5,703.7L888.0,703.6L888.5,707.3L889.1,702.6L889.6,707.3L890.1,708.6L890.6,710.3L891.2,708.8L891.7,710.8L892.2,713.1L892.8,712.0L893.3,711.5L893.8,711.8L894.4,707.4L894.9,708.0L895.4,707.7L895.9,704.8L896.5,705.3L897.0,705.2L897.5,709.6L898.1,709.9L898.6,709.4L899.1,708.2L899.6,716.2L900.2,711.7L900.7,712.4L901.2,711.8L901.8,706.7L902.3,708.6L902.8,704.4L903.4,701.9L903.9,707.8L904.4,711.4L904.9,705.9L905.5,706.3L906.0,707.8L906.5,709.4L907.1,711.3L907.6,706.2L908.1,712.8L908.6,707.6L909.2,704.0L909.7,704.4L910.2,707.4L910.8,706.3L911.3,702.5L911.8,706.2L912.4,701.4L912.9,706.6L913.4,704.9L913.9,704.6L914.5,708.1L915.4,698.8L915.9,697.1L916.5,696.6L917.0,695.5L917.5,690.1L918.1,690.5L918.6,688.3L919.1,687.0L919.6,686.7L920.2,685.1L920.7,682.2L921.2,678.9L921.8,679.7L922.3,677.5L922.8,682.7L923.3,679.7L923.8,671.8L924.3,675.8L924.8,666.2L925.4,669.0L925.9,668.5L926.4,667.9L926.9,667.8L927.4,657.8L927.9,658.2L928.4,659.2L928.9,656.0L929.4,659.1L930.0,656.5L930.6,654.5L931.5,681.7L932.3,658.7L932.8,657.4L933.3,659.2L933.8,653.3L934.3,672.8L934.9,660.2L935.4,660.1L936.0,671.1L936.5,656.1L937.1,651.2L937.6,657.7L938.2,660.2L938.7,653.4L939.3,660.0L939.9,658.5L940.3,698.5L940.8,654.6L941.3,662.1L942.0,679.4L942.6,696.2L943.2,684.0L943.8,677.0L944.4,681.2L945.1,677.3L945.6,682.5L946.1,682.1L946.7,685.3L947.2,684.0L947.8,693.4L948.3,700.8L948.6,701.4L949.1,700.6L949.6,700.0L950.2,698.3L950.7,702.5L951.2,701.7L951.8,707.1L952.3,704.5L952.8,706.0L953.4,704.1L953.9,706.5L954.4,709.1L954.9,707.1L955.5,705.6L956.0,707.7L956.5,705.0L957.1,702.3L957.6,707.4L958.1,705.4L958.6,708.4L959.2,707.4L959.7,707.9L960.2,705.5L960.8,711.1L961.3,709.9L961.8,713.6L962.4,707.1L962.9,706.9L963.4,708.2L963.9,709.0L964.5,706.8L965.0,707.3L965.5,709.8L966.1,700.3L966.6,709.6L967.1,709.2L967.6,710.9L968.2,715.7L968.7,712.3L969.2,706.8L969.8,707.9L970.3,708.0L970.8,707.1L971.4,709.4L971.9,710.6L972.4,713.7L972.9,710.1L973.5,710.6L974.0,711.5L974.5,715.2L975.1,711.1L975.6,714.6L976.1,713.5L976.6,708.3L977.2,713.0L977.7,719.1L978.2,712.7L978.8,715.7L979.3,711.3L979.8,718.1L980.4,715.1L980.9,715.2L981.4,718.4L981.9,718.1L982.5,715.5L983.0,713.9L983.5,720.3L984.1,709.4L984.6,713.4L985.1,716.7L985.6,724.8L986.2,717.0L986.7,719.8L987.2,725.3L987.8,717.8L988.3,718.5L988.8,719.9L989.4,716.9L989.9,732.1L990.4,717.6L990.9,718.4L991.5,713.3L992.0,713.0L992.5,712.4L993.1,714.6L993.6,719.2L994.1,715.1L994.6,714.4L995.2,718.0L995.7,714.5L996.2,713.1L996.8,713.5L997.3,729.6L997.8,717.0L998.4,716.9L998.9,716.4L999.4,716.5L999.9,716.7L1000.5,716.1L1001.0,724.7L1001.5,715.4L1002.1,712.2L1002.6,717.9L1003.1,720.7L1003.6,713.2L1004.2,728.9L1004.7,720.1L1005.2,722.0L1005.8,720.7L1006.3,722.7L1006.8,717.4L1007.4,717.6L1007.9,717.4L1008.4,716.7L1008.9,717.7L1009.5,712.6L1010.0,720.5L1010.5,716.0L1011.1,713.6L1011.6,719.3L1012.1,715.7L1012.6,719.2L1013.2,721.7L1013.7,727.9L1014.2,727.0L1014.8,726.9L1015.3,728.0L1015.8,733.4L1016.4,727.8L1016.9,729.6L1017.4,726.0L1017.9,729.8L1018.5,736.8L1019.0,745.5L1019.5,731.4L1020.1,738.9L1020.6,738.4L1021.1,729.0L1021.6,735.4L1022.2,740.4L1022.7,744.3L1023.2,738.6L1023.8,743.5L1024.3,740.6L1024.8,743.1L1025.4,748.5L1025.9,746.2L1026.4,739.2L1026.9,732.7L1027.5,720.7L1028.0,719.1L1028.5,711.4L1029.1,702.8L1029.6,703.2L1030.1,705.8L1030.6,707.8L1031.2,706.7L1031.7,712.8L1032.2,722.9L1032.8,728.6L1033.3,727.1L1033.8,734.9L1034.4,725.7L1034.9,733.0L1035.4,731.6L1035.9,721.5L1036.5,718.8L1037.0,726.4L1037.5,727.2L1038.1,726.0L1038.6,731.0L1039.1,724.3L1039.6,735.6L1040.2,731.1L1040.7,727.3L1041.2,729.1L1041.8,727.6L1042.3,727.1L1042.8,722.4L1043.4,718.9L1043.9,718.2L1044.4,707.2L1044.9,705.9L1045.5,705.7L1046.0,701.6L1046.5,706.1L1047.1,702.5L1047.6,702.6L1048.1,700.9L1048.6,701.6L1049.2,702.8L1049.7,704.0L1050.2,702.0L1050.8,702.8L1051.3,703.9L1051.8,704.6L1052.4,704.3L1052.9,704.0L1053.4,701.9L1053.9,703.2L1054.5,703.6L1055.0,702.6L1055.5,701.5L1056.1,700.0L1056.6,703.4L1057.1,702.0L1057.6,699.9L1058.2,699.5L1058.8,701.5L1059.4,702.1L1060.0,703.7L1060.5,701.0L1061.1,700.0L1061.6,699.7L1062.1,698.9L1062.6,700.3L1063.2,704.7L1063.7,704.8L1064.2,709.2L1064.8,712.4L1065.3,715.2L1065.8,707.9L1066.4,709.5L1066.9,704.1L1067.4,703.2L1067.9,703.8L1068.5,703.1L1069.0,704.9L1069.5,704.9L1070.1,705.3L1070.6,705.1L1071.1,707.1L1071.6,701.6L1072.2,704.8L1072.7,705.6L1073.2,703.3L1073.8,705.2L1074.3,704.9L1074.8,701.8L1075.4,703.7L1075.9,703.8L1076.4,699.2L1076.9,695.8L1077.5,697.8L1078.0,701.4L1078.5,705.6L1079.1,708.2L1079.6,709.7L1080.1,702.3L1080.6,688.3L1081.2,679.0L1081.7,683.4L1082.2,687.0L1082.8,693.2L1083.3,699.8L1083.8,698.3L1084.4,693.9L1084.9,690.0L1085.4,690.4L1085.9,691.0L1086.5,692.5L1087.0,692.6L1087.5,694.9L1088.1,693.9L1088.6,697.0L1089.1,696.1L1089.6,697.4L1090.2,698.8L1090.7,701.5L1091.2,704.2L1091.8,703.0L1092.3,702.2L1092.8,702.0L1093.4,703.6L1093.9,704.8L1094.4,704.7L1094.9,702.9L1095.5,703.7L1096.0,701.3L1096.5,702.8L1097.1,703.3L1097.6,702.9L1098.1,702.6L1098.6,703.2L1099.2,702.2L1099.7,700.6L1100.2,704.0L1100.8,702.2L1101.3,700.1L1101.8,703.0L1102.4,699.5L1102.9,702.3L1103.4,699.5L1103.9,700.6L1104.5,700.9L1105.0,697.2L1105.5,699.4L1106.1,698.5L1106.6,698.5L1107.1,700.6L1107.6,697.8L1108.2,699.8L1108.7,697.8L1109.2,698.1L1109.8,697.3L1110.3,698.3L1110.8,698.0L1111.4,699.8L1111.9,700.2L1112.4,698.7L1112.9,698.9L1113.5,698.8L1114.0,699.5L1114.5,698.5L1115.1,701.7L1115.6,701.9L1116.1,700.9L1116.6,702.1L1117.2,700.7L1117.7,699.4L1118.2,701.5L1118.8,702.3L1119.3,702.3L1119.8,700.9L1120.4,698.8L1120.9,701.8L1121.4,700.9L1121.9,701.6L1122.5,700.3L1123.0,702.8L1123.5,701.7L1124.1,701.9L1124.6,703.5L1125.1,699.1L1125.6,702.3L1126.2,699.9L1126.7,697.8L1127.2,696.7L1127.8,696.4L1128.3,697.1L1128.8,695.2L1129.4,694.7L1129.9,695.5L1130.4,691.8L1130.9,693.7L1131.5,693.9L1132.0,691.3L1132.5,695.0L1133.1,698.4L1133.6,698.7L1134.1,699.1L1134.6,698.5L1135.2,697.4L1135.7,696.0L1136.2,695.5L1136.8,692.4L1137.3,693.1L1137.8,691.0L1138.4,691.9L1138.9,690.1L1139.4,691.9L1139.9,691.6L1140.5,693.9L1141.0,690.6L1141.5,692.4L1142.1,693.3L1142.6,696.8L1143.1,697.9L1143.6,696.3L1144.2,697.3L1144.7,701.9L1145.2,701.0L1145.8,699.5L1146.3,700.6L1146.8,699.8L1147.4,693.6L1147.9,683.4L1148.4,684.7L1148.9,677.0L1149.5,682.2L1150.0,685.8L1150.5,689.4L1151.1,700.8L1151.6,685.6L1152.1,674.8L1152.6,665.8L1153.2,716.1L1153.7,706.4L1154.2,702.3L1154.8,695.1L1155.3,688.3L1155.8,688.8L1156.4,691.0L1156.9,694.6L1157.4,694.7L1157.9,688.9L1158.5,688.4L1159.0,687.3L1159.5,684.6L1160.1,687.3L1160.6,693.1L1161.1,696.3L1161.6,696.9L1162.2,697.0L1162.7,696.8L1163.2,697.3L1163.8,697.7L1164.3,695.5L1164.8,698.4L1165.4,697.5L1165.9,696.7L1166.4,704.3L1166.9,711.2L1167.5,706.9L1168.0,707.7L1168.5,711.2L1169.1,709.6L1169.6,707.0L1170.1,707.8L1170.6,704.1L1171.2,701.8L1171.7,702.2L1172.2,701.1L1172.7,703.5L1173.2,705.5L1173.7,705.4L1174.2,705.7L1174.7,706.9L1175.2,704.3L1175.7,705.4L1176.2,706.6L1176.7,705.4L1177.2,706.6L1177.7,705.6L1178.2,705.6L1178.7,703.0L1179.2,704.8L1179.7,706.3L1180.3,705.6L1180.8,707.4L1181.3,707.5L1181.8,705.4L1182.3,706.1L1182.8,704.9L1183.3,706.2L1183.8,706.8L1184.3,702.7L1184.8,705.1L1185.3,703.9L1185.8,708.7L1186.3,707.2L1186.8,703.6L1187.3,704.9L1187.8,708.0L1188.3,705.2L1188.8,706.4L1189.3,707.6L1189.8,704.4L1190.3,706.8L1190.8,703.2L1191.3,703.2L1191.8,704.2L1192.4,701.3L1192.9,705.4L1193.4,703.8L1193.9,705.0L1194.5,702.6L1195.0,702.4L1195.5,703.9L1196.1,701.8L1196.6,700.6L1197.1,702.2L1197.6,700.2L1198.2,701.9L1198.7,697.9L1199.2,696.4L1199.7,694.5L1200.2,692.7L1200.7,690.2L1201.2,688.0L1201.7,686.1L1202.3,686.4L1202.8,682.9L1203.3,683.6L1203.8,682.7L1204.4,679.5L1204.9,678.5L1205.5,675.7L1206.0,672.9L1206.6,671.6L1207.1,682.1L1207.7,685.7L1208.2,691.1L1208.8,699.1L1209.3,690.7L1209.8,682.7L1210.4,675.7L1210.9,667.4L1211.5,685.9L1212.0,704.8L1212.6,691.2L1213.1,678.8L1213.7,665.2L1214.2,651.1L1214.8,660.8L1215.3,670.7L1215.9,680.2L1216.4,689.6L1217.0,682.5L1217.5,675.6L1218.0,666.8L1218.6,657.6L1219.1,660.4L1219.7,668.7L1220.2,675.9L1220.8,676.0L1221.3,681.7L1221.9,685.5L1222.4,683.7L1223.0,667.6L1223.5,670.7L1224.1,660.3L1224.6,663.1L1225.2,676.3L1225.7,681.9L1226.3,688.4L1226.8,685.2L1227.3,687.6L1227.9,686.9L1228.4,681.8L1229.0,684.9L1229.5,682.4L1230.1,683.4L1230.6,686.8L1231.2,689.0L1231.7,691.1L1232.3,693.5L1232.8,696.8L1233.4,697.8L1233.9,701.8L1234.5,700.9L1235.0,705.9L1235.6,704.4L1236.1,703.4L1236.6,704.9L1237.2,699.8L1237.7,705.9L1238.3,702.1L1238.8,705.1L1239.4,704.8L1239.9,703.0L1240.5,702.3L1241.0,703.2L1241.6,703.1L1242.1,701.5L1242.7,702.7L1243.2,705.6L1243.8,704.6L1244.3,702.7L1244.8,705.4L1245.4,713.8L1245.9,710.1L1246.5,711.2L1247.0,709.8L1247.6,710.4L1248.1,712.0L1248.7,713.0L1249.2,710.6L1249.8,709.2L1250.3,709.4L1250.8,708.0L1251.3,705.4L1251.8,707.6L1252.3,708.8L1252.8,707.3L1253.3,710.3L1253.9,708.4L1254.4,709.5L1254.9,709.5L1255.4,712.9L1255.9,710.0L1256.4,711.6L1256.9,711.6L1257.4,709.6L1258.0,710.6L1258.5,705.9L1259.1,704.7L1259.6,707.6L1260.2,704.9L1260.7,704.0L1261.2,704.7L1261.7,704.1L1262.2,707.1L1262.7,700.9L1263.2,708.1L1263.7,705.5L1264.2,708.0L1264.8,702.8L1265.3,708.2L1265.8,707.3L1266.3,709.1L1266.8,710.9L1267.3,713.1L1267.8,711.2L1268.4,706.4L1268.9,704.7L1269.5,703.6L1270.0,701.0L1270.6,697.7L1271.1,695.2L1271.6,703.1L1272.2,719.6L1272.7,713.0L1273.3,711.8L1273.8,708.5L1274.4,704.2L1274.9,702.3L1275.5,703.8L1276.0,699.9L1276.6,695.7L1277.1,698.2L1277.7,696.3L1278.2,693.1L1278.8,691.4L1279.3,691.0L1279.9,688.2L1280.4,688.4L1280.9,687.7L1281.5,683.1L1282.0,686.1L1282.6,668.3L1283.1,663.8L1283.7,674.7L1284.2,686.8L1284.8,689.8L1285.3,693.3L1285.9,682.4L1286.4,671.1L1287.0,663.5L1287.5,651.1L1288.1,661.9L1288.6,671.5L1289.1,683.1L1289.7,691.8L1290.2,699.5L1290.8,708.7L1291.3,709.4L1291.9,704.7L1292.4,705.8L1293.0,708.6L1293.5,702.1L1294.1,694.8L1294.6,687.4L1295.2,682.3L1295.7,679.3L1296.3,674.1L1296.8,696.3L1297.4,720.2L1297.9,711.8L1298.4,707.4L1299.0,703.6L1299.5,699.0L1300.1,694.9L1300.6,692.1L1301.2,691.8L1301.7,695.9L1302.3,694.7L1302.8,695.6L1303.4,694.5L1303.9,696.2L1304.5,698.5L1305.0,701.2L1305.6,701.7L1306.1,704.4L1306.7,701.3L1307.2,707.4L1307.7,708.3L1308.3,711.6L1308.8,710.7L1309.4,708.9L1309.9,703.5L1310.5,707.0L1311.0,705.2L1311.6,703.9L1312.1,704.7L1312.6,707.1L1313.1,705.6L1313.6,706.0L1314.1,703.5L1314.7,703.7L1315.2,704.4L1315.7,704.6L1316.2,705.5L1316.7,701.2L1317.2,705.4L1317.8,705.5L1318.3,705.5L1318.8,704.1L1319.3,701.8L1319.8,702.7L1320.3,701.9L1320.8,698.9L1321.4,696.6L1321.9,700.9L1322.4,703.0L1322.9,700.5L1323.4,702.3L1324.0,703.8L1324.5,703.3L1325.0,702.7L1325.5,701.3L1326.1,701.2L1326.6,701.9L1327.1,701.5L1327.6,702.4L1328.1,701.5L1328.7,702.6L1329.2,700.2L1329.7,699.9L1330.2,699.4L1330.7,703.3L1331.3,703.6L1331.8,702.1L1332.4,700.4L1332.9,703.4L1333.5,704.5L1334.0,700.4L1334.5,702.4L1335.1,706.0L1335.6,703.7L1336.2,702.9L1336.7,702.4L1337.3,702.5L1337.8,702.8L1338.4,698.8L1338.9,698.3L1339.5,695.5L1340.0,696.6L1340.6,694.8L1341.1,695.0L1341.7,693.1L1342.2,691.2L1342.7,691.4L1343.3,689.3L1343.8,684.4L1344.4,674.5L1344.9,671.6" fill="none" stroke="#ec1c24" stroke-width="2.60" stroke-linejoin="round" stroke-linecap="round" clip-path="url(#c13)"/>
<line x1="1028.7" y1="623.8" x2="1028.7" y2="772.6" stroke="#b44ba8" stroke-width="2.5" stroke-dasharray="10 10"/>
<line x1="785.80" y1="620.00" x2="1350.10" y2="620.00" stroke="#444" stroke-width="1.60"/>
<line x1="785.80" y1="772.60" x2="1350.10" y2="772.60" stroke="#444" stroke-width="1.60"/>
<line x1="785.80" y1="619.25" x2="785.80" y2="773.35" stroke="#444" stroke-width="1.60"/>
<line x1="1350.10" y1="619.25" x2="1350.10" y2="773.35" stroke="#444" stroke-width="1.60"/>
<line x1="785.80" y1="620.00" x2="775.80" y2="620.00" stroke="#444" stroke-width="1.40"/>
<line x1="785.80" y1="624.24" x2="780.80" y2="624.24" stroke="#444" stroke-width="1.40"/>
<line x1="785.80" y1="628.48" x2="780.80" y2="628.48" stroke="#444" stroke-width="1.40"/>
<line x1="785.80" y1="632.72" x2="780.80" y2="632.72" stroke="#444" stroke-width="1.40"/>
<line x1="785.80" y1="636.96" x2="780.80" y2="636.96" stroke="#444" stroke-width="1.40"/>
<line x1="785.80" y1="641.19" x2="780.80" y2="641.19" stroke="#444" stroke-width="1.40"/>
<line x1="785.80" y1="645.43" x2="780.80" y2="645.43" stroke="#444" stroke-width="1.40"/>
<line x1="785.80" y1="649.67" x2="780.80" y2="649.67" stroke="#444" stroke-width="1.40"/>
<line x1="785.80" y1="653.91" x2="780.80" y2="653.91" stroke="#444" stroke-width="1.40"/>
<line x1="785.80" y1="658.15" x2="775.80" y2="658.15" stroke="#444" stroke-width="1.40"/>
<line x1="785.80" y1="662.39" x2="780.80" y2="662.39" stroke="#444" stroke-width="1.40"/>
<line x1="785.80" y1="666.63" x2="780.80" y2="666.63" stroke="#444" stroke-width="1.40"/>
<line x1="785.80" y1="670.87" x2="780.80" y2="670.87" stroke="#444" stroke-width="1.40"/>
<line x1="785.80" y1="675.11" x2="780.80" y2="675.11" stroke="#444" stroke-width="1.40"/>
<line x1="785.80" y1="679.34" x2="780.80" y2="679.34" stroke="#444" stroke-width="1.40"/>
<line x1="785.80" y1="683.58" x2="780.80" y2="683.58" stroke="#444" stroke-width="1.40"/>
<line x1="785.80" y1="687.82" x2="780.80" y2="687.82" stroke="#444" stroke-width="1.40"/>
<line x1="785.80" y1="692.06" x2="780.80" y2="692.06" stroke="#444" stroke-width="1.40"/>
<line x1="785.80" y1="696.30" x2="775.80" y2="696.30" stroke="#444" stroke-width="1.40"/>
<line x1="785.80" y1="700.54" x2="780.80" y2="700.54" stroke="#444" stroke-width="1.40"/>
<line x1="785.80" y1="704.78" x2="780.80" y2="704.78" stroke="#444" stroke-width="1.40"/>
<line x1="785.80" y1="709.02" x2="780.80" y2="709.02" stroke="#444" stroke-width="1.40"/>
<line x1="785.80" y1="713.26" x2="780.80" y2="713.26" stroke="#444" stroke-width="1.40"/>
<line x1="785.80" y1="717.49" x2="780.80" y2="717.49" stroke="#444" stroke-width="1.40"/>
<line x1="785.80" y1="721.73" x2="780.80" y2="721.73" stroke="#444" stroke-width="1.40"/>
<line x1="785.80" y1="725.97" x2="780.80" y2="725.97" stroke="#444" stroke-width="1.40"/>
<line x1="785.80" y1="730.21" x2="780.80" y2="730.21" stroke="#444" stroke-width="1.40"/>
<line x1="785.80" y1="734.45" x2="775.80" y2="734.45" stroke="#444" stroke-width="1.40"/>
<line x1="785.80" y1="738.69" x2="780.80" y2="738.69" stroke="#444" stroke-width="1.40"/>
<line x1="785.80" y1="742.93" x2="780.80" y2="742.93" stroke="#444" stroke-width="1.40"/>
<line x1="785.80" y1="747.17" x2="780.80" y2="747.17" stroke="#444" stroke-width="1.40"/>
<line x1="785.80" y1="751.41" x2="780.80" y2="751.41" stroke="#444" stroke-width="1.40"/>
<line x1="785.80" y1="755.64" x2="780.80" y2="755.64" stroke="#444" stroke-width="1.40"/>
<line x1="785.80" y1="759.88" x2="780.80" y2="759.88" stroke="#444" stroke-width="1.40"/>
<line x1="785.80" y1="764.12" x2="780.80" y2="764.12" stroke="#444" stroke-width="1.40"/>
<line x1="785.80" y1="768.36" x2="780.80" y2="768.36" stroke="#444" stroke-width="1.40"/>
<line x1="785.80" y1="772.60" x2="775.80" y2="772.60" stroke="#444" stroke-width="1.40"/>
<line x1="785.40" y1="772.60" x2="785.40" y2="782.10" stroke="#444" stroke-width="1.40"/>
<line x1="799.13" y1="772.60" x2="799.13" y2="777.60" stroke="#444" stroke-width="1.40"/>
<line x1="812.86" y1="772.60" x2="812.86" y2="777.60" stroke="#444" stroke-width="1.40"/>
<line x1="826.59" y1="772.60" x2="826.59" y2="777.60" stroke="#444" stroke-width="1.40"/>
<line x1="840.32" y1="772.60" x2="840.32" y2="777.60" stroke="#444" stroke-width="1.40"/>
<line x1="854.05" y1="772.60" x2="854.05" y2="782.10" stroke="#444" stroke-width="1.40"/>
<line x1="867.78" y1="772.60" x2="867.78" y2="777.60" stroke="#444" stroke-width="1.40"/>
<line x1="881.51" y1="772.60" x2="881.51" y2="777.60" stroke="#444" stroke-width="1.40"/>
<line x1="895.24" y1="772.60" x2="895.24" y2="777.60" stroke="#444" stroke-width="1.40"/>
<line x1="908.97" y1="772.60" x2="908.97" y2="777.60" stroke="#444" stroke-width="1.40"/>
<line x1="922.70" y1="772.60" x2="922.70" y2="782.10" stroke="#444" stroke-width="1.40"/>
<line x1="936.87" y1="772.60" x2="936.87" y2="777.60" stroke="#444" stroke-width="1.40"/>
<line x1="951.04" y1="772.60" x2="951.04" y2="777.60" stroke="#444" stroke-width="1.40"/>
<line x1="965.22" y1="772.60" x2="965.22" y2="777.60" stroke="#444" stroke-width="1.40"/>
<line x1="979.39" y1="772.60" x2="979.39" y2="777.60" stroke="#444" stroke-width="1.40"/>
<line x1="993.56" y1="772.60" x2="993.56" y2="782.10" stroke="#444" stroke-width="1.40"/>
<line x1="1007.73" y1="772.60" x2="1007.73" y2="777.60" stroke="#444" stroke-width="1.40"/>
<line x1="1021.90" y1="772.60" x2="1021.90" y2="777.60" stroke="#444" stroke-width="1.40"/>
<line x1="1036.08" y1="772.60" x2="1036.08" y2="777.60" stroke="#444" stroke-width="1.40"/>
<line x1="1050.25" y1="772.60" x2="1050.25" y2="777.60" stroke="#444" stroke-width="1.40"/>
<line x1="1064.42" y1="772.60" x2="1064.42" y2="782.10" stroke="#444" stroke-width="1.40"/>
<line x1="1078.59" y1="772.60" x2="1078.59" y2="777.60" stroke="#444" stroke-width="1.40"/>
<line x1="1092.76" y1="772.60" x2="1092.76" y2="777.60" stroke="#444" stroke-width="1.40"/>
<line x1="1106.94" y1="772.60" x2="1106.94" y2="777.60" stroke="#444" stroke-width="1.40"/>
<line x1="1121.11" y1="772.60" x2="1121.11" y2="777.60" stroke="#444" stroke-width="1.40"/>
<line x1="1135.28" y1="772.60" x2="1135.28" y2="782.10" stroke="#444" stroke-width="1.40"/>
<line x1="1149.45" y1="772.60" x2="1149.45" y2="777.60" stroke="#444" stroke-width="1.40"/>
<line x1="1163.62" y1="772.60" x2="1163.62" y2="777.60" stroke="#444" stroke-width="1.40"/>
<line x1="1177.80" y1="772.60" x2="1177.80" y2="777.60" stroke="#444" stroke-width="1.40"/>
<line x1="1191.97" y1="772.60" x2="1191.97" y2="777.60" stroke="#444" stroke-width="1.40"/>
<line x1="1206.14" y1="772.60" x2="1206.14" y2="782.10" stroke="#444" stroke-width="1.40"/>
<line x1="1220.31" y1="772.60" x2="1220.31" y2="777.60" stroke="#444" stroke-width="1.40"/>
<line x1="1234.48" y1="772.60" x2="1234.48" y2="777.60" stroke="#444" stroke-width="1.40"/>
<line x1="1248.66" y1="772.60" x2="1248.66" y2="777.60" stroke="#444" stroke-width="1.40"/>
<line x1="1262.83" y1="772.60" x2="1262.83" y2="777.60" stroke="#444" stroke-width="1.40"/>
<line x1="1277.00" y1="772.60" x2="1277.00" y2="782.10" stroke="#444" stroke-width="1.40"/>
<line x1="1291.17" y1="772.60" x2="1291.17" y2="777.60" stroke="#444" stroke-width="1.40"/>
<line x1="1305.34" y1="772.60" x2="1305.34" y2="777.60" stroke="#444" stroke-width="1.40"/>
<line x1="1319.52" y1="772.60" x2="1319.52" y2="777.60" stroke="#444" stroke-width="1.40"/>
<line x1="1333.69" y1="772.60" x2="1333.69" y2="777.60" stroke="#444" stroke-width="1.40"/>
<line x1="1347.86" y1="772.60" x2="1347.86" y2="777.60" stroke="#444" stroke-width="1.40"/>
<text x="768.6" y="628.9" font-family="Liberation Serif" font-weight="bold" font-size="26.0" fill="#1e1e1e" text-anchor="end">1800</text>
<text x="768.6" y="667.0" font-family="Liberation Serif" font-weight="bold" font-size="26.0" fill="#1e1e1e" text-anchor="end">900</text>
<text x="768.6" y="705.2" font-family="Liberation Serif" font-weight="bold" font-size="26.0" fill="#1e1e1e" text-anchor="end">0</text>
<text x="768.6" y="743.4" font-family="Liberation Serif" font-weight="bold" font-size="26.0" fill="#1e1e1e" text-anchor="end">-900</text>
<text x="768.6" y="781.5" font-family="Liberation Serif" font-weight="bold" font-size="26.0" fill="#1e1e1e" text-anchor="end">-1800</text>
<text x="785.1" y="813.2" font-family="Liberation Serif" font-weight="bold" font-size="26.0" fill="#1e1e1e" text-anchor="middle">4</text>
<text x="853.8" y="813.2" font-family="Liberation Serif" font-weight="bold" font-size="26.0" fill="#1e1e1e" text-anchor="middle">5</text>
<text x="922.4" y="813.2" font-family="Liberation Serif" font-weight="bold" font-size="26.0" fill="#1e1e1e" text-anchor="middle">6</text>
<text x="993.3" y="813.2" font-family="Liberation Serif" font-weight="bold" font-size="26.0" fill="#1e1e1e" text-anchor="middle">7</text>
<text x="1064.1" y="813.2" font-family="Liberation Serif" font-weight="bold" font-size="26.0" fill="#1e1e1e" text-anchor="middle">8</text>
<text x="1135.0" y="813.2" font-family="Liberation Serif" font-weight="bold" font-size="26.0" fill="#1e1e1e" text-anchor="middle">9</text>
<text x="1205.8" y="813.2" font-family="Liberation Serif" font-weight="bold" font-size="26.0" fill="#1e1e1e" text-anchor="middle">10</text>
<text x="1276.7" y="813.2" font-family="Liberation Serif" font-weight="bold" font-size="26.0" fill="#1e1e1e" text-anchor="middle">11</text>
<text x="1068.5" y="845.2" font-family="Liberation Serif" font-weight="bold" font-size="28.7" fill="#1e1e1e" text-anchor="middle">Date(July 2016)</text>
<text x="148.3" y="29.0" font-family="Liberation Sans" font-weight="bold" font-size="29.0" fill="#0a0a0a" text-anchor="start">A</text>
<text x="176.0" y="27.2" font-family="Liberation Serif" font-weight="bold" font-size="23.3" fill="#0a0a0a" text-anchor="start">Wind Speed(m/s) and Air Pressure(hPa)</text>
<text x="856.6" y="29.0" font-family="Liberation Sans" font-weight="bold" font-size="29.0" fill="#0a0a0a" text-anchor="start">B</text>
<text x="886.3" y="27.2" font-family="Liberation Serif" font-weight="bold" font-size="23.3" fill="#0a0a0a" text-anchor="start">Wind Speed(m/s) and Air Pressure(hPa)</text>
<text x="258.6" y="224.6" font-family="Liberation Sans" font-weight="bold" font-size="29.0" fill="#0a0a0a" text-anchor="start">C</text>
<text x="287.4" y="222.4" font-family="Liberation Serif" font-weight="bold" font-size="23.3" fill="#0a0a0a" text-anchor="start">Wind Direction(°)</text>
<text x="966.1" y="224.6" font-family="Liberation Sans" font-weight="bold" font-size="29.0" fill="#0a0a0a" text-anchor="start">D</text>
<text x="994.9" y="222.4" font-family="Liberation Serif" font-weight="bold" font-size="23.3" fill="#0a0a0a" text-anchor="start">Wind Direction(°)</text>
<text x="258.6" y="417.8" font-family="Liberation Sans" font-weight="bold" font-size="29.0" fill="#0a0a0a" text-anchor="start">E</text>
<text x="285.7" y="417.4" font-family="Liberation Serif" font-weight="bold" font-size="23.3" fill="#0a0a0a" text-anchor="start">Temperature(°C)</text>
<text x="966.1" y="417.8" font-family="Liberation Sans" font-weight="bold" font-size="29.0" fill="#0a0a0a" text-anchor="start">F</text>
<text x="993.2" y="417.4" font-family="Liberation Serif" font-weight="bold" font-size="23.3" fill="#0a0a0a" text-anchor="start">Temperature(°C)</text>
<text x="258.6" y="615.6" font-family="Liberation Sans" font-weight="bold" font-size="29.0" fill="#0a0a0a" text-anchor="start">G</text>
<text x="289.1" y="613.0" font-family="Liberation Serif" font-weight="bold" font-size="23.3" fill="#0a0a0a" text-anchor="start">Heat Flux(W/m<tspan dy="-10" font-size="18">2</tspan><tspan dy="10">)</tspan></text>
<text x="966.1" y="615.6" font-family="Liberation Sans" font-weight="bold" font-size="29.0" fill="#0a0a0a" text-anchor="start">H</text>
<text x="1000.0" y="613.0" font-family="Liberation Serif" font-weight="bold" font-size="23.3" fill="#0a0a0a" text-anchor="start">Heat Flux(W/m<tspan dy="-10" font-size="18">2</tspan><tspan dy="10">)</tspan></text>
<text x="33.0" y="15.8" font-family="Liberation Serif" font-weight="bold" font-size="23.0" fill="#0a0a0a" text-anchor="start">NTU1</text>
<text x="739.3" y="15.8" font-family="Liberation Serif" font-weight="bold" font-size="23.0" fill="#0a0a0a" text-anchor="start">NTU2</text>
<line x1="452.20" y1="81.90" x2="490.10" y2="81.90" stroke="#ec1c24" stroke-width="2.20"/>
<text x="495.0" y="89.4" font-family="Liberation Serif" font-weight="bold" font-size="23.0" fill="#0a0a0a" text-anchor="start">Wind speed</text>
<line x1="452.20" y1="108.40" x2="490.10" y2="108.40" stroke="#2f4d9f" stroke-width="3.00"/>
<text x="494.0" y="116.4" font-family="Liberation Serif" font-weight="bold" font-size="23.0" fill="#0a0a0a" text-anchor="start">Air Pressure</text>
<line x1="1169.40" y1="83.40" x2="1207.30" y2="83.40" stroke="#ec1c24" stroke-width="2.20"/>
<text x="1212.2" y="90.9" font-family="Liberation Serif" font-weight="bold" font-size="23.0" fill="#0a0a0a" text-anchor="start">Wind speed</text>
<line x1="1169.40" y1="109.90" x2="1207.30" y2="109.90" stroke="#2f4d9f" stroke-width="3.00"/>
<text x="1211.2" y="117.9" font-family="Liberation Serif" font-weight="bold" font-size="23.0" fill="#0a0a0a" text-anchor="start">Air Pressure</text>
<line x1="450.20" y1="446.60" x2="488.00" y2="446.60" stroke="#ec1c24" stroke-width="2.60"/>
<text x="492.0" y="455.2" font-family="Liberation Serif" font-weight="bold" font-size="23.0" fill="#0a0a0a" text-anchor="start">SST</text>
<line x1="541.20" y1="446.60" x2="580.10" y2="446.60" stroke="#2f4d9f" stroke-width="2.80"/>
<text x="583.2" y="455.2" font-family="Liberation Serif" font-weight="bold" font-size="23.0" fill="#0a0a0a" text-anchor="start">Tair</text>
<line x1="1160.20" y1="446.60" x2="1198.00" y2="446.60" stroke="#ec1c24" stroke-width="2.60"/>
<text x="1202.0" y="455.2" font-family="Liberation Serif" font-weight="bold" font-size="23.0" fill="#0a0a0a" text-anchor="start">SST</text>
<line x1="1251.20" y1="446.60" x2="1290.10" y2="446.60" stroke="#2f4d9f" stroke-width="2.80"/>
<text x="1293.2" y="455.2" font-family="Liberation Serif" font-weight="bold" font-size="23.0" fill="#0a0a0a" text-anchor="start">Tair</text>
<line x1="147.90" y1="753.40" x2="184.50" y2="753.40" stroke="#0a0a0a" stroke-width="3.00"/>
<text x="189.2" y="762.0" font-family="Liberation Serif" font-weight="bold" font-size="23.0" fill="#0a0a0a" text-anchor="start">Qlw+Qsw</text>
<line x1="295.60" y1="753.40" x2="333.10" y2="753.40" stroke="#2f4d9f" stroke-width="3.00"/>
<text x="336.9" y="762.0" font-family="Liberation Serif" font-weight="bold" font-size="23.0" fill="#0a0a0a" text-anchor="start">Qsen</text>
<line x1="395.60" y1="753.40" x2="432.20" y2="753.40" stroke="#66c8d9" stroke-width="3.00"/>
<text x="436.9" y="762.0" font-family="Liberation Serif" font-weight="bold" font-size="23.0" fill="#0a0a0a" text-anchor="start">Qlat</text>
<line x1="488.70" y1="753.40" x2="525.20" y2="753.40" stroke="#ec1c24" stroke-width="3.00"/>
<text x="530.0" y="762.0" font-family="Liberation Serif" font-weight="bold" font-size="23.0" fill="#0a0a0a" text-anchor="start">Qnet</text>
<line x1="884.50" y1="753.40" x2="921.10" y2="753.40" stroke="#0a0a0a" stroke-width="3.00"/>
<text x="925.8" y="762.0" font-family="Liberation Serif" font-weight="bold" font-size="23.0" fill="#0a0a0a" text-anchor="start">Qlw+Qsw</text>
<line x1="1032.20" y1="753.40" x2="1069.70" y2="753.40" stroke="#2f4d9f" stroke-width="3.00"/>
<text x="1073.5" y="762.0" font-family="Liberation Serif" font-weight="bold" font-size="23.0" fill="#0a0a0a" text-anchor="start">Qsen</text>
<line x1="1132.20" y1="753.40" x2="1168.80" y2="753.40" stroke="#66c8d9" stroke-width="3.00"/>
<text x="1173.5" y="762.0" font-family="Liberation Serif" font-weight="bold" font-size="23.0" fill="#0a0a0a" text-anchor="start">Qlat</text>
<line x1="1225.30" y1="753.40" x2="1261.80" y2="753.40" stroke="#ec1c24" stroke-width="3.00"/>
<text x="1266.6" y="762.0" font-family="Liberation Serif" font-weight="bold" font-size="23.0" fill="#0a0a0a" text-anchor="start">Qnet</text>
</svg></body></html>
